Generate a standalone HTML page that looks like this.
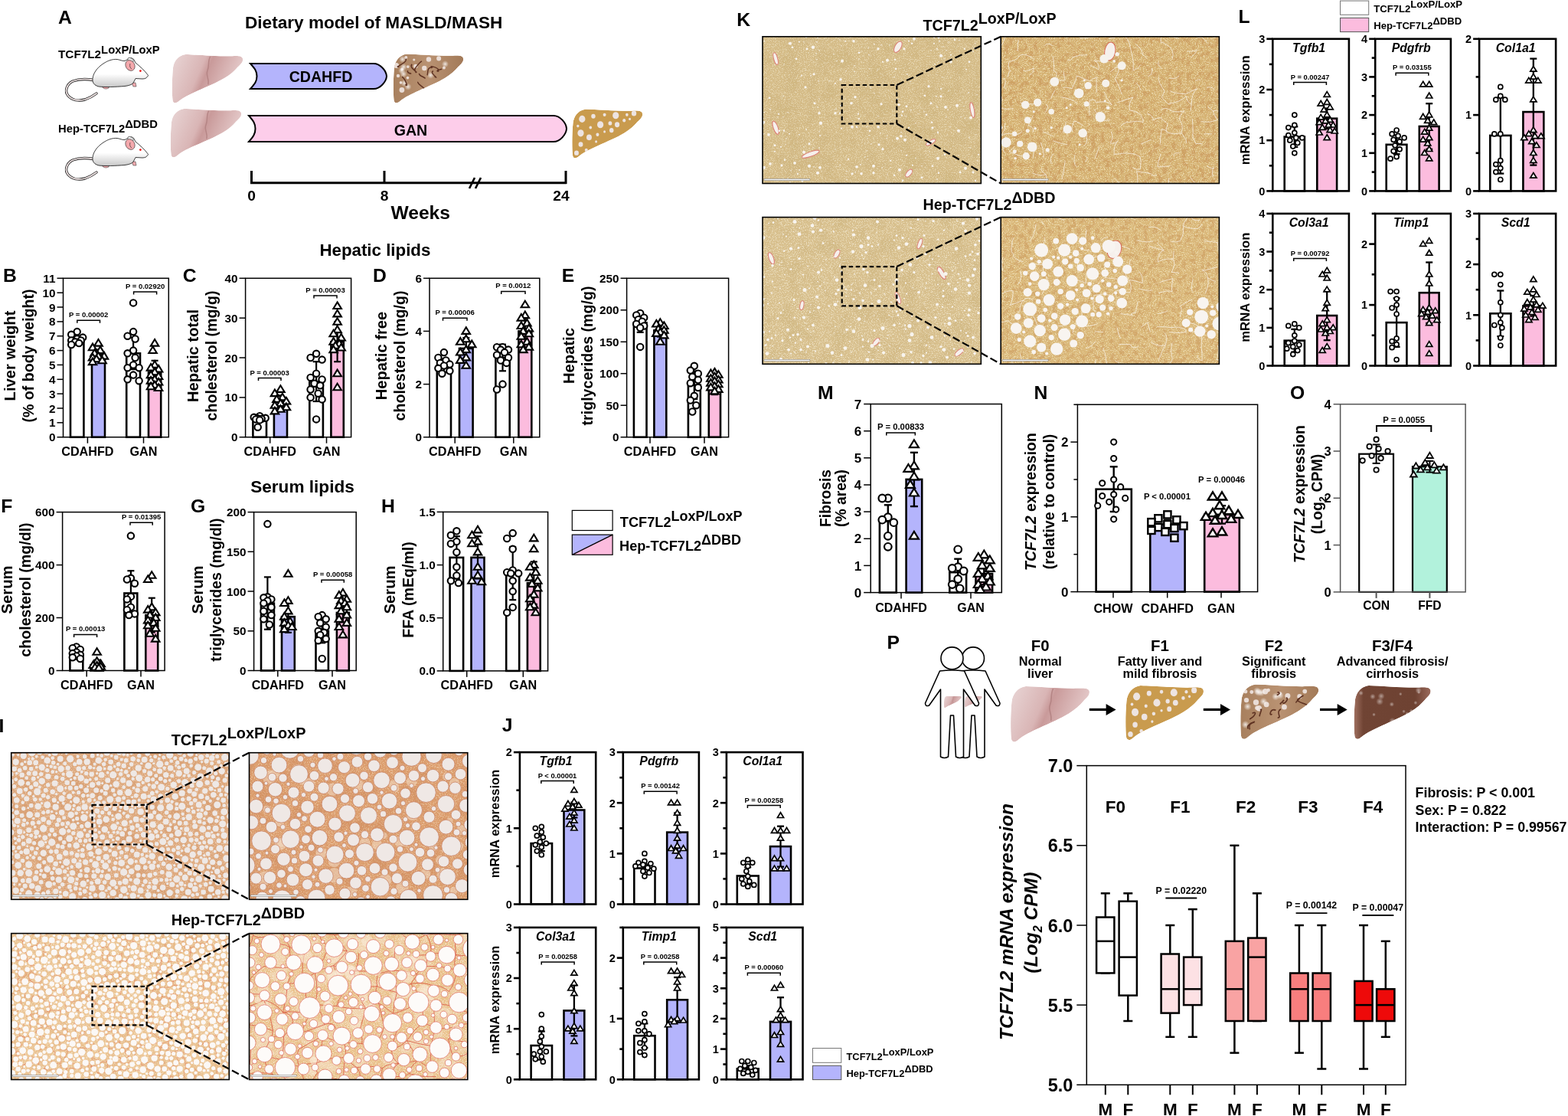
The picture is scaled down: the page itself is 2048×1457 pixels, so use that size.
<!DOCTYPE html><html><head><meta charset="utf-8"><title>Figure</title><style>html,body{margin:0;padding:0;background:#fff;}svg{display:block;}</style></head><body>
<svg width="2048" height="1457" viewBox="0 0 2048 1457" font-family="Liberation Sans, Arial, sans-serif" font-weight="bold">
<rect width="2048" height="1457" fill="#fff"/>
<defs>
<linearGradient id="lvN" x1="0" y1="0" x2="1" y2="0.3"><stop offset="0" stop-color="#e9d6d6"/><stop offset="0.45" stop-color="#d9b5b5"/><stop offset="0.55" stop-color="#c99a9a"/><stop offset="1" stop-color="#e6cccc"/></linearGradient>
<linearGradient id="lvF3" x1="0" y1="0" x2="1" y2="0"><stop offset="0" stop-color="#a07060"/><stop offset="0.12" stop-color="#704434"/><stop offset="0.8" stop-color="#6e4232"/><stop offset="1" stop-color="#9a6a5c"/></linearGradient>
<linearGradient id="lvFib" x1="0" y1="0" x2="1" y2="0"><stop offset="0" stop-color="#a8805e"/><stop offset="0.5" stop-color="#b99272"/><stop offset="1" stop-color="#a37a58"/></linearGradient>
<linearGradient id="mbody" x1="0" y1="0" x2="0" y2="1"><stop offset="0" stop-color="#ffffff"/><stop offset="0.55" stop-color="#ffffff"/><stop offset="1" stop-color="#c8c8c8"/></linearGradient>
<clipPath id="lvclip"><path d="M19,0 C35,0.5 65,3 85,2.5 C93,2 99,2 100,6 C101,11 97,14 93,18 C88,24 82,29 74,34 C64,40 50,46 36,52 C26,56.5 16,61 9,67 C5,70.5 1,70 0.5,65 C-0.5,55 -0.5,35 1,20 C2,10 8,1.5 19,0 Z"/></clipPath>
<radialGradient id="spot"><stop offset="0" stop-color="#ffffff" stop-opacity="0.8"/><stop offset="1" stop-color="#ffffff" stop-opacity="0"/></radialGradient>
<filter id="spk" x="0" y="0" width="1" height="1"><feTurbulence type="fractalNoise" baseFrequency="0.75" numOctaves="2" seed="7" result="n"/><feColorMatrix in="n" values="0 0 0 0 0 0 0 0 0 0 0 0 0 0 0 8 0 0 0 -4.3" result="a"/><feComposite in="SourceGraphic" in2="a" operator="in"/></filter>
<filter id="mot" x="0" y="0" width="1" height="1"><feTurbulence type="fractalNoise" baseFrequency="0.045" numOctaves="3" seed="3" result="n"/><feColorMatrix in="n" values="0 0 0 0 0 0 0 0 0 0 0 0 0 0 0 5 0 0 0 -2.4" result="a"/><feComposite in="SourceGraphic" in2="a" operator="in"/></filter>
<filter id="mot2" x="0" y="0" width="1" height="1"><feTurbulence type="fractalNoise" baseFrequency="0.16" numOctaves="2" seed="9" result="n"/><feColorMatrix in="n" values="0 0 0 0 0 0 0 0 0 0 0 0 0 0 0 7 0 0 0 -3.6" result="a"/><feComposite in="SourceGraphic" in2="a" operator="in"/></filter>
</defs>
<text x="76" y="30.8" font-size="24.7" text-anchor="start" fill="#000">A</text>
<text x="320" y="36.5" font-size="22.6" text-anchor="start" fill="#000">Dietary model of MASLD/MASH</text>
<text x="76" y="75.5" font-size="15.3" text-anchor="start" fill="#000">TCF7L2<tspan dy="-6" font-size="14.8">LoxP/LoxP</tspan></text>
<text x="76" y="172.5" font-size="14.8" text-anchor="start" fill="#000">Hep-TCF7L2<tspan dy="-6" font-size="14.8">&#916;DBD</tspan></text>
<g transform="translate(85,75) scale(1)">
<path d="M37,29.5 C28,28 18,28 10,31 C2,35 -1,44 4,50 C9,56 18,57 26,55 C32,53 37,50 41,47" fill="none" stroke="#222" stroke-width="3.4" stroke-linecap="round"/>
<path d="M37,29.5 C28,28 18,28 10,31 C2,35 -1,44 4,50 C9,56 18,57 26,55 C32,53 37,50 41,47" fill="none" stroke="#eee2e2" stroke-width="1.8" stroke-linecap="round"/>
<path d="M47,36 C49,41 53,42 57,40 L56,36 Z M87,33 L89,38 L93,38 L92,33 Z" fill="#f2aaae" stroke="#444" stroke-width="0.6"/>
<path d="M36,31 C35,22 42,13 50,8 C56,4 62,2 68,2.5 C72,3 75,5 78,4.5 L81,3 C84,0 88,0 90,3 L92,7 C97,11 104,17 108.6,23.5 C107,26.5 105,28 101,28 L92,27.5 C91,30 89.5,32 88.5,34 C86,36 82,37 78,37.5 C66,38.5 52,39 44,38 C40,37 37,35 36,31 Z" fill="url(#mbody)" stroke="#111" stroke-width="0.8"/>
<ellipse cx="85.5" cy="3.5" rx="4.2" ry="2.6" fill="#eeeeee" stroke="#333" stroke-width="0.6" transform="rotate(35 85.5 3.5)"/>
<ellipse cx="85" cy="10.5" rx="5.8" ry="7.2" fill="#f4a8ac" stroke="#333" stroke-width="0.6" transform="rotate(-30 85 10.5)"/>
<path d="M85,8 C84,11 85,14 87,15" fill="none" stroke="#333" stroke-width="0.7"/>
<circle cx="98.4" cy="17.6" r="1.3" fill="#e00"/>
</g>
<g transform="translate(85,178) scale(1)">
<path d="M37,29.5 C28,28 18,28 10,31 C2,35 -1,44 4,50 C9,56 18,57 26,55 C32,53 37,50 41,47" fill="none" stroke="#222" stroke-width="3.4" stroke-linecap="round"/>
<path d="M37,29.5 C28,28 18,28 10,31 C2,35 -1,44 4,50 C9,56 18,57 26,55 C32,53 37,50 41,47" fill="none" stroke="#eee2e2" stroke-width="1.8" stroke-linecap="round"/>
<path d="M47,36 C49,41 53,42 57,40 L56,36 Z M87,33 L89,38 L93,38 L92,33 Z" fill="#f2aaae" stroke="#444" stroke-width="0.6"/>
<path d="M36,31 C35,22 42,13 50,8 C56,4 62,2 68,2.5 C72,3 75,5 78,4.5 L81,3 C84,0 88,0 90,3 L92,7 C97,11 104,17 108.6,23.5 C107,26.5 105,28 101,28 L92,27.5 C91,30 89.5,32 88.5,34 C86,36 82,37 78,37.5 C66,38.5 52,39 44,38 C40,37 37,35 36,31 Z" fill="url(#mbody)" stroke="#111" stroke-width="0.8"/>
<ellipse cx="85.5" cy="3.5" rx="4.2" ry="2.6" fill="#eeeeee" stroke="#333" stroke-width="0.6" transform="rotate(35 85.5 3.5)"/>
<ellipse cx="85" cy="10.5" rx="5.8" ry="7.2" fill="#f4a8ac" stroke="#333" stroke-width="0.6" transform="rotate(-30 85 10.5)"/>
<path d="M85,8 C84,11 85,14 87,15" fill="none" stroke="#333" stroke-width="0.7"/>
<circle cx="98.4" cy="17.6" r="1.3" fill="#e00"/>
</g>
<g transform="translate(225,71) scale(0.9200,0.9143)"><g clip-path="url(#lvclip)">
<path d="M19,0 C35,0.5 65,3 85,2.5 C93,2 99,2 100,6 C101,11 97,14 93,18 C88,24 82,29 74,34 C64,40 50,46 36,52 C26,56.5 16,61 9,67 C5,70.5 1,70 0.5,65 C-0.5,55 -0.5,35 1,20 C2,10 8,1.5 19,0 Z" fill="url(#lvN)"/>
<path d="M54,3 C50,10 53,16 50,23 C47,30 53,35 51,43" fill="none" stroke="#b58585" stroke-width="1.6"/>
</g></g>
<g transform="translate(223,142) scale(0.9200,0.9143)"><g clip-path="url(#lvclip)">
<path d="M19,0 C35,0.5 65,3 85,2.5 C93,2 99,2 100,6 C101,11 97,14 93,18 C88,24 82,29 74,34 C64,40 50,46 36,52 C26,56.5 16,61 9,67 C5,70.5 1,70 0.5,65 C-0.5,55 -0.5,35 1,20 C2,10 8,1.5 19,0 Z" fill="url(#lvN)"/>
<path d="M54,3 C50,10 53,16 50,23 C47,30 53,35 51,43" fill="none" stroke="#b58585" stroke-width="1.6"/>
</g></g>
<path d="M327 83H488C496.5 83 504.5 92.2 505 99.5C504.5 106.8 496.5 116 488 116H327C332.9 109.4 335.5 106.1 335.5 99.5C335.5 92.9 332.9 89.6 327 83Z" fill="#b4b4fc" stroke="#000" stroke-width="2"/>
<path d="M325 151H723C731.5 151 739.5 160.5 740 168C739.5 175.5 731.5 185 723 185H325C330.9 178.2 333.5 174.8 333.5 168C333.5 161.2 330.9 157.8 325 151Z" fill="#fdcdea" stroke="#000" stroke-width="2"/>
<text x="419" y="106.5" font-size="19.6" text-anchor="middle" fill="#000">CDAHFD</text>
<text x="536.5" y="177" font-size="19.6" text-anchor="middle" fill="#000">GAN</text>
<g transform="translate(514,70.5) scale(0.9100,0.9214)"><g clip-path="url(#lvclip)">
<path d="M19,0 C35,0.5 65,3 85,2.5 C93,2 99,2 100,6 C101,11 97,14 93,18 C88,24 82,29 74,34 C64,40 50,46 36,52 C26,56.5 16,61 9,67 C5,70.5 1,70 0.5,65 C-0.5,55 -0.5,35 1,20 C2,10 8,1.5 19,0 Z" fill="url(#lvFib)"/>
<circle cx="20.3" cy="33.7" r="2" fill="#efe6e2" opacity="0.9"/>
<circle cx="12.3" cy="21.6" r="2.1" fill="#efe6e2" opacity="0.9"/>
<circle cx="12" cy="51" r="3.7" fill="#efe6e2" opacity="0.9"/>
<circle cx="65" cy="6.4" r="3.3" fill="#efe6e2" opacity="0.9"/>
<circle cx="17.9" cy="4.9" r="2.2" fill="#efe6e2" opacity="0.9"/>
<circle cx="50.5" cy="7.5" r="3.5" fill="#efe6e2" opacity="0.9"/>
<circle cx="20.7" cy="18" r="2" fill="#efe6e2" opacity="0.9"/>
<circle cx="6.6" cy="30.9" r="2.4" fill="#efe6e2" opacity="0.9"/>
<circle cx="44.2" cy="20.1" r="3.5" fill="#efe6e2" opacity="0.9"/>
<circle cx="31.7" cy="17.3" r="3" fill="#efe6e2" opacity="0.9"/>
<circle cx="29.4" cy="8.1" r="1.7" fill="#efe6e2" opacity="0.9"/>
<circle cx="4" cy="16.2" r="3.8" fill="#efe6e2" opacity="0.9"/>
<circle cx="10.4" cy="40.5" r="2" fill="#efe6e2" opacity="0.9"/>
<circle cx="72.5" cy="19.6" r="2.1" fill="#efe6e2" opacity="0.9"/>
<circle cx="11.7" cy="23.3" r="5" fill="url(#spot)"/>
<circle cx="14.4" cy="18.3" r="5" fill="url(#spot)"/>
<circle cx="12.9" cy="7.5" r="5" fill="url(#spot)"/>
<circle cx="74.1" cy="14.3" r="5" fill="url(#spot)"/>
<circle cx="53.2" cy="30" r="5" fill="url(#spot)"/>
<circle cx="20.8" cy="46.4" r="5" fill="url(#spot)"/>
<circle cx="15.5" cy="41.3" r="5" fill="url(#spot)"/>
<circle cx="14.3" cy="28.4" r="5" fill="url(#spot)"/>
<path d="M69.4 21.4 C62 22.4 60.7 25.4 65.3 24.2" fill="none" stroke="#5e3222" stroke-width="1.6"/>
<path d="M36.5 27.7 C37.8 32.1 40 30.3 45.7 34.5" fill="none" stroke="#5e3222" stroke-width="1.6"/>
<path d="M26.5 14.5 C21 19.9 38.1 27.1 31.2 25.9" fill="none" stroke="#5e3222" stroke-width="1.6"/>
<path d="M40.6 10.2 C35.9 12.6 27 25.7 31.3 21.8" fill="none" stroke="#5e3222" stroke-width="1.6"/>
<path d="M54.9 19.7 C47.1 16.4 49.5 33.1 48.4 28.9" fill="none" stroke="#5e3222" stroke-width="1.6"/>
<path d="M56.4 19 C47.7 16.2 63.7 17.8 64.7 23.1" fill="none" stroke="#5e3222" stroke-width="1.6"/>
<path d="M20.5 23.4 C18 28.1 30.5 28.6 21.9 26.8" fill="none" stroke="#5e3222" stroke-width="1.6"/>
<path d="M17.5 6.8 C21.1 12.3 -0.8 19.5 7.9 17.9" fill="none" stroke="#5e3222" stroke-width="1.6"/>
<path d="M12.2 32.3 C16.4 34.7 22.2 48.3 16.9 43.3" fill="none" stroke="#5e3222" stroke-width="1.6"/>
<path d="M34.9 39.3 C33.4 42.7 49.4 50.8 42.9 50" fill="none" stroke="#5e3222" stroke-width="1.6"/>
<path d="M57.2 24.1 C49.7 25.8 67.8 36.8 58.9 32.2" fill="none" stroke="#5e3222" stroke-width="1.6"/>
</g></g>
<g transform="translate(747.5,142.5) scale(0.9150,0.9214)"><g clip-path="url(#lvclip)">
<path d="M19,0 C35,0.5 65,3 85,2.5 C93,2 99,2 100,6 C101,11 97,14 93,18 C88,24 82,29 74,34 C64,40 50,46 36,52 C26,56.5 16,61 9,67 C5,70.5 1,70 0.5,65 C-0.5,55 -0.5,35 1,20 C2,10 8,1.5 19,0 Z" fill="#c99b4e"/>
<ellipse cx="14" cy="14" rx="4.5" ry="4.95" fill="#ede4e2"/>
<ellipse cx="30" cy="10" rx="3" ry="3.3000000000000003" fill="#ede4e2"/>
<ellipse cx="46" cy="8" rx="2.2" ry="2.4200000000000004" fill="#ede4e2"/>
<ellipse cx="62" cy="9" rx="4.5" ry="4.95" fill="#ede4e2"/>
<ellipse cx="78" cy="8" rx="2" ry="2.2" fill="#ede4e2"/>
<ellipse cx="88" cy="6" rx="3.5" ry="3.8500000000000005" fill="#ede4e2"/>
<ellipse cx="12" cy="34" rx="4.5" ry="4.95" fill="#ede4e2"/>
<ellipse cx="26" cy="26" rx="2" ry="2.2" fill="#ede4e2"/>
<ellipse cx="40" cy="22" rx="4.5" ry="4.95" fill="#ede4e2"/>
<ellipse cx="54" cy="20" rx="2.6" ry="2.8600000000000003" fill="#ede4e2"/>
<ellipse cx="64" cy="22" rx="3.4" ry="3.74" fill="#ede4e2"/>
<ellipse cx="74" cy="16" rx="2.2" ry="2.4200000000000004" fill="#ede4e2"/>
<ellipse cx="12" cy="50" rx="3.2" ry="3.5200000000000005" fill="#ede4e2"/>
<ellipse cx="24" cy="40" rx="3.8" ry="4.18" fill="#ede4e2"/>
<ellipse cx="36" cy="36" rx="2.2" ry="2.4200000000000004" fill="#ede4e2"/>
<ellipse cx="46" cy="32" rx="1.6" ry="1.7600000000000002" fill="#ede4e2"/>
<ellipse cx="20" cy="58" rx="2.2" ry="2.4200000000000004" fill="#ede4e2"/>
<ellipse cx="8" cy="24" rx="1.8" ry="1.9800000000000002" fill="#ede4e2"/>
<ellipse cx="56" cy="30" rx="3.0" ry="3.3000000000000003" fill="#ede4e2"/>
<ellipse cx="82" cy="14" rx="1.6" ry="1.7600000000000002" fill="#ede4e2"/>
<ellipse cx="34" cy="46" rx="1.6" ry="1.7600000000000002" fill="#ede4e2"/>
<ellipse cx="6" cy="62" rx="3.2" ry="3.5200000000000005" fill="#ede4e2"/>
</g></g>
<line x1="327" y1="238.7" x2="740" y2="238.7" stroke="#000" stroke-width="3"/>
<line x1="328.5" y1="223" x2="328.5" y2="240" stroke="#000" stroke-width="3"/>
<line x1="502" y1="223" x2="502" y2="240" stroke="#000" stroke-width="3"/>
<line x1="739" y1="223" x2="739" y2="240" stroke="#000" stroke-width="3"/>
<line x1="613" y1="246" x2="620" y2="232" stroke="#000" stroke-width="2.6"/>
<line x1="621" y1="246" x2="628" y2="232" stroke="#000" stroke-width="2.6"/>
<text x="328.5" y="262" font-size="19.2" text-anchor="middle" fill="#000">0</text>
<text x="502" y="262" font-size="19.2" text-anchor="middle" fill="#000">8</text>
<text x="733" y="262" font-size="19.2" text-anchor="middle" fill="#000">24</text>
<text x="549.2" y="286" font-size="24.6" text-anchor="middle" fill="#000">Weeks</text>
<text x="4.1" y="367.8" font-size="24.7" text-anchor="start" fill="#000">B</text>
<text x="238.8" y="367.8" font-size="24.7" text-anchor="start" fill="#000">C</text>
<text x="487" y="367.8" font-size="24.7" text-anchor="start" fill="#000">D</text>
<text x="733.7" y="367.8" font-size="24.7" text-anchor="start" fill="#000">E</text>
<text x="1.2" y="669.2" font-size="24.7" text-anchor="start" fill="#000">F</text>
<text x="249" y="669.2" font-size="24.7" text-anchor="start" fill="#000">G</text>
<text x="498" y="669.2" font-size="24.7" text-anchor="start" fill="#000">H</text>
<text x="489.9" y="333.8" font-size="22.3" text-anchor="middle" fill="#000">Hepatic lipids</text>
<text x="395" y="642.8" font-size="22.6" text-anchor="middle" fill="#000">Serum lipids</text>
<rect x="92" y="443.4" width="17.4" height="127.3" fill="#fff" stroke="#000" stroke-width="2.6"/>
<rect x="120" y="463.2" width="17" height="107.5" fill="#b4b4fc" stroke="#000" stroke-width="2.6"/>
<rect x="165.2" y="461.3" width="17.8" height="109.4" fill="#fff" stroke="#000" stroke-width="2.6"/>
<rect x="194" y="485.9" width="16.2" height="84.8" fill="#fcbcde" stroke="#000" stroke-width="2.6"/>
<rect x="82.5" y="363.3" width="137.8" height="207.4" fill="none" stroke="#000" stroke-width="1.5"/>
<line x1="74.5" y1="570.7" x2="82.5" y2="570.7" stroke="#000" stroke-width="1.5"/>
<text x="72.5" y="576.2" font-size="15.3" text-anchor="end" fill="#000">0</text>
<line x1="74.5" y1="551.8" x2="82.5" y2="551.8" stroke="#000" stroke-width="1.5"/>
<text x="72.5" y="557.4" font-size="15.3" text-anchor="end" fill="#000">1</text>
<line x1="74.5" y1="533" x2="82.5" y2="533" stroke="#000" stroke-width="1.5"/>
<text x="72.5" y="538.5" font-size="15.3" text-anchor="end" fill="#000">2</text>
<line x1="74.5" y1="514.1" x2="82.5" y2="514.1" stroke="#000" stroke-width="1.5"/>
<text x="72.5" y="519.6" font-size="15.3" text-anchor="end" fill="#000">3</text>
<line x1="74.5" y1="495.3" x2="82.5" y2="495.3" stroke="#000" stroke-width="1.5"/>
<text x="72.5" y="500.8" font-size="15.3" text-anchor="end" fill="#000">4</text>
<line x1="74.5" y1="476.4" x2="82.5" y2="476.4" stroke="#000" stroke-width="1.5"/>
<text x="72.5" y="481.9" font-size="15.3" text-anchor="end" fill="#000">5</text>
<line x1="74.5" y1="457.6" x2="82.5" y2="457.6" stroke="#000" stroke-width="1.5"/>
<text x="72.5" y="463.1" font-size="15.3" text-anchor="end" fill="#000">6</text>
<line x1="74.5" y1="438.7" x2="82.5" y2="438.7" stroke="#000" stroke-width="1.5"/>
<text x="72.5" y="444.2" font-size="15.3" text-anchor="end" fill="#000">7</text>
<line x1="74.5" y1="419.9" x2="82.5" y2="419.9" stroke="#000" stroke-width="1.5"/>
<text x="72.5" y="425.4" font-size="15.3" text-anchor="end" fill="#000">8</text>
<line x1="74.5" y1="401" x2="82.5" y2="401" stroke="#000" stroke-width="1.5"/>
<text x="72.5" y="406.5" font-size="15.3" text-anchor="end" fill="#000">9</text>
<line x1="74.5" y1="382.2" x2="82.5" y2="382.2" stroke="#000" stroke-width="1.5"/>
<text x="72.5" y="387.7" font-size="15.3" text-anchor="end" fill="#000">10</text>
<line x1="74.5" y1="363.3" x2="82.5" y2="363.3" stroke="#000" stroke-width="1.5"/>
<text x="72.5" y="368.8" font-size="15.3" text-anchor="end" fill="#000">11</text>
<line x1="114.4" y1="570.7" x2="114.4" y2="578.7" stroke="#000" stroke-width="1.5"/>
<line x1="187.5" y1="570.7" x2="187.5" y2="578.7" stroke="#000" stroke-width="1.5"/>
<text x="114.4" y="594.6" font-size="16.2" text-anchor="middle" fill="#000">CDAHFD</text>
<text x="187.5" y="594.6" font-size="16.2" text-anchor="middle" fill="#000">GAN</text>
<line x1="100.7" y1="438.7" x2="100.7" y2="448.1" stroke="#000" stroke-width="2.2"/>
<line x1="96.2" y1="438.7" x2="105.2" y2="438.7" stroke="#000" stroke-width="2.2"/>
<line x1="96.2" y1="448.1" x2="105.2" y2="448.1" stroke="#000" stroke-width="2.2"/>
<circle cx="100.7" cy="433.1" r="4.2" fill="#fff" stroke="#000" stroke-width="2.1"/>
<circle cx="93.2" cy="436.8" r="4.2" fill="#fff" stroke="#000" stroke-width="2.1"/>
<circle cx="108.2" cy="440.6" r="4.2" fill="#fff" stroke="#000" stroke-width="2.1"/>
<circle cx="100.7" cy="442.5" r="4.2" fill="#fff" stroke="#000" stroke-width="2.1"/>
<circle cx="93.2" cy="444.4" r="4.2" fill="#fff" stroke="#000" stroke-width="2.1"/>
<circle cx="105.7" cy="444.4" r="4.2" fill="#fff" stroke="#000" stroke-width="2.1"/>
<circle cx="98.2" cy="446.3" r="4.2" fill="#fff" stroke="#000" stroke-width="2.1"/>
<circle cx="103.2" cy="448.1" r="4.2" fill="#fff" stroke="#000" stroke-width="2.1"/>
<circle cx="93.2" cy="450" r="4.2" fill="#fff" stroke="#000" stroke-width="2.1"/>
<line x1="128.5" y1="456.6" x2="128.5" y2="469.8" stroke="#000" stroke-width="2.2"/>
<line x1="124" y1="456.6" x2="133" y2="456.6" stroke="#000" stroke-width="2.2"/>
<line x1="124" y1="469.8" x2="133" y2="469.8" stroke="#000" stroke-width="2.2"/>
<path d="M128.5 443L133.8 451.6L123.2 451.6Z" fill="#fff" stroke="#000" stroke-width="2.1" stroke-linejoin="miter"/>
<path d="M121 448.6L126.2 457.2L115.8 457.2Z" fill="#fff" stroke="#000" stroke-width="2.1" stroke-linejoin="miter"/>
<path d="M131 452.4L136.2 461L125.8 461Z" fill="#fff" stroke="#000" stroke-width="2.1" stroke-linejoin="miter"/>
<path d="M123.5 456.2L128.8 464.8L118.2 464.8Z" fill="#fff" stroke="#000" stroke-width="2.1" stroke-linejoin="miter"/>
<path d="M136 459.9L141.2 468.6L130.8 468.6Z" fill="#fff" stroke="#000" stroke-width="2.1" stroke-linejoin="miter"/>
<path d="M128.5 459.9L133.8 468.6L123.2 468.6Z" fill="#fff" stroke="#000" stroke-width="2.1" stroke-linejoin="miter"/>
<path d="M121 461.8L126.2 470.4L115.8 470.4Z" fill="#fff" stroke="#000" stroke-width="2.1" stroke-linejoin="miter"/>
<path d="M126 463.7L131.2 472.3L120.8 472.3Z" fill="#fff" stroke="#000" stroke-width="2.1" stroke-linejoin="miter"/>
<path d="M133.5 465.6L138.8 474.2L128.2 474.2Z" fill="#fff" stroke="#000" stroke-width="2.1" stroke-linejoin="miter"/>
<path d="M121 467.5L126.2 476.1L115.8 476.1Z" fill="#fff" stroke="#000" stroke-width="2.1" stroke-linejoin="miter"/>
<line x1="174.1" y1="440.6" x2="174.1" y2="482.1" stroke="#000" stroke-width="2.2"/>
<line x1="169.6" y1="440.6" x2="178.6" y2="440.6" stroke="#000" stroke-width="2.2"/>
<line x1="169.6" y1="482.1" x2="178.6" y2="482.1" stroke="#000" stroke-width="2.2"/>
<circle cx="174.1" cy="395.4" r="4.2" fill="#fff" stroke="#000" stroke-width="2.1"/>
<circle cx="174.1" cy="433.1" r="4.2" fill="#fff" stroke="#000" stroke-width="2.1"/>
<circle cx="166.6" cy="438.7" r="4.2" fill="#fff" stroke="#000" stroke-width="2.1"/>
<circle cx="176.6" cy="442.5" r="4.2" fill="#fff" stroke="#000" stroke-width="2.1"/>
<circle cx="174.1" cy="457.6" r="4.2" fill="#fff" stroke="#000" stroke-width="2.1"/>
<circle cx="166.6" cy="461.3" r="4.2" fill="#fff" stroke="#000" stroke-width="2.1"/>
<circle cx="176.6" cy="467" r="4.2" fill="#fff" stroke="#000" stroke-width="2.1"/>
<circle cx="174.1" cy="476.4" r="4.2" fill="#fff" stroke="#000" stroke-width="2.1"/>
<circle cx="166.6" cy="480.2" r="4.2" fill="#fff" stroke="#000" stroke-width="2.1"/>
<circle cx="181.6" cy="480.2" r="4.2" fill="#fff" stroke="#000" stroke-width="2.1"/>
<circle cx="174.1" cy="489.6" r="4.2" fill="#fff" stroke="#000" stroke-width="2.1"/>
<circle cx="166.6" cy="495.3" r="4.2" fill="#fff" stroke="#000" stroke-width="2.1"/>
<circle cx="181.6" cy="497.2" r="4.2" fill="#fff" stroke="#000" stroke-width="2.1"/>
<line x1="202.1" y1="470.8" x2="202.1" y2="500.9" stroke="#000" stroke-width="2.2"/>
<line x1="197.6" y1="470.8" x2="206.6" y2="470.8" stroke="#000" stroke-width="2.2"/>
<line x1="197.6" y1="500.9" x2="206.6" y2="500.9" stroke="#000" stroke-width="2.2"/>
<path d="M202.1 443L207.3 451.6L196.8 451.6Z" fill="#fff" stroke="#000" stroke-width="2.1" stroke-linejoin="miter"/>
<path d="M199.6 452.4L204.8 461L194.3 461Z" fill="#fff" stroke="#000" stroke-width="2.1" stroke-linejoin="miter"/>
<path d="M202.1 471.3L207.3 479.9L196.8 479.9Z" fill="#fff" stroke="#000" stroke-width="2.1" stroke-linejoin="miter"/>
<path d="M197.1 475L202.3 483.6L191.8 483.6Z" fill="#fff" stroke="#000" stroke-width="2.1" stroke-linejoin="miter"/>
<path d="M207.1 476.9L212.3 485.5L201.8 485.5Z" fill="#fff" stroke="#000" stroke-width="2.1" stroke-linejoin="miter"/>
<path d="M202.1 480.7L207.3 489.3L196.8 489.3Z" fill="#fff" stroke="#000" stroke-width="2.1" stroke-linejoin="miter"/>
<path d="M197.1 484.5L202.3 493.1L191.8 493.1Z" fill="#fff" stroke="#000" stroke-width="2.1" stroke-linejoin="miter"/>
<path d="M207.1 486.3L212.3 495L201.8 495Z" fill="#fff" stroke="#000" stroke-width="2.1" stroke-linejoin="miter"/>
<path d="M202.1 490.1L207.3 498.7L196.8 498.7Z" fill="#fff" stroke="#000" stroke-width="2.1" stroke-linejoin="miter"/>
<path d="M197.1 492L202.3 500.6L191.8 500.6Z" fill="#fff" stroke="#000" stroke-width="2.1" stroke-linejoin="miter"/>
<path d="M207.1 493.9L212.3 502.5L201.8 502.5Z" fill="#fff" stroke="#000" stroke-width="2.1" stroke-linejoin="miter"/>
<path d="M202.1 497.7L207.3 506.3L196.8 506.3Z" fill="#fff" stroke="#000" stroke-width="2.1" stroke-linejoin="miter"/>
<path d="M197.1 499.5L202.3 508.2L191.8 508.2Z" fill="#fff" stroke="#000" stroke-width="2.1" stroke-linejoin="miter"/>
<path d="M207.1 501.4L212.3 510L201.8 510Z" fill="#fff" stroke="#000" stroke-width="2.1" stroke-linejoin="miter"/>
<text transform="translate(19.6,464.5) rotate(-90)" font-size="20.2" text-anchor="middle" fill="#000">Liver weight</text>
<text transform="translate(44,464.5) rotate(-90)" font-size="19.6" text-anchor="middle" fill="#000">(% of body weight)</text>
<path d="M100.8 421.8V418.3H130.5V421.8" fill="none" stroke="#000" stroke-width="1.5"/>
<text x="115.7" y="414.3" font-size="9.5" text-anchor="middle" fill="#000">P = 0.00002</text>
<path d="M174.6 384.5V381H204.6V384.5" fill="none" stroke="#000" stroke-width="1.5"/>
<text x="189.6" y="377" font-size="9.5" text-anchor="middle" fill="#000">P = 0.02920</text>
<rect x="330.4" y="546.3" width="17.6" height="24.4" fill="#fff" stroke="#000" stroke-width="2.6"/>
<rect x="357.9" y="524" width="17.1" height="46.7" fill="#b4b4fc" stroke="#000" stroke-width="2.6"/>
<rect x="404.3" y="498.1" width="17.6" height="72.6" fill="#fff" stroke="#000" stroke-width="2.6"/>
<rect x="432.4" y="446.3" width="16.4" height="124.4" fill="#fcbcde" stroke="#000" stroke-width="2.6"/>
<rect x="320.6" y="363.3" width="138" height="207.4" fill="none" stroke="#000" stroke-width="1.5"/>
<line x1="312.6" y1="570.7" x2="320.6" y2="570.7" stroke="#000" stroke-width="1.5"/>
<text x="310.6" y="576.2" font-size="15.3" text-anchor="end" fill="#000">0</text>
<line x1="312.6" y1="518.9" x2="320.6" y2="518.9" stroke="#000" stroke-width="1.5"/>
<text x="310.6" y="524.4" font-size="15.3" text-anchor="end" fill="#000">10</text>
<line x1="312.6" y1="467" x2="320.6" y2="467" stroke="#000" stroke-width="1.5"/>
<text x="310.6" y="472.5" font-size="15.3" text-anchor="end" fill="#000">20</text>
<line x1="312.6" y1="415.2" x2="320.6" y2="415.2" stroke="#000" stroke-width="1.5"/>
<text x="310.6" y="420.7" font-size="15.3" text-anchor="end" fill="#000">30</text>
<line x1="312.6" y1="363.3" x2="320.6" y2="363.3" stroke="#000" stroke-width="1.5"/>
<text x="310.6" y="368.8" font-size="15.3" text-anchor="end" fill="#000">40</text>
<line x1="352.7" y1="570.7" x2="352.7" y2="578.7" stroke="#000" stroke-width="1.5"/>
<line x1="426.5" y1="570.7" x2="426.5" y2="578.7" stroke="#000" stroke-width="1.5"/>
<text x="352.7" y="594.6" font-size="16.2" text-anchor="middle" fill="#000">CDAHFD</text>
<text x="426.5" y="594.6" font-size="16.2" text-anchor="middle" fill="#000">GAN</text>
<line x1="339.2" y1="542.2" x2="339.2" y2="550.5" stroke="#000" stroke-width="2.2"/>
<line x1="334.7" y1="542.2" x2="343.7" y2="542.2" stroke="#000" stroke-width="2.2"/>
<line x1="334.7" y1="550.5" x2="343.7" y2="550.5" stroke="#000" stroke-width="2.2"/>
<circle cx="339.2" cy="543.2" r="4.2" fill="#fff" stroke="#000" stroke-width="2.1"/>
<circle cx="331.7" cy="544.8" r="4.2" fill="#fff" stroke="#000" stroke-width="2.1"/>
<circle cx="346.7" cy="545.8" r="4.2" fill="#fff" stroke="#000" stroke-width="2.1"/>
<circle cx="336.7" cy="546.3" r="4.2" fill="#fff" stroke="#000" stroke-width="2.1"/>
<circle cx="341.7" cy="546.8" r="4.2" fill="#fff" stroke="#000" stroke-width="2.1"/>
<circle cx="334.2" cy="547.4" r="4.2" fill="#fff" stroke="#000" stroke-width="2.1"/>
<circle cx="339.2" cy="548.4" r="4.2" fill="#fff" stroke="#000" stroke-width="2.1"/>
<circle cx="336.7" cy="557.7" r="4.2" fill="#fff" stroke="#000" stroke-width="2.1"/>
<line x1="366.4" y1="516.3" x2="366.4" y2="531.8" stroke="#000" stroke-width="2.2"/>
<line x1="361.9" y1="516.3" x2="370.9" y2="516.3" stroke="#000" stroke-width="2.2"/>
<line x1="361.9" y1="531.8" x2="370.9" y2="531.8" stroke="#000" stroke-width="2.2"/>
<path d="M366.4 503.3L371.7 511.9L361.2 511.9Z" fill="#fff" stroke="#000" stroke-width="2.1" stroke-linejoin="miter"/>
<path d="M358.9 508.5L364.2 517.1L353.7 517.1Z" fill="#fff" stroke="#000" stroke-width="2.1" stroke-linejoin="miter"/>
<path d="M368.9 513.7L374.2 522.3L363.7 522.3Z" fill="#fff" stroke="#000" stroke-width="2.1" stroke-linejoin="miter"/>
<path d="M361.4 516.3L366.7 524.9L356.2 524.9Z" fill="#fff" stroke="#000" stroke-width="2.1" stroke-linejoin="miter"/>
<path d="M373.9 518.9L379.2 527.5L368.7 527.5Z" fill="#fff" stroke="#000" stroke-width="2.1" stroke-linejoin="miter"/>
<path d="M366.4 521.5L371.7 530.1L361.2 530.1Z" fill="#fff" stroke="#000" stroke-width="2.1" stroke-linejoin="miter"/>
<path d="M358.9 524.1L364.2 532.7L353.7 532.7Z" fill="#fff" stroke="#000" stroke-width="2.1" stroke-linejoin="miter"/>
<path d="M373.9 526.6L379.2 535.3L368.7 535.3Z" fill="#fff" stroke="#000" stroke-width="2.1" stroke-linejoin="miter"/>
<path d="M366.4 529.2L371.7 537.8L361.2 537.8Z" fill="#fff" stroke="#000" stroke-width="2.1" stroke-linejoin="miter"/>
<path d="M358.9 531.8L364.2 540.4L353.7 540.4Z" fill="#fff" stroke="#000" stroke-width="2.1" stroke-linejoin="miter"/>
<line x1="413.1" y1="472.2" x2="413.1" y2="524" stroke="#000" stroke-width="2.2"/>
<line x1="408.6" y1="472.2" x2="417.6" y2="472.2" stroke="#000" stroke-width="2.2"/>
<line x1="408.6" y1="524" x2="417.6" y2="524" stroke="#000" stroke-width="2.2"/>
<circle cx="413.1" cy="461.8" r="4.2" fill="#fff" stroke="#000" stroke-width="2.1"/>
<circle cx="405.6" cy="467" r="4.2" fill="#fff" stroke="#000" stroke-width="2.1"/>
<circle cx="420.6" cy="469.6" r="4.2" fill="#fff" stroke="#000" stroke-width="2.1"/>
<circle cx="413.1" cy="487.7" r="4.2" fill="#fff" stroke="#000" stroke-width="2.1"/>
<circle cx="405.6" cy="492.9" r="4.2" fill="#fff" stroke="#000" stroke-width="2.1"/>
<circle cx="420.6" cy="495.5" r="4.2" fill="#fff" stroke="#000" stroke-width="2.1"/>
<circle cx="410.6" cy="500.7" r="4.2" fill="#fff" stroke="#000" stroke-width="2.1"/>
<circle cx="418.1" cy="503.3" r="4.2" fill="#fff" stroke="#000" stroke-width="2.1"/>
<circle cx="405.6" cy="508.5" r="4.2" fill="#fff" stroke="#000" stroke-width="2.1"/>
<circle cx="415.6" cy="513.7" r="4.2" fill="#fff" stroke="#000" stroke-width="2.1"/>
<circle cx="405.6" cy="518.9" r="4.2" fill="#fff" stroke="#000" stroke-width="2.1"/>
<circle cx="420.6" cy="521.4" r="4.2" fill="#fff" stroke="#000" stroke-width="2.1"/>
<circle cx="413.1" cy="547.4" r="4.2" fill="#fff" stroke="#000" stroke-width="2.1"/>
<line x1="440.6" y1="420.3" x2="440.6" y2="472.2" stroke="#000" stroke-width="2.2"/>
<line x1="436.1" y1="420.3" x2="445.1" y2="420.3" stroke="#000" stroke-width="2.2"/>
<line x1="436.1" y1="472.2" x2="445.1" y2="472.2" stroke="#000" stroke-width="2.2"/>
<path d="M440.6 394.4L445.9 403L435.4 403Z" fill="#fff" stroke="#000" stroke-width="2.1" stroke-linejoin="miter"/>
<path d="M440.6 404.8L445.9 413.4L435.4 413.4Z" fill="#fff" stroke="#000" stroke-width="2.1" stroke-linejoin="miter"/>
<path d="M440.6 415.2L445.9 423.8L435.4 423.8Z" fill="#fff" stroke="#000" stroke-width="2.1" stroke-linejoin="miter"/>
<path d="M440.6 425.5L445.9 434.1L435.4 434.1Z" fill="#fff" stroke="#000" stroke-width="2.1" stroke-linejoin="miter"/>
<path d="M435.6 430.7L440.9 439.3L430.4 439.3Z" fill="#fff" stroke="#000" stroke-width="2.1" stroke-linejoin="miter"/>
<path d="M445.6 435.9L450.9 444.5L440.4 444.5Z" fill="#fff" stroke="#000" stroke-width="2.1" stroke-linejoin="miter"/>
<path d="M435.6 441.1L440.9 449.7L430.4 449.7Z" fill="#fff" stroke="#000" stroke-width="2.1" stroke-linejoin="miter"/>
<path d="M443.1 443.7L448.4 452.3L437.9 452.3Z" fill="#fff" stroke="#000" stroke-width="2.1" stroke-linejoin="miter"/>
<path d="M438.1 446.3L443.4 454.9L432.9 454.9Z" fill="#fff" stroke="#000" stroke-width="2.1" stroke-linejoin="miter"/>
<path d="M445.6 448.9L450.9 457.5L440.4 457.5Z" fill="#fff" stroke="#000" stroke-width="2.1" stroke-linejoin="miter"/>
<path d="M435.6 451.5L440.9 460.1L430.4 460.1Z" fill="#fff" stroke="#000" stroke-width="2.1" stroke-linejoin="miter"/>
<path d="M440.6 482.6L445.9 491.2L435.4 491.2Z" fill="#fff" stroke="#000" stroke-width="2.1" stroke-linejoin="miter"/>
<path d="M440.6 500.7L445.9 509.3L435.4 509.3Z" fill="#fff" stroke="#000" stroke-width="2.1" stroke-linejoin="miter"/>
<text transform="translate(259,464.5) rotate(-90)" font-size="20.2" text-anchor="middle" fill="#000">Hepatic total</text>
<text transform="translate(283.4,464.5) rotate(-90)" font-size="19.6" text-anchor="middle" fill="#000">cholesterol (mg/g)</text>
<path d="M337.5 497V493.5H367V497" fill="none" stroke="#000" stroke-width="1.5"/>
<text x="352.2" y="489.5" font-size="9.5" text-anchor="middle" fill="#000">P = 0.00003</text>
<path d="M410 389.5V386H440V389.5" fill="none" stroke="#000" stroke-width="1.5"/>
<text x="425" y="382" font-size="9.5" text-anchor="middle" fill="#000">P = 0.00003</text>
<rect x="570.8" y="477.4" width="18.2" height="93.3" fill="#fff" stroke="#000" stroke-width="2.6"/>
<rect x="600" y="454.9" width="17.6" height="115.8" fill="#b4b4fc" stroke="#000" stroke-width="2.6"/>
<rect x="647.4" y="467" width="18.3" height="103.7" fill="#fff" stroke="#000" stroke-width="2.6"/>
<rect x="677.4" y="432.4" width="16.9" height="138.3" fill="#fcbcde" stroke="#000" stroke-width="2.6"/>
<rect x="561" y="363.3" width="143.8" height="207.4" fill="none" stroke="#000" stroke-width="1.5"/>
<line x1="553" y1="570.7" x2="561" y2="570.7" stroke="#000" stroke-width="1.5"/>
<text x="551" y="576.2" font-size="15.3" text-anchor="end" fill="#000">0</text>
<line x1="553" y1="501.6" x2="561" y2="501.6" stroke="#000" stroke-width="1.5"/>
<text x="551" y="507.1" font-size="15.3" text-anchor="end" fill="#000">2</text>
<line x1="553" y1="432.4" x2="561" y2="432.4" stroke="#000" stroke-width="1.5"/>
<text x="551" y="437.9" font-size="15.3" text-anchor="end" fill="#000">4</text>
<line x1="553" y1="363.3" x2="561" y2="363.3" stroke="#000" stroke-width="1.5"/>
<text x="551" y="368.8" font-size="15.3" text-anchor="end" fill="#000">6</text>
<line x1="594.2" y1="570.7" x2="594.2" y2="578.7" stroke="#000" stroke-width="1.5"/>
<line x1="670.8" y1="570.7" x2="670.8" y2="578.7" stroke="#000" stroke-width="1.5"/>
<text x="594.2" y="594.6" font-size="16.2" text-anchor="middle" fill="#000">CDAHFD</text>
<text x="670.8" y="594.6" font-size="16.2" text-anchor="middle" fill="#000">GAN</text>
<line x1="579.9" y1="468.7" x2="579.9" y2="486" stroke="#000" stroke-width="2.2"/>
<line x1="575.4" y1="468.7" x2="584.4" y2="468.7" stroke="#000" stroke-width="2.2"/>
<line x1="575.4" y1="486" x2="584.4" y2="486" stroke="#000" stroke-width="2.2"/>
<circle cx="579.9" cy="460.1" r="4.2" fill="#fff" stroke="#000" stroke-width="2.1"/>
<circle cx="572.4" cy="467" r="4.2" fill="#fff" stroke="#000" stroke-width="2.1"/>
<circle cx="582.4" cy="470.5" r="4.2" fill="#fff" stroke="#000" stroke-width="2.1"/>
<circle cx="574.9" cy="473.9" r="4.2" fill="#fff" stroke="#000" stroke-width="2.1"/>
<circle cx="587.4" cy="475.6" r="4.2" fill="#fff" stroke="#000" stroke-width="2.1"/>
<circle cx="579.9" cy="477.4" r="4.2" fill="#fff" stroke="#000" stroke-width="2.1"/>
<circle cx="572.4" cy="480.8" r="4.2" fill="#fff" stroke="#000" stroke-width="2.1"/>
<circle cx="587.4" cy="484.3" r="4.2" fill="#fff" stroke="#000" stroke-width="2.1"/>
<circle cx="577.4" cy="487.7" r="4.2" fill="#fff" stroke="#000" stroke-width="2.1"/>
<line x1="608.8" y1="441.1" x2="608.8" y2="468.7" stroke="#000" stroke-width="2.2"/>
<line x1="604.3" y1="441.1" x2="613.3" y2="441.1" stroke="#000" stroke-width="2.2"/>
<line x1="604.3" y1="468.7" x2="613.3" y2="468.7" stroke="#000" stroke-width="2.2"/>
<path d="M608.8 427.3L614 435.9L603.5 435.9Z" fill="#fff" stroke="#000" stroke-width="2.1" stroke-linejoin="miter"/>
<path d="M608.8 437.6L614 446.2L603.5 446.2Z" fill="#fff" stroke="#000" stroke-width="2.1" stroke-linejoin="miter"/>
<path d="M601.3 441.1L606.5 449.7L596 449.7Z" fill="#fff" stroke="#000" stroke-width="2.1" stroke-linejoin="miter"/>
<path d="M616.3 444.6L621.5 453.2L611 453.2Z" fill="#fff" stroke="#000" stroke-width="2.1" stroke-linejoin="miter"/>
<path d="M608.8 451.5L614 460.1L603.5 460.1Z" fill="#fff" stroke="#000" stroke-width="2.1" stroke-linejoin="miter"/>
<path d="M601.3 454.9L606.5 463.5L596 463.5Z" fill="#fff" stroke="#000" stroke-width="2.1" stroke-linejoin="miter"/>
<path d="M608.8 461.8L614 470.4L603.5 470.4Z" fill="#fff" stroke="#000" stroke-width="2.1" stroke-linejoin="miter"/>
<path d="M601.3 465.3L606.5 473.9L596 473.9Z" fill="#fff" stroke="#000" stroke-width="2.1" stroke-linejoin="miter"/>
<path d="M608.8 472.2L614 480.8L603.5 480.8Z" fill="#fff" stroke="#000" stroke-width="2.1" stroke-linejoin="miter"/>
<line x1="656.5" y1="449.7" x2="656.5" y2="484.3" stroke="#000" stroke-width="2.2"/>
<line x1="652" y1="449.7" x2="661" y2="449.7" stroke="#000" stroke-width="2.2"/>
<line x1="652" y1="484.3" x2="661" y2="484.3" stroke="#000" stroke-width="2.2"/>
<circle cx="656.5" cy="453.2" r="4.2" fill="#fff" stroke="#000" stroke-width="2.1"/>
<circle cx="649" cy="453.2" r="4.2" fill="#fff" stroke="#000" stroke-width="2.1"/>
<circle cx="664" cy="456.6" r="4.2" fill="#fff" stroke="#000" stroke-width="2.1"/>
<circle cx="654" cy="456.6" r="4.2" fill="#fff" stroke="#000" stroke-width="2.1"/>
<circle cx="659" cy="460.1" r="4.2" fill="#fff" stroke="#000" stroke-width="2.1"/>
<circle cx="649" cy="463.5" r="4.2" fill="#fff" stroke="#000" stroke-width="2.1"/>
<circle cx="664" cy="467" r="4.2" fill="#fff" stroke="#000" stroke-width="2.1"/>
<circle cx="654" cy="470.5" r="4.2" fill="#fff" stroke="#000" stroke-width="2.1"/>
<circle cx="661.5" cy="473.9" r="4.2" fill="#fff" stroke="#000" stroke-width="2.1"/>
<circle cx="656.5" cy="501.6" r="4.2" fill="#fff" stroke="#000" stroke-width="2.1"/>
<circle cx="649" cy="508.5" r="4.2" fill="#fff" stroke="#000" stroke-width="2.1"/>
<line x1="685.8" y1="415.1" x2="685.8" y2="449.7" stroke="#000" stroke-width="2.2"/>
<line x1="681.3" y1="415.1" x2="690.3" y2="415.1" stroke="#000" stroke-width="2.2"/>
<line x1="681.3" y1="449.7" x2="690.3" y2="449.7" stroke="#000" stroke-width="2.2"/>
<path d="M685.8 392.7L691.1 401.3L680.6 401.3Z" fill="#fff" stroke="#000" stroke-width="2.1" stroke-linejoin="miter"/>
<path d="M685.8 406.5L691.1 415.1L680.6 415.1Z" fill="#fff" stroke="#000" stroke-width="2.1" stroke-linejoin="miter"/>
<path d="M680.8 410L686.1 418.6L675.6 418.6Z" fill="#fff" stroke="#000" stroke-width="2.1" stroke-linejoin="miter"/>
<path d="M688.3 416.9L693.6 425.5L683.1 425.5Z" fill="#fff" stroke="#000" stroke-width="2.1" stroke-linejoin="miter"/>
<path d="M680.8 420.4L686.1 429L675.6 429Z" fill="#fff" stroke="#000" stroke-width="2.1" stroke-linejoin="miter"/>
<path d="M690.8 423.8L696.1 432.4L685.6 432.4Z" fill="#fff" stroke="#000" stroke-width="2.1" stroke-linejoin="miter"/>
<path d="M683.3 427.3L688.6 435.9L678.1 435.9Z" fill="#fff" stroke="#000" stroke-width="2.1" stroke-linejoin="miter"/>
<path d="M690.8 430.7L696.1 439.3L685.6 439.3Z" fill="#fff" stroke="#000" stroke-width="2.1" stroke-linejoin="miter"/>
<path d="M680.8 434.2L686.1 442.8L675.6 442.8Z" fill="#fff" stroke="#000" stroke-width="2.1" stroke-linejoin="miter"/>
<path d="M688.3 441.1L693.6 449.7L683.1 449.7Z" fill="#fff" stroke="#000" stroke-width="2.1" stroke-linejoin="miter"/>
<path d="M680.8 444.6L686.1 453.2L675.6 453.2Z" fill="#fff" stroke="#000" stroke-width="2.1" stroke-linejoin="miter"/>
<path d="M690.8 448L696.1 456.6L685.6 456.6Z" fill="#fff" stroke="#000" stroke-width="2.1" stroke-linejoin="miter"/>
<path d="M683.3 451.5L688.6 460.1L678.1 460.1Z" fill="#fff" stroke="#000" stroke-width="2.1" stroke-linejoin="miter"/>
<text transform="translate(505,464.5) rotate(-90)" font-size="20.2" text-anchor="middle" fill="#000">Hepatic free</text>
<text transform="translate(529.4,464.5) rotate(-90)" font-size="19.6" text-anchor="middle" fill="#000">cholesterol (mg/g)</text>
<path d="M578.5 418.8V415.3H610V418.8" fill="none" stroke="#000" stroke-width="1.5"/>
<text x="594.2" y="411.3" font-size="9.5" text-anchor="middle" fill="#000">P = 0.00006</text>
<path d="M654.7 383.9V380.4H686V383.9" fill="none" stroke="#000" stroke-width="1.5"/>
<text x="670.4" y="376.4" font-size="9.5" text-anchor="middle" fill="#000">P = 0.0012</text>
<rect x="827.9" y="421.4" width="16.6" height="149.3" fill="#fff" stroke="#000" stroke-width="2.6"/>
<rect x="854.4" y="431.3" width="15.9" height="139.4" fill="#b4b4fc" stroke="#000" stroke-width="2.6"/>
<rect x="898.9" y="502.7" width="15.9" height="68" fill="#fff" stroke="#000" stroke-width="2.6"/>
<rect x="925.8" y="508.5" width="15.2" height="62.2" fill="#fcbcde" stroke="#000" stroke-width="2.6"/>
<rect x="818.6" y="363.3" width="133" height="207.4" fill="none" stroke="#000" stroke-width="1.5"/>
<line x1="810.6" y1="570.7" x2="818.6" y2="570.7" stroke="#000" stroke-width="1.5"/>
<text x="808.6" y="576.2" font-size="15.3" text-anchor="end" fill="#000">0</text>
<line x1="810.6" y1="529.2" x2="818.6" y2="529.2" stroke="#000" stroke-width="1.5"/>
<text x="808.6" y="534.7" font-size="15.3" text-anchor="end" fill="#000">50</text>
<line x1="810.6" y1="487.7" x2="818.6" y2="487.7" stroke="#000" stroke-width="1.5"/>
<text x="808.6" y="493.2" font-size="15.3" text-anchor="end" fill="#000">100</text>
<line x1="810.6" y1="446.3" x2="818.6" y2="446.3" stroke="#000" stroke-width="1.5"/>
<text x="808.6" y="451.8" font-size="15.3" text-anchor="end" fill="#000">150</text>
<line x1="810.6" y1="404.8" x2="818.6" y2="404.8" stroke="#000" stroke-width="1.5"/>
<text x="808.6" y="410.3" font-size="15.3" text-anchor="end" fill="#000">200</text>
<line x1="810.6" y1="363.3" x2="818.6" y2="363.3" stroke="#000" stroke-width="1.5"/>
<text x="808.6" y="368.8" font-size="15.3" text-anchor="end" fill="#000">250</text>
<line x1="849" y1="570.7" x2="849" y2="578.7" stroke="#000" stroke-width="1.5"/>
<line x1="920" y1="570.7" x2="920" y2="578.7" stroke="#000" stroke-width="1.5"/>
<text x="849" y="594.6" font-size="16.2" text-anchor="middle" fill="#000">CDAHFD</text>
<text x="920" y="594.6" font-size="16.2" text-anchor="middle" fill="#000">GAN</text>
<line x1="836.2" y1="408.9" x2="836.2" y2="433.8" stroke="#000" stroke-width="2.2"/>
<line x1="831.7" y1="408.9" x2="840.7" y2="408.9" stroke="#000" stroke-width="2.2"/>
<line x1="831.7" y1="433.8" x2="840.7" y2="433.8" stroke="#000" stroke-width="2.2"/>
<circle cx="836.2" cy="408.9" r="4.2" fill="#fff" stroke="#000" stroke-width="2.1"/>
<circle cx="831.2" cy="411.4" r="4.2" fill="#fff" stroke="#000" stroke-width="2.1"/>
<circle cx="841.2" cy="414.7" r="4.2" fill="#fff" stroke="#000" stroke-width="2.1"/>
<circle cx="833.7" cy="417.2" r="4.2" fill="#fff" stroke="#000" stroke-width="2.1"/>
<circle cx="838.7" cy="419.7" r="4.2" fill="#fff" stroke="#000" stroke-width="2.1"/>
<circle cx="831.2" cy="423" r="4.2" fill="#fff" stroke="#000" stroke-width="2.1"/>
<circle cx="841.2" cy="425.5" r="4.2" fill="#fff" stroke="#000" stroke-width="2.1"/>
<circle cx="836.2" cy="428" r="4.2" fill="#fff" stroke="#000" stroke-width="2.1"/>
<circle cx="836.2" cy="452.9" r="4.2" fill="#fff" stroke="#000" stroke-width="2.1"/>
<line x1="862.3" y1="423" x2="862.3" y2="439.6" stroke="#000" stroke-width="2.2"/>
<line x1="857.8" y1="423" x2="866.8" y2="423" stroke="#000" stroke-width="2.2"/>
<line x1="857.8" y1="439.6" x2="866.8" y2="439.6" stroke="#000" stroke-width="2.2"/>
<path d="M862.3 416.2L867.6 424.8L857.1 424.8Z" fill="#fff" stroke="#000" stroke-width="2.1" stroke-linejoin="miter"/>
<path d="M857.3 417.9L862.6 426.5L852.1 426.5Z" fill="#fff" stroke="#000" stroke-width="2.1" stroke-linejoin="miter"/>
<path d="M867.3 420.4L872.6 429L862.1 429Z" fill="#fff" stroke="#000" stroke-width="2.1" stroke-linejoin="miter"/>
<path d="M859.8 424.5L865.1 433.1L854.6 433.1Z" fill="#fff" stroke="#000" stroke-width="2.1" stroke-linejoin="miter"/>
<path d="M867.3 426.2L872.6 434.8L862.1 434.8Z" fill="#fff" stroke="#000" stroke-width="2.1" stroke-linejoin="miter"/>
<path d="M862.3 428.7L867.6 437.3L857.1 437.3Z" fill="#fff" stroke="#000" stroke-width="2.1" stroke-linejoin="miter"/>
<path d="M857.3 430.3L862.6 438.9L852.1 438.9Z" fill="#fff" stroke="#000" stroke-width="2.1" stroke-linejoin="miter"/>
<path d="M867.3 432.8L872.6 441.4L862.1 441.4Z" fill="#fff" stroke="#000" stroke-width="2.1" stroke-linejoin="miter"/>
<path d="M862.3 441.1L867.6 449.7L857.1 449.7Z" fill="#fff" stroke="#000" stroke-width="2.1" stroke-linejoin="miter"/>
<line x1="906.8" y1="484.4" x2="906.8" y2="520.9" stroke="#000" stroke-width="2.2"/>
<line x1="902.3" y1="484.4" x2="911.3" y2="484.4" stroke="#000" stroke-width="2.2"/>
<line x1="902.3" y1="520.9" x2="911.3" y2="520.9" stroke="#000" stroke-width="2.2"/>
<circle cx="906.8" cy="477.8" r="4.2" fill="#fff" stroke="#000" stroke-width="2.1"/>
<circle cx="901.8" cy="483.6" r="4.2" fill="#fff" stroke="#000" stroke-width="2.1"/>
<circle cx="911.8" cy="487.7" r="4.2" fill="#fff" stroke="#000" stroke-width="2.1"/>
<circle cx="904.3" cy="491.9" r="4.2" fill="#fff" stroke="#000" stroke-width="2.1"/>
<circle cx="911.8" cy="496" r="4.2" fill="#fff" stroke="#000" stroke-width="2.1"/>
<circle cx="901.8" cy="500.2" r="4.2" fill="#fff" stroke="#000" stroke-width="2.1"/>
<circle cx="911.8" cy="506" r="4.2" fill="#fff" stroke="#000" stroke-width="2.1"/>
<circle cx="906.8" cy="516.8" r="4.2" fill="#fff" stroke="#000" stroke-width="2.1"/>
<circle cx="901.8" cy="522.6" r="4.2" fill="#fff" stroke="#000" stroke-width="2.1"/>
<circle cx="909.3" cy="529.2" r="4.2" fill="#fff" stroke="#000" stroke-width="2.1"/>
<circle cx="904.3" cy="537.5" r="4.2" fill="#fff" stroke="#000" stroke-width="2.1"/>
<line x1="933.4" y1="501.8" x2="933.4" y2="515.1" stroke="#000" stroke-width="2.2"/>
<line x1="928.9" y1="501.8" x2="937.9" y2="501.8" stroke="#000" stroke-width="2.2"/>
<line x1="928.9" y1="515.1" x2="937.9" y2="515.1" stroke="#000" stroke-width="2.2"/>
<path d="M933.4 480.9L938.6 489.5L928.1 489.5Z" fill="#fff" stroke="#000" stroke-width="2.1" stroke-linejoin="miter"/>
<path d="M928.4 482.6L933.6 491.2L923.1 491.2Z" fill="#fff" stroke="#000" stroke-width="2.1" stroke-linejoin="miter"/>
<path d="M938.4 484.2L943.6 492.8L933.1 492.8Z" fill="#fff" stroke="#000" stroke-width="2.1" stroke-linejoin="miter"/>
<path d="M933.4 486.7L938.6 495.3L928.1 495.3Z" fill="#fff" stroke="#000" stroke-width="2.1" stroke-linejoin="miter"/>
<path d="M928.4 489.2L933.6 497.8L923.1 497.8Z" fill="#fff" stroke="#000" stroke-width="2.1" stroke-linejoin="miter"/>
<path d="M938.4 490.9L943.6 499.5L933.1 499.5Z" fill="#fff" stroke="#000" stroke-width="2.1" stroke-linejoin="miter"/>
<path d="M933.4 492.5L938.6 501.1L928.1 501.1Z" fill="#fff" stroke="#000" stroke-width="2.1" stroke-linejoin="miter"/>
<path d="M928.4 495L933.6 503.6L923.1 503.6Z" fill="#fff" stroke="#000" stroke-width="2.1" stroke-linejoin="miter"/>
<path d="M938.4 496.7L943.6 505.3L933.1 505.3Z" fill="#fff" stroke="#000" stroke-width="2.1" stroke-linejoin="miter"/>
<path d="M933.4 499.2L938.6 507.8L928.1 507.8Z" fill="#fff" stroke="#000" stroke-width="2.1" stroke-linejoin="miter"/>
<path d="M928.4 500.8L933.6 509.4L923.1 509.4Z" fill="#fff" stroke="#000" stroke-width="2.1" stroke-linejoin="miter"/>
<path d="M938.4 503.3L943.6 511.9L933.1 511.9Z" fill="#fff" stroke="#000" stroke-width="2.1" stroke-linejoin="miter"/>
<path d="M933.4 505.8L938.6 514.4L928.1 514.4Z" fill="#fff" stroke="#000" stroke-width="2.1" stroke-linejoin="miter"/>
<text transform="translate(750,464.5) rotate(-90)" font-size="20.2" text-anchor="middle" fill="#000">Hepatic</text>
<text transform="translate(774.4,464.5) rotate(-90)" font-size="19.6" text-anchor="middle" fill="#000">triglycerides (mg/g)</text>
<rect x="91.4" y="854.8" width="16.9" height="20.7" fill="#fff" stroke="#000" stroke-width="2.6"/>
<rect x="118.4" y="868.6" width="16.4" height="6.9" fill="#b4b4fc" stroke="#000" stroke-width="2.6"/>
<rect x="162.4" y="774.5" width="16.9" height="101" fill="#fff" stroke="#000" stroke-width="2.6"/>
<rect x="190.3" y="803.1" width="15.9" height="72.4" fill="#fcbcde" stroke="#000" stroke-width="2.6"/>
<rect x="81.6" y="668.6" width="133.5" height="206.9" fill="none" stroke="#000" stroke-width="1.5"/>
<line x1="73.6" y1="875.5" x2="81.6" y2="875.5" stroke="#000" stroke-width="1.5"/>
<text x="71.6" y="881" font-size="15.3" text-anchor="end" fill="#000">0</text>
<line x1="73.6" y1="806.5" x2="81.6" y2="806.5" stroke="#000" stroke-width="1.5"/>
<text x="71.6" y="812" font-size="15.3" text-anchor="end" fill="#000">200</text>
<line x1="73.6" y1="737.6" x2="81.6" y2="737.6" stroke="#000" stroke-width="1.5"/>
<text x="71.6" y="743.1" font-size="15.3" text-anchor="end" fill="#000">400</text>
<line x1="73.6" y1="668.6" x2="81.6" y2="668.6" stroke="#000" stroke-width="1.5"/>
<text x="71.6" y="674.1" font-size="15.3" text-anchor="end" fill="#000">600</text>
<line x1="113.2" y1="875.5" x2="113.2" y2="883.5" stroke="#000" stroke-width="1.5"/>
<line x1="184" y1="875.5" x2="184" y2="883.5" stroke="#000" stroke-width="1.5"/>
<text x="113.2" y="899.6" font-size="16.2" text-anchor="middle" fill="#000">CDAHFD</text>
<text x="184" y="899.6" font-size="16.2" text-anchor="middle" fill="#000">GAN</text>
<line x1="99.8" y1="849.6" x2="99.8" y2="860" stroke="#000" stroke-width="2.2"/>
<line x1="95.3" y1="849.6" x2="104.3" y2="849.6" stroke="#000" stroke-width="2.2"/>
<line x1="95.3" y1="860" x2="104.3" y2="860" stroke="#000" stroke-width="2.2"/>
<circle cx="99.8" cy="844.5" r="4.2" fill="#fff" stroke="#000" stroke-width="2.1"/>
<circle cx="94.8" cy="846.2" r="4.2" fill="#fff" stroke="#000" stroke-width="2.1"/>
<circle cx="104.8" cy="847.9" r="4.2" fill="#fff" stroke="#000" stroke-width="2.1"/>
<circle cx="99.8" cy="851.4" r="4.2" fill="#fff" stroke="#000" stroke-width="2.1"/>
<circle cx="94.8" cy="853.1" r="4.2" fill="#fff" stroke="#000" stroke-width="2.1"/>
<circle cx="104.8" cy="854.8" r="4.2" fill="#fff" stroke="#000" stroke-width="2.1"/>
<circle cx="99.8" cy="856.5" r="4.2" fill="#fff" stroke="#000" stroke-width="2.1"/>
<circle cx="94.8" cy="858.3" r="4.2" fill="#fff" stroke="#000" stroke-width="2.1"/>
<circle cx="104.8" cy="860" r="4.2" fill="#fff" stroke="#000" stroke-width="2.1"/>
<line x1="126.6" y1="861.7" x2="126.6" y2="875.5" stroke="#000" stroke-width="2.2"/>
<line x1="122.1" y1="861.7" x2="131.1" y2="861.7" stroke="#000" stroke-width="2.2"/>
<line x1="122.1" y1="875.5" x2="131.1" y2="875.5" stroke="#000" stroke-width="2.2"/>
<path d="M126.6 846.2L131.9 854.8L121.4 854.8Z" fill="#fff" stroke="#000" stroke-width="2.1" stroke-linejoin="miter"/>
<path d="M126.6 858.3L131.9 866.9L121.4 866.9Z" fill="#fff" stroke="#000" stroke-width="2.1" stroke-linejoin="miter"/>
<path d="M131.6 861.7L136.9 870.3L126.4 870.3Z" fill="#fff" stroke="#000" stroke-width="2.1" stroke-linejoin="miter"/>
<path d="M121.6 863.4L126.9 872L116.4 872Z" fill="#fff" stroke="#000" stroke-width="2.1" stroke-linejoin="miter"/>
<path d="M126.6 864.1L131.9 872.7L121.4 872.7Z" fill="#fff" stroke="#000" stroke-width="2.1" stroke-linejoin="miter"/>
<path d="M131.6 865.2L136.9 873.8L126.4 873.8Z" fill="#fff" stroke="#000" stroke-width="2.1" stroke-linejoin="miter"/>
<path d="M124.1 866.2L129.4 874.8L118.9 874.8Z" fill="#fff" stroke="#000" stroke-width="2.1" stroke-linejoin="miter"/>
<path d="M129.1 866.9L134.4 875.5L123.9 875.5Z" fill="#fff" stroke="#000" stroke-width="2.1" stroke-linejoin="miter"/>
<line x1="170.9" y1="745.2" x2="170.9" y2="803.8" stroke="#000" stroke-width="2.2"/>
<line x1="166.4" y1="745.2" x2="175.4" y2="745.2" stroke="#000" stroke-width="2.2"/>
<line x1="166.4" y1="803.8" x2="175.4" y2="803.8" stroke="#000" stroke-width="2.2"/>
<circle cx="170.9" cy="699.6" r="4.2" fill="#fff" stroke="#000" stroke-width="2.1"/>
<circle cx="170.9" cy="754.8" r="4.2" fill="#fff" stroke="#000" stroke-width="2.1"/>
<circle cx="165.9" cy="756.5" r="4.2" fill="#fff" stroke="#000" stroke-width="2.1"/>
<circle cx="175.9" cy="761.7" r="4.2" fill="#fff" stroke="#000" stroke-width="2.1"/>
<circle cx="170.9" cy="778.9" r="4.2" fill="#fff" stroke="#000" stroke-width="2.1"/>
<circle cx="165.9" cy="782.4" r="4.2" fill="#fff" stroke="#000" stroke-width="2.1"/>
<circle cx="170.9" cy="792.7" r="4.2" fill="#fff" stroke="#000" stroke-width="2.1"/>
<circle cx="165.9" cy="796.2" r="4.2" fill="#fff" stroke="#000" stroke-width="2.1"/>
<circle cx="175.9" cy="801.4" r="4.2" fill="#fff" stroke="#000" stroke-width="2.1"/>
<circle cx="168.4" cy="803.1" r="4.2" fill="#fff" stroke="#000" stroke-width="2.1"/>
<line x1="198.2" y1="780.7" x2="198.2" y2="825.5" stroke="#000" stroke-width="2.2"/>
<line x1="193.8" y1="780.7" x2="202.8" y2="780.7" stroke="#000" stroke-width="2.2"/>
<line x1="193.8" y1="825.5" x2="202.8" y2="825.5" stroke="#000" stroke-width="2.2"/>
<path d="M198.2 746.2L203.5 754.8L193 754.8Z" fill="#fff" stroke="#000" stroke-width="2.1" stroke-linejoin="miter"/>
<path d="M193.2 751.4L198.5 760L188 760Z" fill="#fff" stroke="#000" stroke-width="2.1" stroke-linejoin="miter"/>
<path d="M198.2 787.6L203.5 796.2L193 796.2Z" fill="#fff" stroke="#000" stroke-width="2.1" stroke-linejoin="miter"/>
<path d="M193.2 791L198.5 799.6L188 799.6Z" fill="#fff" stroke="#000" stroke-width="2.1" stroke-linejoin="miter"/>
<path d="M203.2 794.5L208.5 803.1L198 803.1Z" fill="#fff" stroke="#000" stroke-width="2.1" stroke-linejoin="miter"/>
<path d="M195.8 797.9L201 806.5L190.5 806.5Z" fill="#fff" stroke="#000" stroke-width="2.1" stroke-linejoin="miter"/>
<path d="M203.2 801.4L208.5 810L198 810Z" fill="#fff" stroke="#000" stroke-width="2.1" stroke-linejoin="miter"/>
<path d="M193.2 804.8L198.5 813.4L188 813.4Z" fill="#fff" stroke="#000" stroke-width="2.1" stroke-linejoin="miter"/>
<path d="M200.8 808.3L206 816.9L195.5 816.9Z" fill="#fff" stroke="#000" stroke-width="2.1" stroke-linejoin="miter"/>
<path d="M193.2 811.7L198.5 820.3L188 820.3Z" fill="#fff" stroke="#000" stroke-width="2.1" stroke-linejoin="miter"/>
<path d="M203.2 815.2L208.5 823.8L198 823.8Z" fill="#fff" stroke="#000" stroke-width="2.1" stroke-linejoin="miter"/>
<path d="M195.8 822.1L201 830.7L190.5 830.7Z" fill="#fff" stroke="#000" stroke-width="2.1" stroke-linejoin="miter"/>
<path d="M203.2 829L208.5 837.6L198 837.6Z" fill="#fff" stroke="#000" stroke-width="2.1" stroke-linejoin="miter"/>
<text transform="translate(15.5,770) rotate(-90)" font-size="20.2" text-anchor="middle" fill="#000">Serum</text>
<text transform="translate(39.9,770) rotate(-90)" font-size="19.6" text-anchor="middle" fill="#000">cholesterol (mg/dl)</text>
<path d="M96.6 831.9V828.4H126.6V831.9" fill="none" stroke="#000" stroke-width="1.5"/>
<text x="111.6" y="824.4" font-size="9.5" text-anchor="middle" fill="#000">P = 0.00013</text>
<path d="M170 685.7V682.2H199.2V685.7" fill="none" stroke="#000" stroke-width="1.5"/>
<text x="184.6" y="678.2" font-size="9.5" text-anchor="middle" fill="#000">P = 0.01395</text>
<rect x="341" y="787.6" width="16.9" height="87.9" fill="#fff" stroke="#000" stroke-width="2.6"/>
<rect x="368" y="805.2" width="16.8" height="70.3" fill="#b4b4fc" stroke="#000" stroke-width="2.6"/>
<rect x="412.5" y="823.8" width="16.4" height="51.7" fill="#fff" stroke="#000" stroke-width="2.6"/>
<rect x="439.9" y="800" width="15.9" height="75.5" fill="#fcbcde" stroke="#000" stroke-width="2.6"/>
<rect x="331.6" y="668.6" width="133.6" height="206.9" fill="none" stroke="#000" stroke-width="1.5"/>
<line x1="323.6" y1="875.5" x2="331.6" y2="875.5" stroke="#000" stroke-width="1.5"/>
<text x="321.6" y="881" font-size="15.3" text-anchor="end" fill="#000">0</text>
<line x1="323.6" y1="823.8" x2="331.6" y2="823.8" stroke="#000" stroke-width="1.5"/>
<text x="321.6" y="829.3" font-size="15.3" text-anchor="end" fill="#000">50</text>
<line x1="323.6" y1="772" x2="331.6" y2="772" stroke="#000" stroke-width="1.5"/>
<text x="321.6" y="777.6" font-size="15.3" text-anchor="end" fill="#000">100</text>
<line x1="323.6" y1="720.3" x2="331.6" y2="720.3" stroke="#000" stroke-width="1.5"/>
<text x="321.6" y="725.8" font-size="15.3" text-anchor="end" fill="#000">150</text>
<line x1="323.6" y1="668.6" x2="331.6" y2="668.6" stroke="#000" stroke-width="1.5"/>
<text x="321.6" y="674.1" font-size="15.3" text-anchor="end" fill="#000">200</text>
<line x1="362.8" y1="875.5" x2="362.8" y2="883.5" stroke="#000" stroke-width="1.5"/>
<line x1="434" y1="875.5" x2="434" y2="883.5" stroke="#000" stroke-width="1.5"/>
<text x="362.8" y="899.6" font-size="16.2" text-anchor="middle" fill="#000">CDAHFD</text>
<text x="434" y="899.6" font-size="16.2" text-anchor="middle" fill="#000">GAN</text>
<line x1="349.4" y1="753.4" x2="349.4" y2="821.7" stroke="#000" stroke-width="2.2"/>
<line x1="344.9" y1="753.4" x2="353.9" y2="753.4" stroke="#000" stroke-width="2.2"/>
<line x1="344.9" y1="821.7" x2="353.9" y2="821.7" stroke="#000" stroke-width="2.2"/>
<circle cx="349.4" cy="684.1" r="4.2" fill="#fff" stroke="#000" stroke-width="2.1"/>
<circle cx="349.4" cy="779.3" r="4.2" fill="#fff" stroke="#000" stroke-width="2.1"/>
<circle cx="344.4" cy="780.3" r="4.2" fill="#fff" stroke="#000" stroke-width="2.1"/>
<circle cx="354.4" cy="782.4" r="4.2" fill="#fff" stroke="#000" stroke-width="2.1"/>
<circle cx="349.4" cy="784.5" r="4.2" fill="#fff" stroke="#000" stroke-width="2.1"/>
<circle cx="344.4" cy="787.6" r="4.2" fill="#fff" stroke="#000" stroke-width="2.1"/>
<circle cx="354.4" cy="792.7" r="4.2" fill="#fff" stroke="#000" stroke-width="2.1"/>
<circle cx="344.4" cy="797.9" r="4.2" fill="#fff" stroke="#000" stroke-width="2.1"/>
<circle cx="354.4" cy="803.1" r="4.2" fill="#fff" stroke="#000" stroke-width="2.1"/>
<circle cx="344.4" cy="808.3" r="4.2" fill="#fff" stroke="#000" stroke-width="2.1"/>
<circle cx="351.9" cy="815.5" r="4.2" fill="#fff" stroke="#000" stroke-width="2.1"/>
<line x1="376.4" y1="784.5" x2="376.4" y2="825.8" stroke="#000" stroke-width="2.2"/>
<line x1="371.9" y1="784.5" x2="380.9" y2="784.5" stroke="#000" stroke-width="2.2"/>
<line x1="371.9" y1="825.8" x2="380.9" y2="825.8" stroke="#000" stroke-width="2.2"/>
<path d="M376.4 744.1L381.6 752.7L371.1 752.7Z" fill="#fff" stroke="#000" stroke-width="2.1" stroke-linejoin="miter"/>
<path d="M376.4 779.3L381.6 787.9L371.1 787.9Z" fill="#fff" stroke="#000" stroke-width="2.1" stroke-linejoin="miter"/>
<path d="M371.4 782.4L376.6 791L366.1 791Z" fill="#fff" stroke="#000" stroke-width="2.1" stroke-linejoin="miter"/>
<path d="M376.4 792.7L381.6 801.4L371.1 801.4Z" fill="#fff" stroke="#000" stroke-width="2.1" stroke-linejoin="miter"/>
<path d="M371.4 800L376.6 808.6L366.1 808.6Z" fill="#fff" stroke="#000" stroke-width="2.1" stroke-linejoin="miter"/>
<path d="M378.9 806.2L384.1 814.8L373.6 814.8Z" fill="#fff" stroke="#000" stroke-width="2.1" stroke-linejoin="miter"/>
<path d="M371.4 808.3L376.6 816.9L366.1 816.9Z" fill="#fff" stroke="#000" stroke-width="2.1" stroke-linejoin="miter"/>
<path d="M376.4 811.4L381.6 820L371.1 820Z" fill="#fff" stroke="#000" stroke-width="2.1" stroke-linejoin="miter"/>
<path d="M381.4 813.4L386.6 822L376.1 822Z" fill="#fff" stroke="#000" stroke-width="2.1" stroke-linejoin="miter"/>
<path d="M371.4 816.5L376.6 825.1L366.1 825.1Z" fill="#fff" stroke="#000" stroke-width="2.1" stroke-linejoin="miter"/>
<line x1="420.7" y1="808.3" x2="420.7" y2="839.3" stroke="#000" stroke-width="2.2"/>
<line x1="416.2" y1="808.3" x2="425.2" y2="808.3" stroke="#000" stroke-width="2.2"/>
<line x1="416.2" y1="839.3" x2="425.2" y2="839.3" stroke="#000" stroke-width="2.2"/>
<circle cx="420.7" cy="803.1" r="4.2" fill="#fff" stroke="#000" stroke-width="2.1"/>
<circle cx="415.7" cy="805.2" r="4.2" fill="#fff" stroke="#000" stroke-width="2.1"/>
<circle cx="425.7" cy="808.3" r="4.2" fill="#fff" stroke="#000" stroke-width="2.1"/>
<circle cx="418.2" cy="813.4" r="4.2" fill="#fff" stroke="#000" stroke-width="2.1"/>
<circle cx="425.7" cy="818.6" r="4.2" fill="#fff" stroke="#000" stroke-width="2.1"/>
<circle cx="415.7" cy="823.8" r="4.2" fill="#fff" stroke="#000" stroke-width="2.1"/>
<circle cx="423.2" cy="825.8" r="4.2" fill="#fff" stroke="#000" stroke-width="2.1"/>
<circle cx="418.2" cy="828.9" r="4.2" fill="#fff" stroke="#000" stroke-width="2.1"/>
<circle cx="425.7" cy="834.1" r="4.2" fill="#fff" stroke="#000" stroke-width="2.1"/>
<circle cx="415.7" cy="836.2" r="4.2" fill="#fff" stroke="#000" stroke-width="2.1"/>
<circle cx="420.7" cy="860" r="4.2" fill="#fff" stroke="#000" stroke-width="2.1"/>
<line x1="447.9" y1="787.6" x2="447.9" y2="812.4" stroke="#000" stroke-width="2.2"/>
<line x1="443.4" y1="787.6" x2="452.4" y2="787.6" stroke="#000" stroke-width="2.2"/>
<line x1="443.4" y1="812.4" x2="452.4" y2="812.4" stroke="#000" stroke-width="2.2"/>
<path d="M447.9 769L453.1 777.6L442.6 777.6Z" fill="#fff" stroke="#000" stroke-width="2.1" stroke-linejoin="miter"/>
<path d="M442.9 772.1L448.1 780.7L437.6 780.7Z" fill="#fff" stroke="#000" stroke-width="2.1" stroke-linejoin="miter"/>
<path d="M452.9 777.2L458.1 785.8L447.6 785.8Z" fill="#fff" stroke="#000" stroke-width="2.1" stroke-linejoin="miter"/>
<path d="M445.4 779.3L450.6 787.9L440.1 787.9Z" fill="#fff" stroke="#000" stroke-width="2.1" stroke-linejoin="miter"/>
<path d="M450.4 782.4L455.6 791L445.1 791Z" fill="#fff" stroke="#000" stroke-width="2.1" stroke-linejoin="miter"/>
<path d="M442.9 785.5L448.1 794.1L437.6 794.1Z" fill="#fff" stroke="#000" stroke-width="2.1" stroke-linejoin="miter"/>
<path d="M452.9 787.6L458.1 796.2L447.6 796.2Z" fill="#fff" stroke="#000" stroke-width="2.1" stroke-linejoin="miter"/>
<path d="M445.4 792.7L450.6 801.4L440.1 801.4Z" fill="#fff" stroke="#000" stroke-width="2.1" stroke-linejoin="miter"/>
<path d="M452.9 797.9L458.1 806.5L447.6 806.5Z" fill="#fff" stroke="#000" stroke-width="2.1" stroke-linejoin="miter"/>
<path d="M442.9 803.1L448.1 811.7L437.6 811.7Z" fill="#fff" stroke="#000" stroke-width="2.1" stroke-linejoin="miter"/>
<path d="M452.9 808.3L458.1 816.9L447.6 816.9Z" fill="#fff" stroke="#000" stroke-width="2.1" stroke-linejoin="miter"/>
<path d="M442.9 813.4L448.1 822L437.6 822Z" fill="#fff" stroke="#000" stroke-width="2.1" stroke-linejoin="miter"/>
<path d="M447.9 823.8L453.1 832.4L442.6 832.4Z" fill="#fff" stroke="#000" stroke-width="2.1" stroke-linejoin="miter"/>
<text transform="translate(265,770) rotate(-90)" font-size="20.2" text-anchor="middle" fill="#000">Serum</text>
<text transform="translate(289.4,770) rotate(-90)" font-size="19.6" text-anchor="middle" fill="#000">triglycerides (mg/dl)</text>
<path d="M420 760.7V757.2H449.3V760.7" fill="none" stroke="#000" stroke-width="1.5"/>
<text x="434.6" y="753.2" font-size="9.5" text-anchor="middle" fill="#000">P = 0.00058</text>
<rect x="587.6" y="727.9" width="17.5" height="148" fill="#fff" stroke="#000" stroke-width="2.6"/>
<rect x="615.5" y="727.9" width="17" height="148" fill="#b4b4fc" stroke="#000" stroke-width="2.6"/>
<rect x="661.2" y="748.6" width="17" height="127.3" fill="#fff" stroke="#000" stroke-width="2.6"/>
<rect x="688.9" y="761.1" width="16.8" height="114.8" fill="#fcbcde" stroke="#000" stroke-width="2.6"/>
<rect x="578.7" y="668.4" width="136.9" height="207.5" fill="none" stroke="#000" stroke-width="1.5"/>
<line x1="570.7" y1="875.9" x2="578.7" y2="875.9" stroke="#000" stroke-width="1.5"/>
<text x="568.7" y="881.4" font-size="15.3" text-anchor="end" fill="#000">0.0</text>
<line x1="570.7" y1="806.7" x2="578.7" y2="806.7" stroke="#000" stroke-width="1.5"/>
<text x="568.7" y="812.2" font-size="15.3" text-anchor="end" fill="#000">0.5</text>
<line x1="570.7" y1="737.6" x2="578.7" y2="737.6" stroke="#000" stroke-width="1.5"/>
<text x="568.7" y="743.1" font-size="15.3" text-anchor="end" fill="#000">1.0</text>
<line x1="570.7" y1="668.4" x2="578.7" y2="668.4" stroke="#000" stroke-width="1.5"/>
<text x="568.7" y="673.9" font-size="15.3" text-anchor="end" fill="#000">1.5</text>
<line x1="609.7" y1="875.9" x2="609.7" y2="883.9" stroke="#000" stroke-width="1.5"/>
<line x1="683.3" y1="875.9" x2="683.3" y2="883.9" stroke="#000" stroke-width="1.5"/>
<text x="609.7" y="899.6" font-size="16.2" text-anchor="middle" fill="#000">CDAHFD</text>
<text x="683.3" y="899.6" font-size="16.2" text-anchor="middle" fill="#000">GAN</text>
<line x1="596.4" y1="700.2" x2="596.4" y2="755.5" stroke="#000" stroke-width="2.2"/>
<line x1="591.9" y1="700.2" x2="600.9" y2="700.2" stroke="#000" stroke-width="2.2"/>
<line x1="591.9" y1="755.5" x2="600.9" y2="755.5" stroke="#000" stroke-width="2.2"/>
<circle cx="596.4" cy="693.3" r="4.2" fill="#fff" stroke="#000" stroke-width="2.1"/>
<circle cx="588.9" cy="698.8" r="4.2" fill="#fff" stroke="#000" stroke-width="2.1"/>
<circle cx="596.4" cy="707.1" r="4.2" fill="#fff" stroke="#000" stroke-width="2.1"/>
<circle cx="588.9" cy="709.9" r="4.2" fill="#fff" stroke="#000" stroke-width="2.1"/>
<circle cx="596.4" cy="721" r="4.2" fill="#fff" stroke="#000" stroke-width="2.1"/>
<circle cx="596.4" cy="740.3" r="4.2" fill="#fff" stroke="#000" stroke-width="2.1"/>
<circle cx="596.4" cy="751.4" r="4.2" fill="#fff" stroke="#000" stroke-width="2.1"/>
<circle cx="588.9" cy="758.3" r="4.2" fill="#fff" stroke="#000" stroke-width="2.1"/>
<circle cx="598.9" cy="761.1" r="4.2" fill="#fff" stroke="#000" stroke-width="2.1"/>
<line x1="624" y1="700.2" x2="624" y2="755.5" stroke="#000" stroke-width="2.2"/>
<line x1="619.5" y1="700.2" x2="628.5" y2="700.2" stroke="#000" stroke-width="2.2"/>
<line x1="619.5" y1="755.5" x2="628.5" y2="755.5" stroke="#000" stroke-width="2.2"/>
<path d="M624 686.8L629.2 695.4L618.8 695.4Z" fill="#fff" stroke="#000" stroke-width="2.1" stroke-linejoin="miter"/>
<path d="M616.5 693.7L621.8 702.3L611.2 702.3Z" fill="#fff" stroke="#000" stroke-width="2.1" stroke-linejoin="miter"/>
<path d="M624 702L629.2 710.6L618.8 710.6Z" fill="#fff" stroke="#000" stroke-width="2.1" stroke-linejoin="miter"/>
<path d="M616.5 704.7L621.8 713.3L611.2 713.3Z" fill="#fff" stroke="#000" stroke-width="2.1" stroke-linejoin="miter"/>
<path d="M624 715.8L629.2 724.4L618.8 724.4Z" fill="#fff" stroke="#000" stroke-width="2.1" stroke-linejoin="miter"/>
<path d="M624 735.2L629.2 743.8L618.8 743.8Z" fill="#fff" stroke="#000" stroke-width="2.1" stroke-linejoin="miter"/>
<path d="M624 746.2L629.2 754.8L618.8 754.8Z" fill="#fff" stroke="#000" stroke-width="2.1" stroke-linejoin="miter"/>
<path d="M616.5 753.2L621.8 761.8L611.2 761.8Z" fill="#fff" stroke="#000" stroke-width="2.1" stroke-linejoin="miter"/>
<path d="M629 754.5L634.2 763.1L623.8 763.1Z" fill="#fff" stroke="#000" stroke-width="2.1" stroke-linejoin="miter"/>
<line x1="669.7" y1="714" x2="669.7" y2="783.2" stroke="#000" stroke-width="2.2"/>
<line x1="665.2" y1="714" x2="674.2" y2="714" stroke="#000" stroke-width="2.2"/>
<line x1="665.2" y1="783.2" x2="674.2" y2="783.2" stroke="#000" stroke-width="2.2"/>
<circle cx="669.7" cy="696.1" r="4.2" fill="#fff" stroke="#000" stroke-width="2.1"/>
<circle cx="662.2" cy="703" r="4.2" fill="#fff" stroke="#000" stroke-width="2.1"/>
<circle cx="669.7" cy="716.8" r="4.2" fill="#fff" stroke="#000" stroke-width="2.1"/>
<circle cx="669.7" cy="744.5" r="4.2" fill="#fff" stroke="#000" stroke-width="2.1"/>
<circle cx="662.2" cy="747.2" r="4.2" fill="#fff" stroke="#000" stroke-width="2.1"/>
<circle cx="677.2" cy="748.6" r="4.2" fill="#fff" stroke="#000" stroke-width="2.1"/>
<circle cx="667.2" cy="748.6" r="4.2" fill="#fff" stroke="#000" stroke-width="2.1"/>
<circle cx="669.7" cy="758.3" r="4.2" fill="#fff" stroke="#000" stroke-width="2.1"/>
<circle cx="669.7" cy="772.1" r="4.2" fill="#fff" stroke="#000" stroke-width="2.1"/>
<circle cx="669.7" cy="792.9" r="4.2" fill="#fff" stroke="#000" stroke-width="2.1"/>
<circle cx="662.2" cy="799.8" r="4.2" fill="#fff" stroke="#000" stroke-width="2.1"/>
<line x1="697.3" y1="733.4" x2="697.3" y2="788.8" stroke="#000" stroke-width="2.2"/>
<line x1="692.8" y1="733.4" x2="701.8" y2="733.4" stroke="#000" stroke-width="2.2"/>
<line x1="692.8" y1="788.8" x2="701.8" y2="788.8" stroke="#000" stroke-width="2.2"/>
<path d="M697.3 697.8L702.5 706.4L692 706.4Z" fill="#fff" stroke="#000" stroke-width="2.1" stroke-linejoin="miter"/>
<path d="M697.3 711.7L702.5 720.3L692 720.3Z" fill="#fff" stroke="#000" stroke-width="2.1" stroke-linejoin="miter"/>
<path d="M697.3 732.4L702.5 741L692 741Z" fill="#fff" stroke="#000" stroke-width="2.1" stroke-linejoin="miter"/>
<path d="M692.3 735.2L697.5 743.8L687 743.8Z" fill="#fff" stroke="#000" stroke-width="2.1" stroke-linejoin="miter"/>
<path d="M699.8 742.1L705 750.7L694.5 750.7Z" fill="#fff" stroke="#000" stroke-width="2.1" stroke-linejoin="miter"/>
<path d="M692.3 749L697.5 757.6L687 757.6Z" fill="#fff" stroke="#000" stroke-width="2.1" stroke-linejoin="miter"/>
<path d="M702.3 753.2L707.5 761.8L697 761.8Z" fill="#fff" stroke="#000" stroke-width="2.1" stroke-linejoin="miter"/>
<path d="M694.8 757.3L700 765.9L689.5 765.9Z" fill="#fff" stroke="#000" stroke-width="2.1" stroke-linejoin="miter"/>
<path d="M702.3 762.8L707.5 771.4L697 771.4Z" fill="#fff" stroke="#000" stroke-width="2.1" stroke-linejoin="miter"/>
<path d="M697.3 771.1L702.5 779.7L692 779.7Z" fill="#fff" stroke="#000" stroke-width="2.1" stroke-linejoin="miter"/>
<path d="M692.3 776.7L697.5 785.3L687 785.3Z" fill="#fff" stroke="#000" stroke-width="2.1" stroke-linejoin="miter"/>
<path d="M697.3 785L702.5 793.6L692 793.6Z" fill="#fff" stroke="#000" stroke-width="2.1" stroke-linejoin="miter"/>
<path d="M692.3 787.7L697.5 796.3L687 796.3Z" fill="#fff" stroke="#000" stroke-width="2.1" stroke-linejoin="miter"/>
<path d="M699.8 794.7L705 803.3L694.5 803.3Z" fill="#fff" stroke="#000" stroke-width="2.1" stroke-linejoin="miter"/>
<text transform="translate(515.5,770) rotate(-90)" font-size="20.2" text-anchor="middle" fill="#000">Serum</text>
<text transform="translate(539.5,770) rotate(-90)" font-size="19.6" text-anchor="middle" fill="#000">FFA (mEq/ml)</text>
<rect x="747.3" y="666.4" width="52.8" height="26.1" fill="#fff" stroke="#000" stroke-width="1.2"/>
<path d="M747.3 724.3L800.1 698.1H747.3Z" fill="#b4b4fc"/>
<path d="M747.3 724.3L800.1 698.1V724.3Z" fill="#fcbcde"/>
<line x1="747.3" y1="724.3" x2="800.1" y2="698.1" stroke="#000" stroke-width="1.5"/>
<rect x="747.3" y="698.1" width="52.8" height="26.2" fill="none" stroke="#000" stroke-width="1.2"/>
<text x="809.8" y="687.5" font-size="18.2" text-anchor="start" fill="#000">TCF7L2<tspan dy="-8" font-size="18">LoxP/LoxP</tspan></text>
<text x="809" y="718.7" font-size="18.2" text-anchor="start" fill="#000">Hep-TCF7L2<tspan dy="-8" font-size="18">&#916;DBD</tspan></text>
<text x="-1.5" y="955.6" font-size="24.7" text-anchor="start" fill="#000">I</text>
<text x="223.7" y="973.4" font-size="19.9" text-anchor="start" fill="#000">TCF7L2<tspan dy="-9" font-size="19.9">LoxP/LoxP</tspan></text>
<text x="223.7" y="1207.5" font-size="19.9" text-anchor="start" fill="#000">Hep-TCF7L2<tspan dy="-9" font-size="19.9">&#916;DBD</tspan></text>
<clipPath id="clip101"><rect x="14.7" y="982.7" width="284.6" height="191.6"/></clipPath>
<g clip-path="url(#clip101)">
<rect x="14.7" y="982.7" width="284.6" height="191.6" fill="#dea97e" stroke="none" stroke-width="0"/>
<rect x="14.7" y="982.7" width="284.6" height="191.6" fill="#f4e2cc" filter="url(#spk)" opacity="0.6"/>
<rect x="14.7" y="982.7" width="284.6" height="191.6" fill="#cc8c5e" filter="url(#mot)" opacity="0.3"/>
<g transform="translate(14.7,982.7)">
<g fill="#eee8e5"><circle cx="27" cy="0" r="4.7"/><circle cx="172" cy="141" r="4.7"/><circle cx="53" cy="117" r="4.7"/><circle cx="284" cy="171" r="4.7"/><circle cx="77" cy="8" r="4.7"/><circle cx="67" cy="103" r="4.7"/><circle cx="95" cy="85" r="4.7"/><circle cx="147" cy="179" r="4.7"/><circle cx="90" cy="107" r="4.7"/><circle cx="42" cy="99" r="4.7"/><circle cx="147" cy="156" r="4.7"/><circle cx="99" cy="-4" r="4.7"/><circle cx="208" cy="136" r="4.7"/><circle cx="279" cy="6" r="4.6"/><circle cx="248" cy="150" r="4.6"/><circle cx="259" cy="24" r="4.6"/><circle cx="72" cy="143" r="4.6"/><circle cx="194" cy="15" r="4.6"/><circle cx="6" cy="190" r="4.6"/><circle cx="207" cy="71" r="4.6"/><circle cx="133" cy="29" r="4.6"/><circle cx="80" cy="188" r="4.6"/><circle cx="23" cy="184" r="4.6"/><circle cx="223" cy="70" r="4.6"/><circle cx="218" cy="105" r="4.6"/><circle cx="183" cy="110" r="4.6"/><circle cx="119" cy="186" r="4.6"/><circle cx="153" cy="52" r="4.6"/><circle cx="34" cy="51" r="4.6"/><circle cx="246" cy="41" r="4.6"/><circle cx="283" cy="48" r="4.6"/><circle cx="51" cy="139" r="4.6"/><circle cx="23" cy="157" r="4.6"/><circle cx="207" cy="3" r="4.6"/><circle cx="227" cy="39" r="4.6"/><circle cx="23" cy="146" r="4.5"/><circle cx="269" cy="68" r="4.5"/><circle cx="81" cy="96" r="4.5"/><circle cx="226" cy="191" r="4.5"/><circle cx="195" cy="72" r="4.5"/><circle cx="133" cy="170" r="4.5"/><circle cx="74" cy="71" r="4.5"/><circle cx="51" cy="193" r="4.5"/><circle cx="85" cy="62" r="4.5"/><circle cx="78" cy="166" r="4.5"/><circle cx="110" cy="146" r="4.5"/><circle cx="276" cy="93" r="4.5"/><circle cx="49" cy="172" r="4.5"/><circle cx="278" cy="77" r="4.5"/><circle cx="254" cy="195" r="4.5"/><circle cx="129" cy="61" r="4.5"/><circle cx="64" cy="47" r="4.5"/><circle cx="76" cy="28" r="4.5"/><circle cx="-4" cy="59" r="4.5"/><circle cx="196" cy="45" r="4.5"/><circle cx="198" cy="116" r="4.5"/><circle cx="281" cy="138" r="4.5"/><circle cx="62" cy="155" r="4.5"/><circle cx="102" cy="123" r="4.5"/><circle cx="47" cy="68" r="4.5"/><circle cx="76" cy="112" r="4.5"/><circle cx="164" cy="168" r="4.5"/><circle cx="190" cy="-4" r="4.5"/><circle cx="216" cy="165" r="4.5"/><circle cx="267" cy="41" r="4.5"/><circle cx="167" cy="33" r="4.5"/><circle cx="250" cy="100" r="4.4"/><circle cx="24" cy="81" r="4.4"/><circle cx="244" cy="19" r="4.4"/><circle cx="144" cy="144" r="4.4"/><circle cx="272" cy="125" r="4.4"/><circle cx="9" cy="147" r="4.4"/><circle cx="245" cy="165" r="4.4"/><circle cx="227" cy="139" r="4.4"/><circle cx="216" cy="83" r="4.4"/><circle cx="13" cy="39" r="4.4"/><circle cx="134" cy="97" r="4.4"/><circle cx="287" cy="69" r="4.4"/><circle cx="123" cy="148" r="4.4"/><circle cx="39" cy="119" r="4.4"/><circle cx="47" cy="152" r="4.3"/><circle cx="85" cy="121" r="4.3"/><circle cx="40" cy="37" r="4.3"/><circle cx="140" cy="83" r="4.3"/><circle cx="225" cy="114" r="4.3"/><circle cx="124" cy="87" r="4.3"/><circle cx="279" cy="190" r="4.3"/><circle cx="122" cy="100" r="4.3"/><circle cx="34" cy="186" r="4.3"/><circle cx="47" cy="10" r="4.3"/><circle cx="179" cy="17" r="4.3"/><circle cx="214" cy="57" r="4.3"/><circle cx="35" cy="70" r="4.3"/><circle cx="169" cy="77" r="4.3"/><circle cx="114" cy="129" r="4.3"/><circle cx="133" cy="183" r="4.3"/><circle cx="114" cy="10" r="4.3"/><circle cx="282" cy="125" r="4.3"/><circle cx="94" cy="171" r="4.3"/><circle cx="184" cy="135" r="4.3"/><circle cx="137" cy="41" r="4.3"/><circle cx="6" cy="180" r="4.2"/><circle cx="100" cy="94" r="4.2"/><circle cx="188" cy="168" r="4.2"/><circle cx="124" cy="45" r="4.2"/><circle cx="275" cy="24" r="4.2"/><circle cx="232" cy="84" r="4.2"/><circle cx="6" cy="12" r="4.2"/><circle cx="126" cy="162" r="4.2"/><circle cx="78" cy="81" r="4.2"/><circle cx="113" cy="67" r="4.2"/><circle cx="148" cy="92" r="4.2"/><circle cx="206" cy="149" r="4.2"/><circle cx="106" cy="82" r="4.2"/><circle cx="160" cy="27" r="4.2"/><circle cx="16" cy="4" r="4.2"/><circle cx="219" cy="27" r="4.2"/><circle cx="193" cy="84" r="4.2"/><circle cx="35" cy="177" r="4.2"/><circle cx="65" cy="21" r="4.2"/><circle cx="212" cy="42" r="4.2"/><circle cx="42" cy="131" r="4.2"/><circle cx="91" cy="33" r="4.2"/><circle cx="207" cy="183" r="4.2"/><circle cx="-1" cy="38" r="4.2"/><circle cx="195" cy="97" r="4.2"/><circle cx="-3" cy="8" r="4.2"/><circle cx="159" cy="187" r="4.2"/><circle cx="278" cy="108" r="4.2"/><circle cx="40" cy="19" r="4.2"/><circle cx="179" cy="186" r="4.2"/><circle cx="156" cy="142" r="4.2"/><circle cx="113" cy="-4" r="4.2"/><circle cx="260" cy="88" r="4.2"/><circle cx="12" cy="157" r="4.2"/><circle cx="237" cy="133" r="4.2"/><circle cx="270" cy="169" r="4.1"/><circle cx="96" cy="71" r="4.1"/><circle cx="246" cy="82" r="4.1"/><circle cx="185" cy="94" r="4.1"/><circle cx="206" cy="159" r="4.1"/><circle cx="184" cy="149" r="4.1"/><circle cx="106" cy="177" r="4.1"/><circle cx="223" cy="53" r="4.1"/><circle cx="154" cy="113" r="4.1"/><circle cx="62" cy="166" r="4.1"/><circle cx="20" cy="129" r="4.1"/><circle cx="166" cy="20" r="4.1"/><circle cx="58" cy="71" r="4.1"/><circle cx="247" cy="31" r="4.1"/><circle cx="57" cy="0" r="4.1"/><circle cx="99" cy="12" r="4.1"/><circle cx="154" cy="40" r="4.1"/><circle cx="109" cy="109" r="4.1"/><circle cx="66" cy="60" r="4.1"/><circle cx="186" cy="61" r="4.1"/><circle cx="88" cy="147" r="4.1"/><circle cx="234" cy="1" r="4"/><circle cx="57" cy="40" r="4"/><circle cx="227" cy="163" r="4"/><circle cx="229" cy="24" r="4"/><circle cx="231" cy="182" r="4"/><circle cx="125" cy="0" r="4"/><circle cx="253" cy="141" r="4"/><circle cx="149" cy="168" r="4"/><circle cx="165" cy="150" r="4"/><circle cx="267" cy="99" r="4"/><circle cx="261" cy="178" r="4"/><circle cx="263" cy="163" r="4"/><circle cx="173" cy="57" r="4"/><circle cx="124" cy="136" r="4"/><circle cx="8" cy="89" r="4"/><circle cx="160" cy="177" r="4"/><circle cx="64" cy="8" r="4"/><circle cx="113" cy="168" r="3.9"/><circle cx="174" cy="9" r="3.9"/><circle cx="5" cy="166" r="3.9"/><circle cx="202" cy="90" r="3.9"/><circle cx="163" cy="87" r="3.9"/><circle cx="164" cy="133" r="3.9"/><circle cx="245" cy="68" r="3.9"/><circle cx="169" cy="180" r="3.9"/><circle cx="89" cy="12" r="3.9"/><circle cx="135" cy="132" r="3.9"/><circle cx="118" cy="29" r="3.9"/><circle cx="240" cy="178" r="3.9"/><circle cx="63" cy="136" r="3.9"/><circle cx="118" cy="176" r="3.9"/><circle cx="11" cy="50" r="3.9"/><circle cx="115" cy="90" r="3.9"/><circle cx="182" cy="83" r="3.9"/><circle cx="260" cy="116" r="3.8"/><circle cx="71" cy="184" r="3.8"/><circle cx="54" cy="84" r="3.8"/><circle cx="0" cy="104" r="3.8"/><circle cx="230" cy="127" r="3.8"/><circle cx="142" cy="52" r="3.8"/><circle cx="23" cy="115" r="3.8"/><circle cx="208" cy="20" r="3.8"/><circle cx="23" cy="167" r="3.8"/><circle cx="198" cy="176" r="3.8"/><circle cx="66" cy="78" r="3.8"/><circle cx="167" cy="122" r="3.8"/><circle cx="173" cy="107" r="3.8"/><circle cx="257" cy="107" r="3.8"/><circle cx="32" cy="164" r="3.8"/><circle cx="270" cy="182" r="3.8"/><circle cx="220" cy="-1" r="3.8"/><circle cx="8" cy="135" r="3.8"/><circle cx="157" cy="155" r="3.8"/><circle cx="264" cy="55" r="3.7"/><circle cx="178" cy="35" r="3.7"/><circle cx="285" cy="95" r="3.7"/><circle cx="238" cy="36" r="3.7"/><circle cx="197" cy="127" r="3.7"/><circle cx="202" cy="29" r="3.7"/><circle cx="2" cy="157" r="3.7"/><circle cx="27" cy="174" r="3.7"/><circle cx="99" cy="153" r="3.7"/><circle cx="248" cy="6" r="3.7"/><circle cx="48" cy="31" r="3.7"/><circle cx="106" cy="42" r="3.7"/><circle cx="255" cy="-3" r="3.7"/><circle cx="7" cy="62" r="3.7"/><circle cx="262" cy="7" r="3.7"/><circle cx="269" cy="155" r="3.7"/><circle cx="163" cy="-3" r="3.7"/><circle cx="115" cy="21" r="3.6"/><circle cx="97" cy="143" r="3.6"/><circle cx="157" cy="76" r="3.6"/><circle cx="11" cy="103" r="3.6"/><circle cx="175" cy="127" r="3.6"/><circle cx="257" cy="72" r="3.6"/><circle cx="80" cy="157" r="3.6"/><circle cx="146" cy="36" r="3.6"/><circle cx="208" cy="118" r="3.6"/><circle cx="140" cy="61" r="3.6"/><circle cx="253" cy="50" r="3.6"/><circle cx="58" cy="181" r="3.6"/><circle cx="263" cy="143" r="3.6"/><circle cx="248" cy="57" r="3.6"/><circle cx="96" cy="192" r="3.6"/><circle cx="71" cy="131" r="3.6"/><circle cx="37" cy="-1" r="3.6"/><circle cx="256" cy="158" r="3.6"/><circle cx="195" cy="138" r="3.5"/><circle cx="98" cy="49" r="3.5"/><circle cx="229" cy="100" r="3.5"/><circle cx="76" cy="57" r="3.5"/><circle cx="20" cy="60" r="3.5"/><circle cx="108" cy="161" r="3.5"/><circle cx="150" cy="72" r="3.5"/><circle cx="104" cy="132" r="3.5"/><circle cx="82" cy="141" r="3.5"/><circle cx="36" cy="148" r="3.5"/><circle cx="126" cy="36" r="3.5"/><circle cx="194" cy="24" r="3.5"/><circle cx="145" cy="106" r="3.5"/><circle cx="-3" cy="148" r="3.5"/><circle cx="280" cy="160" r="3.5"/><circle cx="119" cy="110" r="3.5"/><circle cx="-2" cy="114" r="3.5"/><circle cx="181" cy="27" r="3.5"/><circle cx="175" cy="47" r="3.5"/><circle cx="285" cy="83" r="3.5"/><circle cx="210" cy="172" r="3.5"/><circle cx="240" cy="96" r="3.5"/><circle cx="33" cy="104" r="3.5"/><circle cx="32" cy="41" r="3.5"/><circle cx="34" cy="81" r="3.5"/><circle cx="111" cy="49" r="3.5"/><circle cx="31" cy="27" r="3.4"/><circle cx="112" cy="76" r="3.4"/><circle cx="23" cy="101" r="3.4"/><circle cx="125" cy="117" r="3.4"/><circle cx="138" cy="192" r="3.4"/><circle cx="239" cy="54" r="3.4"/><circle cx="194" cy="187" r="3.4"/><circle cx="234" cy="173" r="3.4"/><circle cx="32" cy="13" r="3.4"/><circle cx="113" cy="154" r="3.4"/><circle cx="5" cy="-3" r="3.4"/><circle cx="106" cy="56" r="3.4"/><circle cx="195" cy="57" r="3.4"/><circle cx="110" cy="194" r="3.4"/><circle cx="44" cy="111" r="3.4"/><circle cx="204" cy="62" r="3.4"/><circle cx="266" cy="79" r="3.4"/><circle cx="203" cy="192" r="3.4"/><circle cx="24" cy="13" r="3.4"/><circle cx="42" cy="87" r="3.4"/><circle cx="141" cy="0" r="3.3"/><circle cx="4" cy="21" r="3.3"/><circle cx="123" cy="125" r="3.3"/><circle cx="58" cy="145" r="3.3"/><circle cx="160" cy="64" r="3.3"/><circle cx="2" cy="124" r="3.3"/><circle cx="178" cy="1" r="3.3"/><circle cx="88" cy="21" r="3.3"/><circle cx="181" cy="160" r="3.3"/><circle cx="14" cy="29" r="3.3"/><circle cx="277" cy="62" r="3.3"/><circle cx="182" cy="120" r="3.3"/><circle cx="90" cy="160" r="3.3"/><circle cx="249" cy="124" r="3.3"/><circle cx="93" cy="134" r="3.3"/><circle cx="220" cy="148" r="3.3"/><circle cx="251" cy="182" r="3.3"/><circle cx="124" cy="73" r="3.3"/><circle cx="130" cy="12" r="3.3"/><circle cx="188" cy="127" r="3.3"/><circle cx="54" cy="51" r="3.3"/><circle cx="-3" cy="-2" r="3.3"/><circle cx="256" cy="39" r="3.3"/><circle cx="7" cy="78" r="3.3"/><circle cx="49" cy="91" r="3.2"/><circle cx="233" cy="157" r="3.2"/><circle cx="88" cy="73" r="3.2"/><circle cx="184" cy="71" r="3.2"/><circle cx="147" cy="17" r="3.2"/><circle cx="129" cy="20" r="3.2"/><circle cx="149" cy="190" r="3.2"/><circle cx="186" cy="44" r="3.2"/><circle cx="234" cy="106" r="3.2"/><circle cx="233" cy="50" r="3.2"/><circle cx="73" cy="39" r="3.2"/><circle cx="259" cy="188" r="3.2"/><circle cx="158" cy="98" r="3.2"/><circle cx="159" cy="8" r="3.2"/><circle cx="234" cy="147" r="3.2"/><circle cx="217" cy="141" r="3.2"/><circle cx="164" cy="109" r="3.2"/><circle cx="105" cy="28" r="3.2"/><circle cx="272" cy="144" r="3.2"/><circle cx="1" cy="83" r="3.2"/><circle cx="165" cy="49" r="3.2"/><circle cx="115" cy="119" r="3.2"/><circle cx="206" cy="100" r="3.2"/><circle cx="187" cy="176" r="3.2"/><circle cx="283" cy="147" r="3.2"/><circle cx="98" cy="37" r="3.2"/><circle cx="234" cy="11" r="3.2"/><circle cx="177" cy="97" r="3.1"/><circle cx="28" cy="92" r="3.1"/><circle cx="214" cy="193" r="3.1"/><circle cx="232" cy="60" r="3.1"/><circle cx="53" cy="101" r="3.1"/><circle cx="215" cy="153" r="3.1"/><circle cx="74" cy="20" r="3.1"/><circle cx="222" cy="171" r="3.1"/><circle cx="77" cy="-3" r="3.1"/><circle cx="281" cy="15" r="3.1"/><circle cx="77" cy="46" r="3.1"/><circle cx="220" cy="92" r="3.1"/><circle cx="235" cy="114" r="3.1"/><circle cx="271" cy="115" r="3.1"/><circle cx="59" cy="129" r="3.1"/><circle cx="18" cy="174" r="3.1"/><circle cx="62" cy="88" r="3.1"/><circle cx="164" cy="194" r="3.1"/><circle cx="246" cy="131" r="3.1"/><circle cx="114" cy="138" r="3.1"/><circle cx="86" cy="134" r="3.1"/><circle cx="56" cy="62" r="3.1"/><circle cx="255" cy="11" r="3.1"/><circle cx="153" cy="64" r="3.1"/><circle cx="166" cy="160" r="3.1"/><circle cx="279" cy="36" r="3.1"/><circle cx="43" cy="161" r="3.1"/><circle cx="171" cy="88" r="3.1"/><circle cx="151" cy="126" r="3"/><circle cx="-3" cy="168" r="3"/><circle cx="102" cy="62" r="3"/><circle cx="106" cy="4" r="3"/><circle cx="137" cy="6" r="3"/><circle cx="268" cy="135" r="3"/><circle cx="132" cy="121" r="3"/><circle cx="45" cy="49" r="3"/><circle cx="116" cy="59" r="3"/><circle cx="89" cy="-2" r="3"/><circle cx="237" cy="193" r="3"/><circle cx="239" cy="124" r="3"/><circle cx="135" cy="73" r="3"/><circle cx="135" cy="151" r="3"/><circle cx="285" cy="58" r="3"/><circle cx="231" cy="75" r="3"/><circle cx="175" cy="168" r="3"/><circle cx="100" cy="108" r="3"/><circle cx="96" cy="181" r="3"/><circle cx="29" cy="34" r="3"/><circle cx="123" cy="53" r="3"/><circle cx="195" cy="34" r="3"/><circle cx="14" cy="82" r="3"/><circle cx="0" cy="91" r="3"/><circle cx="199" cy="145" r="3"/><circle cx="222" cy="8" r="3"/><circle cx="147" cy="117" r="3"/><circle cx="216" cy="114" r="3"/><circle cx="165" cy="95" r="3"/><circle cx="218" cy="124" r="3"/><circle cx="76" cy="175" r="3"/><circle cx="257" cy="132" r="2.9"/><circle cx="140" cy="15" r="2.9"/><circle cx="258" cy="149" r="2.9"/><circle cx="23" cy="27" r="2.9"/><circle cx="249" cy="111" r="2.9"/><circle cx="225" cy="17" r="2.9"/><circle cx="163" cy="56" r="2.9"/><circle cx="18" cy="20" r="2.9"/><circle cx="267" cy="192" r="2.9"/><circle cx="256" cy="59" r="2.9"/><circle cx="67" cy="123" r="2.9"/><circle cx="137" cy="160" r="2.9"/><circle cx="0" cy="28" r="2.9"/><circle cx="16" cy="119" r="2.9"/><circle cx="130" cy="109" r="2.9"/><circle cx="272" cy="-3" r="2.9"/><circle cx="169" cy="100" r="2.9"/><circle cx="153" cy="-3" r="2.9"/><circle cx="254" cy="172" r="2.9"/><circle cx="197" cy="156" r="2.9"/><circle cx="236" cy="43" r="2.9"/><circle cx="167" cy="69" r="2.9"/><circle cx="143" cy="187" r="2.9"/><circle cx="264" cy="109" r="2.9"/><circle cx="170" cy="191" r="2.9"/><circle cx="39" cy="169" r="2.9"/><circle cx="176" cy="69" r="2.9"/><circle cx="26" cy="69" r="2.9"/><circle cx="85" cy="46" r="2.9"/><circle cx="11" cy="23" r="2.9"/><circle cx="228" cy="92" r="2.9"/><circle cx="61" cy="122" r="2.9"/><circle cx="286" cy="0" r="2.9"/><circle cx="60" cy="94" r="2.9"/><circle cx="184" cy="53" r="2.9"/><circle cx="81" cy="40" r="2.9"/><circle cx="175" cy="150" r="2.9"/><circle cx="46" cy="-1" r="2.9"/><circle cx="-2" cy="46" r="2.9"/><circle cx="261" cy="47" r="2.9"/><circle cx="150" cy="136" r="2.9"/><circle cx="150" cy="10" r="2.9"/><circle cx="-1" cy="68" r="2.9"/><circle cx="42" cy="56" r="2.9"/><circle cx="15" cy="167" r="2.9"/><circle cx="129" cy="193" r="2.9"/><circle cx="217" cy="181" r="2.9"/><circle cx="142" cy="170" r="2.8"/><circle cx="209" cy="108" r="2.8"/><circle cx="79" cy="131" r="2.8"/><circle cx="67" cy="34" r="2.8"/><circle cx="59" cy="32" r="2.8"/><circle cx="267" cy="19" r="2.8"/><circle cx="26" cy="21" r="2.8"/><circle cx="48" cy="182" r="2.8"/><circle cx="190" cy="119" r="2.8"/><circle cx="157" cy="15" r="2.8"/><circle cx="236" cy="166" r="2.8"/><circle cx="114" cy="40" r="2.8"/><circle cx="76" cy="121" r="2.8"/><circle cx="242" cy="141" r="2.8"/><circle cx="235" cy="66" r="2.8"/><circle cx="27" cy="125" r="2.8"/><circle cx="55" cy="13" r="2.8"/><circle cx="110" cy="186" r="2.8"/><circle cx="203" cy="78" r="2.8"/><circle cx="218" cy="131" r="2.8"/><circle cx="74" cy="92" r="2.8"/><circle cx="283" cy="181" r="2.8"/><circle cx="261" cy="125" r="2.8"/><circle cx="18" cy="194" r="2.8"/><circle cx="166" cy="42" r="2.8"/><circle cx="32" cy="131" r="2.8"/><circle cx="84" cy="177" r="2.8"/><circle cx="180" cy="175" r="2.8"/><circle cx="152" cy="83" r="2.8"/><circle cx="139" cy="112" r="2.8"/><circle cx="96" cy="5" r="2.8"/><circle cx="69" cy="117" r="2.8"/><circle cx="48" cy="42" r="2.8"/><circle cx="144" cy="130" r="2.8"/><circle cx="150" cy="25" r="2.8"/><circle cx="64" cy="112" r="2.8"/><circle cx="155" cy="105" r="2.8"/><circle cx="240" cy="62" r="2.8"/><circle cx="270" cy="34" r="2.8"/><circle cx="215" cy="98" r="2.8"/><circle cx="22" cy="40" r="2.8"/><circle cx="200" cy="-1" r="2.8"/><circle cx="52" cy="129" r="2.8"/><circle cx="54" cy="164" r="2.8"/><circle cx="10" cy="114" r="2.8"/><circle cx="122" cy="169" r="2.8"/><circle cx="276" cy="151" r="2.8"/><circle cx="217" cy="13" r="2.7"/><circle cx="47" cy="23" r="2.7"/><circle cx="16" cy="73" r="2.7"/><circle cx="219" cy="37" r="2.7"/><circle cx="238" cy="77" r="2.7"/><circle cx="19" cy="48" r="2.7"/><circle cx="15" cy="141" r="2.7"/><circle cx="64" cy="188" r="2.7"/><circle cx="103" cy="19" r="2.7"/><circle cx="246" cy="90" r="2.7"/><circle cx="16" cy="94" r="2.7"/><circle cx="70" cy="155" r="2.7"/><circle cx="175" cy="116" r="2.7"/><circle cx="248" cy="190" r="2.7"/><circle cx="287" cy="39" r="2.7"/><circle cx="86" cy="86" r="2.7"/><circle cx="158" cy="128" r="2.7"/><circle cx="37" cy="138" r="2.7"/><circle cx="-2" cy="176" r="2.7"/><circle cx="97" cy="115" r="2.7"/><circle cx="57" cy="107" r="2.7"/><circle cx="67" cy="172" r="2.7"/><circle cx="167" cy="4" r="2.7"/><circle cx="108" cy="95" r="2.7"/><circle cx="94" cy="56" r="2.7"/><circle cx="10" cy="124" r="2.7"/><circle cx="121" cy="15" r="2.7"/><circle cx="221" cy="158" r="2.7"/><circle cx="42" cy="184" r="2.7"/><circle cx="0" cy="132" r="2.7"/><circle cx="285" cy="117" r="2.7"/><circle cx="81" cy="105" r="2.7"/><circle cx="48" cy="58" r="2.7"/><circle cx="93" cy="127" r="2.7"/><circle cx="245" cy="-1" r="2.7"/><circle cx="24" cy="53" r="2.7"/><circle cx="258" cy="98" r="2.7"/><circle cx="48" cy="77" r="2.7"/><circle cx="68" cy="-2" r="2.7"/><circle cx="276" cy="101" r="2.7"/><circle cx="212" cy="127" r="2.7"/><circle cx="188" cy="158" r="2.7"/><circle cx="143" cy="28" r="2.7"/><circle cx="98" cy="161" r="2.7"/><circle cx="74" cy="194" r="2.7"/><circle cx="254" cy="79" r="2.7"/><circle cx="160" cy="120" r="2.7"/><circle cx="133" cy="49" r="2.7"/><circle cx="36" cy="91" r="2.7"/><circle cx="224" cy="61" r="2.7"/><circle cx="189" cy="103" r="2.7"/><circle cx="242" cy="114" r="2.7"/><circle cx="53" cy="157" r="2.7"/><circle cx="39" cy="28" r="2.7"/><circle cx="285" cy="25" r="2.7"/><circle cx="268" cy="89" r="2.7"/><circle cx="67" cy="93" r="2.7"/><circle cx="276" cy="85" r="2.7"/><circle cx="223" cy="178" r="2.7"/><circle cx="33" cy="156" r="2.7"/><circle cx="91" cy="44" r="2.7"/><circle cx="31" cy="61" r="2.7"/><circle cx="141" cy="124" r="2.7"/><circle cx="204" cy="47" r="2.6"/><circle cx="239" cy="26" r="2.6"/><circle cx="85" cy="171" r="2.6"/><circle cx="203" cy="166" r="2.6"/><circle cx="15" cy="110" r="2.6"/><circle cx="104" cy="72" r="2.6"/><circle cx="191" cy="109" r="2.6"/><circle cx="189" cy="193" r="2.6"/><circle cx="88" cy="52" r="2.6"/><circle cx="119" cy="78" r="2.6"/><circle cx="142" cy="99" r="2.6"/><circle cx="269" cy="5" r="2.6"/><circle cx="183" cy="10" r="2.6"/><circle cx="98" cy="27" r="2.6"/><circle cx="83" cy="15" r="2.6"/><circle cx="272" cy="49" r="2.6"/><circle cx="216" cy="73" r="2.6"/><circle cx="187" cy="78" r="2.6"/><circle cx="136" cy="144" r="2.6"/><circle cx="128" cy="177" r="2.6"/><circle cx="26" cy="45" r="2.6"/><circle cx="200" cy="108" r="2.6"/><circle cx="210" cy="30" r="2.6"/><circle cx="95" cy="20" r="2.6"/><circle cx="90" cy="184" r="2.6"/><circle cx="185" cy="35" r="2.6"/><circle cx="242" cy="106" r="2.6"/><circle cx="14" cy="179" r="2.6"/><circle cx="201" cy="37" r="2.6"/><circle cx="40" cy="191" r="2.6"/><circle cx="92" cy="96" r="2.6"/><circle cx="287" cy="6" r="2.6"/><circle cx="267" cy="27" r="2.6"/><circle cx="104" cy="189" r="2.6"/><circle cx="277" cy="177" r="2.6"/><circle cx="4" cy="44" r="2.6"/><circle cx="241" cy="8" r="2.6"/><circle cx="128" cy="79" r="2.6"/><circle cx="263" cy="32" r="2.6"/><circle cx="174" cy="24" r="2.6"/><circle cx="30" cy="118" r="2.6"/><circle cx="90" cy="115" r="2.6"/><circle cx="240" cy="158" r="2.6"/><circle cx="203" cy="14" r="2.6"/><circle cx="43" cy="143" r="2.6"/><circle cx="118" cy="161" r="2.6"/><circle cx="274" cy="55" r="2.6"/><circle cx="86" cy="28" r="2.5"/><circle cx="88" cy="192" r="2.5"/><circle cx="139" cy="22" r="2.5"/><circle cx="203" cy="54" r="2.5"/><circle cx="252" cy="117" r="2.5"/><circle cx="105" cy="170" r="2.5"/><circle cx="187" cy="186" r="2.5"/><circle cx="42" cy="78" r="2.5"/><circle cx="190" cy="39" r="2.5"/><circle cx="239" cy="90" r="2.5"/><circle cx="1" cy="143" r="2.5"/><circle cx="147" cy="59" r="2.5"/><circle cx="75" cy="102" r="2.5"/><circle cx="256" cy="4" r="2.5"/><circle cx="252" cy="20" r="2.5"/><circle cx="228" cy="153" r="2.5"/><circle cx="103" cy="114" r="2.5"/><circle cx="199" cy="6" r="2.5"/><circle cx="7" cy="70" r="2.5"/><circle cx="214" cy="7" r="2.5"/><circle cx="177" cy="88" r="2.5"/><circle cx="271" cy="12" r="2.5"/><circle cx="188" cy="5" r="2.5"/><circle cx="196" cy="166" r="2.5"/><circle cx="4" cy="55" r="2.5"/><circle cx="48" cy="123" r="2.5"/><circle cx="173" cy="160" r="2.5"/><circle cx="189" cy="30" r="2.5"/><circle cx="205" cy="126" r="2.5"/><circle cx="17" cy="88" r="2.5"/><circle cx="207" cy="83" r="2.5"/><circle cx="13" cy="130" r="2.5"/><circle cx="26" cy="108" r="2.5"/><circle cx="111" cy="34" r="2.5"/><circle cx="219" cy="19" r="2.5"/><circle cx="70" cy="14" r="2.5"/><circle cx="119" cy="142" r="2.5"/><circle cx="137" cy="176" r="2.4"/><circle cx="221" cy="45" r="2.4"/><circle cx="192" cy="148" r="2.4"/><circle cx="20" cy="33" r="2.4"/><circle cx="117" cy="194" r="2.4"/><circle cx="209" cy="11" r="2.4"/><circle cx="286" cy="110" r="2.4"/><circle cx="118" cy="4" r="2.4"/><circle cx="278" cy="69" r="2.4"/><circle cx="115" cy="83" r="2.4"/><circle cx="14" cy="15" r="2.4"/><circle cx="237" cy="186" r="2.4"/><circle cx="255" cy="123" r="2.4"/><circle cx="118" cy="50" r="2.4"/><circle cx="110" cy="101" r="2.4"/><circle cx="287" cy="157" r="2.4"/><circle cx="29" cy="137" r="2.4"/><circle cx="187" cy="22" r="2.4"/><circle cx="79" cy="149" r="2.4"/><circle cx="133" cy="-1" r="2.4"/><circle cx="1" cy="75" r="2.4"/><circle cx="39" cy="154" r="2.4"/><circle cx="262" cy="14" r="2.4"/><circle cx="-1" cy="194" r="2.4"/><circle cx="213" cy="90" r="2.4"/><circle cx="249" cy="75" r="2.4"/><circle cx="69" cy="85" r="2.4"/><circle cx="67" cy="194" r="2.4"/><circle cx="252" cy="65" r="2.4"/><circle cx="104" cy="141" r="2.4"/><circle cx="129" cy="128" r="2.4"/><circle cx="32" cy="110" r="2.4"/><circle cx="41" cy="6" r="2.4"/><circle cx="128" cy="142" r="2.4"/><circle cx="54" cy="7" r="2.4"/><circle cx="147" cy="45" r="2.4"/><circle cx="121" cy="65" r="2.4"/><circle cx="180" cy="57" r="2.4"/><circle cx="54" cy="25" r="2.4"/><circle cx="6" cy="35" r="2.4"/><circle cx="146" cy="66" r="2.4"/><circle cx="147" cy="2" r="2.4"/><circle cx="216" cy="67" r="2.4"/><circle cx="252" cy="92" r="2.4"/><circle cx="196" cy="64" r="2.4"/><circle cx="228" cy="10" r="2.4"/><circle cx="243" cy="185" r="2.4"/><circle cx="4" cy="95" r="2.4"/><circle cx="135" cy="55" r="2.3"/><circle cx="242" cy="48" r="2.3"/><circle cx="83" cy="33" r="2.3"/><circle cx="85" cy="79" r="2.3"/><circle cx="232" cy="30" r="2.3"/><circle cx="50" cy="107" r="2.3"/><circle cx="123" cy="9" r="2.3"/><circle cx="241" cy="147" r="2.3"/><circle cx="279" cy="116" r="2.3"/><circle cx="190" cy="51" r="2.3"/><circle cx="86" cy="165" r="2.3"/><circle cx="57" cy="188" r="2.3"/><circle cx="166" cy="10" r="2.3"/><circle cx="70" cy="164" r="2.3"/><circle cx="281" cy="30" r="2.3"/><circle cx="235" cy="17" r="2.3"/><circle cx="133" cy="87" r="2.3"/><circle cx="153" cy="30" r="2.3"/><circle cx="286" cy="131" r="2.3"/><circle cx="16" cy="187" r="2.3"/><circle cx="180" cy="143" r="2.3"/><circle cx="225" cy="86" r="2.3"/><circle cx="103" cy="103" r="2.3"/><circle cx="152" cy="149" r="2.3"/><circle cx="200" cy="20" r="2.3"/><circle cx="156" cy="90" r="2.3"/><circle cx="57" cy="19" r="2.3"/><circle cx="15" cy="65" r="2.3"/><circle cx="264" cy="1" r="2.3"/><circle cx="143" cy="71" r="2.3"/><circle cx="226" cy="4" r="2.3"/><circle cx="56" cy="171" r="2.3"/><circle cx="246" cy="118" r="2.3"/><circle cx="171" cy="133" r="2.3"/><circle cx="68" cy="28" r="2.2"/><circle cx="270" cy="60" r="2.2"/><circle cx="128" cy="153" r="2.2"/><circle cx="159" cy="34" r="2.2"/><circle cx="21" cy="137" r="2.2"/><circle cx="139" cy="104" r="2.2"/><circle cx="119" cy="155" r="2.2"/><circle cx="29" cy="194" r="2.2"/><circle cx="210" cy="64" r="2.2"/><circle cx="149" cy="100" r="2.2"/><circle cx="187" cy="143" r="2.2"/><circle cx="5" cy="112" r="2.2"/><circle cx="129" cy="70" r="2.2"/><circle cx="204" cy="112" r="2.2"/><circle cx="83" cy="-2" r="2.2"/><circle cx="177" cy="135" r="2.2"/><circle cx="209" cy="51" r="2.2"/><circle cx="138" cy="68" r="2.2"/><circle cx="153" cy="161" r="2.2"/><circle cx="-1" cy="186" r="2.2"/><circle cx="34" cy="125" r="2.2"/><circle cx="172" cy="39" r="2.2"/><circle cx="82" cy="69" r="2.2"/><circle cx="272" cy="161" r="2.2"/><circle cx="52" cy="18" r="2.2"/><circle cx="260" cy="63" r="2.2"/><circle cx="232" cy="121" r="2.2"/><circle cx="216" cy="187" r="2.2"/><circle cx="260" cy="170" r="2.2"/><circle cx="247" cy="174" r="2.2"/><circle cx="286" cy="163" r="2.2"/><circle cx="254" cy="165" r="2.2"/><circle cx="56" cy="151" r="2.2"/><circle cx="224" cy="80" r="2.2"/><circle cx="69" cy="53" r="2.2"/><circle cx="15" cy="56" r="2.2"/><circle cx="256" cy="31" r="2.1"/><circle cx="287" cy="32" r="2.1"/><circle cx="144" cy="9" r="2.1"/><circle cx="181" cy="103" r="2.1"/><circle cx="266" cy="129" r="2.1"/><circle cx="156" cy="166" r="2.1"/><circle cx="67" cy="149" r="2.1"/><circle cx="38" cy="61" r="2.1"/><circle cx="78" cy="180" r="2.1"/><circle cx="115" cy="104" r="2.1"/><circle cx="21" cy="92" r="2.1"/><circle cx="63" cy="176" r="2.1"/><circle cx="167" cy="62" r="2.1"/><circle cx="123" cy="192" r="2.1"/><circle cx="28" cy="8" r="2.1"/><circle cx="208" cy="94" r="2.1"/><circle cx="179" cy="63" r="2.1"/><circle cx="87" cy="5" r="2.1"/><circle cx="180" cy="42" r="2.1"/><circle cx="147" cy="79" r="2.1"/><circle cx="109" cy="15" r="2.1"/><circle cx="163" cy="142" r="2.1"/><circle cx="94" cy="64" r="2.1"/><circle cx="108" cy="89" r="2.1"/><circle cx="286" cy="103" r="2.1"/><circle cx="270" cy="107" r="2.1"/><circle cx="178" cy="194" r="2.1"/><circle cx="100" cy="56" r="2.1"/><circle cx="-1" cy="16" r="2.1"/><circle cx="139" cy="92" r="2.1"/><circle cx="277" cy="182" r="2.1"/><circle cx="37" cy="45" r="2.1"/><circle cx="274" cy="17" r="2.1"/><circle cx="177" cy="76" r="2"/><circle cx="126" cy="26" r="2"/><circle cx="278" cy="166" r="2"/><circle cx="92" cy="25" r="2"/><circle cx="172" cy="173" r="2"/><circle cx="68" cy="66" r="2"/><circle cx="207" cy="36" r="2"/><circle cx="91" cy="154" r="2"/><circle cx="141" cy="152" r="2"/><circle cx="236" cy="140" r="2"/><circle cx="90" cy="178" r="2"/><circle cx="192" cy="180" r="2"/><circle cx="2" cy="3" r="2"/><circle cx="74" cy="160" r="2"/><circle cx="50" cy="3" r="2"/><circle cx="109" cy="116" r="2"/><circle cx="81" cy="52" r="2"/><circle cx="217" cy="174" r="2"/><circle cx="160" cy="46" r="2"/><circle cx="107" cy="155" r="2"/><circle cx="33" cy="5" r="2"/><circle cx="216" cy="47" r="2"/><circle cx="286" cy="188" r="2"/><circle cx="226" cy="30" r="2"/><circle cx="193" cy="8" r="2"/><circle cx="280" cy="55" r="2"/><circle cx="131" cy="4" r="2"/><circle cx="144" cy="23" r="1.9"/><circle cx="110" cy="123" r="1.9"/><circle cx="33" cy="19" r="1.9"/><circle cx="37" cy="109" r="1.9"/><circle cx="152" cy="120" r="1.9"/><circle cx="240" cy="171" r="1.9"/><circle cx="45" cy="188" r="1.9"/><circle cx="85" cy="112" r="1.9"/><circle cx="222" cy="99" r="1.9"/><circle cx="152" cy="3" r="1.9"/><circle cx="103" cy="35" r="1.9"/><circle cx="134" cy="104" r="1.9"/><circle cx="270" cy="84" r="1.9"/><circle cx="103" cy="184" r="1.9"/><circle cx="7" cy="27" r="1.9"/><circle cx="166" cy="187" r="1.9"/><circle cx="264" cy="151" r="1.9"/><circle cx="154" cy="175" r="1.9"/><circle cx="244" cy="75" r="1.9"/><circle cx="113" cy="3" r="1.9"/><circle cx="72" cy="97" r="1.9"/><circle cx="122" cy="21" r="1.9"/><circle cx="213" cy="-2" r="1.9"/><circle cx="172" cy="-1" r="1.9"/><circle cx="17" cy="152" r="1.9"/><circle cx="106" cy="67" r="1.9"/><circle cx="38" cy="159" r="1.9"/><circle cx="280" cy="-2" r="1.9"/><circle cx="64" cy="182" r="1.9"/><circle cx="248" cy="137" r="1.9"/><circle cx="135" cy="18" r="1.9"/><circle cx="100" cy="167" r="1.9"/><circle cx="81" cy="88" r="1.9"/><circle cx="81" cy="74" r="1.9"/><circle cx="96" cy="101" r="1.9"/><circle cx="31" cy="97" r="1.9"/><circle cx="157" cy="1" r="1.9"/><circle cx="61" cy="15" r="1.9"/><circle cx="11" cy="172" r="1.8"/><circle cx="286" cy="11" r="1.8"/><circle cx="252" cy="86" r="1.8"/><circle cx="87" cy="92" r="1.8"/><circle cx="277" cy="130" r="1.8"/><circle cx="59" cy="54" r="1.8"/><circle cx="169" cy="115" r="1.8"/><circle cx="124" cy="180" r="1.8"/><circle cx="225" cy="121" r="1.8"/><circle cx="223" cy="128" r="1.8"/><circle cx="29" cy="86" r="1.8"/><circle cx="276" cy="44" r="1.8"/><circle cx="174" cy="83" r="1.8"/><circle cx="133" cy="114" r="1.8"/><circle cx="72" cy="1" r="1.8"/><circle cx="18" cy="12" r="1.8"/><circle cx="12" cy="184" r="1.8"/><circle cx="228" cy="147" r="1.8"/><circle cx="196" cy="104" r="1.8"/><circle cx="108" cy="20" r="1.8"/><circle cx="248" cy="158" r="1.8"/><circle cx="10" cy="109" r="1.8"/><circle cx="227" cy="173" r="1.8"/><circle cx="6" cy="118" r="1.8"/><circle cx="227" cy="106" r="1.8"/><circle cx="90" cy="141" r="1.8"/><circle cx="170" cy="14" r="1.8"/><circle cx="93" cy="78" r="1.8"/><circle cx="227" cy="-1" r="1.7"/><circle cx="272" cy="193" r="1.7"/><circle cx="226" cy="46" r="1.7"/><circle cx="259" cy="138" r="1.7"/><circle cx="9" cy="96" r="1.7"/><circle cx="59" cy="79" r="1.7"/><circle cx="139" cy="34" r="1.7"/><circle cx="9" cy="3" r="1.7"/><circle cx="78" cy="64" r="1.7"/><circle cx="213" cy="147" r="1.7"/><circle cx="40" cy="66" r="1.7"/><circle cx="53" cy="77" r="1.7"/><circle cx="208" cy="166" r="1.7"/><circle cx="127" cy="104" r="1.7"/><circle cx="271" cy="188" r="1.7"/><circle cx="112" cy="27" r="1.7"/><circle cx="152" cy="184" r="1.7"/><circle cx="200" cy="133" r="1.7"/><circle cx="142" cy="137" r="1.7"/><circle cx="35" cy="32" r="1.7"/><circle cx="64" cy="143" r="1.7"/><circle cx="262" cy="104" r="1.7"/><circle cx="142" cy="76" r="1.7"/><circle cx="71" cy="46" r="1.7"/><circle cx="4" cy="172" r="1.7"/><circle cx="130" cy="43" r="1.7"/><circle cx="59" cy="25" r="1.7"/><circle cx="236" cy="72" r="1.7"/><circle cx="181" cy="170" r="1.7"/><circle cx="127" cy="188" r="1.7"/><circle cx="6" cy="129" r="1.7"/><circle cx="178" cy="180" r="1.7"/><circle cx="74" cy="151" r="1.7"/><circle cx="233" cy="190" r="1.7"/><circle cx="252" cy="134" r="1.7"/><circle cx="181" cy="129" r="1.7"/><circle cx="200" cy="187" r="1.7"/><circle cx="164" cy="102" r="1.6"/><circle cx="45" cy="117" r="1.6"/><circle cx="95" cy="121" r="1.6"/><circle cx="59" cy="193" r="1.6"/><circle cx="202" cy="139" r="1.6"/><circle cx="29" cy="57" r="1.6"/><circle cx="238" cy="152" r="1.6"/><circle cx="154" cy="20" r="1.6"/><circle cx="0" cy="52" r="1.6"/><circle cx="115" cy="96" r="1.6"/><circle cx="23" cy="8" r="1.6"/><circle cx="137" cy="118" r="1.6"/><circle cx="264" cy="185" r="1.6"/><circle cx="132" cy="82" r="1.6"/><circle cx="99" cy="176" r="1.6"/><circle cx="47" cy="17" r="1.6"/><circle cx="215" cy="17" r="1.6"/><circle cx="88" cy="128" r="1.6"/><circle cx="138" cy="138" r="1.6"/><circle cx="17" cy="104" r="1.6"/><circle cx="99" cy="78" r="1.6"/><circle cx="285" cy="76" r="1.6"/><circle cx="158" cy="70" r="1.6"/><circle cx="25" cy="134" r="1.6"/><circle cx="0" cy="137" r="1.6"/><circle cx="78" cy="35" r="1.6"/><circle cx="249" cy="12" r="1.6"/><circle cx="158" cy="58" r="1.6"/><circle cx="262" cy="37" r="1.6"/><circle cx="61" cy="65" r="1.6"/><circle cx="204" cy="171" r="1.6"/><circle cx="119" cy="40" r="1.6"/><circle cx="109" cy="62" r="1.6"/><circle cx="242" cy="3" r="1.6"/><circle cx="21" cy="122" r="1.5"/><circle cx="182" cy="5" r="1.5"/><circle cx="100" cy="44" r="1.5"/><circle cx="22" cy="72" r="1.5"/><circle cx="21" cy="107" r="1.5"/><circle cx="240" cy="119" r="1.5"/><circle cx="108" cy="136" r="1.5"/><circle cx="266" cy="49" r="1.5"/><circle cx="222" cy="134" r="1.5"/><circle cx="194" cy="3" r="1.5"/><circle cx="162" cy="72" r="1.5"/><circle cx="186" cy="14" r="1.5"/><circle cx="262" cy="156" r="1.5"/><circle cx="203" cy="121" r="1.5"/><circle cx="213" cy="24" r="1.5"/></g>
</g>
<rect x="16.7" y="1168.3" width="59.8" height="2.2" fill="#f8f8f8" stroke="#777" stroke-width="0.5"/>
</g>
<rect x="14.7" y="982.7" width="284.6" height="191.6" fill="none" stroke="#000" stroke-width="1.6"/>
<clipPath id="clip102"><rect x="325.5" y="982.7" width="285.3" height="191.6"/></clipPath>
<g clip-path="url(#clip102)">
<rect x="325.5" y="982.7" width="285.3" height="191.6" fill="#dc9e6e" stroke="none" stroke-width="0"/>
<rect x="325.5" y="982.7" width="285.3" height="191.6" fill="#f2d6b8" filter="url(#spk)" opacity="0.65"/>
<rect x="325.5" y="982.7" width="285.3" height="191.6" fill="#c88056" filter="url(#mot)" opacity="0.3"/>
<g transform="translate(325.5,982.7)">
<circle cx="42" cy="118" r="5" fill="#f2dcc6" opacity="0.55"/>
<circle cx="203" cy="116" r="6.3" fill="#f2dcc6" opacity="0.55"/>
<circle cx="176" cy="108" r="4.3" fill="#f2dcc6" opacity="0.55"/>
<circle cx="151" cy="118" r="7.1" fill="#f2dcc6" opacity="0.55"/>
<circle cx="250" cy="140" r="6.3" fill="#f2dcc6" opacity="0.55"/>
<circle cx="64" cy="24" r="8.9" fill="#f2dcc6" opacity="0.55"/>
<circle cx="196" cy="116" r="6.7" fill="#f2dcc6" opacity="0.55"/>
<circle cx="142" cy="42" r="7.2" fill="#f2dcc6" opacity="0.55"/>
<circle cx="41" cy="119" r="7.8" fill="#f2dcc6" opacity="0.55"/>
<circle cx="191" cy="47" r="4.6" fill="#f2dcc6" opacity="0.55"/>
<circle cx="94" cy="131" r="7.1" fill="#f2dcc6" opacity="0.55"/>
<circle cx="213" cy="82" r="6.4" fill="#f2dcc6" opacity="0.55"/>
<circle cx="258" cy="31" r="5.2" fill="#f2dcc6" opacity="0.55"/>
<circle cx="167" cy="120" r="6.6" fill="#f2dcc6" opacity="0.55"/>
<circle cx="159" cy="84" r="8" fill="#f2dcc6" opacity="0.55"/>
<circle cx="253" cy="158" r="7.8" fill="#f2dcc6" opacity="0.55"/>
<circle cx="134" cy="181" r="6.7" fill="#f2dcc6" opacity="0.55"/>
<circle cx="178" cy="166" r="8.1" fill="#f2dcc6" opacity="0.55"/>
<circle cx="111" cy="142" r="7.6" fill="#f2dcc6" opacity="0.55"/>
<circle cx="261" cy="119" r="7.2" fill="#f2dcc6" opacity="0.55"/>
<circle cx="277" cy="101" r="6.4" fill="#f2dcc6" opacity="0.55"/>
<circle cx="267" cy="180" r="5" fill="#f2dcc6" opacity="0.55"/>
<circle cx="20" cy="164" r="9.3" fill="#f2dcc6" opacity="0.55"/>
<circle cx="109" cy="48" r="8.1" fill="#f2dcc6" opacity="0.55"/>
<circle cx="268" cy="40" r="6.7" fill="#f2dcc6" opacity="0.55"/>
<circle cx="189" cy="42" r="6.5" fill="#f2dcc6" opacity="0.55"/>
<circle cx="40" cy="91" r="5.4" fill="#f2dcc6" opacity="0.55"/>
<circle cx="23" cy="74" r="4.9" fill="#f2dcc6" opacity="0.55"/>
<circle cx="33" cy="28" r="6.5" fill="#f2dcc6" opacity="0.55"/>
<circle cx="90" cy="139" r="6.5" fill="#f2dcc6" opacity="0.55"/>
<circle cx="69" cy="36" r="5.8" fill="#f2dcc6" opacity="0.55"/>
<circle cx="212" cy="38" r="6.8" fill="#f2dcc6" opacity="0.55"/>
<circle cx="230" cy="158" r="6.8" fill="#f2dcc6" opacity="0.55"/>
<circle cx="240" cy="123" r="5.4" fill="#f2dcc6" opacity="0.55"/>
<circle cx="26" cy="32" r="8.7" fill="#f2dcc6" opacity="0.55"/>
<circle cx="111" cy="160" r="9.8" fill="#f2dcc6" opacity="0.55"/>
<circle cx="262" cy="89" r="4" fill="#f2dcc6" opacity="0.55"/>
<circle cx="78" cy="41" r="7.9" fill="#f2dcc6" opacity="0.55"/>
<circle cx="200" cy="176" r="8.2" fill="#f2dcc6" opacity="0.55"/>
<circle cx="273" cy="122" r="6.8" fill="#f2dcc6" opacity="0.55"/>
<g fill="#efe8e5" stroke="#c98466" stroke-width="0.8"><circle cx="240" cy="186" r="12.9"/><circle cx="16" cy="115" r="12.8"/><circle cx="264" cy="122" r="12.8"/><circle cx="231" cy="52" r="12.8"/><circle cx="140" cy="-10" r="12.8"/><circle cx="235" cy="110" r="12.8"/><circle cx="43" cy="192" r="12.7"/><circle cx="53" cy="-5" r="12.6"/><circle cx="212" cy="5" r="12.6"/><circle cx="-5" cy="147" r="12.5"/><circle cx="178" cy="130" r="12.4"/><circle cx="207" cy="143" r="12.4"/><circle cx="42" cy="79" r="12.4"/><circle cx="171" cy="175" r="12.3"/><circle cx="188" cy="93" r="12.2"/><circle cx="65" cy="28" r="11.9"/><circle cx="-10" cy="176" r="11.8"/><circle cx="54" cy="113" r="11.8"/><circle cx="151" cy="130" r="11.8"/><circle cx="296" cy="42" r="11.6"/><circle cx="-3" cy="201" r="11.5"/><circle cx="112" cy="133" r="11.5"/><circle cx="1" cy="4" r="11.5"/><circle cx="88" cy="190" r="11.5"/><circle cx="208" cy="190" r="11.4"/><circle cx="257" cy="67" r="11.2"/><circle cx="215" cy="75" r="11"/><circle cx="156" cy="82" r="11"/><circle cx="128" cy="79" r="10.9"/><circle cx="259" cy="162" r="10.8"/><circle cx="173" cy="36" r="10.8"/><circle cx="241" cy="3" r="10.8"/><circle cx="89" cy="87" r="10.5"/><circle cx="165" cy="202" r="10.4"/><circle cx="105" cy="67" r="10.4"/><circle cx="206" cy="111" r="10.4"/><circle cx="39" cy="16" r="10.4"/><circle cx="111" cy="202" r="10.4"/><circle cx="127" cy="154" r="10.4"/><circle cx="92" cy="111" r="10.3"/><circle cx="183" cy="63" r="10.3"/><circle cx="99" cy="17" r="9.8"/><circle cx="100" cy="161" r="9.7"/><circle cx="108" cy="-8" r="9.7"/><circle cx="-9" cy="53" r="9.7"/><circle cx="257" cy="97" r="9.4"/><circle cx="135" cy="36" r="9.4"/><circle cx="221" cy="164" r="9.4"/><circle cx="34" cy="48" r="9.2"/><circle cx="9" cy="70" r="9.2"/><circle cx="3" cy="91" r="9.1"/><circle cx="278" cy="174" r="9"/><circle cx="287" cy="11" r="9"/><circle cx="167" cy="107" r="8.9"/><circle cx="74" cy="153" r="8.9"/><circle cx="15" cy="26" r="8.8"/><circle cx="76" cy="71" r="8.7"/><circle cx="112" cy="93" r="8.7"/><circle cx="45" cy="139" r="8.7"/><circle cx="283" cy="69" r="8.7"/><circle cx="17" cy="190" r="8.5"/><circle cx="260" cy="15" r="8.5"/><circle cx="171" cy="-2" r="8.4"/><circle cx="57" cy="166" r="8.4"/><circle cx="240" cy="30" r="8.3"/><circle cx="290" cy="117" r="8.3"/><circle cx="264" cy="191" r="8.3"/><circle cx="288" cy="153" r="8.3"/><circle cx="27" cy="163" r="8.2"/><circle cx="124" cy="19" r="8"/><circle cx="143" cy="63" r="8"/><circle cx="197" cy="33" r="8"/><circle cx="136" cy="114" r="8"/><circle cx="288" cy="198" r="7.9"/><circle cx="187" cy="13" r="7.9"/><circle cx="22" cy="145" r="7.9"/><circle cx="233" cy="146" r="7.9"/><circle cx="139" cy="170" r="7.8"/><circle cx="163" cy="17" r="7.8"/><circle cx="78" cy="-2" r="7.7"/><circle cx="97" cy="46" r="7.7"/><circle cx="269" cy="46" r="7.7"/><circle cx="253" cy="44" r="7.6"/><circle cx="146" cy="196" r="7.6"/><circle cx="116" cy="47" r="7.6"/><circle cx="288" cy="94" r="7.6"/><circle cx="11" cy="44" r="7.5"/><circle cx="125" cy="184" r="7.5"/><circle cx="235" cy="84" r="7.5"/><circle cx="-7" cy="32" r="7.5"/><circle cx="58" cy="52" r="7.5"/><circle cx="259" cy="-6" r="7.5"/><circle cx="90" cy="141" r="7.5"/><circle cx="72" cy="135" r="7.4"/><circle cx="9" cy="164" r="7.4"/><circle cx="29" cy="97" r="7.4"/><circle cx="141" cy="12" r="7.4"/><circle cx="78" cy="44" r="7.4"/><circle cx="276" cy="28" r="7.3"/><circle cx="60" cy="93" r="7.3"/><circle cx="254" cy="142" r="7.3"/><circle cx="164" cy="151" r="7.3"/><circle cx="161" cy="60" r="7.2"/><circle cx="215" cy="30" r="7.2"/><circle cx="155" cy="45" r="7.1"/><circle cx="67" cy="194" r="7.1"/><circle cx="193" cy="164" r="7.1"/><circle cx="76" cy="172" r="7"/><circle cx="-6" cy="116" r="6.9"/><circle cx="272" cy="145" r="6.9"/><circle cx="185" cy="194" r="6.9"/><circle cx="138" cy="98" r="6.8"/><circle cx="204" cy="53" r="6.8"/><circle cx="105" cy="179" r="6.7"/><circle cx="117" cy="110" r="6.7"/><circle cx="23" cy="-4" r="6.5"/><circle cx="189" cy="-3" r="6.4"/><circle cx="85" cy="30" r="6.4"/><circle cx="270" cy="81" r="6.4"/><circle cx="223" cy="130" r="6.3"/><circle cx="147" cy="154" r="6.3"/><circle cx="285" cy="133" r="6.2"/><circle cx="274" cy="-2" r="6.1"/><circle cx="125" cy="60" r="6.1"/><circle cx="226" cy="20" r="6"/><circle cx="131" cy="132" r="6"/><circle cx="34" cy="126" r="6"/><circle cx="74" cy="113" r="5.9"/><circle cx="218" cy="96" r="5.8"/><circle cx="150" cy="30" r="5.7"/><circle cx="42" cy="158" r="5.7"/><circle cx="188" cy="150" r="5.7"/><circle cx="44" cy="33" r="5.6"/><circle cx="85" cy="58" r="5.5"/><circle cx="240" cy="165" r="5.5"/><circle cx="188" cy="113" r="5.5"/><circle cx="30" cy="32" r="5.3"/><circle cx="237" cy="131" r="5.3"/><circle cx="155" cy="5" r="5.2"/><circle cx="110" cy="32" r="5.1"/><circle cx="151" cy="107" r="5.1"/><circle cx="260" cy="31" r="5"/><circle cx="77" cy="100" r="4.8"/><circle cx="152" cy="177" r="4.8"/><circle cx="189" cy="181" r="4.6"/><circle cx="18" cy="175" r="4.5"/><circle cx="118" cy="168" r="4.5"/><circle cx="119" cy="5" r="4.5"/><circle cx="2" cy="129" r="4.5"/><circle cx="81" cy="124" r="4.5"/><circle cx="177" cy="156" r="4.5"/><circle cx="18" cy="89" r="4.4"/><circle cx="271" cy="104" r="4.4"/><circle cx="204" cy="171" r="4.4"/><circle cx="189" cy="46" r="4.4"/><circle cx="195" cy="76" r="4.3"/><circle cx="282" cy="54" r="4.3"/><circle cx="25" cy="61" r="4.3"/><circle cx="60" cy="66" r="4.2"/><circle cx="19" cy="10" r="4.2"/><circle cx="93" cy="3" r="4.2"/><circle cx="258" cy="179" r="4.2"/><circle cx="197" cy="126" r="4.2"/><circle cx="67" cy="8" r="4.2"/><circle cx="59" cy="141" r="4.1"/><circle cx="175" cy="80" r="4.1"/><circle cx="12" cy="135" r="4"/><circle cx="24" cy="75" r="4"/><circle cx="54" cy="152" r="4"/><circle cx="155" cy="165" r="3.9"/><circle cx="35" cy="114" r="3.9"/><circle cx="72" cy="86" r="3.9"/><circle cx="61" cy="182" r="3.8"/><circle cx="35" cy="63" r="3.8"/><circle cx="39" cy="173" r="3.8"/><circle cx="93" cy="127" r="3.8"/><circle cx="139" cy="50" r="3.7"/><circle cx="140" cy="144" r="3.6"/><circle cx="83" cy="16" r="3.6"/><circle cx="200" cy="20" r="3.6"/><circle cx="58" cy="130" r="3.5"/><circle cx="273" cy="93" r="3.5"/><circle cx="89" cy="172" r="3.5"/><circle cx="170" cy="71" r="3.5"/><circle cx="246" cy="153" r="3.4"/><circle cx="44" cy="97" r="3.3"/><circle cx="241" cy="73" r="3.3"/><circle cx="47" cy="58" r="3.3"/><circle cx="65" cy="81" r="3.3"/><circle cx="204" cy="87" r="3.2"/><circle cx="71" cy="55" r="3.2"/><circle cx="281" cy="105" r="3.2"/><circle cx="201" cy="66" r="3.1"/><circle cx="227" cy="34" r="3.1"/><circle cx="207" cy="95" r="3.1"/><circle cx="28" cy="181" r="3"/><circle cx="138" cy="185" r="3"/><circle cx="101" cy="34" r="2.9"/><circle cx="212" cy="126" r="2.9"/><circle cx="124" cy="121" r="2.9"/><circle cx="155" cy="188" r="2.8"/><circle cx="212" cy="43" r="2.8"/><circle cx="111" cy="8" r="2.8"/><circle cx="84" cy="162" r="2.7"/><circle cx="222" cy="180" r="2.7"/><circle cx="68" cy="123" r="2.6"/><circle cx="33" cy="2" r="2.6"/><circle cx="11" cy="56" r="2.6"/><circle cx="173" cy="52" r="2.6"/><circle cx="51" cy="41" r="2.6"/><circle cx="244" cy="124" r="2.6"/><circle cx="126" cy="105" r="2.6"/><circle cx="218" cy="120" r="2.5"/><circle cx="13" cy="152" r="2.5"/><circle cx="87" cy="153" r="2.5"/><circle cx="22" cy="40" r="2.4"/><circle cx="23" cy="131" r="2.4"/><circle cx="47" cy="174" r="2.4"/></g>
</g>
<rect x="327.5" y="1168.3" width="59.9" height="2.2" fill="#f8f8f8" stroke="#777" stroke-width="0.5"/>
</g>
<rect x="325.5" y="982.7" width="285.3" height="191.6" fill="none" stroke="#000" stroke-width="1.6"/>
<rect x="120.5" y="1050.9" width="71.2" height="51.6" fill="none" stroke="#000" stroke-width="2.2" stroke-dasharray="5.5,3.5"/>
<path d="M191.7 1050.9L325.5 982.7M191.7 1102.5L325.5 1174.3" stroke="#000" stroke-width="2.2" stroke-dasharray="10,4" fill="none"/>
<clipPath id="clip201"><rect x="14.7" y="1218.6" width="284.6" height="190.9"/></clipPath>
<g clip-path="url(#clip201)">
<rect x="14.7" y="1218.6" width="284.6" height="190.9" fill="#ecc696" stroke="none" stroke-width="0"/>
<rect x="14.7" y="1218.6" width="284.6" height="190.9" fill="#f8ecd8" filter="url(#spk)" opacity="0.7"/>
<rect x="14.7" y="1218.6" width="284.6" height="190.9" fill="#daa06c" filter="url(#mot)" opacity="0.25"/>
<g transform="translate(14.7,1218.6)">
<path d="M-3 7Q3 13 1 19M1 19Q7 16 9 16M1 19Q-1 20 0 28M0 28Q9 31 10 25M0 38Q7 35 6 36M0 38Q1 44 0 42M0 42Q5 47 10 44M0 42Q3 53 0 53M0 53Q3 54 0 60M0 60Q3 61 9 59M-1 79Q5 77 9 83M-1 79Q-1 84 -1 87M1 100Q7 100 10 98M1 100Q-4 106 -3 108M-3 108Q2 107 5 105M-3 118Q0 119 0 126M0 126Q4 125 11 124M1 137Q1 139 11 134M1 137Q5 136 1 142M1 142Q0 144 -2 153M-2 153Q3 153 6 155M-2 153Q1 156 0 164M0 164Q4 171 2 168M2 168Q3 170 11 170M2 168Q-3 178 0 181M0 181Q4 177 5 176M0 192Q4 191 12 191M0 192Q0 197 -3 197M11 3Q11 8 9 7M9 7Q7 9 14 9M9 16Q12 14 15 15M9 16Q8 24 10 25M10 25Q12 22 19 25M10 25Q11 28 6 36M6 36Q15 32 21 37M10 44Q8 48 9 54M9 54Q17 52 16 57M9 54Q12 59 9 59M9 59Q9 67 8 74M8 74Q8 77 18 72M12 86Q15 95 10 98M10 98Q17 98 19 97M10 98Q6 106 5 105M8 116Q10 119 11 124M11 124Q16 128 20 126M11 124Q8 126 11 134M11 134Q13 133 15 135M11 134Q12 136 12 147M12 147Q16 143 18 145M12 147Q6 148 6 155M6 155Q9 153 17 156M6 155Q9 155 6 160M6 160Q15 158 14 164M6 160Q8 163 11 170M11 170Q11 174 19 170M11 170Q12 174 5 176M12 196Q16 194 18 194M16 1Q17 0 24 0M14 9Q15 13 24 7M14 9Q15 8 15 15M15 15Q19 23 19 25M19 25Q22 33 21 37M21 37Q21 35 23 34M18 46Q22 56 16 57M16 57Q11 60 14 65M14 65Q23 62 24 61M18 72Q19 77 18 80M18 80Q19 83 15 88M19 97Q24 102 25 99M20 109Q20 103 25 106M14 114Q16 120 20 126M20 126Q24 123 27 125M20 126Q20 130 15 135M15 135Q24 137 23 133M15 135Q20 136 18 145M18 145Q17 146 23 144M17 156Q20 161 14 164M14 164Q14 165 24 162M19 170Q23 169 29 169M19 170Q15 171 15 177M19 190Q25 185 24 188M19 190Q19 194 18 194M24 0Q34 3 38 -3M24 7Q26 13 23 16M23 16Q25 18 34 16M27 29Q25 33 23 34M23 34Q27 34 38 34M25 42Q34 40 38 46M25 42Q28 42 26 50M26 50Q26 51 35 55M26 50Q21 52 24 61M24 61Q31 67 38 64M24 61Q31 65 29 70M29 70Q36 74 34 69M28 82Q30 82 36 82M28 82Q25 89 28 89M25 106Q33 104 35 109M25 106Q29 110 26 113M26 113Q30 113 37 120M26 113Q22 118 27 125M24 162Q28 160 35 164M24 162Q29 163 29 169M29 169Q27 168 36 171M26 180Q32 177 37 182M26 180Q28 183 24 188M24 188Q32 182 33 185M24 188Q25 199 29 200M29 200Q29 201 35 200M38 -3Q39 6 37 10M37 10Q32 17 34 16M34 16Q36 20 47 19M34 16Q33 17 37 25M37 25Q37 30 38 34M38 46Q38 47 43 46M35 55Q40 57 46 54M35 55Q40 56 38 64M34 69Q35 79 36 82M36 82Q37 88 36 88M36 88Q38 83 44 88M37 100Q46 104 47 102M37 100Q31 106 35 109M35 109Q39 105 44 106M37 120Q42 121 43 113M37 120Q37 127 32 129M32 129Q36 121 46 122M32 129Q37 133 37 132M37 132Q47 136 48 137M37 132Q40 136 33 143M33 143Q42 148 44 144M36 153Q45 147 47 150M35 164Q40 165 46 164M35 164Q35 163 36 171M37 182Q45 178 43 176M33 185Q42 190 43 192M35 200Q41 202 43 196M47 0Q52 1 50 0M47 0Q47 0 42 10M42 10Q43 10 47 19M47 19Q47 21 50 15M42 23Q48 27 50 30M42 23Q42 32 44 34M43 46Q44 42 52 43M47 64Q47 63 42 71M44 88Q48 92 47 102M47 102Q50 104 51 100M44 106Q48 107 53 109M43 113Q47 118 46 122M46 122Q45 119 53 125M48 137Q50 135 51 135M45 173Q43 176 43 176M43 176Q46 180 54 178M43 176Q46 180 43 192M43 192Q45 198 43 196M50 0Q63 -3 65 -2M52 8Q58 11 66 6M52 8Q51 16 50 15M55 33Q55 38 62 33M52 43Q51 43 53 54M53 54Q58 54 64 56M53 54Q59 62 55 63M50 72Q56 76 64 73M50 80Q56 82 63 83M50 80Q53 84 50 89M50 89Q50 99 51 100M51 100Q57 102 65 101M51 100Q48 105 53 109M53 109Q57 111 64 110M53 109Q56 115 50 115M50 115Q50 122 53 125M53 125Q63 128 65 125M54 146Q52 155 57 154M57 154Q58 160 52 163M53 167Q60 171 64 170M53 167Q58 170 54 178M54 178Q60 176 66 181M52 189Q57 183 62 186M52 201Q60 204 63 201M65 -2Q71 0 73 -2M65 -2Q62 6 66 6M66 6Q66 9 69 6M63 20Q70 19 72 14M61 29Q67 29 74 26M61 29Q60 31 62 33M65 45Q71 45 71 45M65 45Q66 47 64 56M64 56Q71 53 68 57M62 66Q65 66 64 73M64 73Q70 71 71 68M63 83Q71 81 69 81M63 83Q61 85 60 87M65 101Q65 101 74 102M65 101Q62 106 64 110M65 119Q63 120 65 125M65 125Q70 124 71 124M59 134Q65 130 75 136M59 134Q58 137 65 145M60 151Q69 154 74 151M62 158Q67 166 64 170M64 170Q64 174 66 181M66 181Q73 182 72 176M66 181Q67 182 62 186M62 186Q68 182 73 187M62 186Q60 196 63 201M69 6Q77 8 79 5M69 6Q72 9 72 14M72 14Q74 24 74 26M74 26Q71 22 77 26M72 37Q69 43 71 45M71 45Q69 49 68 57M75 66Q80 61 81 60M71 68Q67 70 69 81M69 81Q73 85 77 82M71 90Q75 90 83 89M71 90Q71 99 74 102M74 102Q79 98 84 99M73 109Q74 105 79 104M71 124Q76 130 75 136M75 136Q79 139 84 137M73 140Q79 141 80 142M74 151Q74 156 78 153M74 151Q74 157 70 161M70 161Q72 165 81 164M70 161Q69 165 73 168M72 176Q72 175 81 176M72 176Q71 183 73 187M73 187Q79 193 77 190M73 187Q77 194 74 196M79 5Q80 5 88 7M79 5Q79 10 78 17M78 17Q79 23 77 26M77 26Q79 31 91 26M77 26Q81 26 78 34M78 34Q76 40 77 44M77 44Q83 39 91 43M80 53Q85 54 92 50M81 60Q86 69 83 69M83 69Q81 77 77 82M83 89Q85 95 88 92M84 99Q87 103 90 99M82 118Q83 114 87 113M82 118Q88 117 84 124M84 124Q83 131 84 137M80 142Q85 145 87 140M81 164Q81 168 91 163M78 171Q82 168 89 173M81 176Q85 178 91 176M83 197Q86 196 88 196M88 7Q99 10 102 7M88 7Q87 13 88 16M88 16Q92 17 99 18M88 16Q93 24 91 26M91 26Q92 34 91 36M91 36Q93 43 91 43M91 43Q94 41 101 42M91 43Q92 47 92 50M92 50Q97 48 95 52M92 50Q87 52 88 63M93 77Q97 81 96 82M93 77Q89 89 88 92M90 99Q91 109 93 109M93 109Q87 112 87 113M87 113Q90 117 97 115M90 128Q93 128 88 137M88 137Q85 143 87 140M87 140Q97 139 100 146M88 149Q88 149 98 150M88 149Q86 151 91 163M89 173Q96 173 100 169M89 173Q94 176 91 176M89 186Q88 193 88 196M88 196Q94 190 101 195M97 1Q98 1 102 7M102 7Q108 8 106 8M99 18Q105 14 104 15M99 18Q100 22 98 26M98 26Q94 35 98 36M98 36Q98 39 105 32M100 60Q106 59 109 60M100 60Q103 70 99 71M96 82Q103 83 111 77M96 82Q99 84 101 93M101 93Q106 86 107 87M99 100Q100 95 110 96M97 115Q100 110 111 113M99 126Q95 125 95 133M95 133Q100 143 100 146M100 146Q108 143 108 144M100 146Q96 149 98 150M98 150Q105 147 104 153M100 169Q107 174 104 174M100 169Q102 178 97 180M98 185Q103 182 107 186M98 185Q96 190 101 195M101 195Q102 192 105 197M109 -1Q108 0 116 -1M104 15Q115 16 120 19M106 24Q109 22 117 25M104 56Q106 59 109 60M109 60Q114 65 115 61M109 60Q112 60 108 70M108 70Q110 73 118 70M111 77Q109 86 107 87M107 87Q108 93 115 92M107 87Q112 89 110 96M104 105Q110 110 111 113M108 144Q107 153 104 153M104 153Q104 159 105 161M105 161Q114 168 114 164M105 161Q108 169 104 174M104 174Q113 172 113 172M104 174Q107 180 110 178M110 178Q114 184 113 182M107 186Q105 190 105 197M119 10Q127 13 128 11M119 10Q121 13 120 19M120 19Q123 14 125 19M117 25Q127 27 127 25M117 25Q121 35 119 36M119 36Q120 35 129 37M118 47Q115 43 123 47M118 47Q117 48 116 54M116 54Q122 51 124 57M115 61Q121 57 122 62M115 61Q121 68 118 70M118 83Q125 84 124 81M118 83Q120 87 115 92M115 92Q124 92 124 92M117 111Q120 116 118 119M120 123Q120 134 114 138M114 138Q116 131 127 132M114 138Q114 139 118 146M118 146Q116 152 114 155M113 172Q117 166 126 168M113 182Q119 182 128 181M113 182Q119 185 118 186M113 197Q122 195 125 201M127 0Q132 0 132 3M128 11Q127 11 135 7M128 11Q131 11 125 19M125 19Q125 18 127 25M127 25Q128 32 135 29M127 25Q123 32 129 37M129 37Q130 43 123 47M123 47Q119 51 124 57M124 57Q130 53 131 54M122 62Q124 67 123 69M124 81Q130 86 134 84M124 92Q128 91 136 90M126 98Q133 99 134 101M126 98Q128 98 123 105M123 105Q131 103 131 108M126 116Q130 119 136 118M122 128Q131 127 135 128M127 132Q123 140 127 144M127 144Q136 144 136 141M127 144Q130 151 126 151M126 151Q128 151 137 149M122 164Q124 166 126 168M126 168Q125 178 128 181M127 187Q128 190 133 191M127 187Q121 192 125 201M132 3Q137 -2 147 0M132 3Q131 0 135 7M135 7Q142 10 143 8M135 29Q137 30 145 26M135 29Q140 36 137 34M137 34Q141 32 142 38M137 34Q132 37 133 44M131 54Q136 52 143 57M131 54Q128 54 132 64M134 84Q140 85 141 84M134 84Q134 87 136 90M136 90Q141 92 147 86M136 90Q135 93 134 101M134 101Q134 101 131 108M136 118Q133 125 135 128M135 128Q133 131 141 128M135 128Q136 130 132 135M136 141Q144 141 142 146M136 141Q138 142 137 149M133 163Q138 165 141 162M133 163Q134 166 137 169M135 179Q135 182 143 177M135 179Q133 180 133 191M133 191Q133 195 138 196M147 0Q153 5 152 1M147 0Q148 1 143 8M143 8Q143 7 151 8M143 8Q146 16 145 17M145 17Q150 19 156 16M145 26Q142 34 142 38M142 38Q142 34 150 37M140 46Q140 53 143 57M143 57Q144 57 153 55M140 64Q138 70 143 70M143 70Q145 73 141 84M141 84Q145 85 152 81M142 96Q146 100 152 100M142 96Q141 100 143 109M143 109Q151 113 155 108M144 116Q145 117 149 120M144 116Q147 122 141 128M141 128Q145 124 152 127M142 138Q141 145 142 146M142 146Q142 150 146 149M146 149Q149 149 149 155M141 162Q148 165 154 160M141 162Q145 163 143 168M143 168Q152 172 152 169M143 177Q141 177 149 179M143 177Q141 183 144 192M144 192Q140 193 143 194M152 1Q160 -3 161 -3M151 8Q156 11 159 11M151 8Q150 12 156 16M156 16Q149 17 152 28M152 28Q154 25 164 26M152 28Q156 29 150 37M150 37Q151 32 160 36M152 43Q160 46 160 41M153 55Q157 64 153 64M153 64Q154 64 161 60M153 64Q158 63 154 72M154 72Q156 71 159 74M154 72Q154 77 152 81M150 89Q150 98 152 100M152 100Q161 98 165 100M152 100Q153 107 155 108M155 108Q157 115 149 120M149 120Q151 127 152 127M152 127Q153 130 152 133M155 144Q154 148 149 155M149 155Q147 156 154 160M154 160Q153 162 162 165M154 160Q158 169 152 169M149 179Q151 174 160 178M152 186Q156 183 161 186M152 186Q156 192 150 195M161 -3Q170 0 171 -3M161 -3Q157 6 159 11M159 11Q166 8 169 6M160 19Q161 16 169 14M164 26Q169 28 171 29M160 36Q165 32 169 32M160 36Q155 44 160 41M161 60Q169 65 170 64M161 60Q161 66 159 74M164 89Q171 89 174 91M165 100Q164 97 170 97M163 110Q164 114 159 113M159 113Q168 119 173 118M159 113Q164 125 159 128M164 133Q165 136 162 141M162 141Q166 148 165 149M165 149Q164 153 168 149M165 149Q158 162 162 165M162 165Q159 163 165 168M160 178Q167 179 172 180M161 186Q158 196 163 197M163 197Q167 191 173 194M171 -3Q174 -3 177 1M171 -3Q168 -1 169 6M169 14Q168 22 171 29M171 29Q174 32 182 27M171 29Q171 29 169 32M169 46Q171 43 180 43M170 75Q175 70 178 71M170 82Q170 80 176 82M170 82Q170 85 174 91M174 91Q176 88 180 88M174 91Q170 90 170 97M170 97Q171 107 173 109M173 109Q178 112 183 108M173 118Q180 113 179 118M173 118Q168 125 171 123M172 134Q172 135 168 146M168 146Q175 148 177 145M168 146Q166 148 168 149M173 160Q173 161 170 171M170 171Q175 174 177 168M170 171Q174 175 172 180M172 180Q179 175 180 178M171 189Q177 193 180 188M171 189Q171 191 173 194M177 1Q179 -4 186 -2M177 1Q179 3 183 6M183 6Q188 6 188 8M183 6Q183 7 177 17M177 17Q182 21 182 27M182 27Q183 24 189 30M182 27Q184 30 182 39M182 39Q186 38 189 33M180 43Q182 46 188 48M180 65Q181 65 178 71M178 71Q184 71 188 73M176 82Q177 87 180 88M180 88Q187 83 185 87M180 88Q180 91 178 96M178 96Q189 95 191 98M178 96Q182 102 183 108M183 108Q187 111 189 105M179 118Q188 117 188 115M179 118Q177 118 181 125M181 125Q185 126 180 133M180 133Q181 129 186 131M180 133Q177 138 177 145M177 145Q188 144 191 143M181 161Q180 159 188 159M177 168Q184 173 186 169M180 178Q189 180 189 181M180 178Q181 186 180 188M180 188Q182 186 186 186M182 196Q191 193 190 197M186 -2Q190 -2 188 8M186 18Q188 29 189 30M189 30Q194 25 199 29M189 30Q192 36 189 33M188 48Q191 52 195 47M188 48Q191 47 190 53M190 53Q189 49 196 53M190 53Q190 64 189 66M189 66Q193 69 199 65M188 73Q194 69 198 71M188 73Q182 73 186 79M186 79Q188 76 197 82M186 79Q182 86 185 87M185 87Q193 88 195 87M185 87Q188 95 191 98M191 98Q185 98 189 105M188 115Q193 121 189 125M189 125Q195 125 195 124M189 125Q185 125 186 131M186 131Q188 134 194 137M192 152Q191 146 194 149M188 159Q195 158 194 161M188 159Q189 167 186 169M186 186Q192 192 194 190M186 186Q185 195 190 197M190 197Q198 197 201 195M196 0Q199 0 207 -1M196 0Q200 -1 198 6M198 6Q202 8 201 17M201 17Q198 27 199 29M199 29Q198 29 204 24M199 29Q202 35 196 35M196 35Q196 38 205 37M196 35Q195 43 195 47M195 47Q202 47 210 42M198 71Q206 71 209 69M197 82Q201 85 208 79M197 82Q198 81 195 87M195 87Q206 82 208 86M198 99Q200 99 208 96M198 99Q200 107 200 107M200 107Q201 109 195 117M195 117Q203 115 204 116M194 137Q199 136 204 136M196 142Q197 145 205 141M196 142Q199 146 194 149M194 149Q202 148 204 154M194 149Q196 150 194 161M201 169Q196 169 196 178M196 178Q203 179 208 179M201 195Q201 201 204 201M207 8Q211 7 209 14M204 24Q209 23 218 24M204 24Q209 25 205 37M205 37Q215 38 215 32M205 37Q203 41 210 42M210 42Q212 41 216 45M203 54Q211 53 214 55M204 63Q208 65 212 62M204 63Q206 67 209 69M209 69Q217 66 217 68M208 79Q212 79 218 79M208 79Q205 86 208 86M208 86Q207 91 208 96M208 96Q210 107 208 109M208 109Q202 115 204 116M204 116Q216 112 219 114M204 116Q207 118 206 123M206 123Q208 127 212 127M206 123Q205 125 204 136M204 136Q212 138 215 131M204 136Q207 140 205 141M205 141Q206 150 204 154M204 154Q212 157 216 153M208 160Q207 165 204 172M204 172Q210 175 217 172M204 172Q204 171 208 179M208 186Q215 188 218 192M208 186Q207 195 204 201M218 24Q224 25 222 24M215 32Q223 34 221 35M215 32Q220 41 216 45M216 45Q217 42 223 44M212 62Q219 61 222 61M212 62Q210 69 217 68M217 68Q216 73 225 72M218 79Q213 85 217 89M217 89Q219 93 217 96M217 96Q220 96 216 105M216 105Q218 111 224 107M216 105Q220 114 219 114M219 114Q217 116 222 115M212 127Q219 125 222 123M216 142Q219 148 216 153M216 153Q222 155 221 154M216 163Q217 160 226 163M216 163Q220 163 217 172M218 181Q221 191 218 192M218 192Q219 191 214 195M227 2Q231 -1 232 1M227 2Q229 2 224 8M224 8Q232 3 237 6M224 8Q224 15 227 19M227 19Q232 16 232 18M222 24Q225 21 234 25M221 35Q223 40 234 37M221 35Q221 35 223 44M223 44Q227 42 236 44M227 52Q228 54 231 51M222 61Q230 61 236 65M222 61Q226 66 225 72M227 101Q226 99 232 98M227 101Q222 107 224 107M222 115Q223 115 222 123M223 136Q230 137 234 136M221 146Q225 146 221 154M221 154Q230 159 232 155M221 154Q221 158 226 163M226 163Q228 165 227 170M227 170Q231 168 232 173M227 170Q228 170 228 176M228 176Q229 176 232 178M228 176Q224 180 227 191M223 197Q223 193 232 199M232 1Q241 2 245 -2M237 6Q240 3 242 6M237 6Q230 14 232 18M232 18Q233 21 242 15M232 18Q236 17 234 25M234 25Q241 23 239 23M234 25Q232 35 234 37M234 37Q233 33 240 33M234 37Q233 41 236 44M236 65Q236 69 231 71M231 71Q230 77 232 78M232 78Q228 79 230 89M230 89Q230 86 240 93M230 89Q233 90 232 98M232 98Q238 100 243 99M232 98Q229 100 234 104M234 104Q236 106 236 115M236 115Q241 116 242 120M231 128Q235 129 245 123M231 128Q228 136 234 136M234 136Q234 143 230 144M235 165Q235 158 243 159M232 173Q233 166 243 168M232 178Q240 176 242 179M232 199Q242 196 244 194M245 -2Q252 -3 252 1M242 6Q249 12 253 8M242 6Q242 12 242 15M242 15Q244 12 254 14M239 23Q241 32 240 33M240 33Q248 34 250 37M240 33Q239 44 242 45M245 53Q249 54 255 50M245 53Q243 55 245 63M241 69Q249 70 251 68M246 80Q247 77 254 81M246 80Q239 89 240 93M240 93Q244 93 248 91M243 99Q250 95 251 97M243 99Q241 106 244 105M244 105Q249 110 250 107M242 120Q241 122 245 123M245 123Q241 132 243 133M243 133Q246 137 253 137M243 133Q245 136 245 146M245 146Q245 143 250 145M240 153Q245 154 254 152M242 179Q242 182 239 189M244 194Q251 198 254 195M252 1Q259 0 258 0M253 8Q254 12 262 11M253 8Q258 8 254 14M254 14Q249 18 252 27M250 37Q256 37 264 34M250 37Q246 45 248 43M255 50Q254 49 259 55M249 59Q253 64 263 61M249 59Q250 65 251 68M251 68Q253 70 260 69M251 68Q250 73 254 81M254 81Q253 87 248 91M248 91Q254 90 260 92M248 91Q252 95 251 97M251 97Q254 101 258 100M251 97Q254 104 250 107M250 107Q254 112 264 110M251 127Q253 124 260 122M253 137Q256 137 259 131M253 137Q253 143 250 145M250 145Q250 142 258 143M254 152Q258 150 262 155M251 176Q253 178 257 180M253 191Q258 191 264 185M253 191Q250 194 254 195M258 0Q268 -5 269 -3M262 11Q263 15 262 21M261 41Q257 48 259 55M259 55Q270 53 271 53M259 55Q261 54 263 61M263 61Q263 61 260 69M260 69Q261 76 261 82M261 82Q263 92 260 92M258 100Q266 100 271 100M264 110Q266 109 268 105M259 118Q258 116 260 122M259 131Q268 135 268 135M258 143Q258 149 262 155M262 155Q265 150 267 151M264 164Q268 166 268 159M264 164Q258 167 258 173M264 185Q264 184 270 192M264 185Q263 187 260 196M269 -3Q275 -6 276 -3M268 5Q271 9 278 9M268 5Q267 15 267 14M267 14Q269 18 280 19M267 14Q262 19 267 25M270 32Q275 38 272 45M272 45Q272 48 271 53M270 59Q272 63 267 74M267 74Q268 71 272 78M272 78Q269 86 268 87M268 87Q278 91 277 90M268 87Q266 95 271 100M271 100Q279 98 278 99M271 100Q273 107 268 105M268 105Q270 106 267 113M267 113Q268 115 275 120M266 128Q274 132 276 129M266 128Q267 133 268 135M268 135Q275 131 277 135M267 151Q277 151 278 154M267 151Q268 159 268 159M269 177Q277 178 278 183M269 177Q268 188 270 192M270 192Q269 193 272 197M276 -3Q284 -1 289 -3M278 9Q278 8 288 6M278 9Q282 12 280 19M279 39Q288 33 289 36M278 42Q278 47 278 52M278 52Q277 59 278 64M278 64Q278 73 277 75M277 75Q276 73 280 80M277 90Q284 91 289 92M278 99Q277 109 281 111M281 111Q287 112 285 109M281 111Q277 120 275 120M275 120Q278 113 287 114M276 129Q283 126 289 126M276 129Q272 129 277 135M281 141Q279 145 278 154M278 154Q280 154 287 149M276 168Q277 170 287 169M278 183Q287 178 288 181M278 183Q276 184 275 188M275 188Q280 186 287 186M275 188Q272 192 277 195M277 195Q279 190 289 196M289 -3Q292 5 288 6M290 15Q284 19 287 28M287 56Q286 61 288 61M288 73Q282 81 284 81M289 92Q284 99 288 96M289 126Q286 136 289 136M289 136Q291 146 288 146M288 146Q289 147 287 149M287 149Q288 150 288 161" fill="none" stroke="#dc5a44" stroke-width="0.6" opacity="0.55"/>
<g fill="#fbf8f6"><circle cx="199" cy="22" r="4.7"/><circle cx="88" cy="93" r="4.7"/><circle cx="283" cy="190" r="4.7"/><circle cx="43" cy="35" r="4.7"/><circle cx="160" cy="16" r="4.7"/><circle cx="145" cy="127" r="4.7"/><circle cx="113" cy="61" r="4.7"/><circle cx="67" cy="25" r="4.7"/><circle cx="38" cy="129" r="4.7"/><circle cx="154" cy="4" r="4.7"/><circle cx="92" cy="155" r="4.7"/><circle cx="103" cy="93" r="4.7"/><circle cx="274" cy="76" r="4.7"/><circle cx="285" cy="73" r="4.7"/><circle cx="214" cy="3" r="4.6"/><circle cx="215" cy="44" r="4.6"/><circle cx="8" cy="85" r="4.6"/><circle cx="174" cy="165" r="4.6"/><circle cx="100" cy="38" r="4.6"/><circle cx="200" cy="89" r="4.6"/><circle cx="274" cy="135" r="4.6"/><circle cx="256" cy="172" r="4.6"/><circle cx="68" cy="111" r="4.6"/><circle cx="185" cy="140" r="4.6"/><circle cx="95" cy="138" r="4.6"/><circle cx="1" cy="183" r="4.6"/><circle cx="197" cy="104" r="4.6"/><circle cx="182" cy="173" r="4.6"/><circle cx="127" cy="180" r="4.6"/><circle cx="35" cy="44" r="4.6"/><circle cx="1" cy="136" r="4.6"/><circle cx="245" cy="-3" r="4.6"/><circle cx="91" cy="25" r="4.6"/><circle cx="181" cy="20" r="4.6"/><circle cx="0" cy="15" r="4.6"/><circle cx="4" cy="119" r="4.6"/><circle cx="119" cy="50" r="4.6"/><circle cx="129" cy="80" r="4.6"/><circle cx="109" cy="129" r="4.6"/><circle cx="217" cy="144" r="4.5"/><circle cx="186" cy="81" r="4.5"/><circle cx="234" cy="187" r="4.5"/><circle cx="218" cy="18" r="4.5"/><circle cx="55" cy="172" r="4.5"/><circle cx="132" cy="17" r="4.5"/><circle cx="32" cy="86" r="4.5"/><circle cx="172" cy="50" r="4.5"/><circle cx="71" cy="8" r="4.5"/><circle cx="285" cy="164" r="4.5"/><circle cx="263" cy="114" r="4.5"/><circle cx="117" cy="144" r="4.5"/><circle cx="247" cy="105" r="4.5"/><circle cx="11" cy="3" r="4.5"/><circle cx="233" cy="11" r="4.5"/><circle cx="1" cy="154" r="4.5"/><circle cx="121" cy="98" r="4.5"/><circle cx="254" cy="78" r="4.4"/><circle cx="241" cy="31" r="4.4"/><circle cx="103" cy="50" r="4.4"/><circle cx="66" cy="137" r="4.4"/><circle cx="128" cy="136" r="4.4"/><circle cx="18" cy="63" r="4.4"/><circle cx="285" cy="21" r="4.4"/><circle cx="-3" cy="194" r="4.4"/><circle cx="246" cy="190" r="4.4"/><circle cx="143" cy="85" r="4.4"/><circle cx="127" cy="117" r="4.4"/><circle cx="15" cy="153" r="4.4"/><circle cx="60" cy="60" r="4.4"/><circle cx="105" cy="0" r="4.4"/><circle cx="195" cy="124" r="4.4"/><circle cx="32" cy="166" r="4.4"/><circle cx="168" cy="154" r="4.4"/><circle cx="10" cy="96" r="4.4"/><circle cx="95" cy="64" r="4.4"/><circle cx="253" cy="6" r="4.3"/><circle cx="203" cy="136" r="4.3"/><circle cx="224" cy="-3" r="4.3"/><circle cx="187" cy="63" r="4.3"/><circle cx="251" cy="136" r="4.3"/><circle cx="157" cy="58" r="4.3"/><circle cx="168" cy="195" r="4.3"/><circle cx="177" cy="77" r="4.3"/><circle cx="4" cy="63" r="4.3"/><circle cx="35" cy="59" r="4.3"/><circle cx="107" cy="82" r="4.3"/><circle cx="209" cy="24" r="4.3"/><circle cx="49" cy="76" r="4.3"/><circle cx="102" cy="10" r="4.3"/><circle cx="101" cy="113" r="4.3"/><circle cx="172" cy="178" r="4.3"/><circle cx="103" cy="158" r="4.3"/><circle cx="276" cy="105" r="4.3"/><circle cx="276" cy="4" r="4.3"/><circle cx="240" cy="69" r="4.3"/><circle cx="21" cy="7" r="4.3"/><circle cx="181" cy="191" r="4.3"/><circle cx="157" cy="74" r="4.3"/><circle cx="212" cy="57" r="4.3"/><circle cx="13" cy="52" r="4.2"/><circle cx="192" cy="1" r="4.2"/><circle cx="119" cy="123" r="4.2"/><circle cx="26" cy="37" r="4.2"/><circle cx="222" cy="88" r="4.2"/><circle cx="247" cy="152" r="4.2"/><circle cx="39" cy="78" r="4.2"/><circle cx="87" cy="115" r="4.2"/><circle cx="53" cy="107" r="4.2"/><circle cx="120" cy="161" r="4.2"/><circle cx="156" cy="36" r="4.2"/><circle cx="166" cy="127" r="4.2"/><circle cx="93" cy="1" r="4.2"/><circle cx="61" cy="50" r="4.2"/><circle cx="224" cy="134" r="4.2"/><circle cx="114" cy="26" r="4.2"/><circle cx="236" cy="52" r="4.2"/><circle cx="261" cy="136" r="4.2"/><circle cx="147" cy="41" r="4.2"/><circle cx="191" cy="177" r="4.2"/><circle cx="212" cy="94" r="4.2"/><circle cx="50" cy="45" r="4.2"/><circle cx="187" cy="163" r="4.1"/><circle cx="231" cy="142" r="4.1"/><circle cx="148" cy="65" r="4.1"/><circle cx="220" cy="177" r="4.1"/><circle cx="150" cy="184" r="4.1"/><circle cx="68" cy="36" r="4.1"/><circle cx="220" cy="158" r="4.1"/><circle cx="40" cy="115" r="4.1"/><circle cx="68" cy="148" r="4.1"/><circle cx="80" cy="144" r="4.1"/><circle cx="170" cy="94" r="4.1"/><circle cx="81" cy="66" r="4.1"/><circle cx="23" cy="171" r="4.1"/><circle cx="36" cy="26" r="4.1"/><circle cx="165" cy="-3" r="4.1"/><circle cx="204" cy="112" r="4.1"/><circle cx="79" cy="107" r="4.1"/><circle cx="97" cy="169" r="4.1"/><circle cx="162" cy="185" r="4.1"/><circle cx="16" cy="74" r="4.1"/><circle cx="189" cy="98" r="4.1"/><circle cx="53" cy="86" r="4.1"/><circle cx="16" cy="31" r="4.1"/><circle cx="86" cy="173" r="4.1"/><circle cx="85" cy="37" r="4.1"/><circle cx="56" cy="25" r="4.1"/><circle cx="63" cy="190" r="4.1"/><circle cx="198" cy="75" r="4.1"/><circle cx="34" cy="69" r="4.1"/><circle cx="75" cy="50" r="4.1"/><circle cx="156" cy="47" r="4.1"/><circle cx="284" cy="0" r="4"/><circle cx="-1" cy="74" r="4"/><circle cx="50" cy="116" r="4"/><circle cx="230" cy="153" r="4"/><circle cx="160" cy="143" r="4"/><circle cx="199" cy="45" r="4"/><circle cx="229" cy="59" r="4"/><circle cx="254" cy="44" r="4"/><circle cx="87" cy="186" r="4"/><circle cx="44" cy="8" r="4"/><circle cx="39" cy="103" r="4"/><circle cx="165" cy="66" r="4"/><circle cx="172" cy="13" r="4"/><circle cx="229" cy="117" r="4"/><circle cx="116" cy="114" r="4"/><circle cx="140" cy="32" r="4"/><circle cx="230" cy="96" r="4"/><circle cx="252" cy="32" r="4"/><circle cx="187" cy="47" r="4"/><circle cx="148" cy="115" r="4"/><circle cx="210" cy="126" r="4"/><circle cx="53" cy="9" r="4"/><circle cx="256" cy="67" r="4"/><circle cx="137" cy="116" r="4"/><circle cx="179" cy="147" r="4"/><circle cx="143" cy="98" r="3.9"/><circle cx="63" cy="180" r="3.9"/><circle cx="19" cy="125" r="3.9"/><circle cx="250" cy="124" r="3.9"/><circle cx="-3" cy="98" r="3.9"/><circle cx="-3" cy="2" r="3.9"/><circle cx="4" cy="27" r="3.9"/><circle cx="201" cy="34" r="3.9"/><circle cx="240" cy="86" r="3.9"/><circle cx="82" cy="132" r="3.9"/><circle cx="70" cy="172" r="3.9"/><circle cx="171" cy="28" r="3.9"/><circle cx="42" cy="194" r="3.9"/><circle cx="136" cy="164" r="3.9"/><circle cx="25" cy="155" r="3.9"/><circle cx="68" cy="85" r="3.9"/><circle cx="29" cy="117" r="3.9"/><circle cx="151" cy="90" r="3.9"/><circle cx="109" cy="73" r="3.9"/><circle cx="27" cy="132" r="3.9"/><circle cx="133" cy="187" r="3.9"/><circle cx="63" cy="75" r="3.9"/><circle cx="4" cy="44" r="3.8"/><circle cx="254" cy="157" r="3.8"/><circle cx="42" cy="181" r="3.8"/><circle cx="184" cy="6" r="3.8"/><circle cx="242" cy="168" r="3.8"/><circle cx="255" cy="187" r="3.8"/><circle cx="281" cy="46" r="3.8"/><circle cx="225" cy="47" r="3.8"/><circle cx="63" cy="123" r="3.8"/><circle cx="286" cy="149" r="3.8"/><circle cx="109" cy="149" r="3.8"/><circle cx="270" cy="167" r="3.8"/><circle cx="263" cy="146" r="3.8"/><circle cx="151" cy="26" r="3.8"/><circle cx="260" cy="125" r="3.8"/><circle cx="281" cy="120" r="3.8"/><circle cx="172" cy="119" r="3.8"/><circle cx="125" cy="67" r="3.8"/><circle cx="201" cy="148" r="3.8"/><circle cx="143" cy="190" r="3.8"/><circle cx="173" cy="134" r="3.8"/><circle cx="241" cy="128" r="3.8"/><circle cx="201" cy="188" r="3.8"/><circle cx="129" cy="168" r="3.8"/><circle cx="29" cy="140" r="3.8"/><circle cx="147" cy="165" r="3.8"/><circle cx="50" cy="153" r="3.8"/><circle cx="269" cy="16" r="3.7"/><circle cx="212" cy="83" r="3.7"/><circle cx="150" cy="146" r="3.7"/><circle cx="86" cy="58" r="3.7"/><circle cx="212" cy="33" r="3.7"/><circle cx="262" cy="95" r="3.7"/><circle cx="82" cy="28" r="3.7"/><circle cx="285" cy="11" r="3.7"/><circle cx="118" cy="132" r="3.7"/><circle cx="11" cy="16" r="3.7"/><circle cx="271" cy="152" r="3.7"/><circle cx="249" cy="23" r="3.7"/><circle cx="140" cy="147" r="3.7"/><circle cx="5" cy="-3" r="3.7"/><circle cx="223" cy="6" r="3.7"/><circle cx="170" cy="84" r="3.7"/><circle cx="287" cy="176" r="3.7"/><circle cx="253" cy="57" r="3.7"/><circle cx="274" cy="90" r="3.7"/><circle cx="215" cy="190" r="3.7"/><circle cx="81" cy="2" r="3.7"/><circle cx="13" cy="39" r="3.7"/><circle cx="269" cy="99" r="3.7"/><circle cx="227" cy="104" r="3.7"/><circle cx="164" cy="115" r="3.7"/><circle cx="288" cy="109" r="3.6"/><circle cx="29" cy="182" r="3.6"/><circle cx="76" cy="77" r="3.6"/><circle cx="47" cy="20" r="3.6"/><circle cx="262" cy="27" r="3.6"/><circle cx="111" cy="194" r="3.6"/><circle cx="26" cy="75" r="3.6"/><circle cx="222" cy="30" r="3.6"/><circle cx="264" cy="82" r="3.6"/><circle cx="162" cy="163" r="3.6"/><circle cx="30" cy="11" r="3.6"/><circle cx="123" cy="152" r="3.6"/><circle cx="24" cy="26" r="3.6"/><circle cx="22" cy="103" r="3.6"/><circle cx="118" cy="179" r="3.6"/><circle cx="23" cy="189" r="3.6"/><circle cx="242" cy="43" r="3.6"/><circle cx="75" cy="193" r="3.6"/><circle cx="265" cy="48" r="3.6"/><circle cx="189" cy="114" r="3.6"/><circle cx="268" cy="187" r="3.6"/><circle cx="273" cy="113" r="3.6"/><circle cx="277" cy="29" r="3.6"/><circle cx="-4" cy="109" r="3.6"/><circle cx="164" cy="38" r="3.5"/><circle cx="105" cy="103" r="3.5"/><circle cx="13" cy="107" r="3.5"/><circle cx="34" cy="149" r="3.5"/><circle cx="259" cy="19" r="3.5"/><circle cx="232" cy="164" r="3.5"/><circle cx="120" cy="14" r="3.5"/><circle cx="113" cy="106" r="3.5"/><circle cx="147" cy="13" r="3.5"/><circle cx="72" cy="63" r="3.5"/><circle cx="85" cy="76" r="3.5"/><circle cx="285" cy="84" r="3.5"/><circle cx="84" cy="50" r="3.5"/><circle cx="229" cy="33" r="3.5"/><circle cx="101" cy="23" r="3.5"/><circle cx="235" cy="-1" r="3.5"/><circle cx="205" cy="157" r="3.5"/><circle cx="27" cy="56" r="3.5"/><circle cx="199" cy="10" r="3.5"/><circle cx="215" cy="169" r="3.5"/><circle cx="34" cy="2" r="3.5"/><circle cx="188" cy="28" r="3.4"/><circle cx="57" cy="36" r="3.4"/><circle cx="75" cy="99" r="3.4"/><circle cx="246" cy="177" r="3.4"/><circle cx="180" cy="126" r="3.4"/><circle cx="219" cy="124" r="3.4"/><circle cx="108" cy="177" r="3.4"/><circle cx="103" cy="61" r="3.4"/><circle cx="200" cy="177" r="3.4"/><circle cx="50" cy="184" r="3.4"/><circle cx="158" cy="171" r="3.4"/><circle cx="6" cy="164" r="3.4"/><circle cx="21" cy="47" r="3.4"/><circle cx="77" cy="160" r="3.4"/><circle cx="82" cy="16" r="3.4"/><circle cx="79" cy="85" r="3.4"/><circle cx="265" cy="60" r="3.4"/><circle cx="133" cy="67" r="3.4"/><circle cx="44" cy="162" r="3.4"/><circle cx="207" cy="171" r="3.4"/><circle cx="124" cy="25" r="3.4"/><circle cx="5" cy="171" r="3.4"/><circle cx="88" cy="125" r="3.4"/><circle cx="125" cy="107" r="3.4"/><circle cx="66" cy="-2" r="3.4"/><circle cx="275" cy="53" r="3.4"/><circle cx="12" cy="138" r="3.4"/><circle cx="207" cy="66" r="3.4"/><circle cx="98" cy="184" r="3.4"/><circle cx="138" cy="156" r="3.4"/><circle cx="190" cy="17" r="3.4"/><circle cx="200" cy="56" r="3.4"/><circle cx="171" cy="4" r="3.3"/><circle cx="243" cy="117" r="3.3"/><circle cx="281" cy="61" r="3.3"/><circle cx="206" cy="182" r="3.3"/><circle cx="130" cy="33" r="3.3"/><circle cx="163" cy="101" r="3.3"/><circle cx="43" cy="53" r="3.3"/><circle cx="47" cy="128" r="3.3"/><circle cx="192" cy="191" r="3.3"/><circle cx="269" cy="39" r="3.3"/><circle cx="143" cy="20" r="3.3"/><circle cx="243" cy="16" r="3.3"/><circle cx="53" cy="66" r="3.3"/><circle cx="55" cy="134" r="3.3"/><circle cx="259" cy="105" r="3.3"/><circle cx="18" cy="-2" r="3.3"/><circle cx="96" cy="124" r="3.3"/><circle cx="13" cy="191" r="3.3"/><circle cx="286" cy="54" r="3.3"/><circle cx="156" cy="109" r="3.3"/><circle cx="263" cy="162" r="3.3"/><circle cx="117" cy="-2" r="3.3"/><circle cx="129" cy="4" r="3.3"/><circle cx="140" cy="73" r="3.3"/><circle cx="138" cy="134" r="3.3"/><circle cx="134" cy="40" r="3.3"/><circle cx="46" cy="92" r="3.2"/><circle cx="184" cy="35" r="3.2"/><circle cx="74" cy="91" r="3.2"/><circle cx="207" cy="49" r="3.2"/><circle cx="141" cy="-2" r="3.2"/><circle cx="137" cy="55" r="3.2"/><circle cx="271" cy="23" r="3.2"/><circle cx="64" cy="93" r="3.2"/><circle cx="226" cy="73" r="3.2"/><circle cx="179" cy="87" r="3.2"/><circle cx="202" cy="120" r="3.2"/><circle cx="212" cy="106" r="3.2"/><circle cx="59" cy="142" r="3.2"/><circle cx="227" cy="193" r="3.2"/><circle cx="280" cy="180" r="3.2"/><circle cx="269" cy="-2" r="3.2"/><circle cx="89" cy="10" r="3.2"/><circle cx="153" cy="137" r="3.2"/><circle cx="240" cy="140" r="3.2"/><circle cx="44" cy="169" r="3.2"/><circle cx="19" cy="145" r="3.2"/><circle cx="287" cy="139" r="3.2"/><circle cx="9" cy="177" r="3.2"/><circle cx="126" cy="190" r="3.2"/><circle cx="9" cy="145" r="3.2"/><circle cx="131" cy="94" r="3.2"/><circle cx="147" cy="55" r="3.1"/><circle cx="164" cy="24" r="3.1"/><circle cx="218" cy="116" r="3.1"/><circle cx="122" cy="39" r="3.1"/><circle cx="239" cy="102" r="3.1"/><circle cx="164" cy="7" r="3.1"/><circle cx="45" cy="63" r="3.1"/><circle cx="68" cy="158" r="3.1"/><circle cx="2" cy="55" r="3.1"/><circle cx="249" cy="95" r="3.1"/><circle cx="26" cy="67" r="3.1"/><circle cx="272" cy="178" r="3.1"/><circle cx="180" cy="96" r="3.1"/><circle cx="175" cy="64" r="3.1"/><circle cx="263" cy="4" r="3.1"/><circle cx="183" cy="183" r="3.1"/><circle cx="238" cy="22" r="3.1"/><circle cx="44" cy="141" r="3.1"/><circle cx="51" cy="-2" r="3.1"/><circle cx="218" cy="64" r="3.1"/><circle cx="131" cy="47" r="3.1"/><circle cx="230" cy="126" r="3.1"/><circle cx="285" cy="97" r="3.1"/><circle cx="251" cy="116" r="3.1"/><circle cx="285" cy="30" r="3"/><circle cx="92" cy="107" r="3"/><circle cx="229" cy="81" r="3"/><circle cx="232" cy="68" r="3"/><circle cx="101" cy="70" r="3"/><circle cx="85" cy="159" r="3"/><circle cx="264" cy="71" r="3"/><circle cx="254" cy="145" r="3"/><circle cx="153" cy="101" r="3"/><circle cx="-2" cy="163" r="3"/><circle cx="153" cy="156" r="3"/><circle cx="262" cy="35" r="3"/><circle cx="94" cy="82" r="3"/><circle cx="196" cy="169" r="3"/><circle cx="67" cy="15" r="3"/><circle cx="239" cy="159" r="3"/><circle cx="231" cy="173" r="3"/><circle cx="198" cy="66" r="3"/><circle cx="28" cy="98" r="3"/><circle cx="194" cy="144" r="3"/><circle cx="96" cy="17" r="3"/><circle cx="42" cy="-1" r="3"/><circle cx="116" cy="90" r="3"/><circle cx="174" cy="103" r="3"/><circle cx="77" cy="122" r="3"/><circle cx="91" cy="42" r="3"/><circle cx="63" cy="5" r="3"/><circle cx="16" cy="180" r="3"/><circle cx="15" cy="115" r="3"/><circle cx="116" cy="78" r="3"/><circle cx="261" cy="-3" r="3"/><circle cx="22" cy="82" r="3"/><circle cx="54" cy="162" r="3"/><circle cx="100" cy="147" r="3"/><circle cx="139" cy="106" r="3"/><circle cx="61" cy="157" r="3"/><circle cx="111" cy="14" r="3"/><circle cx="75" cy="16" r="3"/><circle cx="1" cy="128" r="3"/><circle cx="37" cy="17" r="3"/><circle cx="131" cy="145" r="3"/><circle cx="283" cy="132" r="3"/><circle cx="75" cy="137" r="3"/><circle cx="190" cy="151" r="3"/><circle cx="210" cy="10" r="2.9"/><circle cx="218" cy="77" r="2.9"/><circle cx="137" cy="176" r="2.9"/><circle cx="160" cy="94" r="2.9"/><circle cx="135" cy="128" r="2.9"/><circle cx="181" cy="56" r="2.9"/><circle cx="255" cy="88" r="2.9"/><circle cx="12" cy="170" r="2.9"/><circle cx="262" cy="154" r="2.9"/><circle cx="56" cy="96" r="2.9"/><circle cx="134" cy="26" r="2.9"/><circle cx="60" cy="18" r="2.9"/><circle cx="286" cy="39" r="2.9"/><circle cx="277" cy="146" r="2.9"/><circle cx="267" cy="121" r="2.9"/><circle cx="233" cy="133" r="2.9"/><circle cx="79" cy="180" r="2.9"/><circle cx="192" cy="36" r="2.9"/><circle cx="47" cy="135" r="2.9"/><circle cx="18" cy="162" r="2.9"/><circle cx="197" cy="156" r="2.9"/><circle cx="3" cy="35" r="2.9"/><circle cx="241" cy="93" r="2.9"/><circle cx="125" cy="90" r="2.9"/><circle cx="112" cy="159" r="2.9"/><circle cx="113" cy="168" r="2.9"/><circle cx="172" cy="36" r="2.9"/><circle cx="203" cy="1" r="2.9"/><circle cx="209" cy="76" r="2.9"/><circle cx="247" cy="65" r="2.9"/><circle cx="68" cy="102" r="2.9"/><circle cx="260" cy="11" r="2.9"/><circle cx="178" cy="40" r="2.9"/><circle cx="223" cy="167" r="2.9"/><circle cx="236" cy="178" r="2.9"/><circle cx="25" cy="-1" r="2.9"/><circle cx="195" cy="132" r="2.9"/><circle cx="111" cy="45" r="2.9"/><circle cx="141" cy="9" r="2.9"/><circle cx="234" cy="106" r="2.8"/><circle cx="278" cy="157" r="2.8"/><circle cx="32" cy="108" r="2.8"/><circle cx="34" cy="190" r="2.8"/><circle cx="111" cy="5" r="2.8"/><circle cx="158" cy="123" r="2.8"/><circle cx="72" cy="165" r="2.8"/><circle cx="76" cy="151" r="2.8"/><circle cx="270" cy="31" r="2.8"/><circle cx="240" cy="77" r="2.8"/><circle cx="189" cy="90" r="2.8"/><circle cx="98" cy="102" r="2.8"/><circle cx="147" cy="175" r="2.8"/><circle cx="17" cy="22" r="2.8"/><circle cx="22" cy="91" r="2.8"/><circle cx="272" cy="67" r="2.8"/><circle cx="107" cy="138" r="2.8"/><circle cx="182" cy="113" r="2.8"/><circle cx="113" cy="36" r="2.8"/><circle cx="237" cy="122" r="2.8"/><circle cx="221" cy="57" r="2.8"/><circle cx="279" cy="171" r="2.8"/><circle cx="38" cy="158" r="2.8"/><circle cx="122" cy="60" r="2.8"/><circle cx="79" cy="43" r="2.8"/><circle cx="31" cy="19" r="2.8"/><circle cx="129" cy="57" r="2.8"/><circle cx="106" cy="169" r="2.8"/><circle cx="254" cy="-3" r="2.8"/><circle cx="277" cy="13" r="2.8"/><circle cx="41" cy="148" r="2.8"/><circle cx="130" cy="155" r="2.8"/><circle cx="163" cy="88" r="2.8"/><circle cx="82" cy="100" r="2.8"/><circle cx="88" cy="146" r="2.8"/><circle cx="34" cy="34" r="2.8"/><circle cx="245" cy="8" r="2.8"/><circle cx="112" cy="186" r="2.8"/><circle cx="268" cy="129" r="2.8"/><circle cx="134" cy="88" r="2.8"/><circle cx="57" cy="116" r="2.8"/><circle cx="70" cy="186" r="2.8"/><circle cx="60" cy="68" r="2.8"/><circle cx="145" cy="153" r="2.8"/><circle cx="83" cy="152" r="2.8"/><circle cx="230" cy="18" r="2.8"/><circle cx="142" cy="47" r="2.7"/><circle cx="187" cy="128" r="2.7"/><circle cx="171" cy="109" r="2.7"/><circle cx="98" cy="191" r="2.7"/><circle cx="155" cy="67" r="2.7"/><circle cx="206" cy="16" r="2.7"/><circle cx="238" cy="149" r="2.7"/><circle cx="240" cy="60" r="2.7"/><circle cx="77" cy="169" r="2.7"/><circle cx="181" cy="156" r="2.7"/><circle cx="211" cy="117" r="2.7"/><circle cx="204" cy="99" r="2.7"/><circle cx="118" cy="68" r="2.7"/><circle cx="78" cy="57" r="2.7"/><circle cx="62" cy="165" r="2.7"/><circle cx="94" cy="55" r="2.7"/><circle cx="160" cy="135" r="2.7"/><circle cx="123" cy="74" r="2.7"/><circle cx="181" cy="105" r="2.7"/><circle cx="120" cy="85" r="2.7"/><circle cx="21" cy="138" r="2.7"/><circle cx="166" cy="169" r="2.7"/><circle cx="94" cy="72" r="2.7"/><circle cx="274" cy="61" r="2.7"/><circle cx="274" cy="124" r="2.7"/><circle cx="273" cy="45" r="2.7"/><circle cx="166" cy="76" r="2.7"/><circle cx="253" cy="193" r="2.7"/><circle cx="24" cy="111" r="2.7"/><circle cx="183" cy="71" r="2.7"/><circle cx="212" cy="176" r="2.7"/><circle cx="229" cy="25" r="2.7"/><circle cx="220" cy="109" r="2.7"/><circle cx="162" cy="31" r="2.7"/><circle cx="23" cy="15" r="2.7"/><circle cx="219" cy="51" r="2.7"/><circle cx="142" cy="182" r="2.7"/><circle cx="229" cy="180" r="2.7"/><circle cx="122" cy="7" r="2.7"/><circle cx="171" cy="142" r="2.7"/><circle cx="144" cy="138" r="2.7"/><circle cx="214" cy="135" r="2.7"/><circle cx="101" cy="129" r="2.7"/><circle cx="164" cy="48" r="2.7"/><circle cx="275" cy="193" r="2.7"/><circle cx="88" cy="165" r="2.6"/><circle cx="231" cy="41" r="2.6"/><circle cx="245" cy="50" r="2.6"/><circle cx="146" cy="5" r="2.6"/><circle cx="117" cy="189" r="2.6"/><circle cx="7" cy="111" r="2.6"/><circle cx="107" cy="31" r="2.6"/><circle cx="8" cy="129" r="2.6"/><circle cx="157" cy="151" r="2.6"/><circle cx="36" cy="175" r="2.6"/><circle cx="111" cy="96" r="2.6"/><circle cx="119" cy="172" r="2.6"/><circle cx="222" cy="187" r="2.6"/><circle cx="133" cy="9" r="2.6"/><circle cx="76" cy="37" r="2.6"/><circle cx="189" cy="106" r="2.6"/><circle cx="1" cy="90" r="2.6"/><circle cx="93" cy="49" r="2.6"/><circle cx="7" cy="72" r="2.6"/><circle cx="179" cy="-2" r="2.6"/><circle cx="124" cy="-1" r="2.6"/><circle cx="147" cy="107" r="2.6"/><circle cx="264" cy="176" r="2.6"/><circle cx="50" cy="30" r="2.6"/><circle cx="106" cy="188" r="2.6"/><circle cx="109" cy="20" r="2.6"/><circle cx="76" cy="115" r="2.6"/><circle cx="270" cy="143" r="2.6"/><circle cx="19" cy="97" r="2.6"/><circle cx="45" cy="70" r="2.6"/><circle cx="224" cy="148" r="2.6"/><circle cx="148" cy="77" r="2.6"/><circle cx="212" cy="157" r="2.6"/><circle cx="209" cy="163" r="2.6"/><circle cx="16" cy="87" r="2.6"/><circle cx="193" cy="184" r="2.6"/><circle cx="218" cy="100" r="2.6"/><circle cx="71" cy="181" r="2.6"/><circle cx="2" cy="146" r="2.6"/><circle cx="68" cy="55" r="2.6"/><circle cx="39" cy="88" r="2.5"/><circle cx="230" cy="87" r="2.5"/><circle cx="52" cy="193" r="2.5"/><circle cx="233" cy="74" r="2.5"/><circle cx="209" cy="143" r="2.5"/><circle cx="106" cy="121" r="2.5"/><circle cx="148" cy="-1" r="2.5"/><circle cx="156" cy="116" r="2.5"/><circle cx="5" cy="104" r="2.5"/><circle cx="206" cy="41" r="2.5"/><circle cx="246" cy="56" r="2.5"/><circle cx="11" cy="184" r="2.5"/><circle cx="59" cy="-2" r="2.5"/><circle cx="193" cy="57" r="2.5"/><circle cx="61" cy="104" r="2.5"/><circle cx="211" cy="150" r="2.5"/><circle cx="128" cy="125" r="2.5"/><circle cx="196" cy="116" r="2.5"/><circle cx="76" cy="24" r="2.5"/><circle cx="-2" cy="172" r="2.5"/><circle cx="132" cy="106" r="2.5"/><circle cx="93" cy="179" r="2.5"/><circle cx="4" cy="7" r="2.5"/><circle cx="79" cy="186" r="2.5"/><circle cx="70" cy="129" r="2.5"/><circle cx="73" cy="70" r="2.5"/><circle cx="253" cy="100" r="2.5"/><circle cx="37" cy="142" r="2.5"/><circle cx="170" cy="59" r="2.5"/><circle cx="58" cy="43" r="2.5"/><circle cx="250" cy="16" r="2.5"/><circle cx="132" cy="-2" r="2.5"/><circle cx="203" cy="163" r="2.5"/><circle cx="74" cy="-1" r="2.5"/><circle cx="248" cy="88" r="2.5"/><circle cx="180" cy="50" r="2.5"/><circle cx="239" cy="110" r="2.5"/><circle cx="276" cy="38" r="2.5"/><circle cx="250" cy="166" r="2.5"/><circle cx="158" cy="25" r="2.5"/><circle cx="98" cy="77" r="2.5"/><circle cx="95" cy="90" r="2.5"/><circle cx="267" cy="106" r="2.5"/><circle cx="-1" cy="83" r="2.5"/><circle cx="173" cy="187" r="2.5"/><circle cx="61" cy="84" r="2.4"/><circle cx="282" cy="92" r="2.4"/><circle cx="54" cy="53" r="2.4"/><circle cx="278" cy="22" r="2.4"/><circle cx="205" cy="105" r="2.4"/><circle cx="111" cy="52" r="2.4"/><circle cx="40" cy="95" r="2.4"/><circle cx="185" cy="121" r="2.4"/><circle cx="61" cy="149" r="2.4"/><circle cx="162" cy="81" r="2.4"/><circle cx="152" cy="192" r="2.4"/><circle cx="247" cy="72" r="2.4"/><circle cx="50" cy="58" r="2.4"/><circle cx="156" cy="178" r="2.4"/><circle cx="57" cy="185" r="2.4"/><circle cx="9" cy="32" r="2.4"/><circle cx="55" cy="123" r="2.4"/><circle cx="48" cy="99" r="2.4"/><circle cx="51" cy="141" r="2.4"/><circle cx="280" cy="113" r="2.4"/><circle cx="262" cy="183" r="2.4"/><circle cx="191" cy="70" r="2.4"/><circle cx="136" cy="3" r="2.4"/><circle cx="225" cy="14" r="2.4"/><circle cx="275" cy="186" r="2.4"/><circle cx="268" cy="8" r="2.4"/><circle cx="18" cy="132" r="2.4"/><circle cx="216" cy="11" r="2.4"/><circle cx="206" cy="81" r="2.4"/><circle cx="12" cy="162" r="2.4"/><circle cx="213" cy="183" r="2.4"/><circle cx="278" cy="128" r="2.3"/><circle cx="281" cy="142" r="2.3"/><circle cx="180" cy="31" r="2.3"/><circle cx="261" cy="54" r="2.3"/><circle cx="82" cy="192" r="2.3"/><circle cx="55" cy="180" r="2.3"/><circle cx="12" cy="121" r="2.3"/><circle cx="139" cy="62" r="2.3"/><circle cx="83" cy="121" r="2.3"/><circle cx="285" cy="126" r="2.3"/><circle cx="247" cy="144" r="2.3"/><circle cx="64" cy="42" r="2.3"/><circle cx="107" cy="40" r="2.3"/><circle cx="222" cy="39" r="2.3"/><circle cx="43" cy="155" r="2.3"/><circle cx="278" cy="97" r="2.3"/><circle cx="247" cy="38" r="2.3"/><circle cx="270" cy="159" r="2.3"/><circle cx="213" cy="71" r="2.3"/><circle cx="157" cy="85" r="2.3"/><circle cx="260" cy="42" r="2.3"/><circle cx="194" cy="81" r="2.3"/><circle cx="60" cy="109" r="2.3"/><circle cx="209" cy="191" r="2.3"/><circle cx="237" cy="116" r="2.3"/><circle cx="91" cy="100" r="2.3"/><circle cx="164" cy="54" r="2.3"/><circle cx="92" cy="34" r="2.3"/><circle cx="173" cy="20" r="2.3"/><circle cx="47" cy="175" r="2.3"/><circle cx="5" cy="193" r="2.3"/><circle cx="57" cy="79" r="2.3"/><circle cx="254" cy="110" r="2.3"/><circle cx="223" cy="98" r="2.3"/><circle cx="281" cy="35" r="2.3"/><circle cx="156" cy="130" r="2.3"/><circle cx="21" cy="117" r="2.2"/><circle cx="163" cy="107" r="2.2"/><circle cx="61" cy="11" r="2.2"/><circle cx="53" cy="146" r="2.2"/><circle cx="98" cy="31" r="2.2"/><circle cx="196" cy="162" r="2.2"/><circle cx="99" cy="177" r="2.2"/><circle cx="22" cy="179" r="2.2"/><circle cx="241" cy="182" r="2.2"/><circle cx="74" cy="31" r="2.2"/><circle cx="153" cy="81" r="2.2"/><circle cx="155" cy="163" r="2.2"/><circle cx="127" cy="11" r="2.2"/><circle cx="28" cy="125" r="2.2"/><circle cx="192" cy="9" r="2.2"/><circle cx="86" cy="84" r="2.2"/><circle cx="153" cy="121" r="2.2"/><circle cx="224" cy="66" r="2.2"/><circle cx="36" cy="121" r="2.2"/><circle cx="70" cy="121" r="2.2"/><circle cx="141" cy="171" r="2.2"/><circle cx="255" cy="130" r="2.2"/><circle cx="115" cy="19" r="2.2"/><circle cx="264" cy="193" r="2.2"/><circle cx="157" cy="193" r="2.2"/><circle cx="-1" cy="49" r="2.2"/><circle cx="165" cy="139" r="2.2"/><circle cx="89" cy="17" r="2.2"/><circle cx="181" cy="133" r="2.2"/><circle cx="86" cy="140" r="2.1"/><circle cx="127" cy="42" r="2.1"/><circle cx="113" cy="136" r="2.1"/><circle cx="130" cy="162" r="2.1"/><circle cx="177" cy="8" r="2.1"/><circle cx="173" cy="70" r="2.1"/><circle cx="175" cy="157" r="2.1"/><circle cx="277" cy="163" r="2.1"/><circle cx="150" cy="72" r="2.1"/><circle cx="286" cy="116" r="2.1"/><circle cx="164" cy="176" r="2.1"/><circle cx="148" cy="48" r="2.1"/><circle cx="122" cy="31" r="2.1"/><circle cx="266" cy="88" r="2.1"/><circle cx="247" cy="159" r="2.1"/><circle cx="132" cy="100" r="2.1"/><circle cx="29" cy="30" r="2.1"/><circle cx="284" cy="104" r="2.1"/><circle cx="202" cy="129" r="2.1"/><circle cx="257" cy="151" r="2.1"/><circle cx="252" cy="179" r="2.1"/><circle cx="160" cy="156" r="2.1"/><circle cx="94" cy="116" r="2.1"/><circle cx="58" cy="128" r="2.1"/><circle cx="11" cy="67" r="2.1"/><circle cx="218" cy="70" r="2.1"/><circle cx="176" cy="113" r="2.1"/><circle cx="10" cy="46" r="2.1"/><circle cx="25" cy="146" r="2.1"/><circle cx="101" cy="86" r="2.1"/><circle cx="166" cy="147" r="2"/><circle cx="171" cy="43" r="2"/><circle cx="43" cy="83" r="2"/><circle cx="27" cy="46" r="2"/><circle cx="205" cy="60" r="2"/><circle cx="239" cy="4" r="2"/><circle cx="9" cy="157" r="2"/><circle cx="109" cy="112" r="2"/><circle cx="216" cy="129" r="2"/><circle cx="6" cy="20" r="2"/><circle cx="71" cy="44" r="2"/><circle cx="90" cy="192" r="2"/><circle cx="205" cy="7" r="2"/><circle cx="180" cy="13" r="2"/><circle cx="136" cy="46" r="2"/><circle cx="153" cy="18" r="2"/><circle cx="275" cy="83" r="2"/><circle cx="236" cy="37" r="2"/><circle cx="148" cy="34" r="2"/><circle cx="44" cy="121" r="2"/><circle cx="78" cy="10" r="2"/><circle cx="45" cy="107" r="2"/><circle cx="25" cy="163" r="2"/><circle cx="75" cy="131" r="1.9"/><circle cx="131" cy="175" r="1.9"/><circle cx="44" cy="43" r="1.9"/><circle cx="33" cy="95" r="1.9"/><circle cx="143" cy="59" r="1.9"/><circle cx="61" cy="132" r="1.9"/><circle cx="12" cy="25" r="1.9"/><circle cx="196" cy="29" r="1.9"/><circle cx="85" cy="105" r="1.9"/><circle cx="93" cy="130" r="1.9"/><circle cx="243" cy="134" r="1.9"/><circle cx="248" cy="171" r="1.9"/><circle cx="88" cy="67" r="1.9"/><circle cx="151" cy="171" r="1.9"/><circle cx="125" cy="144" r="1.9"/><circle cx="31" cy="50" r="1.9"/><circle cx="187" cy="55" r="1.9"/><circle cx="129" cy="72" r="1.9"/><circle cx="32" cy="159" r="1.9"/><circle cx="65" cy="65" r="1.9"/><circle cx="269" cy="54" r="1.9"/><circle cx="50" cy="165" r="1.9"/><circle cx="138" cy="79" r="1.9"/><circle cx="209" cy="100" r="1.9"/><circle cx="180" cy="119" r="1.9"/><circle cx="190" cy="157" r="1.9"/><circle cx="132" cy="111" r="1.9"/><circle cx="6" cy="78" r="1.8"/><circle cx="225" cy="110" r="1.8"/><circle cx="177" cy="141" r="1.8"/><circle cx="255" cy="37" r="1.8"/><circle cx="94" cy="163" r="1.8"/><circle cx="32" cy="102" r="1.8"/><circle cx="74" cy="143" r="1.8"/><circle cx="30" cy="175" r="1.8"/><circle cx="247" cy="78" r="1.8"/><circle cx="86" cy="-1" r="1.8"/><circle cx="235" cy="63" r="1.8"/><circle cx="279" cy="68" r="1.8"/><circle cx="39" cy="165" r="1.8"/><circle cx="251" cy="51" r="1.8"/><circle cx="32" cy="78" r="1.8"/><circle cx="257" cy="179" r="1.8"/><circle cx="54" cy="18" r="1.8"/><circle cx="141" cy="67" r="1.8"/><circle cx="230" cy="3" r="1.8"/><circle cx="80" cy="94" r="1.8"/><circle cx="261" cy="87" r="1.8"/><circle cx="138" cy="93" r="1.8"/><circle cx="3" cy="96" r="1.8"/><circle cx="239" cy="193" r="1.8"/><circle cx="124" cy="129" r="1.8"/><circle cx="116" cy="43" r="1.8"/><circle cx="177" cy="3" r="1.8"/><circle cx="105" cy="182" r="1.8"/><circle cx="42" cy="15" r="1.7"/><circle cx="55" cy="72" r="1.7"/><circle cx="177" cy="183" r="1.7"/><circle cx="195" cy="50" r="1.7"/><circle cx="96" cy="97" r="1.7"/><circle cx="208" cy="88" r="1.7"/><circle cx="169" cy="185" r="1.7"/><circle cx="139" cy="15" r="1.7"/><circle cx="7" cy="50" r="1.7"/><circle cx="216" cy="27" r="1.7"/><circle cx="285" cy="155" r="1.7"/><circle cx="223" cy="79" r="1.7"/><circle cx="56" cy="3" r="1.7"/><circle cx="279" cy="86" r="1.7"/><circle cx="105" cy="143" r="1.7"/><circle cx="186" cy="13" r="1.7"/><circle cx="49" cy="38" r="1.7"/><circle cx="105" cy="16" r="1.7"/><circle cx="185" cy="-1" r="1.7"/><circle cx="62" cy="33" r="1.7"/><circle cx="228" cy="160" r="1.7"/><circle cx="61" cy="98" r="1.7"/><circle cx="15" cy="81" r="1.7"/><circle cx="214" cy="111" r="1.6"/><circle cx="197" cy="97" r="1.6"/><circle cx="121" cy="79" r="1.6"/><circle cx="45" cy="27" r="1.6"/><circle cx="255" cy="94" r="1.6"/><circle cx="236" cy="169" r="1.6"/><circle cx="137" cy="141" r="1.6"/><circle cx="281" cy="153" r="1.6"/><circle cx="17" cy="12" r="1.6"/><circle cx="117" cy="155" r="1.6"/><circle cx="234" cy="112" r="1.6"/><circle cx="255" cy="26" r="1.6"/><circle cx="172" cy="148" r="1.6"/><circle cx="177" cy="109" r="1.6"/><circle cx="223" cy="142" r="1.6"/><circle cx="34" cy="135" r="1.6"/><circle cx="200" cy="80" r="1.6"/><circle cx="114" cy="173" r="1.6"/><circle cx="235" cy="81" r="1.6"/><circle cx="13" cy="129" r="1.6"/><circle cx="52" cy="92" r="1.6"/><circle cx="255" cy="14" r="1.6"/><circle cx="175" cy="44" r="1.6"/><circle cx="48" cy="190" r="1.6"/><circle cx="19" cy="40" r="1.6"/><circle cx="268" cy="93" r="1.6"/><circle cx="140" cy="42" r="1.6"/><circle cx="270" cy="84" r="1.6"/><circle cx="134" cy="151" r="1.6"/><circle cx="37" cy="51" r="1.6"/><circle cx="216" cy="151" r="1.6"/><circle cx="286" cy="90" r="1.5"/><circle cx="82" cy="164" r="1.5"/><circle cx="166" cy="134" r="1.5"/><circle cx="133" cy="122" r="1.5"/><circle cx="40" cy="67" r="1.5"/><circle cx="187" cy="188" r="1.5"/><circle cx="29" cy="192" r="1.5"/><circle cx="223" cy="23" r="1.5"/><circle cx="59" cy="90" r="1.5"/><circle cx="151" cy="96" r="1.5"/><circle cx="267" cy="76" r="1.5"/><circle cx="17" cy="174" r="1.5"/><circle cx="240" cy="10" r="1.5"/><circle cx="192" cy="42" r="1.5"/></g>
</g>
<rect x="16.7" y="1403.5" width="59.8" height="2.2" fill="#f8f8f8" stroke="#777" stroke-width="0.5"/>
</g>
<rect x="14.7" y="1218.6" width="284.6" height="190.9" fill="none" stroke="#000" stroke-width="1.6"/>
<clipPath id="clip202"><rect x="325.5" y="1218.6" width="285.3" height="190.9"/></clipPath>
<g clip-path="url(#clip202)">
<rect x="325.5" y="1218.6" width="285.3" height="190.9" fill="#eac28c" stroke="none" stroke-width="0"/>
<rect x="325.5" y="1218.6" width="285.3" height="190.9" fill="#fbf0e0" filter="url(#spk)" opacity="0.7"/>
<rect x="325.5" y="1218.6" width="285.3" height="190.9" fill="#f8e8d4" filter="url(#mot)" opacity="0.5"/>
<g transform="translate(325.5,1218.6)">
<path d="M5 2Q9 7 23 4M5 2Q5 10 -1 18M3 57Q10 50 19 43M3 57Q-1 63 -1 78M-1 78Q15 81 23 78M-1 78Q-6 87 -8 96M-8 96Q5 95 19 87M-8 96Q-5 109 -5 119M-5 119Q9 119 31 127M-5 119Q1 139 2 150M2 150Q2 164 0 175M0 175Q9 164 19 161M0 175Q-2 184 -3 184M-3 184Q14 180 31 184M23 4Q32 0 40 -5M23 4Q30 9 27 15M27 15Q44 12 53 18M19 43Q42 46 57 44M23 78Q17 82 19 87M19 87Q35 91 44 103M19 87Q27 103 31 127M31 127Q30 134 29 135M29 135Q34 134 45 135M29 135Q22 147 19 161M19 161Q31 162 42 165M19 161Q20 173 31 184M40 -5Q52 -3 69 -6M40 -5Q47 5 53 18M53 18Q61 22 73 21M53 18Q52 32 57 44M57 44Q56 51 50 66M50 66Q58 65 73 62M50 66Q49 85 44 103M44 103Q59 101 80 105M44 103Q55 104 57 115M57 115Q54 124 45 135M45 135Q46 146 42 165M42 165Q49 171 65 174M42 165Q41 179 48 193M48 193Q61 198 75 200M69 -6Q80 -2 92 2M73 21Q69 38 69 57M69 57Q83 56 89 49M69 57Q74 63 73 62M73 62Q72 85 80 105M80 105Q85 95 86 93M80 105Q71 118 69 129M69 129Q79 127 98 119M64 152Q79 142 97 134M64 152Q62 165 65 174M65 174Q73 170 88 169M65 174Q71 189 75 200M75 200Q81 195 89 182M92 2Q101 0 111 2M92 2Q93 12 104 16M104 16Q121 23 128 23M104 16Q99 31 89 49M89 49Q104 44 110 42M89 49Q84 52 88 63M88 63Q90 79 86 93M86 93Q100 94 114 95M86 93Q97 105 98 119M98 119Q106 116 111 120M97 134Q116 143 124 143M97 134Q94 153 88 169M88 169Q104 162 125 162M88 169Q87 180 89 182M89 182Q107 191 123 191M111 2Q127 1 145 -8M111 2Q122 16 128 23M128 23Q118 36 110 42M110 42Q121 48 138 49M110 42Q118 62 123 77M123 77Q116 87 114 95M114 95Q131 99 152 98M111 120Q120 137 124 143M124 143Q135 142 147 144M124 143Q128 158 125 162M125 162Q136 173 141 175M125 162Q123 177 123 191M123 191Q130 191 145 191M145 -8Q151 -5 165 -6M143 26Q143 39 138 49M138 49Q152 48 168 53M138 49Q139 60 134 70M134 70Q146 71 167 69M134 70Q144 82 152 98M152 98Q162 92 169 91M152 98Q150 108 144 127M144 127Q149 138 147 144M147 144Q160 148 164 143M141 175Q161 172 174 176M141 175Q146 182 145 191M165 -6Q177 -9 197 -2M168 53Q178 50 183 49M168 53Q165 62 167 69M167 69Q175 73 193 77M167 69Q163 76 169 91M169 91Q183 100 188 105M169 91Q174 111 176 122M176 122Q182 125 196 121M176 122Q173 136 164 143M174 176Q180 170 195 170M174 176Q171 187 171 199M171 199Q180 190 186 186M197 -2Q200 3 210 8M190 23Q190 39 183 49M183 49Q205 48 219 53M183 49Q191 61 193 77M193 77Q204 70 211 66M193 77Q189 89 188 105M188 105Q203 101 224 89M188 105Q190 112 196 121M196 121Q189 134 186 152M186 152Q201 146 206 140M186 152Q186 163 195 170M195 170Q205 169 221 166M195 170Q187 175 186 186M186 186Q201 189 209 183M210 8Q223 8 231 1M214 27Q223 30 237 27M219 53Q221 47 232 43M219 53Q219 55 211 66M211 66Q223 63 241 68M211 66Q221 76 224 89M224 89Q238 85 243 91M224 89Q229 102 225 118M225 118Q237 119 244 123M225 118Q214 127 206 140M206 140Q224 145 238 147M206 140Q212 150 221 166M221 166Q227 171 237 176M221 166Q210 173 209 183M209 183Q225 188 244 187M231 1Q253 1 270 2M231 1Q239 13 237 27M237 27Q256 24 270 28M237 27Q230 34 232 43M232 43Q251 42 271 48M241 68Q252 68 261 76M243 91Q255 93 272 96M243 91Q239 106 244 123M244 123Q255 126 268 122M244 123Q240 131 238 147M238 147Q236 164 237 176M270 2Q278 0 285 -1M270 2Q268 11 270 28M270 28Q287 31 296 25M270 28Q266 40 271 48M271 48Q283 49 288 42M271 48Q269 65 261 76M272 96Q280 104 292 104M268 122Q285 118 294 114M268 122Q267 132 260 138M260 138Q279 140 296 147M260 138Q262 147 266 161M266 161Q271 162 281 159M262 197Q272 190 283 193M285 -1Q288 15 296 25M288 42Q294 58 292 69M292 104Q296 108 294 114M294 114Q299 126 296 147M296 147Q288 156 281 159" fill="none" stroke="#d84636" stroke-width="1.0" opacity="0.7"/>
<circle cx="132" cy="46" r="5.3" fill="#fbeede" opacity="0.55"/>
<circle cx="226" cy="82" r="5.1" fill="#fbeede" opacity="0.55"/>
<circle cx="134" cy="52" r="9.5" fill="#fbeede" opacity="0.55"/>
<circle cx="272" cy="184" r="8" fill="#fbeede" opacity="0.55"/>
<circle cx="206" cy="57" r="8" fill="#fbeede" opacity="0.55"/>
<circle cx="74" cy="30" r="8.8" fill="#fbeede" opacity="0.55"/>
<circle cx="103" cy="85" r="5.6" fill="#fbeede" opacity="0.55"/>
<circle cx="109" cy="31" r="7.9" fill="#fbeede" opacity="0.55"/>
<circle cx="66" cy="6" r="6.4" fill="#fbeede" opacity="0.55"/>
<circle cx="111" cy="57" r="9.2" fill="#fbeede" opacity="0.55"/>
<circle cx="160" cy="96" r="4.8" fill="#fbeede" opacity="0.55"/>
<circle cx="84" cy="166" r="5" fill="#fbeede" opacity="0.55"/>
<circle cx="167" cy="50" r="5.3" fill="#fbeede" opacity="0.55"/>
<circle cx="149" cy="84" r="5.9" fill="#fbeede" opacity="0.55"/>
<circle cx="182" cy="64" r="4.3" fill="#fbeede" opacity="0.55"/>
<circle cx="82" cy="180" r="5.8" fill="#fbeede" opacity="0.55"/>
<circle cx="103" cy="96" r="7" fill="#fbeede" opacity="0.55"/>
<circle cx="236" cy="87" r="5.6" fill="#fbeede" opacity="0.55"/>
<circle cx="241" cy="55" r="5.5" fill="#fbeede" opacity="0.55"/>
<circle cx="11" cy="87" r="4.5" fill="#fbeede" opacity="0.55"/>
<circle cx="271" cy="125" r="6.5" fill="#fbeede" opacity="0.55"/>
<circle cx="34" cy="2" r="6.4" fill="#fbeede" opacity="0.55"/>
<circle cx="118" cy="51" r="6.3" fill="#fbeede" opacity="0.55"/>
<circle cx="228" cy="74" r="7.5" fill="#fbeede" opacity="0.55"/>
<circle cx="214" cy="34" r="4.8" fill="#fbeede" opacity="0.55"/>
<circle cx="154" cy="10" r="7.5" fill="#fbeede" opacity="0.55"/>
<circle cx="139" cy="119" r="7" fill="#fbeede" opacity="0.55"/>
<circle cx="21" cy="99" r="7.6" fill="#fbeede" opacity="0.55"/>
<circle cx="46" cy="59" r="5" fill="#fbeede" opacity="0.55"/>
<circle cx="204" cy="75" r="9.1" fill="#fbeede" opacity="0.55"/>
<g fill="#fdfbf9" stroke="#e07868" stroke-width="0.8"><circle cx="293" cy="20" r="14"/><circle cx="79" cy="97" r="13.9"/><circle cx="-1" cy="-12" r="13.7"/><circle cx="-11" cy="194" r="13.6"/><circle cx="249" cy="150" r="13.5"/><circle cx="221" cy="90" r="13.5"/><circle cx="146" cy="67" r="13.4"/><circle cx="72" cy="65" r="13.3"/><circle cx="116" cy="68" r="13.3"/><circle cx="274" cy="90" r="13.2"/><circle cx="47" cy="175" r="13.2"/><circle cx="68" cy="15" r="12.7"/><circle cx="217" cy="197" r="12.7"/><circle cx="28" cy="14" r="12.5"/><circle cx="187" cy="117" r="12.1"/><circle cx="231" cy="-10" r="12"/><circle cx="161" cy="144" r="11.9"/><circle cx="111" cy="19" r="11.8"/><circle cx="162" cy="42" r="11.8"/><circle cx="296" cy="158" r="11.7"/><circle cx="121" cy="134" r="11.5"/><circle cx="181" cy="63" r="11.4"/><circle cx="258" cy="28" r="11.2"/><circle cx="32" cy="200" r="11.1"/><circle cx="60" cy="128" r="11"/><circle cx="86" cy="41" r="10.9"/><circle cx="97" cy="157" r="10.6"/><circle cx="160" cy="105" r="10.3"/><circle cx="274" cy="179" r="10.3"/><circle cx="20" cy="158" r="10.1"/><circle cx="17" cy="61" r="10"/><circle cx="20" cy="103" r="9.9"/><circle cx="58" cy="38" r="9.9"/><circle cx="-1" cy="143" r="9.6"/><circle cx="223" cy="158" r="9.6"/><circle cx="213" cy="11" r="9.6"/><circle cx="99" cy="187" r="9.6"/><circle cx="290" cy="61" r="9.3"/><circle cx="186" cy="40" r="9.2"/><circle cx="201" cy="73" r="9.1"/><circle cx="162" cy="17" r="9"/><circle cx="183" cy="185" r="8.9"/><circle cx="270" cy="132" r="8.6"/><circle cx="275" cy="48" r="8.5"/><circle cx="240" cy="54" r="8.4"/><circle cx="164" cy="84" r="8.3"/><circle cx="117" cy="109" r="8.2"/><circle cx="15" cy="125" r="8.1"/><circle cx="202" cy="165" r="8.1"/><circle cx="197" cy="92" r="8"/><circle cx="224" cy="42" r="7.9"/><circle cx="293" cy="128" r="7.8"/><circle cx="239" cy="174" r="7.8"/><circle cx="244" cy="123" r="7.8"/><circle cx="41" cy="86" r="7.8"/><circle cx="259" cy="61" r="7.8"/><circle cx="43" cy="112" r="7.7"/><circle cx="28" cy="38" r="7.7"/><circle cx="244" cy="94" r="7.7"/><circle cx="166" cy="192" r="7.7"/><circle cx="54" cy="151" r="7.7"/><circle cx="241" cy="75" r="7.7"/><circle cx="121" cy="44" r="7.6"/><circle cx="71" cy="177" r="7.5"/><circle cx="260" cy="-6" r="7.4"/><circle cx="226" cy="114" r="7.4"/><circle cx="133" cy="31" r="7.4"/><circle cx="124" cy="192" r="7.3"/><circle cx="76" cy="156" r="7.2"/><circle cx="135" cy="14" r="7.2"/><circle cx="1" cy="110" r="7.2"/><circle cx="171" cy="-1" r="7.1"/><circle cx="288" cy="193" r="7"/><circle cx="11" cy="187" r="7"/><circle cx="123" cy="-1" r="7"/><circle cx="96" cy="133" r="7"/><circle cx="0" cy="84" r="7"/><circle cx="130" cy="163" r="6.9"/><circle cx="142" cy="130" r="6.9"/><circle cx="199" cy="136" r="6.9"/><circle cx="206" cy="38" r="6.8"/><circle cx="199" cy="55" r="6.8"/><circle cx="20" cy="81" r="6.8"/><circle cx="81" cy="198" r="6.8"/><circle cx="152" cy="177" r="6.8"/><circle cx="247" cy="8" r="6.7"/><circle cx="78" cy="-7" r="6.6"/><circle cx="99" cy="82" r="6.6"/><circle cx="95" cy="-2" r="6.6"/><circle cx="237" cy="30" r="6.6"/><circle cx="207" cy="110" r="6.6"/><circle cx="1" cy="38" r="6.5"/><circle cx="255" cy="182" r="6.5"/><circle cx="265" cy="112" r="6.4"/><circle cx="42" cy="55" r="6.4"/><circle cx="187" cy="147" r="6.4"/><circle cx="189" cy="-5" r="6.4"/><circle cx="136" cy="90" r="6.3"/><circle cx="-5" cy="163" r="6.3"/><circle cx="196" cy="22" r="6.3"/><circle cx="273" cy="8" r="6.3"/><circle cx="146" cy="0" r="6.2"/><circle cx="286" cy="-5" r="6.2"/><circle cx="40" cy="130" r="6.1"/><circle cx="89" cy="19" r="6.1"/><circle cx="247" cy="196" r="6.1"/><circle cx="78" cy="134" r="6.1"/><circle cx="182" cy="162" r="6.1"/><circle cx="4" cy="22" r="6"/><circle cx="220" cy="135" r="6"/><circle cx="57" cy="196" r="6"/><circle cx="58" cy="89" r="5.9"/><circle cx="34" cy="69" r="5.9"/><circle cx="-6" cy="52" r="5.9"/><circle cx="26" cy="177" r="5.8"/><circle cx="114" cy="166" r="5.8"/><circle cx="145" cy="192" r="5.8"/><circle cx="183" cy="14" r="5.8"/><circle cx="223" cy="59" r="5.7"/><circle cx="0" cy="68" r="5.7"/><circle cx="180" cy="88" r="5.7"/><circle cx="156" cy="125" r="5.7"/><circle cx="100" cy="112" r="5.7"/><circle cx="104" cy="98" r="5.6"/><circle cx="270" cy="161" r="5.5"/><circle cx="137" cy="114" r="5.4"/><circle cx="94" cy="59" r="5.4"/><circle cx="284" cy="110" r="5.4"/><circle cx="38" cy="145" r="5.3"/><circle cx="84" cy="118" r="5.3"/><circle cx="45" cy="-4" r="5.2"/><circle cx="150" cy="28" r="5"/><circle cx="136" cy="145" r="4.9"/><circle cx="104" cy="48" r="4.8"/><circle cx="47" cy="24" r="4.8"/><circle cx="60" cy="108" r="4.8"/><circle cx="-3" cy="125" r="4.7"/><circle cx="167" cy="177" r="4.6"/><circle cx="229" cy="18" r="4.6"/><circle cx="154" cy="163" r="4.6"/><circle cx="259" cy="46" r="4.5"/><circle cx="49" cy="69" r="4.5"/><circle cx="266" cy="194" r="4.5"/><circle cx="218" cy="27" r="4.5"/><circle cx="254" cy="106" r="4.5"/><circle cx="290" cy="44" r="4.4"/><circle cx="137" cy="179" r="4.4"/><circle cx="210" cy="127" r="4.4"/><circle cx="86" cy="175" r="4.4"/><circle cx="17" cy="-3" r="4.4"/><circle cx="255" cy="79" r="4.3"/><circle cx="273" cy="70" r="4.2"/><circle cx="281" cy="145" r="4.2"/><circle cx="130" cy="102" r="4.2"/><circle cx="107" cy="123" r="4.2"/><circle cx="0" cy="175" r="4.2"/><circle cx="200" cy="185" r="4.2"/><circle cx="29" cy="138" r="4.1"/><circle cx="222" cy="176" r="4.1"/><circle cx="-4" cy="12" r="4.1"/><circle cx="206" cy="148" r="4.1"/><circle cx="260" cy="169" r="4.1"/><circle cx="49" cy="8" r="3.9"/><circle cx="144" cy="45" r="3.9"/><circle cx="165" cy="162" r="3.9"/><circle cx="120" cy="93" r="3.9"/><circle cx="170" cy="126" r="3.8"/><circle cx="56" cy="0" r="3.8"/><circle cx="203" cy="-3" r="3.7"/><circle cx="179" cy="26" r="3.6"/><circle cx="5" cy="98" r="3.6"/><circle cx="209" cy="178" r="3.6"/><circle cx="117" cy="180" r="3.5"/><circle cx="12" cy="44" r="3.5"/><circle cx="145" cy="154" r="3.5"/><circle cx="87" cy="144" r="3.5"/><circle cx="248" cy="42" r="3.5"/><circle cx="231" cy="129" r="3.5"/><circle cx="258" cy="122" r="3.5"/><circle cx="10" cy="10" r="3.4"/><circle cx="118" cy="152" r="3.4"/><circle cx="63" cy="161" r="3.4"/><circle cx="277" cy="120" r="3.4"/><circle cx="50" cy="98" r="3.4"/><circle cx="143" cy="166" r="3.3"/><circle cx="231" cy="141" r="3.3"/><circle cx="7" cy="167" r="3.2"/><circle cx="42" cy="156" r="3.2"/><circle cx="214" cy="52" r="3.2"/><circle cx="16" cy="28" r="3.1"/><circle cx="18" cy="139" r="3.1"/><circle cx="177" cy="135" r="3"/><circle cx="134" cy="51" r="3"/><circle cx="188" cy="172" r="2.9"/><circle cx="187" cy="135" r="2.9"/><circle cx="107" cy="144" r="2.9"/><circle cx="230" cy="184" r="2.9"/><circle cx="55" cy="53" r="2.8"/><circle cx="36" cy="101" r="2.8"/><circle cx="127" cy="178" r="2.8"/><circle cx="215" cy="72" r="2.8"/><circle cx="128" cy="150" r="2.8"/><circle cx="91" cy="73" r="2.7"/><circle cx="173" cy="96" r="2.7"/><circle cx="208" cy="26" r="2.7"/><circle cx="146" cy="96" r="2.6"/><circle cx="66" cy="147" r="2.6"/><circle cx="44" cy="43" r="2.6"/><circle cx="104" cy="36" r="2.6"/><circle cx="132" cy="79" r="2.6"/><circle cx="287" cy="78" r="2.6"/><circle cx="85" cy="7" r="2.5"/><circle cx="274" cy="32" r="2.5"/><circle cx="238" cy="135" r="2.5"/><circle cx="240" cy="18" r="2.4"/><circle cx="72" cy="118" r="2.4"/><circle cx="270" cy="150" r="2.4"/><circle cx="240" cy="107" r="2.4"/><circle cx="175" cy="104" r="2.4"/><circle cx="126" cy="84" r="2.4"/><circle cx="6" cy="51" r="2.3"/><circle cx="96" cy="11" r="2.3"/><circle cx="14" cy="174" r="2.3"/><circle cx="148" cy="86" r="2.3"/><circle cx="196" cy="192" r="2.2"/><circle cx="258" cy="9" r="2.2"/></g>
</g>
<rect x="327.5" y="1403.5" width="59.9" height="2.2" fill="#f8f8f8" stroke="#777" stroke-width="0.5"/>
</g>
<rect x="325.5" y="1218.6" width="285.3" height="190.9" fill="none" stroke="#000" stroke-width="1.6"/>
<rect x="120.5" y="1287.9" width="71.2" height="50.5" fill="none" stroke="#000" stroke-width="2.2" stroke-dasharray="5.5,3.5"/>
<path d="M191.7 1287.9L325.5 1218.6M191.7 1338.4L325.5 1409.5" stroke="#000" stroke-width="2.2" stroke-dasharray="10,4" fill="none"/>
<text x="962.3" y="33.5" font-size="24.7" text-anchor="start" fill="#000">K</text>
<text x="1205.6" y="39.7" font-size="19.7" text-anchor="start" fill="#000">TCF7L2<tspan dy="-9" font-size="19.7">LoxP/LoxP</tspan></text>
<text x="1205.6" y="274" font-size="19.7" text-anchor="start" fill="#000">Hep-TCF7L2<tspan dy="-9" font-size="19.7">&#916;DBD</tspan></text>
<clipPath id="clip301"><rect x="996" y="47.8" width="285.3" height="191.7"/></clipPath>
<g clip-path="url(#clip301)">
<rect x="996" y="47.8" width="285.3" height="191.7" fill="#d5bc88" stroke="none" stroke-width="0"/>
<rect x="996" y="47.8" width="285.3" height="191.7" fill="#f2e8cc" filter="url(#spk)" opacity="0.6"/>
<rect x="996" y="47.8" width="285.3" height="191.7" fill="#bca068" filter="url(#mot)" opacity="0.15"/>
<g transform="translate(996,47.8)">
<ellipse cx="17.1" cy="118.9" rx="3" ry="9" transform="rotate(-20 17.1 118.9)" fill="#f6f0ec" stroke="#dc8078" stroke-width="1"/>
<ellipse cx="176.9" cy="13.4" rx="4" ry="8" transform="rotate(30 176.9 13.4)" fill="#f6f0ec" stroke="#dc8078" stroke-width="1"/>
<ellipse cx="191.2" cy="178.3" rx="3" ry="6" transform="rotate(40 191.2 178.3)" fill="#f6f0ec" stroke="#dc8078" stroke-width="1"/>
<ellipse cx="273.9" cy="95.8" rx="2.5" ry="10" transform="rotate(-10 273.9 95.8)" fill="#f6f0ec" stroke="#dc8078" stroke-width="1"/>
<ellipse cx="62.8" cy="153.4" rx="3" ry="12" transform="rotate(70 62.8 153.4)" fill="#f6f0ec" stroke="#dc8078" stroke-width="1"/>
<ellipse cx="219.7" cy="138" rx="2.5" ry="7" transform="rotate(60 219.7 138)" fill="#f6f0ec" stroke="#dc8078" stroke-width="1"/>
<ellipse cx="17.1" cy="28.8" rx="2.5" ry="8" transform="rotate(-15 17.1 28.8)" fill="#f6f0ec" stroke="#dc8078" stroke-width="1"/>
<g fill="#f8f4ee"><circle cx="66" cy="14" r="2.2"/><circle cx="76" cy="113" r="2.2"/><circle cx="204" cy="193" r="2.2"/><circle cx="1" cy="112" r="2.1"/><circle cx="233" cy="25" r="2.1"/><circle cx="72" cy="178" r="2.1"/><circle cx="179" cy="174" r="2.1"/><circle cx="61" cy="169" r="2.1"/><circle cx="254" cy="90" r="2.1"/><circle cx="2" cy="171" r="2.1"/><circle cx="229" cy="159" r="2.1"/><circle cx="186" cy="135" r="2"/><circle cx="36" cy="9" r="2"/><circle cx="256" cy="123" r="2"/><circle cx="176" cy="133" r="2"/><circle cx="54" cy="151" r="2"/><circle cx="265" cy="172" r="2"/><circle cx="104" cy="32" r="2"/><circle cx="163" cy="31" r="2"/><circle cx="244" cy="193" r="2"/><circle cx="117" cy="118" r="2"/><circle cx="272" cy="106" r="2"/><circle cx="145" cy="169" r="2"/><circle cx="8" cy="128" r="1.9"/><circle cx="239" cy="92" r="1.9"/><circle cx="75" cy="171" r="1.9"/><circle cx="198" cy="3" r="1.9"/><circle cx="10" cy="166" r="1.9"/><circle cx="123" cy="170" r="1.9"/><circle cx="42" cy="165" r="1.9"/><circle cx="151" cy="118" r="1.8"/><circle cx="102" cy="56" r="1.8"/><circle cx="119" cy="6" r="1.8"/><circle cx="121" cy="79" r="1.8"/><circle cx="129" cy="179" r="1.8"/><circle cx="246" cy="33" r="1.8"/><circle cx="178" cy="89" r="1.8"/><circle cx="217" cy="65" r="1.7"/><circle cx="95" cy="100" r="1.7"/><circle cx="151" cy="16" r="1.7"/><circle cx="157" cy="147" r="1.7"/><circle cx="181" cy="130" r="1.7"/><circle cx="116" cy="87" r="1.7"/><circle cx="145" cy="178" r="1.7"/><circle cx="52" cy="188" r="1.7"/><circle cx="-1" cy="19" r="1.7"/><circle cx="74" cy="100" r="1.7"/><circle cx="152" cy="141" r="1.6"/><circle cx="222" cy="119" r="1.6"/><circle cx="25" cy="168" r="1.6"/><circle cx="185" cy="16" r="1.6"/><circle cx="117" cy="179" r="1.6"/><circle cx="155" cy="88" r="1.6"/><circle cx="275" cy="177" r="1.6"/><circle cx="67" cy="49" r="1.6"/><circle cx="233" cy="78" r="1.6"/><circle cx="230" cy="1" r="1.6"/><circle cx="56" cy="66" r="1.6"/><circle cx="208" cy="184" r="1.5"/><circle cx="57" cy="0" r="1.5"/><circle cx="220" cy="87" r="1.5"/><circle cx="188" cy="91" r="1.5"/><circle cx="68" cy="87" r="1.5"/><circle cx="61" cy="140" r="1.5"/><circle cx="58" cy="16" r="1.5"/><circle cx="258" cy="177" r="1.5"/><circle cx="16" cy="142" r="1.5"/><circle cx="126" cy="21" r="1.4"/><circle cx="251" cy="4" r="1.4"/><circle cx="44" cy="29" r="1.4"/><circle cx="39" cy="14" r="1.4"/><circle cx="183" cy="98" r="1.4"/><circle cx="174" cy="42" r="1.4"/><circle cx="270" cy="33" r="1.4"/><circle cx="173" cy="30" r="1.3"/><circle cx="0" cy="120" r="1.3"/><circle cx="9" cy="80" r="1.3"/><circle cx="238" cy="154" r="1.3"/><circle cx="140" cy="123" r="1.3"/><circle cx="212" cy="77" r="1.3"/><circle cx="29" cy="161" r="1.2"/><circle cx="222" cy="169" r="1.2"/><circle cx="28" cy="123" r="1.2"/><circle cx="112" cy="160" r="1.2"/><circle cx="214" cy="102" r="1.2"/><circle cx="0" cy="136" r="1.2"/><circle cx="183" cy="188" r="1.2"/><circle cx="176" cy="82" r="1.2"/><circle cx="278" cy="188" r="1.2"/><circle cx="172" cy="181" r="1.2"/><circle cx="195" cy="9" r="1.2"/><circle cx="230" cy="178" r="1.2"/><circle cx="22" cy="123" r="1.2"/><circle cx="221" cy="112" r="1.2"/><circle cx="229" cy="125" r="1.2"/><circle cx="123" cy="118" r="1.2"/><circle cx="55" cy="193" r="1.1"/><circle cx="95" cy="61" r="1.1"/><circle cx="157" cy="33" r="1.1"/><circle cx="188" cy="155" r="1.1"/><circle cx="167" cy="162" r="1.1"/><circle cx="264" cy="16" r="1.1"/><circle cx="21" cy="101" r="1.1"/><circle cx="101" cy="100" r="1.1"/><circle cx="191" cy="119" r="1.1"/><circle cx="125" cy="101" r="1.1"/><circle cx="233" cy="68" r="1.1"/><circle cx="224" cy="1" r="1.1"/><circle cx="46" cy="179" r="1.1"/><circle cx="196" cy="168" r="1.1"/><circle cx="126" cy="107" r="1.1"/><circle cx="182" cy="103" r="1.1"/><circle cx="102" cy="90" r="1"/><circle cx="246" cy="24" r="1"/><circle cx="282" cy="154" r="1"/><circle cx="275" cy="98" r="1"/><circle cx="228" cy="16" r="1"/><circle cx="108" cy="6" r="1"/><circle cx="51" cy="51" r="1"/><circle cx="266" cy="43" r="1"/><circle cx="191" cy="6" r="1"/><circle cx="24" cy="144" r="1"/><circle cx="35" cy="127" r="1"/><circle cx="175" cy="64" r="1"/><circle cx="103" cy="120" r="1"/><circle cx="75" cy="129" r="1"/><circle cx="224" cy="9" r="1"/><circle cx="48" cy="7" r="1"/><circle cx="16" cy="150" r="1"/><circle cx="228" cy="186" r="0.9"/><circle cx="269" cy="73" r="0.9"/><circle cx="275" cy="19" r="0.9"/><circle cx="2" cy="6" r="0.9"/><circle cx="57" cy="121" r="0.9"/><circle cx="141" cy="67" r="0.9"/><circle cx="71" cy="7" r="0.9"/><circle cx="189" cy="49" r="0.9"/><circle cx="48" cy="128" r="0.9"/><circle cx="227" cy="78" r="0.9"/><circle cx="228" cy="92" r="0.9"/><circle cx="285" cy="133" r="0.9"/><circle cx="83" cy="0" r="0.9"/><circle cx="48" cy="174" r="0.9"/><circle cx="74" cy="145" r="0.9"/><circle cx="231" cy="6" r="0.9"/><circle cx="225" cy="36" r="0.9"/><circle cx="10" cy="95" r="0.9"/><circle cx="128" cy="167" r="0.9"/><circle cx="63" cy="51" r="0.9"/><circle cx="146" cy="10" r="0.9"/><circle cx="259" cy="105" r="0.8"/><circle cx="2" cy="99" r="0.8"/><circle cx="70" cy="22" r="0.8"/><circle cx="33" cy="99" r="0.8"/><circle cx="276" cy="15" r="0.8"/><circle cx="36" cy="190" r="0.8"/><circle cx="73" cy="58" r="0.8"/><circle cx="37" cy="175" r="0.8"/><circle cx="54" cy="144" r="0.8"/><circle cx="115" cy="1" r="0.8"/><circle cx="121" cy="177" r="0.8"/><circle cx="245" cy="118" r="0.8"/><circle cx="243" cy="71" r="0.8"/><circle cx="281" cy="162" r="0.8"/><circle cx="1" cy="127" r="0.8"/><circle cx="1" cy="107" r="0.8"/><circle cx="87" cy="58" r="0.8"/><circle cx="54" cy="7" r="0.8"/><circle cx="200" cy="159" r="0.8"/><circle cx="139" cy="24" r="0.8"/><circle cx="156" cy="171" r="0.8"/><circle cx="31" cy="133" r="0.8"/><circle cx="172" cy="53" r="0.8"/><circle cx="16" cy="37" r="0.8"/><circle cx="139" cy="129" r="0.8"/><circle cx="240" cy="18" r="0.8"/><circle cx="110" cy="176" r="0.8"/><circle cx="97" cy="32" r="0.8"/><circle cx="120" cy="38" r="0.8"/><circle cx="93" cy="23" r="0.8"/><circle cx="154" cy="126" r="0.8"/><circle cx="72" cy="2" r="0.8"/><circle cx="138" cy="15" r="0.8"/><circle cx="101" cy="168" r="0.8"/><circle cx="194" cy="96" r="0.8"/><circle cx="181" cy="125" r="0.8"/><circle cx="125" cy="64" r="0.8"/><circle cx="120" cy="46" r="0.8"/><circle cx="110" cy="187" r="0.8"/><circle cx="240" cy="105" r="0.7"/><circle cx="30" cy="141" r="0.7"/><circle cx="178" cy="11" r="0.7"/><circle cx="163" cy="129" r="0.7"/><circle cx="208" cy="169" r="0.7"/><circle cx="72" cy="92" r="0.7"/><circle cx="71" cy="30" r="0.7"/><circle cx="263" cy="91" r="0.7"/><circle cx="101" cy="4" r="0.7"/><circle cx="137" cy="160" r="0.7"/><circle cx="242" cy="96" r="0.7"/><circle cx="103" cy="12" r="0.7"/><circle cx="136" cy="118" r="0.7"/><circle cx="126" cy="29" r="0.7"/><circle cx="167" cy="171" r="0.7"/><circle cx="66" cy="135" r="0.7"/><circle cx="146" cy="74" r="0.7"/><circle cx="33" cy="185" r="0.7"/><circle cx="66" cy="145" r="0.7"/><circle cx="279" cy="128" r="0.7"/><circle cx="74" cy="124" r="0.7"/><circle cx="187" cy="104" r="0.7"/><circle cx="151" cy="104" r="0.7"/><circle cx="257" cy="5" r="0.7"/><circle cx="163" cy="180" r="0.7"/><circle cx="237" cy="29" r="0.7"/><circle cx="258" cy="83" r="0.7"/><circle cx="27" cy="105" r="0.7"/><circle cx="285" cy="58" r="0.7"/><circle cx="166" cy="11" r="0.7"/><circle cx="152" cy="64" r="0.7"/><circle cx="236" cy="13" r="0.7"/><circle cx="278" cy="9" r="0.7"/><circle cx="220" cy="18" r="0.7"/><circle cx="181" cy="149" r="0.7"/><circle cx="137" cy="133" r="0.7"/><circle cx="67" cy="170" r="0.7"/><circle cx="158" cy="111" r="0.7"/><circle cx="134" cy="157" r="0.7"/><circle cx="109" cy="45" r="0.7"/><circle cx="56" cy="44" r="0.7"/><circle cx="264" cy="107" r="0.7"/><circle cx="271" cy="145" r="0.7"/><circle cx="280" cy="76" r="0.7"/><circle cx="267" cy="1" r="0.7"/><circle cx="200" cy="113" r="0.7"/><circle cx="218" cy="150" r="0.7"/><circle cx="203" cy="101" r="0.7"/><circle cx="140" cy="42" r="0.7"/><circle cx="135" cy="65" r="0.7"/><circle cx="20" cy="105" r="0.7"/><circle cx="235" cy="53" r="0.7"/><circle cx="74" cy="18" r="0.7"/><circle cx="243" cy="7" r="0.7"/><circle cx="95" cy="147" r="0.7"/><circle cx="193" cy="59" r="0.7"/><circle cx="96" cy="95" r="0.7"/><circle cx="27" cy="78" r="0.7"/><circle cx="150" cy="44" r="0.7"/><circle cx="230" cy="33" r="0.7"/><circle cx="179" cy="62" r="0.7"/><circle cx="270" cy="132" r="0.7"/><circle cx="211" cy="98" r="0.7"/><circle cx="155" cy="11" r="0.7"/><circle cx="28" cy="36" r="0.7"/><circle cx="142" cy="140" r="0.7"/><circle cx="162" cy="133" r="0.7"/><circle cx="74" cy="81" r="0.7"/><circle cx="187" cy="130" r="0.7"/><circle cx="256" cy="155" r="0.7"/><circle cx="136" cy="149" r="0.7"/></g>
</g>
<rect x="998" y="233.5" width="59.9" height="2.2" fill="#f8f8f8" stroke="#777" stroke-width="0.5"/>
</g>
<rect x="996" y="47.8" width="285.3" height="191.7" fill="none" stroke="#000" stroke-width="1.6"/>
<clipPath id="clip302"><rect x="1307.2" y="47.8" width="285.2" height="191.7"/></clipPath>
<g clip-path="url(#clip302)">
<rect x="1307.2" y="47.8" width="285.2" height="191.7" fill="#d6b374" stroke="none" stroke-width="0"/>
<rect x="1307.2" y="47.8" width="285.2" height="191.7" fill="#f4e8c4" filter="url(#spk)" opacity="0.7"/>
<rect x="1307.2" y="47.8" width="285.2" height="191.7" fill="#c48a50" filter="url(#mot2)" opacity="0.4"/>
<g transform="translate(1307.2,47.8)">
<path d="M5 0Q5 5 0 13M3 54Q8 56 5 65M5 65Q3 64 8 69M1 78Q1 91 -3 93M-3 93Q6 96 16 94M5 114Q7 119 0 130M0 130Q7 124 19 128M5 138Q1 143 4 151M-1 183Q4 189 2 191M2 191Q2 195 11 201M11 32Q18 33 26 24M11 32Q8 41 13 45M13 45Q11 44 9 53M19 128Q26 127 28 123M18 143Q15 147 11 150M11 150Q22 155 27 156M23 4Q22 12 22 19M26 24Q34 22 44 30M29 44Q32 47 43 41M25 86Q35 90 47 87M43 41Q43 49 37 50M42 103Q39 111 36 116M36 116Q44 118 42 125M43 138Q45 143 42 158M41 178Q52 183 59 180M57 12Q61 7 68 12M59 88Q64 91 58 99M55 124Q66 129 68 130M52 138Q57 151 56 158M53 172Q52 176 59 180M59 180Q61 189 57 201M57 201Q61 200 65 197M68 25Q70 39 69 45M69 45Q75 45 72 53M72 53Q76 59 84 57M71 70Q70 71 65 81M68 136Q79 140 87 141M69 153Q63 158 66 166M65 197Q74 197 87 198M87 31Q92 32 94 27M82 46Q82 50 84 57M81 67Q84 65 93 68M79 79Q93 81 100 87M85 111Q85 115 81 125M84 162Q82 177 80 186M103 2Q107 2 116 1M94 27Q104 23 113 24M99 51Q109 55 116 58M99 51Q99 55 93 68M96 110Q98 110 107 116M96 110Q91 120 94 124M97 154Q94 166 99 170M95 198Q100 197 110 194M116 1Q117 1 128 0M116 37Q126 42 128 43M116 58Q120 55 125 53M116 83Q124 81 124 86M116 83Q115 97 116 103M112 129Q114 140 108 143M111 156Q115 160 110 163M122 31Q134 34 142 29M122 31Q129 35 128 43M125 53Q125 63 125 73M124 86Q139 83 145 89M122 95Q126 101 131 109M131 109Q135 110 143 109M129 144Q125 152 123 159M141 3Q147 1 149 2M143 46Q148 42 153 39M135 72Q137 79 145 89M144 124Q148 131 143 139M143 139Q148 141 153 136M153 39Q156 45 149 55M149 55Q154 63 158 75M152 86Q165 82 173 79M157 116Q165 110 167 112M153 136Q147 142 148 154M148 154Q164 151 171 153M149 185Q156 192 158 195M158 195Q159 201 163 198M162 -1Q167 5 168 9M168 9Q170 19 171 22M171 22Q174 31 173 44M173 44Q181 41 182 37M173 79Q167 85 168 96M168 96Q175 97 178 99M167 112Q180 109 186 112M171 153Q174 152 182 157M172 171Q178 175 182 173M176 10Q185 16 185 23M185 23Q184 21 191 29M177 61Q180 63 183 70M178 99Q185 101 186 112M183 140Q194 136 196 134M182 157Q184 163 182 173M177 176Q187 177 196 179M177 176Q180 181 178 195M197 41Q199 50 192 52M191 100Q200 104 199 109M199 109Q204 106 208 106M196 179Q201 184 204 180M209 1Q209 8 209 8M209 8Q210 6 220 13M206 33Q204 37 210 41M206 52Q205 60 214 71M214 71Q211 78 210 79M210 79Q218 88 219 88M209 96Q214 92 220 95M208 106Q217 112 218 115M210 121Q215 121 218 125M210 121Q209 127 208 141M209 153Q205 164 205 170M205 170Q217 170 222 168M219 0Q230 1 233 3M220 13Q227 19 224 29M220 54Q227 57 233 51M221 71Q227 74 241 75M219 88Q235 85 242 78M220 95Q225 100 240 97M218 115Q214 124 218 125M218 125Q223 128 236 126M226 156Q225 151 233 152M219 185Q218 190 222 197M222 197Q229 195 234 195M243 19Q253 20 256 17M241 75Q247 72 256 68M242 78Q244 87 249 88M240 97Q235 100 233 108M233 108Q239 113 236 126M236 126Q244 136 242 139M254 -1Q258 3 261 0M256 17Q257 19 248 28M254 58Q259 55 261 57M256 68Q249 75 249 88M249 88Q249 89 248 97M250 107Q251 115 251 126M251 126Q249 129 255 140M255 140Q257 139 263 140M248 184Q253 192 254 190M261 0Q268 0 275 -2M261 0Q268 4 270 9M269 67Q273 64 279 69M271 93Q269 90 277 97M261 111Q272 113 283 109M265 127Q275 127 276 127M269 169Q278 174 278 171M284 56Q291 61 289 60M277 97Q285 95 296 103M277 97Q278 102 283 109M278 171Q275 175 277 183M296 103Q291 104 292 112M298 163Q299 173 298 178" fill="none" stroke="#f6efe2" stroke-width="0.9" opacity="0.9"/>
<ellipse cx="142.6" cy="19.2" rx="7" ry="12" transform="rotate(10 142.6 19.2)" fill="#f6f0ec" stroke="#d86858" stroke-width="1"/>
<g fill="#f6f2ec"><circle cx="130" cy="105" r="6.7"/><circle cx="7" cy="138" r="6.6"/><circle cx="41" cy="144" r="6.4"/><circle cx="102" cy="74" r="6.4"/><circle cx="70" cy="59" r="6"/><circle cx="135" cy="29" r="5.8"/><circle cx="107" cy="126" r="5.8"/><circle cx="87" cy="121" r="5.7"/><circle cx="158" cy="38" r="5.5"/><circle cx="48" cy="86" r="5.2"/><circle cx="32" cy="89" r="5.2"/><circle cx="137" cy="61" r="5.1"/><circle cx="114" cy="64" r="4.8"/><circle cx="33" cy="156" r="4.7"/><circle cx="35" cy="109" r="4.4"/><circle cx="25" cy="140" r="4.1"/><circle cx="66" cy="98" r="3.8"/><circle cx="112" cy="88" r="3.5"/><circle cx="18" cy="127" r="3.2"/><circle cx="152" cy="23" r="2.7"/><circle cx="61" cy="148" r="2.6"/><circle cx="18" cy="150" r="2.5"/><circle cx="35" cy="123" r="2.5"/><circle cx="0" cy="119" r="2.4"/><circle cx="140" cy="93" r="2.3"/><circle cx="-4" cy="151" r="1.9"/><circle cx="148" cy="32" r="1.9"/><circle cx="19" cy="159" r="1.7"/><circle cx="66" cy="119" r="1.7"/><circle cx="45" cy="120" r="1.7"/><circle cx="-2" cy="128" r="1.6"/><circle cx="51" cy="153" r="1.6"/><circle cx="158" cy="57" r="1.6"/><circle cx="136" cy="84" r="1.5"/><circle cx="-10" cy="142" r="1.5"/><circle cx="86" cy="93" r="1.5"/><circle cx="109" cy="57" r="1.5"/><circle cx="91" cy="89" r="1.5"/><circle cx="43" cy="98" r="1.5"/><circle cx="103" cy="141" r="1.5"/></g>
</g>
<rect x="1309.2" y="233.5" width="59.9" height="2.2" fill="#f8f8f8" stroke="#777" stroke-width="0.5"/>
</g>
<rect x="1307.2" y="47.8" width="285.2" height="191.7" fill="none" stroke="#000" stroke-width="1.6"/>
<rect x="1099.7" y="111" width="71.6" height="50.5" fill="none" stroke="#000" stroke-width="2.2" stroke-dasharray="5.5,3.5"/>
<path d="M1171.3 111L1307.2 47.8M1171.3 161.5L1307.2 239.5" stroke="#000" stroke-width="2.2" stroke-dasharray="10,4" fill="none"/>
<clipPath id="clip401"><rect x="996" y="283.6" width="285.3" height="191.7"/></clipPath>
<g clip-path="url(#clip401)">
<rect x="996" y="283.6" width="285.3" height="191.7" fill="#d8c08e" stroke="none" stroke-width="0"/>
<rect x="996" y="283.6" width="285.3" height="191.7" fill="#f4ead0" filter="url(#spk)" opacity="0.7"/>
<rect x="996" y="283.6" width="285.3" height="191.7" fill="#bca068" filter="url(#mot)" opacity="0.15"/>
<g transform="translate(996,283.6)">
<ellipse cx="11.4" cy="53.7" rx="3" ry="8" transform="rotate(-20 11.4 53.7)" fill="#f6f0ec" stroke="#dc8078" stroke-width="1"/>
<ellipse cx="97" cy="47.9" rx="3" ry="6" transform="rotate(30 97 47.9)" fill="#f6f0ec" stroke="#dc8078" stroke-width="1"/>
<ellipse cx="205.4" cy="34.5" rx="2.5" ry="7" transform="rotate(20 205.4 34.5)" fill="#f6f0ec" stroke="#dc8078" stroke-width="1"/>
<ellipse cx="233.9" cy="72.8" rx="3" ry="9" transform="rotate(-30 233.9 72.8)" fill="#f6f0ec" stroke="#dc8078" stroke-width="1"/>
<ellipse cx="51.4" cy="115" rx="2.5" ry="6" transform="rotate(10 51.4 115)" fill="#f6f0ec" stroke="#dc8078" stroke-width="1"/>
<ellipse cx="148.4" cy="162.9" rx="3" ry="6" transform="rotate(40 148.4 162.9)" fill="#f6f0ec" stroke="#dc8078" stroke-width="1"/>
<ellipse cx="256.8" cy="176.4" rx="3" ry="7" transform="rotate(50 256.8 176.4)" fill="#f6f0ec" stroke="#dc8078" stroke-width="1"/>
<ellipse cx="176.9" cy="105.4" rx="2.5" ry="8" transform="rotate(-20 176.9 105.4)" fill="#f6f0ec" stroke="#dc8078" stroke-width="1"/>
<g fill="#f8f4ee"><circle cx="192" cy="142" r="2.6"/><circle cx="129" cy="38" r="2.6"/><circle cx="195" cy="153" r="2.6"/><circle cx="42" cy="6" r="2.5"/><circle cx="143" cy="168" r="2.5"/><circle cx="152" cy="110" r="2.5"/><circle cx="239" cy="74" r="2.5"/><circle cx="127" cy="118" r="2.5"/><circle cx="89" cy="-2" r="2.5"/><circle cx="157" cy="145" r="2.5"/><circle cx="-2" cy="71" r="2.5"/><circle cx="244" cy="139" r="2.5"/><circle cx="85" cy="168" r="2.5"/><circle cx="175" cy="83" r="2.5"/><circle cx="184" cy="180" r="2.5"/><circle cx="55" cy="95" r="2.5"/><circle cx="126" cy="133" r="2.4"/><circle cx="97" cy="82" r="2.4"/><circle cx="68" cy="1" r="2.4"/><circle cx="65" cy="11" r="2.4"/><circle cx="237" cy="173" r="2.4"/><circle cx="6" cy="178" r="2.4"/><circle cx="95" cy="114" r="2.4"/><circle cx="231" cy="69" r="2.4"/><circle cx="137" cy="186" r="2.4"/><circle cx="193" cy="62" r="2.4"/><circle cx="48" cy="22" r="2.4"/><circle cx="268" cy="82" r="2.4"/><circle cx="192" cy="161" r="2.4"/><circle cx="108" cy="171" r="2.3"/><circle cx="91" cy="177" r="2.3"/><circle cx="178" cy="40" r="2.3"/><circle cx="134" cy="89" r="2.3"/><circle cx="138" cy="27" r="2.3"/><circle cx="188" cy="35" r="2.3"/><circle cx="219" cy="190" r="2.3"/><circle cx="119" cy="149" r="2.3"/><circle cx="252" cy="94" r="2.3"/><circle cx="221" cy="157" r="2.3"/><circle cx="253" cy="41" r="2.3"/><circle cx="1" cy="27" r="2.3"/><circle cx="42" cy="194" r="2.3"/><circle cx="262" cy="8" r="2.2"/><circle cx="270" cy="89" r="2.2"/><circle cx="270" cy="99" r="2.2"/><circle cx="119" cy="23" r="2.2"/><circle cx="118" cy="45" r="2.2"/><circle cx="0" cy="115" r="2.2"/><circle cx="73" cy="118" r="2.1"/><circle cx="158" cy="177" r="2.1"/><circle cx="54" cy="131" r="2.1"/><circle cx="275" cy="76" r="2.1"/><circle cx="73" cy="72" r="2.1"/><circle cx="76" cy="17" r="2.1"/><circle cx="280" cy="2" r="2.1"/><circle cx="66" cy="19" r="2.1"/><circle cx="33" cy="147" r="2.1"/><circle cx="71" cy="104" r="2.1"/><circle cx="37" cy="41" r="2.1"/><circle cx="277" cy="68" r="2.1"/><circle cx="244" cy="132" r="2.1"/><circle cx="265" cy="18" r="2"/><circle cx="228" cy="114" r="2"/><circle cx="59" cy="169" r="2"/><circle cx="150" cy="6" r="2"/><circle cx="241" cy="183" r="2"/><circle cx="281" cy="48" r="1.9"/><circle cx="204" cy="98" r="1.9"/><circle cx="275" cy="157" r="1.9"/><circle cx="66" cy="141" r="1.9"/><circle cx="203" cy="135" r="1.9"/><circle cx="196" cy="190" r="1.9"/><circle cx="270" cy="121" r="1.9"/><circle cx="24" cy="185" r="1.9"/><circle cx="34" cy="173" r="1.9"/><circle cx="202" cy="53" r="1.9"/><circle cx="269" cy="128" r="1.8"/><circle cx="131" cy="109" r="1.8"/><circle cx="13" cy="63" r="1.8"/><circle cx="278" cy="36" r="1.8"/><circle cx="182" cy="69" r="1.8"/><circle cx="277" cy="178" r="1.8"/><circle cx="46" cy="153" r="1.8"/><circle cx="110" cy="147" r="1.8"/><circle cx="153" cy="90" r="1.8"/><circle cx="132" cy="68" r="1.8"/><circle cx="1" cy="150" r="1.8"/><circle cx="172" cy="141" r="1.8"/><circle cx="50" cy="173" r="1.8"/><circle cx="7" cy="160" r="1.8"/><circle cx="99" cy="95" r="1.8"/><circle cx="216" cy="144" r="1.8"/><circle cx="223" cy="5" r="1.7"/><circle cx="236" cy="103" r="1.7"/><circle cx="48" cy="54" r="1.7"/><circle cx="135" cy="46" r="1.7"/><circle cx="137" cy="72" r="1.7"/><circle cx="-1" cy="63" r="1.7"/><circle cx="194" cy="176" r="1.7"/><circle cx="282" cy="125" r="1.7"/><circle cx="210" cy="38" r="1.7"/><circle cx="218" cy="62" r="1.7"/><circle cx="175" cy="94" r="1.7"/><circle cx="198" cy="72" r="1.7"/><circle cx="226" cy="131" r="1.7"/><circle cx="243" cy="87" r="1.7"/><circle cx="153" cy="167" r="1.6"/><circle cx="207" cy="190" r="1.6"/><circle cx="183" cy="27" r="1.6"/><circle cx="41" cy="108" r="1.6"/><circle cx="146" cy="148" r="1.6"/><circle cx="210" cy="181" r="1.6"/><circle cx="233" cy="169" r="1.6"/><circle cx="1" cy="107" r="1.6"/><circle cx="26" cy="161" r="1.6"/><circle cx="213" cy="48" r="1.6"/><circle cx="228" cy="-1" r="1.6"/><circle cx="96" cy="100" r="1.6"/><circle cx="119" cy="107" r="1.6"/><circle cx="138" cy="36" r="1.6"/><circle cx="283" cy="31" r="1.5"/><circle cx="20" cy="132" r="1.5"/><circle cx="211" cy="24" r="1.5"/><circle cx="40" cy="154" r="1.5"/><circle cx="203" cy="3" r="1.5"/><circle cx="47" cy="40" r="1.5"/><circle cx="268" cy="155" r="1.5"/><circle cx="78" cy="-1" r="1.5"/><circle cx="103" cy="180" r="1.5"/><circle cx="50" cy="160" r="1.5"/><circle cx="177" cy="128" r="1.5"/><circle cx="146" cy="82" r="1.5"/><circle cx="175" cy="24" r="1.5"/><circle cx="131" cy="160" r="1.5"/><circle cx="37" cy="68" r="1.4"/><circle cx="12" cy="158" r="1.4"/><circle cx="180" cy="121" r="1.4"/><circle cx="143" cy="38" r="1.4"/><circle cx="271" cy="49" r="1.4"/><circle cx="24" cy="125" r="1.4"/><circle cx="107" cy="115" r="1.4"/><circle cx="2" cy="78" r="1.4"/><circle cx="252" cy="135" r="1.4"/><circle cx="14" cy="7" r="1.4"/><circle cx="4" cy="167" r="1.4"/><circle cx="250" cy="172" r="1.4"/><circle cx="79" cy="34" r="1.4"/><circle cx="272" cy="0" r="1.4"/><circle cx="103" cy="71" r="1.4"/><circle cx="138" cy="162" r="1.3"/><circle cx="158" cy="70" r="1.3"/><circle cx="236" cy="96" r="1.3"/><circle cx="175" cy="123" r="1.3"/><circle cx="265" cy="51" r="1.3"/><circle cx="171" cy="88" r="1.3"/><circle cx="277" cy="56" r="1.3"/><circle cx="184" cy="61" r="1.3"/><circle cx="83" cy="191" r="1.3"/><circle cx="77" cy="69" r="1.3"/><circle cx="109" cy="94" r="1.2"/><circle cx="87" cy="116" r="1.2"/><circle cx="214" cy="167" r="1.2"/><circle cx="266" cy="151" r="1.2"/><circle cx="36" cy="157" r="1.2"/><circle cx="274" cy="45" r="1.2"/><circle cx="131" cy="169" r="1.2"/><circle cx="229" cy="29" r="1.2"/><circle cx="186" cy="141" r="1.2"/><circle cx="28" cy="44" r="1.2"/><circle cx="256" cy="74" r="1.2"/><circle cx="238" cy="155" r="1.2"/><circle cx="42" cy="131" r="1.2"/><circle cx="187" cy="146" r="1.2"/><circle cx="151" cy="36" r="1.2"/><circle cx="118" cy="17" r="1.2"/><circle cx="195" cy="129" r="1.2"/><circle cx="139" cy="176" r="1.2"/><circle cx="13" cy="84" r="1.2"/><circle cx="73" cy="4" r="1.2"/><circle cx="59" cy="146" r="1.2"/><circle cx="259" cy="-1" r="1.2"/><circle cx="101" cy="53" r="1.2"/><circle cx="268" cy="169" r="1.2"/><circle cx="127" cy="99" r="1.1"/><circle cx="188" cy="100" r="1.1"/><circle cx="144" cy="186" r="1.1"/><circle cx="214" cy="177" r="1.1"/><circle cx="187" cy="86" r="1.1"/><circle cx="93" cy="19" r="1.1"/><circle cx="248" cy="117" r="1.1"/><circle cx="12" cy="99" r="1.1"/><circle cx="194" cy="14" r="1.1"/><circle cx="235" cy="117" r="1.1"/><circle cx="101" cy="64" r="1.1"/><circle cx="258" cy="80" r="1.1"/><circle cx="116" cy="95" r="1.1"/><circle cx="53" cy="75" r="1.1"/><circle cx="9" cy="149" r="1.1"/><circle cx="62" cy="124" r="1.1"/><circle cx="17" cy="154" r="1.1"/><circle cx="69" cy="175" r="1.1"/><circle cx="43" cy="164" r="1.1"/><circle cx="7" cy="113" r="1.1"/><circle cx="254" cy="180" r="1.1"/><circle cx="237" cy="17" r="1.1"/><circle cx="259" cy="148" r="1.1"/><circle cx="61" cy="93" r="1"/><circle cx="260" cy="134" r="1"/><circle cx="172" cy="30" r="1"/><circle cx="143" cy="113" r="1"/><circle cx="222" cy="55" r="1"/><circle cx="19" cy="188" r="1"/><circle cx="248" cy="70" r="1"/><circle cx="264" cy="122" r="1"/><circle cx="20" cy="2" r="1"/><circle cx="37" cy="178" r="1"/><circle cx="22" cy="112" r="1"/><circle cx="75" cy="90" r="1"/><circle cx="245" cy="160" r="1"/><circle cx="130" cy="50" r="1"/><circle cx="60" cy="190" r="1"/><circle cx="153" cy="162" r="1"/><circle cx="31" cy="25" r="1"/><circle cx="168" cy="111" r="1"/><circle cx="179" cy="139" r="1"/><circle cx="229" cy="88" r="1"/><circle cx="255" cy="85" r="0.9"/><circle cx="115" cy="143" r="0.9"/><circle cx="230" cy="51" r="0.9"/><circle cx="107" cy="91" r="0.9"/><circle cx="57" cy="176" r="0.9"/><circle cx="262" cy="175" r="0.9"/><circle cx="124" cy="192" r="0.9"/><circle cx="22" cy="62" r="0.9"/><circle cx="92" cy="190" r="0.9"/><circle cx="284" cy="118" r="0.9"/><circle cx="120" cy="74" r="0.9"/><circle cx="176" cy="108" r="0.9"/><circle cx="42" cy="176" r="0.9"/><circle cx="159" cy="100" r="0.9"/><circle cx="94" cy="78" r="0.9"/><circle cx="148" cy="94" r="0.9"/><circle cx="98" cy="110" r="0.9"/><circle cx="218" cy="169" r="0.9"/><circle cx="213" cy="93" r="0.9"/><circle cx="179" cy="171" r="0.9"/><circle cx="29" cy="75" r="0.9"/><circle cx="8" cy="8" r="0.9"/><circle cx="222" cy="74" r="0.9"/><circle cx="46" cy="119" r="0.9"/><circle cx="113" cy="189" r="0.9"/><circle cx="72" cy="84" r="0.9"/><circle cx="142" cy="99" r="0.9"/><circle cx="164" cy="154" r="0.9"/><circle cx="185" cy="106" r="0.9"/><circle cx="214" cy="86" r="0.9"/><circle cx="238" cy="139" r="0.9"/><circle cx="267" cy="56" r="0.8"/><circle cx="59" cy="64" r="0.8"/><circle cx="151" cy="174" r="0.8"/><circle cx="134" cy="129" r="0.8"/><circle cx="4" cy="188" r="0.8"/><circle cx="27" cy="22" r="0.8"/><circle cx="95" cy="143" r="0.8"/><circle cx="67" cy="122" r="0.8"/><circle cx="23" cy="93" r="0.8"/><circle cx="109" cy="103" r="0.8"/><circle cx="130" cy="155" r="0.8"/><circle cx="151" cy="133" r="0.8"/><circle cx="128" cy="31" r="0.8"/><circle cx="163" cy="158" r="0.8"/><circle cx="165" cy="128" r="0.8"/><circle cx="80" cy="85" r="0.8"/><circle cx="13" cy="168" r="0.8"/><circle cx="196" cy="92" r="0.8"/><circle cx="35" cy="53" r="0.8"/><circle cx="116" cy="88" r="0.8"/><circle cx="83" cy="55" r="0.8"/><circle cx="49" cy="93" r="0.8"/><circle cx="143" cy="192" r="0.8"/><circle cx="247" cy="97" r="0.8"/><circle cx="93" cy="34" r="0.8"/><circle cx="149" cy="20" r="0.8"/><circle cx="254" cy="5" r="0.8"/><circle cx="13" cy="184" r="0.8"/><circle cx="25" cy="59" r="0.8"/><circle cx="218" cy="51" r="0.8"/><circle cx="210" cy="122" r="0.8"/><circle cx="273" cy="134" r="0.8"/><circle cx="189" cy="115" r="0.8"/><circle cx="179" cy="77" r="0.8"/><circle cx="116" cy="176" r="0.8"/><circle cx="48" cy="14" r="0.8"/><circle cx="82" cy="96" r="0.8"/><circle cx="93" cy="52" r="0.8"/><circle cx="273" cy="189" r="0.8"/><circle cx="132" cy="54" r="0.8"/><circle cx="114" cy="162" r="0.8"/><circle cx="78" cy="51" r="0.8"/><circle cx="27" cy="121" r="0.8"/><circle cx="92" cy="9" r="0.8"/><circle cx="166" cy="168" r="0.8"/><circle cx="183" cy="4" r="0.8"/><circle cx="170" cy="124" r="0.7"/><circle cx="205" cy="104" r="0.7"/><circle cx="169" cy="130" r="0.7"/><circle cx="63" cy="114" r="0.7"/><circle cx="79" cy="78" r="0.7"/><circle cx="173" cy="99" r="0.7"/><circle cx="286" cy="140" r="0.7"/><circle cx="3" cy="49" r="0.7"/><circle cx="198" cy="30" r="0.7"/><circle cx="124" cy="52" r="0.7"/><circle cx="111" cy="121" r="0.7"/><circle cx="241" cy="126" r="0.7"/><circle cx="27" cy="112" r="0.7"/><circle cx="200" cy="48" r="0.7"/><circle cx="242" cy="144" r="0.7"/><circle cx="56" cy="138" r="0.7"/><circle cx="107" cy="151" r="0.7"/><circle cx="224" cy="121" r="0.7"/><circle cx="106" cy="58" r="0.7"/><circle cx="177" cy="6" r="0.7"/><circle cx="110" cy="18" r="0.7"/><circle cx="83" cy="62" r="0.7"/><circle cx="264" cy="161" r="0.7"/><circle cx="19" cy="40" r="0.7"/><circle cx="176" cy="115" r="0.7"/><circle cx="72" cy="93" r="0.7"/><circle cx="148" cy="171" r="0.7"/><circle cx="32" cy="185" r="0.7"/><circle cx="207" cy="161" r="0.7"/><circle cx="187" cy="192" r="0.7"/><circle cx="259" cy="161" r="0.7"/><circle cx="246" cy="147" r="0.7"/><circle cx="238" cy="164" r="0.7"/><circle cx="265" cy="177" r="0.7"/><circle cx="195" cy="135" r="0.7"/><circle cx="106" cy="108" r="0.7"/><circle cx="211" cy="34" r="0.7"/><circle cx="84" cy="16" r="0.7"/><circle cx="136" cy="21" r="0.7"/><circle cx="118" cy="35" r="0.7"/><circle cx="162" cy="134" r="0.7"/><circle cx="40" cy="19" r="0.7"/><circle cx="158" cy="118" r="0.7"/><circle cx="277" cy="91" r="0.7"/><circle cx="65" cy="192" r="0.7"/><circle cx="175" cy="183" r="0.7"/><circle cx="66" cy="60" r="0.7"/><circle cx="162" cy="92" r="0.7"/><circle cx="256" cy="120" r="0.7"/><circle cx="49" cy="133" r="0.7"/><circle cx="60" cy="37" r="0.7"/><circle cx="133" cy="136" r="0.7"/><circle cx="205" cy="24" r="0.7"/><circle cx="67" cy="148" r="0.7"/><circle cx="54" cy="192" r="0.7"/><circle cx="275" cy="63" r="0.7"/><circle cx="250" cy="60" r="0.7"/><circle cx="91" cy="43" r="0.7"/><circle cx="255" cy="60" r="0.7"/><circle cx="63" cy="150" r="0.7"/><circle cx="213" cy="5" r="0.7"/><circle cx="51" cy="114" r="0.7"/><circle cx="191" cy="28" r="0.7"/><circle cx="146" cy="128" r="0.7"/><circle cx="252" cy="67" r="0.7"/><circle cx="4" cy="39" r="0.7"/><circle cx="187" cy="58" r="0.7"/><circle cx="2" cy="19" r="0.7"/><circle cx="107" cy="133" r="0.7"/><circle cx="127" cy="23" r="0.7"/><circle cx="20" cy="35" r="0.7"/><circle cx="103" cy="130" r="0.7"/><circle cx="16" cy="92" r="0.7"/><circle cx="213" cy="57" r="0.7"/><circle cx="211" cy="113" r="0.7"/><circle cx="130" cy="13" r="0.7"/><circle cx="230" cy="126" r="0.7"/></g>
</g>
<rect x="998" y="469.3" width="59.9" height="2.2" fill="#f8f8f8" stroke="#777" stroke-width="0.5"/>
</g>
<rect x="996" y="283.6" width="285.3" height="191.7" fill="none" stroke="#000" stroke-width="1.6"/>
<clipPath id="clip402"><rect x="1307.2" y="283.6" width="285.2" height="191.7"/></clipPath>
<g clip-path="url(#clip402)">
<rect x="1307.2" y="283.6" width="285.2" height="191.7" fill="#dab87a" stroke="none" stroke-width="0"/>
<rect x="1307.2" y="283.6" width="285.2" height="191.7" fill="#f4e8c4" filter="url(#spk)" opacity="0.7"/>
<rect x="1307.2" y="283.6" width="285.2" height="191.7" fill="#c48a50" filter="url(#mot2)" opacity="0.35"/>
<g transform="translate(1307.2,283.6)">
<path d="M0 26Q-1 34 -1 44M3 52Q-1 60 3 71M0 86Q6 79 8 79M2 100Q6 96 16 96M-3 137Q0 138 10 135M12 -3Q16 -2 23 -4M17 27Q13 33 14 45M14 45Q18 48 17 52M17 52Q23 58 29 58M16 96Q16 108 12 115M12 115Q21 112 30 108M17 130Q17 129 25 122M10 135Q14 142 22 138M15 185Q14 191 15 191M15 191Q26 194 32 196M26 70Q28 83 22 88M30 108Q36 103 42 108M30 108Q24 114 25 122M22 138Q25 149 26 153M25 178Q26 186 32 196M46 9Q44 24 38 31M41 59Q49 64 57 61M38 123Q44 129 47 140M47 140Q55 143 55 142M54 5Q52 4 57 10M57 26Q59 31 52 40M57 61Q54 65 56 73M56 73Q62 81 61 83M61 83Q61 87 54 100M55 186Q55 186 52 191M67 0Q76 0 83 4M72 41Q80 38 81 39M75 142Q83 143 87 137M71 196Q76 191 85 192M102 39Q107 44 116 43M101 58Q99 61 101 73M93 81Q99 81 111 86M102 134Q94 146 94 151M112 16Q110 24 111 32M108 54Q120 55 128 50M114 68Q120 65 120 71M114 68Q111 74 111 86M106 122Q105 128 109 142M109 142Q115 143 127 139M111 171Q116 171 124 162M131 30Q138 24 140 27M126 88Q135 78 137 79M122 102Q132 99 144 102M122 102Q120 107 121 116M121 116Q119 121 125 123M123 149Q130 150 134 150M123 186Q126 186 121 195M135 64Q139 75 137 79M137 79Q143 80 158 81M144 102Q147 98 154 95M141 114Q141 120 143 123M135 170Q132 172 136 177M136 177Q137 187 140 197M151 38Q158 36 169 42M154 95Q160 99 169 98M156 126Q162 127 172 128M152 144Q154 156 157 158M154 166Q164 166 169 166M149 187Q157 191 159 198M169 55Q168 67 163 73M163 73Q162 75 167 82M167 82Q173 82 185 86M167 82Q172 88 169 98M172 128Q169 124 176 125M169 166Q171 172 180 169M178 30Q191 34 199 31M180 71Q186 75 185 86M180 93Q191 97 198 95M179 110Q177 117 176 125M184 143Q188 140 192 137M200 -1Q199 1 206 -4M193 13Q201 11 209 17M194 38Q208 42 213 43M192 137Q192 140 195 149M196 163Q207 170 215 167M204 33Q207 37 213 43M213 43Q205 46 205 58M205 58Q216 53 225 55M208 85Q213 83 225 80M206 99Q218 95 224 97M205 126Q215 124 218 122M204 143Q214 143 223 144M214 151Q219 156 215 167M215 167Q210 175 206 187M222 32Q230 33 234 31M226 44Q226 45 225 55M225 55Q229 60 223 72M223 72Q231 72 233 73M225 80Q222 93 224 97M223 144Q231 143 232 144M220 150Q232 152 242 150M224 164Q222 169 223 181M223 181Q226 187 220 191M220 191Q233 199 241 198M243 1Q239 8 238 11M238 11Q243 15 257 15M238 11Q240 22 234 31M234 116Q243 111 250 107M234 116Q238 119 234 130M232 144Q242 144 242 150M249 0Q250 5 260 4M257 15Q262 11 263 9M251 81Q248 91 250 97M248 138Q254 139 261 144M249 149Q257 152 263 150M257 180Q256 186 263 187M252 191Q256 195 262 199M265 31Q277 32 283 33M263 69Q267 70 282 65M263 69Q270 72 270 79M270 79Q276 83 281 84M270 79Q273 85 267 100M263 150Q262 157 262 171M262 171Q263 177 263 187M283 33Q284 38 284 43M284 43Q294 42 298 37M283 130Q286 130 288 122M282 149Q284 154 294 149M283 167Q286 173 282 186M282 186Q290 188 297 182M288 122Q289 133 290 144M294 149Q298 158 293 169" fill="none" stroke="#f6efe2" stroke-width="0.9" opacity="0.9"/>
<ellipse cx="148.3" cy="42.2" rx="9" ry="12" transform="rotate(20 148.3 42.2)" fill="#f6f0ec" stroke="#d86858" stroke-width="1"/>
<g fill="#f8f4f0"><circle cx="38" cy="120" r="9"/><circle cx="53" cy="43" r="9"/><circle cx="262" cy="130" r="8.9"/><circle cx="285" cy="139" r="8.8"/><circle cx="141" cy="38" r="8.6"/><circle cx="73" cy="172" r="8.2"/><circle cx="83" cy="153" r="8.2"/><circle cx="83" cy="43" r="8.1"/><circle cx="120" cy="74" r="8"/><circle cx="38" cy="162" r="8"/><circle cx="106" cy="136" r="8"/><circle cx="51" cy="148" r="7.7"/><circle cx="63" cy="108" r="7.6"/><circle cx="264" cy="112" r="7.6"/><circle cx="93" cy="83" r="7.5"/><circle cx="56" cy="88" r="7.5"/><circle cx="93" cy="28" r="7.4"/><circle cx="20" cy="145" r="7.3"/><circle cx="84" cy="134" r="7.2"/><circle cx="260" cy="149" r="7.2"/><circle cx="153" cy="58" r="7"/><circle cx="159" cy="83" r="7"/><circle cx="158" cy="112" r="6.9"/><circle cx="61" cy="61" r="6.9"/><circle cx="115" cy="55" r="6.9"/><circle cx="75" cy="71" r="6.9"/><circle cx="288" cy="117" r="6.8"/><circle cx="124" cy="40" r="6.5"/><circle cx="36" cy="138" r="6.4"/><circle cx="91" cy="102" r="6.4"/><circle cx="111" cy="119" r="6.4"/><circle cx="44" cy="77" r="6.3"/><circle cx="165" cy="68" r="6.2"/><circle cx="53" cy="170" r="6.1"/><circle cx="298" cy="127" r="5.9"/><circle cx="275" cy="153" r="5.7"/><circle cx="129" cy="107" r="5.6"/><circle cx="35" cy="98" r="5.6"/><circle cx="242" cy="138" r="5.6"/><circle cx="125" cy="93" r="5.5"/><circle cx="53" cy="132" r="5.4"/><circle cx="112" cy="99" r="5.4"/><circle cx="131" cy="53" r="5.2"/><circle cx="107" cy="31" r="5.1"/><circle cx="95" cy="165" r="5"/><circle cx="136" cy="73" r="4.9"/><circle cx="104" cy="66" r="4.8"/><circle cx="104" cy="154" r="4.7"/><circle cx="159" cy="97" r="4.7"/><circle cx="41" cy="64" r="4.7"/><circle cx="97" cy="123" r="4.6"/><circle cx="73" cy="85" r="4.5"/><circle cx="70" cy="144" r="4.5"/><circle cx="144" cy="106" r="4.3"/><circle cx="98" cy="47" r="4.3"/><circle cx="70" cy="129" r="4.3"/><circle cx="133" cy="118" r="4.2"/><circle cx="78" cy="116" r="4.2"/><circle cx="277" cy="125" r="4.1"/><circle cx="84" cy="58" r="4.1"/><circle cx="247" cy="124" r="4.1"/><circle cx="22" cy="130" r="4.1"/><circle cx="139" cy="62" r="4"/><circle cx="72" cy="31" r="3.9"/><circle cx="78" cy="97" r="3.7"/><circle cx="66" cy="157" r="3.6"/><circle cx="128" cy="127" r="3.6"/><circle cx="99" cy="57" r="3.6"/><circle cx="56" cy="74" r="3.4"/><circle cx="94" cy="143" r="3.4"/><circle cx="141" cy="88" r="3.3"/><circle cx="32" cy="73" r="3.2"/><circle cx="49" cy="110" r="3.2"/><circle cx="91" cy="64" r="3.2"/><circle cx="48" cy="100" r="3.1"/><circle cx="289" cy="152" r="3.1"/><circle cx="248" cy="147" r="3"/><circle cx="120" cy="127" r="2.9"/><circle cx="149" cy="70" r="2.8"/><circle cx="58" cy="121" r="2.8"/><circle cx="43" cy="176" r="2.8"/><circle cx="50" cy="58" r="2.7"/><circle cx="106" cy="89" r="2.7"/><circle cx="150" cy="91" r="2.7"/><circle cx="116" cy="87" r="2.7"/><circle cx="24" cy="160" r="2.6"/><circle cx="144" cy="119" r="2.5"/><circle cx="151" cy="46" r="2.4"/><circle cx="38" cy="87" r="2.3"/><circle cx="120" cy="27" r="2.3"/><circle cx="136" cy="100" r="2.3"/><circle cx="140" cy="126" r="2.2"/><circle cx="91" cy="52" r="2.2"/><circle cx="87" cy="114" r="2.2"/><circle cx="75" cy="53" r="2.2"/><circle cx="69" cy="52" r="2.1"/><circle cx="60" cy="178" r="2.1"/><circle cx="40" cy="54" r="2.1"/><circle cx="100" cy="108" r="2.1"/><circle cx="64" cy="135" r="2.1"/><circle cx="150" cy="99" r="2.1"/><circle cx="133" cy="83" r="2.1"/><circle cx="99" cy="95" r="2"/><circle cx="276" cy="117" r="2"/><circle cx="297" cy="146" r="2"/><circle cx="30" cy="150" r="2"/><circle cx="119" cy="106" r="2"/><circle cx="106" cy="41" r="2"/><circle cx="269" cy="142" r="2"/></g>
</g>
<rect x="1309.2" y="469.3" width="59.9" height="2.2" fill="#f8f8f8" stroke="#777" stroke-width="0.5"/>
</g>
<rect x="1307.2" y="283.6" width="285.2" height="191.7" fill="none" stroke="#000" stroke-width="1.6"/>
<rect x="1099.7" y="348.1" width="71.6" height="51.2" fill="none" stroke="#000" stroke-width="2.2" stroke-dasharray="5.5,3.5"/>
<path d="M1171.3 348.1L1307.2 283.6M1171.3 399.3L1307.2 475.3" stroke="#000" stroke-width="2.2" stroke-dasharray="10,4" fill="none"/>
<text x="655.7" y="954.6" font-size="24.7" text-anchor="start" fill="#000">J</text>
<rect x="693.6" y="1101.1" width="27.4" height="79.4" fill="#fff" stroke="#000" stroke-width="2.6"/>
<rect x="736.5" y="1057.5" width="26.8" height="123" fill="#b4b4fc" stroke="#000" stroke-width="2.6"/>
<rect x="678.9" y="982.1" width="99.3" height="198.4" fill="none" stroke="#000" stroke-width="2.6"/>
<line x1="670.9" y1="1180.5" x2="678.9" y2="1180.5" stroke="#000" stroke-width="2.6"/>
<text x="668.9" y="1185.7" font-size="14.5" text-anchor="end" fill="#000">0</text>
<line x1="670.9" y1="1081.3" x2="678.9" y2="1081.3" stroke="#000" stroke-width="2.6"/>
<text x="668.9" y="1086.5" font-size="14.5" text-anchor="end" fill="#000">1</text>
<line x1="670.9" y1="982.1" x2="678.9" y2="982.1" stroke="#000" stroke-width="2.6"/>
<text x="668.9" y="987.3" font-size="14.5" text-anchor="end" fill="#000">2</text>
<line x1="674.4" y1="1130.9" x2="678.9" y2="1130.9" stroke="#000" stroke-width="2.6"/>
<line x1="674.4" y1="1031.7" x2="678.9" y2="1031.7" stroke="#000" stroke-width="2.6"/>
<line x1="707.3" y1="1091.2" x2="707.3" y2="1111.1" stroke="#000" stroke-width="2.3"/>
<line x1="702.8" y1="1091.2" x2="711.8" y2="1091.2" stroke="#000" stroke-width="2.3"/>
<line x1="702.8" y1="1111.1" x2="711.8" y2="1111.1" stroke="#000" stroke-width="2.3"/>
<circle cx="707.3" cy="1079.3" r="3" fill="#fff" stroke="#000" stroke-width="1.7"/>
<circle cx="699.3" cy="1081.3" r="3" fill="#fff" stroke="#000" stroke-width="1.7"/>
<circle cx="707.3" cy="1086.3" r="3" fill="#fff" stroke="#000" stroke-width="1.7"/>
<circle cx="701.3" cy="1091.2" r="3" fill="#fff" stroke="#000" stroke-width="1.7"/>
<circle cx="709.3" cy="1093.2" r="3" fill="#fff" stroke="#000" stroke-width="1.7"/>
<circle cx="705.3" cy="1099.2" r="3" fill="#fff" stroke="#000" stroke-width="1.7"/>
<circle cx="713.3" cy="1101.1" r="3" fill="#fff" stroke="#000" stroke-width="1.7"/>
<circle cx="699.3" cy="1103.1" r="3" fill="#fff" stroke="#000" stroke-width="1.7"/>
<circle cx="707.3" cy="1106.1" r="3" fill="#fff" stroke="#000" stroke-width="1.7"/>
<circle cx="701.3" cy="1111.1" r="3" fill="#fff" stroke="#000" stroke-width="1.7"/>
<circle cx="707.3" cy="1116" r="3" fill="#fff" stroke="#000" stroke-width="1.7"/>
<line x1="749.9" y1="1047.6" x2="749.9" y2="1067.4" stroke="#000" stroke-width="2.3"/>
<line x1="745.4" y1="1047.6" x2="754.4" y2="1047.6" stroke="#000" stroke-width="2.3"/>
<line x1="745.4" y1="1067.4" x2="754.4" y2="1067.4" stroke="#000" stroke-width="2.3"/>
<path d="M749.9 1027.6L754 1034.4L745.8 1034.4Z" fill="#fff" stroke="#000" stroke-width="1.7" stroke-linejoin="miter"/>
<path d="M749.9 1042.5L754 1049.3L745.8 1049.3Z" fill="#fff" stroke="#000" stroke-width="1.7" stroke-linejoin="miter"/>
<path d="M741.9 1045.5L746 1052.3L737.8 1052.3Z" fill="#fff" stroke="#000" stroke-width="1.7" stroke-linejoin="miter"/>
<path d="M755.9 1047.5L760 1054.2L751.8 1054.2Z" fill="#fff" stroke="#000" stroke-width="1.7" stroke-linejoin="miter"/>
<path d="M747.9 1049.5L752 1056.2L743.8 1056.2Z" fill="#fff" stroke="#000" stroke-width="1.7" stroke-linejoin="miter"/>
<path d="M737.9 1052.4L742 1059.2L733.8 1059.2Z" fill="#fff" stroke="#000" stroke-width="1.7" stroke-linejoin="miter"/>
<path d="M749.9 1057.4L754 1064.2L745.8 1064.2Z" fill="#fff" stroke="#000" stroke-width="1.7" stroke-linejoin="miter"/>
<path d="M743.9 1062.4L748 1069.1L739.8 1069.1Z" fill="#fff" stroke="#000" stroke-width="1.7" stroke-linejoin="miter"/>
<path d="M749.9 1067.3L754 1074.1L745.8 1074.1Z" fill="#fff" stroke="#000" stroke-width="1.7" stroke-linejoin="miter"/>
<path d="M743.9 1072.3L748 1079L739.8 1079Z" fill="#fff" stroke="#000" stroke-width="1.7" stroke-linejoin="miter"/>
<path d="M749.9 1077.2L754 1084L745.8 1084Z" fill="#fff" stroke="#000" stroke-width="1.7" stroke-linejoin="miter"/>
<text x="726" y="999.4" font-size="15.8" text-anchor="middle" font-style="italic" fill="#000">Tgfb1</text>
<path d="M706.8 1023.1V1019.6H749.2V1023.1" fill="none" stroke="#000" stroke-width="1.5"/>
<text x="728" y="1015.6" font-size="9.4" text-anchor="middle" fill="#000">P &lt; 0.00001</text>
<rect x="828.3" y="1133.5" width="27.2" height="47" fill="#fff" stroke="#000" stroke-width="2.6"/>
<rect x="871.2" y="1086.6" width="26.8" height="93.9" fill="#b4b4fc" stroke="#000" stroke-width="2.6"/>
<rect x="813.8" y="982.1" width="99.1" height="198.4" fill="none" stroke="#000" stroke-width="2.6"/>
<line x1="805.8" y1="1180.5" x2="813.8" y2="1180.5" stroke="#000" stroke-width="2.6"/>
<text x="803.8" y="1185.7" font-size="14.5" text-anchor="end" fill="#000">0</text>
<line x1="805.8" y1="1114.4" x2="813.8" y2="1114.4" stroke="#000" stroke-width="2.6"/>
<text x="803.8" y="1119.6" font-size="14.5" text-anchor="end" fill="#000">1</text>
<line x1="805.8" y1="1048.2" x2="813.8" y2="1048.2" stroke="#000" stroke-width="2.6"/>
<text x="803.8" y="1053.5" font-size="14.5" text-anchor="end" fill="#000">2</text>
<line x1="805.8" y1="982.1" x2="813.8" y2="982.1" stroke="#000" stroke-width="2.6"/>
<text x="803.8" y="987.3" font-size="14.5" text-anchor="end" fill="#000">3</text>
<line x1="809.3" y1="1147.4" x2="813.8" y2="1147.4" stroke="#000" stroke-width="2.6"/>
<line x1="809.3" y1="1081.3" x2="813.8" y2="1081.3" stroke="#000" stroke-width="2.6"/>
<line x1="809.3" y1="1015.2" x2="813.8" y2="1015.2" stroke="#000" stroke-width="2.6"/>
<line x1="841.9" y1="1128.3" x2="841.9" y2="1138.8" stroke="#000" stroke-width="2.3"/>
<line x1="837.4" y1="1128.3" x2="846.4" y2="1128.3" stroke="#000" stroke-width="2.3"/>
<line x1="837.4" y1="1138.8" x2="846.4" y2="1138.8" stroke="#000" stroke-width="2.3"/>
<circle cx="841.9" cy="1114.4" r="3" fill="#fff" stroke="#000" stroke-width="1.7"/>
<circle cx="841.9" cy="1124.3" r="3" fill="#fff" stroke="#000" stroke-width="1.7"/>
<circle cx="833.9" cy="1126.3" r="3" fill="#fff" stroke="#000" stroke-width="1.7"/>
<circle cx="849.9" cy="1127.6" r="3" fill="#fff" stroke="#000" stroke-width="1.7"/>
<circle cx="839.9" cy="1128.9" r="3" fill="#fff" stroke="#000" stroke-width="1.7"/>
<circle cx="829.9" cy="1130.9" r="3" fill="#fff" stroke="#000" stroke-width="1.7"/>
<circle cx="845.9" cy="1132.9" r="3" fill="#fff" stroke="#000" stroke-width="1.7"/>
<circle cx="853.9" cy="1134.2" r="3" fill="#fff" stroke="#000" stroke-width="1.7"/>
<circle cx="839.9" cy="1137.5" r="3" fill="#fff" stroke="#000" stroke-width="1.7"/>
<circle cx="847.9" cy="1139.5" r="3" fill="#fff" stroke="#000" stroke-width="1.7"/>
<circle cx="841.9" cy="1144.1" r="3" fill="#fff" stroke="#000" stroke-width="1.7"/>
<line x1="884.6" y1="1061.5" x2="884.6" y2="1111.7" stroke="#000" stroke-width="2.3"/>
<line x1="880.1" y1="1061.5" x2="889.1" y2="1061.5" stroke="#000" stroke-width="2.3"/>
<line x1="880.1" y1="1111.7" x2="889.1" y2="1111.7" stroke="#000" stroke-width="2.3"/>
<path d="M884.6 1044.2L888.7 1050.9L880.5 1050.9Z" fill="#fff" stroke="#000" stroke-width="1.7" stroke-linejoin="miter"/>
<path d="M876.6 1044.2L880.7 1050.9L872.5 1050.9Z" fill="#fff" stroke="#000" stroke-width="1.7" stroke-linejoin="miter"/>
<path d="M884.6 1057.4L888.7 1064.2L880.5 1064.2Z" fill="#fff" stroke="#000" stroke-width="1.7" stroke-linejoin="miter"/>
<path d="M884.6 1070.6L888.7 1077.4L880.5 1077.4Z" fill="#fff" stroke="#000" stroke-width="1.7" stroke-linejoin="miter"/>
<path d="M884.6 1080.5L888.7 1087.3L880.5 1087.3Z" fill="#fff" stroke="#000" stroke-width="1.7" stroke-linejoin="miter"/>
<path d="M884.6 1090.5L888.7 1097.2L880.5 1097.2Z" fill="#fff" stroke="#000" stroke-width="1.7" stroke-linejoin="miter"/>
<path d="M884.6 1100.4L888.7 1107.2L880.5 1107.2Z" fill="#fff" stroke="#000" stroke-width="1.7" stroke-linejoin="miter"/>
<path d="M876.6 1103.7L880.7 1110.5L872.5 1110.5Z" fill="#fff" stroke="#000" stroke-width="1.7" stroke-linejoin="miter"/>
<path d="M892.6 1103.7L896.7 1110.5L888.5 1110.5Z" fill="#fff" stroke="#000" stroke-width="1.7" stroke-linejoin="miter"/>
<path d="M882.6 1107L886.7 1113.8L878.5 1113.8Z" fill="#fff" stroke="#000" stroke-width="1.7" stroke-linejoin="miter"/>
<path d="M886.6 1113.6L890.7 1120.4L882.5 1120.4Z" fill="#fff" stroke="#000" stroke-width="1.7" stroke-linejoin="miter"/>
<text x="860.8" y="999.4" font-size="15.8" text-anchor="middle" font-style="italic" fill="#000">Pdgfrb</text>
<path d="M841.3 1036.8V1033.3H884.1V1036.8" fill="none" stroke="#000" stroke-width="1.5"/>
<text x="862.7" y="1029.3" font-size="9.4" text-anchor="middle" fill="#000">P = 0.00142</text>
<rect x="962.8" y="1143.5" width="27.9" height="37" fill="#fff" stroke="#000" stroke-width="2.6"/>
<rect x="1006" y="1105.1" width="27" height="75.4" fill="#b4b4fc" stroke="#000" stroke-width="2.6"/>
<rect x="948.9" y="982.1" width="99.6" height="198.4" fill="none" stroke="#000" stroke-width="2.6"/>
<line x1="940.9" y1="1180.5" x2="948.9" y2="1180.5" stroke="#000" stroke-width="2.6"/>
<text x="938.9" y="1185.7" font-size="14.5" text-anchor="end" fill="#000">0</text>
<line x1="940.9" y1="1114.4" x2="948.9" y2="1114.4" stroke="#000" stroke-width="2.6"/>
<text x="938.9" y="1119.6" font-size="14.5" text-anchor="end" fill="#000">1</text>
<line x1="940.9" y1="1048.2" x2="948.9" y2="1048.2" stroke="#000" stroke-width="2.6"/>
<text x="938.9" y="1053.5" font-size="14.5" text-anchor="end" fill="#000">2</text>
<line x1="940.9" y1="982.1" x2="948.9" y2="982.1" stroke="#000" stroke-width="2.6"/>
<text x="938.9" y="987.3" font-size="14.5" text-anchor="end" fill="#000">3</text>
<line x1="944.4" y1="1147.4" x2="948.9" y2="1147.4" stroke="#000" stroke-width="2.6"/>
<line x1="944.4" y1="1081.3" x2="948.9" y2="1081.3" stroke="#000" stroke-width="2.6"/>
<line x1="944.4" y1="1015.2" x2="948.9" y2="1015.2" stroke="#000" stroke-width="2.6"/>
<line x1="976.8" y1="1132.2" x2="976.8" y2="1154.7" stroke="#000" stroke-width="2.3"/>
<line x1="972.2" y1="1132.2" x2="981.2" y2="1132.2" stroke="#000" stroke-width="2.3"/>
<line x1="972.2" y1="1154.7" x2="981.2" y2="1154.7" stroke="#000" stroke-width="2.3"/>
<circle cx="976.8" cy="1122.3" r="3" fill="#fff" stroke="#000" stroke-width="1.7"/>
<circle cx="970.8" cy="1126.3" r="3" fill="#fff" stroke="#000" stroke-width="1.7"/>
<circle cx="982.8" cy="1126.3" r="3" fill="#fff" stroke="#000" stroke-width="1.7"/>
<circle cx="976.8" cy="1130.9" r="3" fill="#fff" stroke="#000" stroke-width="1.7"/>
<circle cx="974.8" cy="1137.5" r="3" fill="#fff" stroke="#000" stroke-width="1.7"/>
<circle cx="976.8" cy="1144.1" r="3" fill="#fff" stroke="#000" stroke-width="1.7"/>
<circle cx="968.8" cy="1147.4" r="3" fill="#fff" stroke="#000" stroke-width="1.7"/>
<circle cx="978.8" cy="1150.7" r="3" fill="#fff" stroke="#000" stroke-width="1.7"/>
<circle cx="970.8" cy="1154" r="3" fill="#fff" stroke="#000" stroke-width="1.7"/>
<circle cx="984.8" cy="1155.4" r="3" fill="#fff" stroke="#000" stroke-width="1.7"/>
<circle cx="976.8" cy="1157.4" r="3" fill="#fff" stroke="#000" stroke-width="1.7"/>
<line x1="1019.5" y1="1078.7" x2="1019.5" y2="1131.6" stroke="#000" stroke-width="2.3"/>
<line x1="1015" y1="1078.7" x2="1024" y2="1078.7" stroke="#000" stroke-width="2.3"/>
<line x1="1015" y1="1131.6" x2="1024" y2="1131.6" stroke="#000" stroke-width="2.3"/>
<path d="M1019.5 1060.7L1023.6 1067.5L1015.4 1067.5Z" fill="#fff" stroke="#000" stroke-width="1.7" stroke-linejoin="miter"/>
<path d="M1019.5 1080.5L1023.6 1087.3L1015.4 1087.3Z" fill="#fff" stroke="#000" stroke-width="1.7" stroke-linejoin="miter"/>
<path d="M1011.5 1080.5L1015.6 1087.3L1007.4 1087.3Z" fill="#fff" stroke="#000" stroke-width="1.7" stroke-linejoin="miter"/>
<path d="M1027.5 1080.5L1031.6 1087.3L1023.4 1087.3Z" fill="#fff" stroke="#000" stroke-width="1.7" stroke-linejoin="miter"/>
<path d="M1019.5 1090.5L1023.6 1097.2L1015.4 1097.2Z" fill="#fff" stroke="#000" stroke-width="1.7" stroke-linejoin="miter"/>
<path d="M1019.5 1116.9L1023.6 1123.7L1015.4 1123.7Z" fill="#fff" stroke="#000" stroke-width="1.7" stroke-linejoin="miter"/>
<path d="M1011.5 1116.9L1015.6 1123.7L1007.4 1123.7Z" fill="#fff" stroke="#000" stroke-width="1.7" stroke-linejoin="miter"/>
<path d="M1019.5 1130.1L1023.6 1136.9L1015.4 1136.9Z" fill="#fff" stroke="#000" stroke-width="1.7" stroke-linejoin="miter"/>
<path d="M1011.5 1130.1L1015.6 1136.9L1007.4 1136.9Z" fill="#fff" stroke="#000" stroke-width="1.7" stroke-linejoin="miter"/>
<path d="M1027.5 1130.1L1031.6 1136.9L1023.4 1136.9Z" fill="#fff" stroke="#000" stroke-width="1.7" stroke-linejoin="miter"/>
<text x="996.2" y="999.4" font-size="15.8" text-anchor="middle" font-style="italic" fill="#000">Col1a1</text>
<path d="M976.4 1055V1051.5H1019.2V1055" fill="none" stroke="#000" stroke-width="1.5"/>
<text x="997.8" y="1047.5" font-size="9.4" text-anchor="middle" fill="#000">P = 0.00258</text>
<rect x="693.6" y="1365" width="27.4" height="44.3" fill="#fff" stroke="#000" stroke-width="2.6"/>
<rect x="736.5" y="1319.4" width="26.8" height="89.9" fill="#b4b4fc" stroke="#000" stroke-width="2.6"/>
<rect x="678.9" y="1210.9" width="99.3" height="198.4" fill="none" stroke="#000" stroke-width="2.6"/>
<line x1="670.9" y1="1409.3" x2="678.9" y2="1409.3" stroke="#000" stroke-width="2.6"/>
<text x="668.9" y="1414.5" font-size="14.5" text-anchor="end" fill="#000">0</text>
<line x1="670.9" y1="1343.2" x2="678.9" y2="1343.2" stroke="#000" stroke-width="2.6"/>
<text x="668.9" y="1348.4" font-size="14.5" text-anchor="end" fill="#000">1</text>
<line x1="670.9" y1="1277" x2="678.9" y2="1277" stroke="#000" stroke-width="2.6"/>
<text x="668.9" y="1282.3" font-size="14.5" text-anchor="end" fill="#000">2</text>
<line x1="670.9" y1="1210.9" x2="678.9" y2="1210.9" stroke="#000" stroke-width="2.6"/>
<text x="668.9" y="1216.1" font-size="14.5" text-anchor="end" fill="#000">3</text>
<line x1="674.4" y1="1376.2" x2="678.9" y2="1376.2" stroke="#000" stroke-width="2.6"/>
<line x1="674.4" y1="1310.1" x2="678.9" y2="1310.1" stroke="#000" stroke-width="2.6"/>
<line x1="674.4" y1="1244" x2="678.9" y2="1244" stroke="#000" stroke-width="2.6"/>
<line x1="707.3" y1="1346.5" x2="707.3" y2="1383.5" stroke="#000" stroke-width="2.3"/>
<line x1="702.8" y1="1346.5" x2="711.8" y2="1346.5" stroke="#000" stroke-width="2.3"/>
<line x1="702.8" y1="1383.5" x2="711.8" y2="1383.5" stroke="#000" stroke-width="2.3"/>
<circle cx="707.3" cy="1324.6" r="3" fill="#fff" stroke="#000" stroke-width="1.7"/>
<circle cx="707.3" cy="1343.2" r="3" fill="#fff" stroke="#000" stroke-width="1.7"/>
<circle cx="707.3" cy="1353.1" r="3" fill="#fff" stroke="#000" stroke-width="1.7"/>
<circle cx="705.3" cy="1359.7" r="3" fill="#fff" stroke="#000" stroke-width="1.7"/>
<circle cx="707.3" cy="1366.3" r="3" fill="#fff" stroke="#000" stroke-width="1.7"/>
<circle cx="705.3" cy="1372.9" r="3" fill="#fff" stroke="#000" stroke-width="1.7"/>
<circle cx="713.3" cy="1372.9" r="3" fill="#fff" stroke="#000" stroke-width="1.7"/>
<circle cx="697.3" cy="1376.2" r="3" fill="#fff" stroke="#000" stroke-width="1.7"/>
<circle cx="707.3" cy="1379.5" r="3" fill="#fff" stroke="#000" stroke-width="1.7"/>
<circle cx="699.3" cy="1382.8" r="3" fill="#fff" stroke="#000" stroke-width="1.7"/>
<circle cx="709.3" cy="1386.2" r="3" fill="#fff" stroke="#000" stroke-width="1.7"/>
<line x1="749.9" y1="1286.3" x2="749.9" y2="1352.4" stroke="#000" stroke-width="2.3"/>
<line x1="745.4" y1="1286.3" x2="754.4" y2="1286.3" stroke="#000" stroke-width="2.3"/>
<line x1="745.4" y1="1352.4" x2="754.4" y2="1352.4" stroke="#000" stroke-width="2.3"/>
<path d="M749.9 1266.4L754 1273.1L745.8 1273.1Z" fill="#fff" stroke="#000" stroke-width="1.7" stroke-linejoin="miter"/>
<path d="M749.9 1279.6L754 1286.4L745.8 1286.4Z" fill="#fff" stroke="#000" stroke-width="1.7" stroke-linejoin="miter"/>
<path d="M745.9 1286.2L750 1293L741.8 1293Z" fill="#fff" stroke="#000" stroke-width="1.7" stroke-linejoin="miter"/>
<path d="M749.9 1292.8L754 1299.6L745.8 1299.6Z" fill="#fff" stroke="#000" stroke-width="1.7" stroke-linejoin="miter"/>
<path d="M749.9 1316L754 1322.7L745.8 1322.7Z" fill="#fff" stroke="#000" stroke-width="1.7" stroke-linejoin="miter"/>
<path d="M749.9 1335.8L754 1342.6L745.8 1342.6Z" fill="#fff" stroke="#000" stroke-width="1.7" stroke-linejoin="miter"/>
<path d="M741.9 1339.1L746 1345.9L737.8 1345.9Z" fill="#fff" stroke="#000" stroke-width="1.7" stroke-linejoin="miter"/>
<path d="M757.9 1339.1L762 1345.9L753.8 1345.9Z" fill="#fff" stroke="#000" stroke-width="1.7" stroke-linejoin="miter"/>
<path d="M747.9 1342.4L752 1349.2L743.8 1349.2Z" fill="#fff" stroke="#000" stroke-width="1.7" stroke-linejoin="miter"/>
<path d="M749.9 1355.6L754 1362.4L745.8 1362.4Z" fill="#fff" stroke="#000" stroke-width="1.7" stroke-linejoin="miter"/>
<text x="726" y="1228.2" font-size="15.8" text-anchor="middle" font-style="italic" fill="#000">Col3a1</text>
<path d="M707.2 1259.4V1255.9H750.1V1259.4" fill="none" stroke="#000" stroke-width="1.5"/>
<text x="728.7" y="1251.9" font-size="9.4" text-anchor="middle" fill="#000">P = 0.00258</text>
<rect x="828.3" y="1352.2" width="27.2" height="57.1" fill="#fff" stroke="#000" stroke-width="2.6"/>
<rect x="871.2" y="1305.3" width="26.8" height="104" fill="#b4b4fc" stroke="#000" stroke-width="2.6"/>
<rect x="813.8" y="1210.9" width="99.1" height="198.4" fill="none" stroke="#000" stroke-width="2.6"/>
<line x1="805.8" y1="1409.3" x2="813.8" y2="1409.3" stroke="#000" stroke-width="2.6"/>
<text x="803.8" y="1414.5" font-size="14.5" text-anchor="end" fill="#000">0</text>
<line x1="805.8" y1="1329.9" x2="813.8" y2="1329.9" stroke="#000" stroke-width="2.6"/>
<text x="803.8" y="1335.2" font-size="14.5" text-anchor="end" fill="#000">1</text>
<line x1="805.8" y1="1250.6" x2="813.8" y2="1250.6" stroke="#000" stroke-width="2.6"/>
<text x="803.8" y="1255.8" font-size="14.5" text-anchor="end" fill="#000">2</text>
<line x1="809.3" y1="1369.6" x2="813.8" y2="1369.6" stroke="#000" stroke-width="2.6"/>
<line x1="809.3" y1="1290.3" x2="813.8" y2="1290.3" stroke="#000" stroke-width="2.6"/>
<line x1="809.3" y1="1210.9" x2="813.8" y2="1210.9" stroke="#000" stroke-width="2.6"/>
<line x1="841.9" y1="1336.3" x2="841.9" y2="1368" stroke="#000" stroke-width="2.3"/>
<line x1="837.4" y1="1336.3" x2="846.4" y2="1336.3" stroke="#000" stroke-width="2.3"/>
<line x1="837.4" y1="1368" x2="846.4" y2="1368" stroke="#000" stroke-width="2.3"/>
<circle cx="841.9" cy="1323.6" r="3" fill="#fff" stroke="#000" stroke-width="1.7"/>
<circle cx="841.9" cy="1333.9" r="3" fill="#fff" stroke="#000" stroke-width="1.7"/>
<circle cx="833.9" cy="1336.3" r="3" fill="#fff" stroke="#000" stroke-width="1.7"/>
<circle cx="841.9" cy="1345.8" r="3" fill="#fff" stroke="#000" stroke-width="1.7"/>
<circle cx="833.9" cy="1345.8" r="3" fill="#fff" stroke="#000" stroke-width="1.7"/>
<circle cx="847.9" cy="1349.8" r="3" fill="#fff" stroke="#000" stroke-width="1.7"/>
<circle cx="841.9" cy="1357.7" r="3" fill="#fff" stroke="#000" stroke-width="1.7"/>
<circle cx="835.9" cy="1361.7" r="3" fill="#fff" stroke="#000" stroke-width="1.7"/>
<circle cx="841.9" cy="1368" r="3" fill="#fff" stroke="#000" stroke-width="1.7"/>
<circle cx="835.9" cy="1373.6" r="3" fill="#fff" stroke="#000" stroke-width="1.7"/>
<circle cx="841.9" cy="1377.6" r="3" fill="#fff" stroke="#000" stroke-width="1.7"/>
<line x1="884.6" y1="1276" x2="884.6" y2="1334.7" stroke="#000" stroke-width="2.3"/>
<line x1="880.1" y1="1276" x2="889.1" y2="1276" stroke="#000" stroke-width="2.3"/>
<line x1="880.1" y1="1334.7" x2="889.1" y2="1334.7" stroke="#000" stroke-width="2.3"/>
<path d="M884.6 1264L888.7 1270.7L880.5 1270.7Z" fill="#fff" stroke="#000" stroke-width="1.7" stroke-linejoin="miter"/>
<path d="M876.6 1264L880.7 1270.7L872.5 1270.7Z" fill="#fff" stroke="#000" stroke-width="1.7" stroke-linejoin="miter"/>
<path d="M890.6 1268.7L894.7 1275.5L886.5 1275.5Z" fill="#fff" stroke="#000" stroke-width="1.7" stroke-linejoin="miter"/>
<path d="M884.6 1278.3L888.7 1285L880.5 1285Z" fill="#fff" stroke="#000" stroke-width="1.7" stroke-linejoin="miter"/>
<path d="M884.6 1286.2L888.7 1293L880.5 1293Z" fill="#fff" stroke="#000" stroke-width="1.7" stroke-linejoin="miter"/>
<path d="M884.6 1325.9L888.7 1332.6L880.5 1332.6Z" fill="#fff" stroke="#000" stroke-width="1.7" stroke-linejoin="miter"/>
<path d="M876.6 1327.5L880.7 1334.2L872.5 1334.2Z" fill="#fff" stroke="#000" stroke-width="1.7" stroke-linejoin="miter"/>
<path d="M892.6 1328.3L896.7 1335L888.5 1335Z" fill="#fff" stroke="#000" stroke-width="1.7" stroke-linejoin="miter"/>
<path d="M880.6 1329.8L884.7 1336.6L876.5 1336.6Z" fill="#fff" stroke="#000" stroke-width="1.7" stroke-linejoin="miter"/>
<path d="M872.6 1333.8L876.7 1340.6L868.5 1340.6Z" fill="#fff" stroke="#000" stroke-width="1.7" stroke-linejoin="miter"/>
<text x="860.8" y="1228.2" font-size="15.8" text-anchor="middle" font-style="italic" fill="#000">Timp1</text>
<path d="M840.8 1259.4V1255.9H883.7V1259.4" fill="none" stroke="#000" stroke-width="1.5"/>
<text x="862.2" y="1251.9" font-size="9.4" text-anchor="middle" fill="#000">P = 0.00258</text>
<rect x="962.8" y="1395.4" width="27.9" height="13.9" fill="#fff" stroke="#000" stroke-width="2.6"/>
<rect x="1006" y="1333.9" width="27" height="75.4" fill="#b4b4fc" stroke="#000" stroke-width="2.6"/>
<rect x="948.9" y="1210.9" width="99.6" height="198.4" fill="none" stroke="#000" stroke-width="2.6"/>
<line x1="940.9" y1="1409.3" x2="948.9" y2="1409.3" stroke="#000" stroke-width="2.6"/>
<text x="938.9" y="1414.5" font-size="14.5" text-anchor="end" fill="#000">0</text>
<line x1="940.9" y1="1369.6" x2="948.9" y2="1369.6" stroke="#000" stroke-width="2.6"/>
<text x="938.9" y="1374.8" font-size="14.5" text-anchor="end" fill="#000">1</text>
<line x1="940.9" y1="1329.9" x2="948.9" y2="1329.9" stroke="#000" stroke-width="2.6"/>
<text x="938.9" y="1335.2" font-size="14.5" text-anchor="end" fill="#000">2</text>
<line x1="940.9" y1="1290.3" x2="948.9" y2="1290.3" stroke="#000" stroke-width="2.6"/>
<text x="938.9" y="1295.5" font-size="14.5" text-anchor="end" fill="#000">3</text>
<line x1="940.9" y1="1250.6" x2="948.9" y2="1250.6" stroke="#000" stroke-width="2.6"/>
<text x="938.9" y="1255.8" font-size="14.5" text-anchor="end" fill="#000">4</text>
<line x1="940.9" y1="1210.9" x2="948.9" y2="1210.9" stroke="#000" stroke-width="2.6"/>
<text x="938.9" y="1216.1" font-size="14.5" text-anchor="end" fill="#000">5</text>
<line x1="944.4" y1="1389.5" x2="948.9" y2="1389.5" stroke="#000" stroke-width="2.6"/>
<line x1="944.4" y1="1349.8" x2="948.9" y2="1349.8" stroke="#000" stroke-width="2.6"/>
<line x1="944.4" y1="1310.1" x2="948.9" y2="1310.1" stroke="#000" stroke-width="2.6"/>
<line x1="944.4" y1="1270.4" x2="948.9" y2="1270.4" stroke="#000" stroke-width="2.6"/>
<line x1="944.4" y1="1230.7" x2="948.9" y2="1230.7" stroke="#000" stroke-width="2.6"/>
<line x1="976.8" y1="1391.4" x2="976.8" y2="1399.4" stroke="#000" stroke-width="2.3"/>
<line x1="972.2" y1="1391.4" x2="981.2" y2="1391.4" stroke="#000" stroke-width="2.3"/>
<line x1="972.2" y1="1399.4" x2="981.2" y2="1399.4" stroke="#000" stroke-width="2.3"/>
<circle cx="976.8" cy="1385.5" r="3" fill="#fff" stroke="#000" stroke-width="1.7"/>
<circle cx="968.8" cy="1385.5" r="3" fill="#fff" stroke="#000" stroke-width="1.7"/>
<circle cx="984.8" cy="1387.5" r="3" fill="#fff" stroke="#000" stroke-width="1.7"/>
<circle cx="972.8" cy="1391.4" r="3" fill="#fff" stroke="#000" stroke-width="1.7"/>
<circle cx="980.8" cy="1393.4" r="3" fill="#fff" stroke="#000" stroke-width="1.7"/>
<circle cx="966.8" cy="1395.4" r="3" fill="#fff" stroke="#000" stroke-width="1.7"/>
<circle cx="986.8" cy="1397.4" r="3" fill="#fff" stroke="#000" stroke-width="1.7"/>
<circle cx="976.8" cy="1399.4" r="3" fill="#fff" stroke="#000" stroke-width="1.7"/>
<circle cx="970.8" cy="1401.4" r="3" fill="#fff" stroke="#000" stroke-width="1.7"/>
<circle cx="982.8" cy="1403.3" r="3" fill="#fff" stroke="#000" stroke-width="1.7"/>
<line x1="1019.5" y1="1302.2" x2="1019.5" y2="1365.7" stroke="#000" stroke-width="2.3"/>
<line x1="1015" y1="1302.2" x2="1024" y2="1302.2" stroke="#000" stroke-width="2.3"/>
<line x1="1015" y1="1365.7" x2="1024" y2="1365.7" stroke="#000" stroke-width="2.3"/>
<path d="M1019.5 1282.2L1023.6 1289L1015.4 1289Z" fill="#fff" stroke="#000" stroke-width="1.7" stroke-linejoin="miter"/>
<path d="M1011.5 1286.2L1015.6 1293L1007.4 1293Z" fill="#fff" stroke="#000" stroke-width="1.7" stroke-linejoin="miter"/>
<path d="M1019.5 1314L1023.6 1320.7L1015.4 1320.7Z" fill="#fff" stroke="#000" stroke-width="1.7" stroke-linejoin="miter"/>
<path d="M1019.5 1321.9L1023.6 1328.7L1015.4 1328.7Z" fill="#fff" stroke="#000" stroke-width="1.7" stroke-linejoin="miter"/>
<path d="M1013.5 1327.9L1017.6 1334.6L1009.4 1334.6Z" fill="#fff" stroke="#000" stroke-width="1.7" stroke-linejoin="miter"/>
<path d="M1025.5 1327.9L1029.6 1334.6L1021.4 1334.6Z" fill="#fff" stroke="#000" stroke-width="1.7" stroke-linejoin="miter"/>
<path d="M1019.5 1343.7L1023.6 1350.5L1015.4 1350.5Z" fill="#fff" stroke="#000" stroke-width="1.7" stroke-linejoin="miter"/>
<path d="M1011.5 1347.7L1015.6 1354.5L1007.4 1354.5Z" fill="#fff" stroke="#000" stroke-width="1.7" stroke-linejoin="miter"/>
<path d="M1019.5 1359.6L1023.6 1366.4L1015.4 1366.4Z" fill="#fff" stroke="#000" stroke-width="1.7" stroke-linejoin="miter"/>
<path d="M1019.5 1379.4L1023.6 1386.2L1015.4 1386.2Z" fill="#fff" stroke="#000" stroke-width="1.7" stroke-linejoin="miter"/>
<text x="996.2" y="1228.2" font-size="15.8" text-anchor="middle" font-style="italic" fill="#000">Scd1</text>
<path d="M976.4 1273.7V1270.2H1019.2V1273.7" fill="none" stroke="#000" stroke-width="1.5"/>
<text x="997.8" y="1266.2" font-size="9.4" text-anchor="middle" fill="#000">P = 0.00060</text>
<text transform="translate(652,1075.5) rotate(-90)" font-size="16.5" text-anchor="middle" fill="#000">mRNA expression</text>
<text transform="translate(652,1305.4) rotate(-90)" font-size="16.5" text-anchor="middle" fill="#000">mRNA expression</text>
<rect x="1061.5" y="1368.5" width="37.3" height="18.8" fill="#fff" stroke="#777" stroke-width="1"/>
<rect x="1061.5" y="1391.3" width="37.3" height="18.3" fill="#b4b4fc" stroke="#555" stroke-width="1"/>
<text x="1105.5" y="1383.8" font-size="12.9" text-anchor="start" fill="#000">TCF7L2<tspan dy="-5.5" font-size="12.9">LoxP/LoxP</tspan></text>
<text x="1105.5" y="1405.5" font-size="12.9" text-anchor="start" fill="#000">Hep-TCF7L2<tspan dy="-5.5" font-size="12.9">&#916;DBD</tspan></text>
<text x="1617.5" y="29.8" font-size="24.7" text-anchor="start" fill="#000">L</text>
<rect x="1677.7" y="178.6" width="26.2" height="70.8" fill="#fff" stroke="#000" stroke-width="2.6"/>
<rect x="1720.3" y="154.7" width="25.8" height="94.7" fill="#fcbcde" stroke="#000" stroke-width="2.6"/>
<rect x="1662.3" y="50.8" width="99.6" height="198.6" fill="none" stroke="#000" stroke-width="2.6"/>
<line x1="1654.3" y1="249.4" x2="1662.3" y2="249.4" stroke="#000" stroke-width="2.6"/>
<text x="1652.3" y="254.6" font-size="14.5" text-anchor="end" fill="#000">0</text>
<line x1="1654.3" y1="183.2" x2="1662.3" y2="183.2" stroke="#000" stroke-width="2.6"/>
<text x="1652.3" y="188.4" font-size="14.5" text-anchor="end" fill="#000">1</text>
<line x1="1654.3" y1="117" x2="1662.3" y2="117" stroke="#000" stroke-width="2.6"/>
<text x="1652.3" y="122.2" font-size="14.5" text-anchor="end" fill="#000">2</text>
<line x1="1654.3" y1="50.8" x2="1662.3" y2="50.8" stroke="#000" stroke-width="2.6"/>
<text x="1652.3" y="56" font-size="14.5" text-anchor="end" fill="#000">3</text>
<line x1="1657.8" y1="216.3" x2="1662.3" y2="216.3" stroke="#000" stroke-width="2.6"/>
<line x1="1657.8" y1="150.1" x2="1662.3" y2="150.1" stroke="#000" stroke-width="2.6"/>
<line x1="1657.8" y1="83.9" x2="1662.3" y2="83.9" stroke="#000" stroke-width="2.6"/>
<line x1="1690.8" y1="165.3" x2="1690.8" y2="191.8" stroke="#000" stroke-width="2.3"/>
<line x1="1686.3" y1="165.3" x2="1695.3" y2="165.3" stroke="#000" stroke-width="2.3"/>
<line x1="1686.3" y1="191.8" x2="1695.3" y2="191.8" stroke="#000" stroke-width="2.3"/>
<circle cx="1690.8" cy="150.1" r="3" fill="#fff" stroke="#000" stroke-width="1.7"/>
<circle cx="1690.8" cy="163.3" r="3" fill="#fff" stroke="#000" stroke-width="1.7"/>
<circle cx="1682.8" cy="166.6" r="3" fill="#fff" stroke="#000" stroke-width="1.7"/>
<circle cx="1690.8" cy="173.3" r="3" fill="#fff" stroke="#000" stroke-width="1.7"/>
<circle cx="1682.8" cy="176.6" r="3" fill="#fff" stroke="#000" stroke-width="1.7"/>
<circle cx="1692.8" cy="179.9" r="3" fill="#fff" stroke="#000" stroke-width="1.7"/>
<circle cx="1700.8" cy="179.9" r="3" fill="#fff" stroke="#000" stroke-width="1.7"/>
<circle cx="1684.8" cy="183.2" r="3" fill="#fff" stroke="#000" stroke-width="1.7"/>
<circle cx="1694.8" cy="186.5" r="3" fill="#fff" stroke="#000" stroke-width="1.7"/>
<circle cx="1688.8" cy="191.1" r="3" fill="#fff" stroke="#000" stroke-width="1.7"/>
<circle cx="1690.8" cy="199.8" r="3" fill="#fff" stroke="#000" stroke-width="1.7"/>
<line x1="1733.2" y1="141.5" x2="1733.2" y2="168" stroke="#000" stroke-width="2.3"/>
<line x1="1728.7" y1="141.5" x2="1737.7" y2="141.5" stroke="#000" stroke-width="2.3"/>
<line x1="1728.7" y1="168" x2="1737.7" y2="168" stroke="#000" stroke-width="2.3"/>
<path d="M1733.2 119.6L1737.3 126.3L1729.1 126.3Z" fill="#fff" stroke="#000" stroke-width="1.7" stroke-linejoin="miter"/>
<path d="M1733.2 129.5L1737.3 136.3L1729.1 136.3Z" fill="#fff" stroke="#000" stroke-width="1.7" stroke-linejoin="miter"/>
<path d="M1725.2 131.5L1729.3 138.2L1721.1 138.2Z" fill="#fff" stroke="#000" stroke-width="1.7" stroke-linejoin="miter"/>
<path d="M1737.2 136.1L1741.3 142.9L1733.1 142.9Z" fill="#fff" stroke="#000" stroke-width="1.7" stroke-linejoin="miter"/>
<path d="M1729.2 139.4L1733.3 146.2L1725.1 146.2Z" fill="#fff" stroke="#000" stroke-width="1.7" stroke-linejoin="miter"/>
<path d="M1733.2 146L1737.3 152.8L1729.1 152.8Z" fill="#fff" stroke="#000" stroke-width="1.7" stroke-linejoin="miter"/>
<path d="M1725.2 149.4L1729.3 156.1L1721.1 156.1Z" fill="#fff" stroke="#000" stroke-width="1.7" stroke-linejoin="miter"/>
<path d="M1737.2 152.7L1741.3 159.4L1733.1 159.4Z" fill="#fff" stroke="#000" stroke-width="1.7" stroke-linejoin="miter"/>
<path d="M1731.2 154L1735.3 160.8L1727.1 160.8Z" fill="#fff" stroke="#000" stroke-width="1.7" stroke-linejoin="miter"/>
<path d="M1723.2 156L1727.3 162.7L1719.1 162.7Z" fill="#fff" stroke="#000" stroke-width="1.7" stroke-linejoin="miter"/>
<path d="M1741.2 159.3L1745.3 166L1737.1 166Z" fill="#fff" stroke="#000" stroke-width="1.7" stroke-linejoin="miter"/>
<path d="M1735.2 159.3L1739.3 166L1731.1 166Z" fill="#fff" stroke="#000" stroke-width="1.7" stroke-linejoin="miter"/>
<path d="M1727.2 162.6L1731.3 169.4L1723.1 169.4Z" fill="#fff" stroke="#000" stroke-width="1.7" stroke-linejoin="miter"/>
<path d="M1737.2 165.9L1741.3 172.7L1733.1 172.7Z" fill="#fff" stroke="#000" stroke-width="1.7" stroke-linejoin="miter"/>
<path d="M1743.2 167.2L1747.3 174L1739.1 174Z" fill="#fff" stroke="#000" stroke-width="1.7" stroke-linejoin="miter"/>
<path d="M1723.2 169.2L1727.3 176L1719.1 176Z" fill="#fff" stroke="#000" stroke-width="1.7" stroke-linejoin="miter"/>
<path d="M1733.2 175.8L1737.3 182.6L1729.1 182.6Z" fill="#fff" stroke="#000" stroke-width="1.7" stroke-linejoin="miter"/>
<text x="1709.6" y="68.1" font-size="15.8" text-anchor="middle" font-style="italic" fill="#000">Tgfb1</text>
<path d="M1689.7 111.1V107.6H1732.4V111.1" fill="none" stroke="#000" stroke-width="1.5"/>
<text x="1711.1" y="103.6" font-size="9.4" text-anchor="middle" fill="#000">P = 0.00247</text>
<rect x="1810.7" y="188.8" width="26.7" height="60.6" fill="#fff" stroke="#000" stroke-width="2.6"/>
<rect x="1853.8" y="165" width="25.8" height="84.4" fill="#fcbcde" stroke="#000" stroke-width="2.6"/>
<rect x="1796.2" y="50.8" width="98.7" height="198.6" fill="none" stroke="#000" stroke-width="2.6"/>
<line x1="1788.2" y1="249.4" x2="1796.2" y2="249.4" stroke="#000" stroke-width="2.6"/>
<text x="1786.2" y="254.6" font-size="14.5" text-anchor="end" fill="#000">0</text>
<line x1="1788.2" y1="199.8" x2="1796.2" y2="199.8" stroke="#000" stroke-width="2.6"/>
<text x="1786.2" y="205" font-size="14.5" text-anchor="end" fill="#000">1</text>
<line x1="1788.2" y1="150.1" x2="1796.2" y2="150.1" stroke="#000" stroke-width="2.6"/>
<text x="1786.2" y="155.3" font-size="14.5" text-anchor="end" fill="#000">2</text>
<line x1="1788.2" y1="100.4" x2="1796.2" y2="100.4" stroke="#000" stroke-width="2.6"/>
<text x="1786.2" y="105.7" font-size="14.5" text-anchor="end" fill="#000">3</text>
<line x1="1788.2" y1="50.8" x2="1796.2" y2="50.8" stroke="#000" stroke-width="2.6"/>
<text x="1786.2" y="56" font-size="14.5" text-anchor="end" fill="#000">4</text>
<line x1="1791.7" y1="224.6" x2="1796.2" y2="224.6" stroke="#000" stroke-width="2.6"/>
<line x1="1791.7" y1="174.9" x2="1796.2" y2="174.9" stroke="#000" stroke-width="2.6"/>
<line x1="1791.7" y1="125.3" x2="1796.2" y2="125.3" stroke="#000" stroke-width="2.6"/>
<line x1="1791.7" y1="75.6" x2="1796.2" y2="75.6" stroke="#000" stroke-width="2.6"/>
<line x1="1824.1" y1="176.4" x2="1824.1" y2="201.2" stroke="#000" stroke-width="2.3"/>
<line x1="1819.6" y1="176.4" x2="1828.6" y2="176.4" stroke="#000" stroke-width="2.3"/>
<line x1="1819.6" y1="201.2" x2="1828.6" y2="201.2" stroke="#000" stroke-width="2.3"/>
<circle cx="1824.1" cy="170" r="3" fill="#fff" stroke="#000" stroke-width="1.7"/>
<circle cx="1818.1" cy="174.9" r="3" fill="#fff" stroke="#000" stroke-width="1.7"/>
<circle cx="1826.1" cy="177.4" r="3" fill="#fff" stroke="#000" stroke-width="1.7"/>
<circle cx="1834.1" cy="179.9" r="3" fill="#fff" stroke="#000" stroke-width="1.7"/>
<circle cx="1820.1" cy="182.4" r="3" fill="#fff" stroke="#000" stroke-width="1.7"/>
<circle cx="1828.1" cy="184.9" r="3" fill="#fff" stroke="#000" stroke-width="1.7"/>
<circle cx="1822.1" cy="189.8" r="3" fill="#fff" stroke="#000" stroke-width="1.7"/>
<circle cx="1828.1" cy="194.8" r="3" fill="#fff" stroke="#000" stroke-width="1.7"/>
<circle cx="1820.1" cy="197.3" r="3" fill="#fff" stroke="#000" stroke-width="1.7"/>
<circle cx="1824.1" cy="204.7" r="3" fill="#fff" stroke="#000" stroke-width="1.7"/>
<circle cx="1816.1" cy="207.2" r="3" fill="#fff" stroke="#000" stroke-width="1.7"/>
<line x1="1866.7" y1="135.2" x2="1866.7" y2="194.8" stroke="#000" stroke-width="2.3"/>
<line x1="1862.2" y1="135.2" x2="1871.2" y2="135.2" stroke="#000" stroke-width="2.3"/>
<line x1="1862.2" y1="194.8" x2="1871.2" y2="194.8" stroke="#000" stroke-width="2.3"/>
<path d="M1866.7 106.3L1870.8 113.1L1862.6 113.1Z" fill="#fff" stroke="#000" stroke-width="1.7" stroke-linejoin="miter"/>
<path d="M1858.7 106.3L1862.8 113.1L1854.6 113.1Z" fill="#fff" stroke="#000" stroke-width="1.7" stroke-linejoin="miter"/>
<path d="M1866.7 121.2L1870.8 128L1862.6 128Z" fill="#fff" stroke="#000" stroke-width="1.7" stroke-linejoin="miter"/>
<path d="M1866.7 146L1870.8 152.8L1862.6 152.8Z" fill="#fff" stroke="#000" stroke-width="1.7" stroke-linejoin="miter"/>
<path d="M1858.7 148.5L1862.8 155.3L1854.6 155.3Z" fill="#fff" stroke="#000" stroke-width="1.7" stroke-linejoin="miter"/>
<path d="M1864.7 153.5L1868.8 160.3L1860.6 160.3Z" fill="#fff" stroke="#000" stroke-width="1.7" stroke-linejoin="miter"/>
<path d="M1872.7 156L1876.8 162.7L1868.6 162.7Z" fill="#fff" stroke="#000" stroke-width="1.7" stroke-linejoin="miter"/>
<path d="M1866.7 163.4L1870.8 170.2L1862.6 170.2Z" fill="#fff" stroke="#000" stroke-width="1.7" stroke-linejoin="miter"/>
<path d="M1860.7 168.4L1864.8 175.1L1856.6 175.1Z" fill="#fff" stroke="#000" stroke-width="1.7" stroke-linejoin="miter"/>
<path d="M1866.7 175.8L1870.8 182.6L1862.6 182.6Z" fill="#fff" stroke="#000" stroke-width="1.7" stroke-linejoin="miter"/>
<path d="M1858.7 178.3L1862.8 185.1L1854.6 185.1Z" fill="#fff" stroke="#000" stroke-width="1.7" stroke-linejoin="miter"/>
<path d="M1864.7 183.3L1868.8 190L1860.6 190Z" fill="#fff" stroke="#000" stroke-width="1.7" stroke-linejoin="miter"/>
<path d="M1866.7 190.7L1870.8 197.5L1862.6 197.5Z" fill="#fff" stroke="#000" stroke-width="1.7" stroke-linejoin="miter"/>
<path d="M1860.7 195.7L1864.8 202.5L1856.6 202.5Z" fill="#fff" stroke="#000" stroke-width="1.7" stroke-linejoin="miter"/>
<path d="M1866.7 203.1L1870.8 209.9L1862.6 209.9Z" fill="#fff" stroke="#000" stroke-width="1.7" stroke-linejoin="miter"/>
<text x="1843.1" y="68.1" font-size="15.8" text-anchor="middle" font-style="italic" fill="#000">Pdgfrb</text>
<path d="M1823.1 98.7V95.2H1865.8V98.7" fill="none" stroke="#000" stroke-width="1.5"/>
<text x="1844.4" y="91.2" font-size="9.4" text-anchor="middle" fill="#000">P = 0.03155</text>
<rect x="1946.3" y="176.9" width="27.1" height="72.5" fill="#fff" stroke="#000" stroke-width="2.6"/>
<rect x="1989.4" y="146.1" width="26.9" height="103.3" fill="#fcbcde" stroke="#000" stroke-width="2.6"/>
<rect x="1932.1" y="50.8" width="100" height="198.6" fill="none" stroke="#000" stroke-width="2.6"/>
<line x1="1924.1" y1="249.4" x2="1932.1" y2="249.4" stroke="#000" stroke-width="2.6"/>
<text x="1922.1" y="254.6" font-size="14.5" text-anchor="end" fill="#000">0</text>
<line x1="1924.1" y1="150.1" x2="1932.1" y2="150.1" stroke="#000" stroke-width="2.6"/>
<text x="1922.1" y="155.3" font-size="14.5" text-anchor="end" fill="#000">1</text>
<line x1="1924.1" y1="50.8" x2="1932.1" y2="50.8" stroke="#000" stroke-width="2.6"/>
<text x="1922.1" y="56" font-size="14.5" text-anchor="end" fill="#000">2</text>
<line x1="1927.6" y1="199.8" x2="1932.1" y2="199.8" stroke="#000" stroke-width="2.6"/>
<line x1="1927.6" y1="100.4" x2="1932.1" y2="100.4" stroke="#000" stroke-width="2.6"/>
<line x1="1959.8" y1="127.3" x2="1959.8" y2="226.6" stroke="#000" stroke-width="2.3"/>
<line x1="1955.3" y1="127.3" x2="1964.3" y2="127.3" stroke="#000" stroke-width="2.3"/>
<line x1="1955.3" y1="226.6" x2="1964.3" y2="226.6" stroke="#000" stroke-width="2.3"/>
<circle cx="1959.8" cy="113.4" r="3" fill="#fff" stroke="#000" stroke-width="1.7"/>
<circle cx="1959.8" cy="125.3" r="3" fill="#fff" stroke="#000" stroke-width="1.7"/>
<circle cx="1953.8" cy="130.2" r="3" fill="#fff" stroke="#000" stroke-width="1.7"/>
<circle cx="1965.8" cy="130.2" r="3" fill="#fff" stroke="#000" stroke-width="1.7"/>
<circle cx="1959.8" cy="174.9" r="3" fill="#fff" stroke="#000" stroke-width="1.7"/>
<circle cx="1951.8" cy="174.9" r="3" fill="#fff" stroke="#000" stroke-width="1.7"/>
<circle cx="1959.8" cy="209.7" r="3" fill="#fff" stroke="#000" stroke-width="1.7"/>
<circle cx="1953.8" cy="214.6" r="3" fill="#fff" stroke="#000" stroke-width="1.7"/>
<circle cx="1959.8" cy="219.6" r="3" fill="#fff" stroke="#000" stroke-width="1.7"/>
<circle cx="1953.8" cy="224.6" r="3" fill="#fff" stroke="#000" stroke-width="1.7"/>
<circle cx="1959.8" cy="234.5" r="3" fill="#fff" stroke="#000" stroke-width="1.7"/>
<line x1="2002.8" y1="76.6" x2="2002.8" y2="215.6" stroke="#000" stroke-width="2.3"/>
<line x1="1998.3" y1="76.6" x2="2007.3" y2="76.6" stroke="#000" stroke-width="2.3"/>
<line x1="1998.3" y1="215.6" x2="2007.3" y2="215.6" stroke="#000" stroke-width="2.3"/>
<path d="M2002.8 86.5L2007 93.2L1998.7 93.2Z" fill="#fff" stroke="#000" stroke-width="1.7" stroke-linejoin="miter"/>
<path d="M2002.8 96.4L2007 103.2L1998.7 103.2Z" fill="#fff" stroke="#000" stroke-width="1.7" stroke-linejoin="miter"/>
<path d="M1996.8 101.4L2001 108.1L1992.7 108.1Z" fill="#fff" stroke="#000" stroke-width="1.7" stroke-linejoin="miter"/>
<path d="M2008.8 101.4L2013 108.1L2004.7 108.1Z" fill="#fff" stroke="#000" stroke-width="1.7" stroke-linejoin="miter"/>
<path d="M2002.8 126.2L2007 132.9L1998.7 132.9Z" fill="#fff" stroke="#000" stroke-width="1.7" stroke-linejoin="miter"/>
<path d="M2002.8 165.9L2007 172.7L1998.7 172.7Z" fill="#fff" stroke="#000" stroke-width="1.7" stroke-linejoin="miter"/>
<path d="M1996.8 170.9L2001 177.6L1992.7 177.6Z" fill="#fff" stroke="#000" stroke-width="1.7" stroke-linejoin="miter"/>
<path d="M2004.8 173.8L2009 180.6L2000.7 180.6Z" fill="#fff" stroke="#000" stroke-width="1.7" stroke-linejoin="miter"/>
<path d="M2012.8 173.8L2017 180.6L2008.7 180.6Z" fill="#fff" stroke="#000" stroke-width="1.7" stroke-linejoin="miter"/>
<path d="M1990.8 175.8L1995 182.6L1986.7 182.6Z" fill="#fff" stroke="#000" stroke-width="1.7" stroke-linejoin="miter"/>
<path d="M2000.8 180.8L2005 187.6L1996.7 187.6Z" fill="#fff" stroke="#000" stroke-width="1.7" stroke-linejoin="miter"/>
<path d="M2006.8 185.8L2011 192.5L2002.7 192.5Z" fill="#fff" stroke="#000" stroke-width="1.7" stroke-linejoin="miter"/>
<path d="M2002.8 195.7L2007 202.5L1998.7 202.5Z" fill="#fff" stroke="#000" stroke-width="1.7" stroke-linejoin="miter"/>
<path d="M2002.8 205.6L2007 212.4L1998.7 212.4Z" fill="#fff" stroke="#000" stroke-width="1.7" stroke-linejoin="miter"/>
<path d="M2002.8 225.5L2007 232.2L1998.7 232.2Z" fill="#fff" stroke="#000" stroke-width="1.7" stroke-linejoin="miter"/>
<text x="1979.6" y="68.1" font-size="15.8" text-anchor="middle" font-style="italic" fill="#000">Col1a1</text>
<rect x="1677.7" y="444.7" width="26.2" height="32.8" fill="#fff" stroke="#000" stroke-width="2.6"/>
<rect x="1720.3" y="412" width="25.8" height="65.5" fill="#fcbcde" stroke="#000" stroke-width="2.6"/>
<rect x="1662.3" y="278.9" width="99.6" height="198.6" fill="none" stroke="#000" stroke-width="2.6"/>
<line x1="1654.3" y1="477.5" x2="1662.3" y2="477.5" stroke="#000" stroke-width="2.6"/>
<text x="1652.3" y="482.7" font-size="14.5" text-anchor="end" fill="#000">0</text>
<line x1="1654.3" y1="427.9" x2="1662.3" y2="427.9" stroke="#000" stroke-width="2.6"/>
<text x="1652.3" y="433.1" font-size="14.5" text-anchor="end" fill="#000">1</text>
<line x1="1654.3" y1="378.2" x2="1662.3" y2="378.2" stroke="#000" stroke-width="2.6"/>
<text x="1652.3" y="383.4" font-size="14.5" text-anchor="end" fill="#000">2</text>
<line x1="1654.3" y1="328.5" x2="1662.3" y2="328.5" stroke="#000" stroke-width="2.6"/>
<text x="1652.3" y="333.8" font-size="14.5" text-anchor="end" fill="#000">3</text>
<line x1="1654.3" y1="278.9" x2="1662.3" y2="278.9" stroke="#000" stroke-width="2.6"/>
<text x="1652.3" y="284.1" font-size="14.5" text-anchor="end" fill="#000">4</text>
<line x1="1657.8" y1="452.7" x2="1662.3" y2="452.7" stroke="#000" stroke-width="2.6"/>
<line x1="1657.8" y1="403" x2="1662.3" y2="403" stroke="#000" stroke-width="2.6"/>
<line x1="1657.8" y1="353.4" x2="1662.3" y2="353.4" stroke="#000" stroke-width="2.6"/>
<line x1="1657.8" y1="303.7" x2="1662.3" y2="303.7" stroke="#000" stroke-width="2.6"/>
<line x1="1690.8" y1="429.8" x2="1690.8" y2="459.6" stroke="#000" stroke-width="2.3"/>
<line x1="1686.3" y1="429.8" x2="1695.3" y2="429.8" stroke="#000" stroke-width="2.3"/>
<line x1="1686.3" y1="459.6" x2="1695.3" y2="459.6" stroke="#000" stroke-width="2.3"/>
<circle cx="1690.8" cy="422.9" r="3" fill="#fff" stroke="#000" stroke-width="1.7"/>
<circle cx="1682.8" cy="425.4" r="3" fill="#fff" stroke="#000" stroke-width="1.7"/>
<circle cx="1696.8" cy="427.9" r="3" fill="#fff" stroke="#000" stroke-width="1.7"/>
<circle cx="1690.8" cy="437.8" r="3" fill="#fff" stroke="#000" stroke-width="1.7"/>
<circle cx="1690.8" cy="445.2" r="3" fill="#fff" stroke="#000" stroke-width="1.7"/>
<circle cx="1682.8" cy="447.7" r="3" fill="#fff" stroke="#000" stroke-width="1.7"/>
<circle cx="1696.8" cy="450.2" r="3" fill="#fff" stroke="#000" stroke-width="1.7"/>
<circle cx="1688.8" cy="452.7" r="3" fill="#fff" stroke="#000" stroke-width="1.7"/>
<circle cx="1680.8" cy="455.2" r="3" fill="#fff" stroke="#000" stroke-width="1.7"/>
<circle cx="1694.8" cy="457.6" r="3" fill="#fff" stroke="#000" stroke-width="1.7"/>
<circle cx="1688.8" cy="462.6" r="3" fill="#fff" stroke="#000" stroke-width="1.7"/>
<line x1="1733.2" y1="379.7" x2="1733.2" y2="444.2" stroke="#000" stroke-width="2.3"/>
<line x1="1728.7" y1="379.7" x2="1737.7" y2="379.7" stroke="#000" stroke-width="2.3"/>
<line x1="1728.7" y1="444.2" x2="1737.7" y2="444.2" stroke="#000" stroke-width="2.3"/>
<path d="M1733.2 349.3L1737.3 356.1L1729.1 356.1Z" fill="#fff" stroke="#000" stroke-width="1.7" stroke-linejoin="miter"/>
<path d="M1727.2 354.3L1731.3 361L1723.1 361Z" fill="#fff" stroke="#000" stroke-width="1.7" stroke-linejoin="miter"/>
<path d="M1733.2 359.2L1737.3 366L1729.1 366Z" fill="#fff" stroke="#000" stroke-width="1.7" stroke-linejoin="miter"/>
<path d="M1733.2 374.1L1737.3 380.9L1729.1 380.9Z" fill="#fff" stroke="#000" stroke-width="1.7" stroke-linejoin="miter"/>
<path d="M1733.2 391.5L1737.3 398.3L1729.1 398.3Z" fill="#fff" stroke="#000" stroke-width="1.7" stroke-linejoin="miter"/>
<path d="M1731.2 399L1735.3 405.7L1727.1 405.7Z" fill="#fff" stroke="#000" stroke-width="1.7" stroke-linejoin="miter"/>
<path d="M1733.2 413.9L1737.3 420.6L1729.1 420.6Z" fill="#fff" stroke="#000" stroke-width="1.7" stroke-linejoin="miter"/>
<path d="M1727.2 418.8L1731.3 425.6L1723.1 425.6Z" fill="#fff" stroke="#000" stroke-width="1.7" stroke-linejoin="miter"/>
<path d="M1733.2 423.8L1737.3 430.6L1729.1 430.6Z" fill="#fff" stroke="#000" stroke-width="1.7" stroke-linejoin="miter"/>
<path d="M1741.2 423.8L1745.3 430.6L1737.1 430.6Z" fill="#fff" stroke="#000" stroke-width="1.7" stroke-linejoin="miter"/>
<path d="M1725.2 426.3L1729.3 433L1721.1 433Z" fill="#fff" stroke="#000" stroke-width="1.7" stroke-linejoin="miter"/>
<path d="M1737.2 428.8L1741.3 435.5L1733.1 435.5Z" fill="#fff" stroke="#000" stroke-width="1.7" stroke-linejoin="miter"/>
<path d="M1731.2 431.2L1735.3 438L1727.1 438Z" fill="#fff" stroke="#000" stroke-width="1.7" stroke-linejoin="miter"/>
<path d="M1733.2 448.6L1737.3 455.4L1729.1 455.4Z" fill="#fff" stroke="#000" stroke-width="1.7" stroke-linejoin="miter"/>
<path d="M1727.2 453.6L1731.3 460.3L1723.1 460.3Z" fill="#fff" stroke="#000" stroke-width="1.7" stroke-linejoin="miter"/>
<text x="1709.6" y="296.2" font-size="15.8" text-anchor="middle" font-style="italic" fill="#000">Col3a1</text>
<path d="M1689.7 341V337.5H1732.4V341" fill="none" stroke="#000" stroke-width="1.5"/>
<text x="1711.1" y="333.5" font-size="9.4" text-anchor="middle" fill="#000">P = 0.00792</text>
<rect x="1810.7" y="421.1" width="26.7" height="56.4" fill="#fff" stroke="#000" stroke-width="2.6"/>
<rect x="1853.8" y="382.2" width="25.8" height="95.3" fill="#fcbcde" stroke="#000" stroke-width="2.6"/>
<rect x="1796.2" y="278.9" width="98.7" height="198.6" fill="none" stroke="#000" stroke-width="2.6"/>
<line x1="1788.2" y1="477.5" x2="1796.2" y2="477.5" stroke="#000" stroke-width="2.6"/>
<text x="1786.2" y="482.7" font-size="14.5" text-anchor="end" fill="#000">0</text>
<line x1="1788.2" y1="398.1" x2="1796.2" y2="398.1" stroke="#000" stroke-width="2.6"/>
<text x="1786.2" y="403.3" font-size="14.5" text-anchor="end" fill="#000">1</text>
<line x1="1788.2" y1="318.6" x2="1796.2" y2="318.6" stroke="#000" stroke-width="2.6"/>
<text x="1786.2" y="323.8" font-size="14.5" text-anchor="end" fill="#000">2</text>
<line x1="1791.7" y1="437.8" x2="1796.2" y2="437.8" stroke="#000" stroke-width="2.6"/>
<line x1="1791.7" y1="358.3" x2="1796.2" y2="358.3" stroke="#000" stroke-width="2.6"/>
<line x1="1791.7" y1="278.9" x2="1796.2" y2="278.9" stroke="#000" stroke-width="2.6"/>
<line x1="1824.1" y1="389.3" x2="1824.1" y2="452.9" stroke="#000" stroke-width="2.3"/>
<line x1="1819.6" y1="389.3" x2="1828.6" y2="389.3" stroke="#000" stroke-width="2.3"/>
<line x1="1819.6" y1="452.9" x2="1828.6" y2="452.9" stroke="#000" stroke-width="2.3"/>
<circle cx="1824.1" cy="380.6" r="3" fill="#fff" stroke="#000" stroke-width="1.7"/>
<circle cx="1816.1" cy="380.6" r="3" fill="#fff" stroke="#000" stroke-width="1.7"/>
<circle cx="1824.1" cy="390.1" r="3" fill="#fff" stroke="#000" stroke-width="1.7"/>
<circle cx="1824.1" cy="398.1" r="3" fill="#fff" stroke="#000" stroke-width="1.7"/>
<circle cx="1818.1" cy="402" r="3" fill="#fff" stroke="#000" stroke-width="1.7"/>
<circle cx="1824.1" cy="410" r="3" fill="#fff" stroke="#000" stroke-width="1.7"/>
<circle cx="1824.1" cy="441.8" r="3" fill="#fff" stroke="#000" stroke-width="1.7"/>
<circle cx="1818.1" cy="445.7" r="3" fill="#fff" stroke="#000" stroke-width="1.7"/>
<circle cx="1824.1" cy="449.7" r="3" fill="#fff" stroke="#000" stroke-width="1.7"/>
<circle cx="1818.1" cy="453.7" r="3" fill="#fff" stroke="#000" stroke-width="1.7"/>
<circle cx="1824.1" cy="469.6" r="3" fill="#fff" stroke="#000" stroke-width="1.7"/>
<line x1="1866.7" y1="342.5" x2="1866.7" y2="421.9" stroke="#000" stroke-width="2.3"/>
<line x1="1862.2" y1="342.5" x2="1871.2" y2="342.5" stroke="#000" stroke-width="2.3"/>
<line x1="1862.2" y1="421.9" x2="1871.2" y2="421.9" stroke="#000" stroke-width="2.3"/>
<path d="M1866.7 310.6L1870.8 317.4L1862.6 317.4Z" fill="#fff" stroke="#000" stroke-width="1.7" stroke-linejoin="miter"/>
<path d="M1858.7 314.6L1862.8 321.3L1854.6 321.3Z" fill="#fff" stroke="#000" stroke-width="1.7" stroke-linejoin="miter"/>
<path d="M1866.7 326.5L1870.8 333.2L1862.6 333.2Z" fill="#fff" stroke="#000" stroke-width="1.7" stroke-linejoin="miter"/>
<path d="M1866.7 354.3L1870.8 361L1862.6 361Z" fill="#fff" stroke="#000" stroke-width="1.7" stroke-linejoin="miter"/>
<path d="M1866.7 366.2L1870.8 373L1862.6 373Z" fill="#fff" stroke="#000" stroke-width="1.7" stroke-linejoin="miter"/>
<path d="M1866.7 398L1870.8 404.7L1862.6 404.7Z" fill="#fff" stroke="#000" stroke-width="1.7" stroke-linejoin="miter"/>
<path d="M1858.7 400.4L1862.8 407.1L1854.6 407.1Z" fill="#fff" stroke="#000" stroke-width="1.7" stroke-linejoin="miter"/>
<path d="M1874.7 401.9L1878.8 408.7L1870.6 408.7Z" fill="#fff" stroke="#000" stroke-width="1.7" stroke-linejoin="miter"/>
<path d="M1864.7 403.5L1868.8 410.3L1860.6 410.3Z" fill="#fff" stroke="#000" stroke-width="1.7" stroke-linejoin="miter"/>
<path d="M1856.7 405.9L1860.8 412.7L1852.6 412.7Z" fill="#fff" stroke="#000" stroke-width="1.7" stroke-linejoin="miter"/>
<path d="M1870.7 408.3L1874.8 415.1L1866.6 415.1Z" fill="#fff" stroke="#000" stroke-width="1.7" stroke-linejoin="miter"/>
<path d="M1862.7 409.9L1866.8 416.7L1858.6 416.7Z" fill="#fff" stroke="#000" stroke-width="1.7" stroke-linejoin="miter"/>
<path d="M1876.7 413.9L1880.8 420.6L1872.6 420.6Z" fill="#fff" stroke="#000" stroke-width="1.7" stroke-linejoin="miter"/>
<path d="M1866.7 417.8L1870.8 424.6L1862.6 424.6Z" fill="#fff" stroke="#000" stroke-width="1.7" stroke-linejoin="miter"/>
<path d="M1866.7 445.6L1870.8 452.4L1862.6 452.4Z" fill="#fff" stroke="#000" stroke-width="1.7" stroke-linejoin="miter"/>
<path d="M1866.7 457.6L1870.8 464.3L1862.6 464.3Z" fill="#fff" stroke="#000" stroke-width="1.7" stroke-linejoin="miter"/>
<text x="1843.1" y="296.2" font-size="15.8" text-anchor="middle" font-style="italic" fill="#000">Timp1</text>
<rect x="1946.3" y="409.3" width="27.1" height="68.2" fill="#fff" stroke="#000" stroke-width="2.6"/>
<rect x="1989.4" y="399.4" width="26.9" height="78.1" fill="#fcbcde" stroke="#000" stroke-width="2.6"/>
<rect x="1932.1" y="278.9" width="100" height="198.6" fill="none" stroke="#000" stroke-width="2.6"/>
<line x1="1924.1" y1="477.5" x2="1932.1" y2="477.5" stroke="#000" stroke-width="2.6"/>
<text x="1922.1" y="482.7" font-size="14.5" text-anchor="end" fill="#000">0</text>
<line x1="1924.1" y1="411.3" x2="1932.1" y2="411.3" stroke="#000" stroke-width="2.6"/>
<text x="1922.1" y="416.5" font-size="14.5" text-anchor="end" fill="#000">1</text>
<line x1="1924.1" y1="345.1" x2="1932.1" y2="345.1" stroke="#000" stroke-width="2.6"/>
<text x="1922.1" y="350.3" font-size="14.5" text-anchor="end" fill="#000">2</text>
<line x1="1924.1" y1="278.9" x2="1932.1" y2="278.9" stroke="#000" stroke-width="2.6"/>
<text x="1922.1" y="284.1" font-size="14.5" text-anchor="end" fill="#000">3</text>
<line x1="1927.6" y1="444.4" x2="1932.1" y2="444.4" stroke="#000" stroke-width="2.6"/>
<line x1="1927.6" y1="378.2" x2="1932.1" y2="378.2" stroke="#000" stroke-width="2.6"/>
<line x1="1927.6" y1="312" x2="1932.1" y2="312" stroke="#000" stroke-width="2.6"/>
<line x1="1959.8" y1="379.5" x2="1959.8" y2="439.1" stroke="#000" stroke-width="2.3"/>
<line x1="1955.3" y1="379.5" x2="1964.3" y2="379.5" stroke="#000" stroke-width="2.3"/>
<line x1="1955.3" y1="439.1" x2="1964.3" y2="439.1" stroke="#000" stroke-width="2.3"/>
<circle cx="1959.8" cy="358.3" r="3" fill="#fff" stroke="#000" stroke-width="1.7"/>
<circle cx="1951.8" cy="358.3" r="3" fill="#fff" stroke="#000" stroke-width="1.7"/>
<circle cx="1959.8" cy="371.6" r="3" fill="#fff" stroke="#000" stroke-width="1.7"/>
<circle cx="1959.8" cy="394.8" r="3" fill="#fff" stroke="#000" stroke-width="1.7"/>
<circle cx="1959.8" cy="411.3" r="3" fill="#fff" stroke="#000" stroke-width="1.7"/>
<circle cx="1959.8" cy="421.2" r="3" fill="#fff" stroke="#000" stroke-width="1.7"/>
<circle cx="1951.8" cy="424.5" r="3" fill="#fff" stroke="#000" stroke-width="1.7"/>
<circle cx="1961.8" cy="427.9" r="3" fill="#fff" stroke="#000" stroke-width="1.7"/>
<circle cx="1959.8" cy="441.1" r="3" fill="#fff" stroke="#000" stroke-width="1.7"/>
<circle cx="1959.8" cy="451" r="3" fill="#fff" stroke="#000" stroke-width="1.7"/>
<line x1="2002.8" y1="386.1" x2="2002.8" y2="412.6" stroke="#000" stroke-width="2.3"/>
<line x1="1998.3" y1="386.1" x2="2007.3" y2="386.1" stroke="#000" stroke-width="2.3"/>
<line x1="1998.3" y1="412.6" x2="2007.3" y2="412.6" stroke="#000" stroke-width="2.3"/>
<path d="M2002.8 360.9L2007 367.7L1998.7 367.7Z" fill="#fff" stroke="#000" stroke-width="1.7" stroke-linejoin="miter"/>
<path d="M2002.8 374.1L2007 380.9L1998.7 380.9Z" fill="#fff" stroke="#000" stroke-width="1.7" stroke-linejoin="miter"/>
<path d="M1994.8 377.5L1999 384.2L1990.7 384.2Z" fill="#fff" stroke="#000" stroke-width="1.7" stroke-linejoin="miter"/>
<path d="M2006.8 380.8L2011 387.5L2002.7 387.5Z" fill="#fff" stroke="#000" stroke-width="1.7" stroke-linejoin="miter"/>
<path d="M2002.8 387.4L2007 394.1L1998.7 394.1Z" fill="#fff" stroke="#000" stroke-width="1.7" stroke-linejoin="miter"/>
<path d="M1994.8 390.7L1999 397.5L1990.7 397.5Z" fill="#fff" stroke="#000" stroke-width="1.7" stroke-linejoin="miter"/>
<path d="M2006.8 394L2011 400.8L2002.7 400.8Z" fill="#fff" stroke="#000" stroke-width="1.7" stroke-linejoin="miter"/>
<path d="M2014.8 395.3L2019 402.1L2010.7 402.1Z" fill="#fff" stroke="#000" stroke-width="1.7" stroke-linejoin="miter"/>
<path d="M1998.8 397.3L2003 404.1L1994.7 404.1Z" fill="#fff" stroke="#000" stroke-width="1.7" stroke-linejoin="miter"/>
<path d="M1990.8 399.3L1995 406.1L1986.7 406.1Z" fill="#fff" stroke="#000" stroke-width="1.7" stroke-linejoin="miter"/>
<path d="M2008.8 400.6L2013 407.4L2004.7 407.4Z" fill="#fff" stroke="#000" stroke-width="1.7" stroke-linejoin="miter"/>
<path d="M2000.8 403.9L2005 410.7L1996.7 410.7Z" fill="#fff" stroke="#000" stroke-width="1.7" stroke-linejoin="miter"/>
<path d="M1992.8 407.2L1997 414L1988.7 414Z" fill="#fff" stroke="#000" stroke-width="1.7" stroke-linejoin="miter"/>
<path d="M2004.8 410.6L2009 417.3L2000.7 417.3Z" fill="#fff" stroke="#000" stroke-width="1.7" stroke-linejoin="miter"/>
<path d="M1996.8 413.9L2001 420.6L1992.7 420.6Z" fill="#fff" stroke="#000" stroke-width="1.7" stroke-linejoin="miter"/>
<text x="1979.6" y="296.2" font-size="15.8" text-anchor="middle" font-style="italic" fill="#000">Scd1</text>
<text transform="translate(1632,143.8) rotate(-90)" font-size="16.7" text-anchor="middle" fill="#000">mRNA expression</text>
<text transform="translate(1632,375.2) rotate(-90)" font-size="16.7" text-anchor="middle" fill="#000">mRNA expression</text>
<rect x="1750.5" y="1.1" width="37.2" height="18.2" fill="#fff" stroke="#777" stroke-width="1"/>
<rect x="1750.5" y="23.4" width="37.2" height="18.2" fill="#fcbcde" stroke="#555" stroke-width="1"/>
<text x="1794.3" y="15.8" font-size="13.1" text-anchor="start" fill="#000">TCF7L2<tspan dy="-5.5" font-size="13.1">LoxP/LoxP</tspan></text>
<text x="1794.3" y="37.6" font-size="13.1" text-anchor="start" fill="#000">Hep-TCF7L2<tspan dy="-5.5" font-size="13.1">&#916;DBD</tspan></text>
<text x="1068" y="521" font-size="24.7" text-anchor="start" fill="#000">M</text>
<text x="1350.5" y="521" font-size="24.7" text-anchor="start" fill="#000">N</text>
<text x="1685" y="521" font-size="24.7" text-anchor="start" fill="#000">O</text>
<rect x="1148.9" y="680.4" width="21.8" height="93.2" fill="#fff" stroke="#000" stroke-width="2.6"/>
<rect x="1183.6" y="625.9" width="20.6" height="147.7" fill="#b4b4fc" stroke="#000" stroke-width="2.6"/>
<rect x="1240.3" y="747.2" width="21.8" height="26.4" fill="#fff" stroke="#000" stroke-width="2.6"/>
<rect x="1274.5" y="749" width="21.6" height="24.6" fill="#fcbcde" stroke="#000" stroke-width="2.6"/>
<rect x="1137.2" y="527.5" width="171.1" height="246.1" fill="none" stroke="#000" stroke-width="1.5"/>
<line x1="1128.2" y1="773.6" x2="1137.2" y2="773.6" stroke="#000" stroke-width="1.5"/>
<text x="1125.2" y="779.7" font-size="17" text-anchor="end" fill="#000">0</text>
<line x1="1128.2" y1="738.4" x2="1137.2" y2="738.4" stroke="#000" stroke-width="1.5"/>
<text x="1125.2" y="744.6" font-size="17" text-anchor="end" fill="#000">1</text>
<line x1="1128.2" y1="703.3" x2="1137.2" y2="703.3" stroke="#000" stroke-width="1.5"/>
<text x="1125.2" y="709.4" font-size="17" text-anchor="end" fill="#000">2</text>
<line x1="1128.2" y1="668.1" x2="1137.2" y2="668.1" stroke="#000" stroke-width="1.5"/>
<text x="1125.2" y="674.2" font-size="17" text-anchor="end" fill="#000">3</text>
<line x1="1128.2" y1="633" x2="1137.2" y2="633" stroke="#000" stroke-width="1.5"/>
<text x="1125.2" y="639.1" font-size="17" text-anchor="end" fill="#000">4</text>
<line x1="1128.2" y1="597.8" x2="1137.2" y2="597.8" stroke="#000" stroke-width="1.5"/>
<text x="1125.2" y="603.9" font-size="17" text-anchor="end" fill="#000">5</text>
<line x1="1128.2" y1="562.7" x2="1137.2" y2="562.7" stroke="#000" stroke-width="1.5"/>
<text x="1125.2" y="568.8" font-size="17" text-anchor="end" fill="#000">6</text>
<line x1="1128.2" y1="527.5" x2="1137.2" y2="527.5" stroke="#000" stroke-width="1.5"/>
<text x="1125.2" y="533.6" font-size="17" text-anchor="end" fill="#000">7</text>
<line x1="1177" y1="773.6" x2="1177" y2="781.6" stroke="#000" stroke-width="1.5"/>
<line x1="1268" y1="773.6" x2="1268" y2="781.6" stroke="#000" stroke-width="1.5"/>
<text x="1177" y="799.4" font-size="16" text-anchor="middle" fill="#000">CDAHFD</text>
<text x="1268" y="799.4" font-size="16" text-anchor="middle" fill="#000">GAN</text>
<line x1="1159.8" y1="659.3" x2="1159.8" y2="701.5" stroke="#000" stroke-width="2.4"/>
<line x1="1154.8" y1="659.3" x2="1164.8" y2="659.3" stroke="#000" stroke-width="2.4"/>
<line x1="1154.8" y1="701.5" x2="1164.8" y2="701.5" stroke="#000" stroke-width="2.4"/>
<circle cx="1159.8" cy="650.5" r="4.8" fill="#fff" stroke="#000" stroke-width="2.2"/>
<circle cx="1152.3" cy="650.5" r="4.8" fill="#fff" stroke="#000" stroke-width="2.2"/>
<circle cx="1159.8" cy="675.2" r="4.8" fill="#fff" stroke="#000" stroke-width="2.2"/>
<circle cx="1152.3" cy="678.7" r="4.8" fill="#fff" stroke="#000" stroke-width="2.2"/>
<circle cx="1167.3" cy="682.2" r="4.8" fill="#fff" stroke="#000" stroke-width="2.2"/>
<circle cx="1159.8" cy="699.8" r="4.8" fill="#fff" stroke="#000" stroke-width="2.2"/>
<circle cx="1159.8" cy="713.8" r="4.8" fill="#fff" stroke="#000" stroke-width="2.2"/>
<line x1="1193.9" y1="590.8" x2="1193.9" y2="661.1" stroke="#000" stroke-width="2.4"/>
<line x1="1188.9" y1="590.8" x2="1198.9" y2="590.8" stroke="#000" stroke-width="2.4"/>
<line x1="1188.9" y1="661.1" x2="1198.9" y2="661.1" stroke="#000" stroke-width="2.4"/>
<path d="M1193.9 574.3L1199.9 584.2L1187.9 584.2Z" fill="#fff" stroke="#000" stroke-width="2.2" stroke-linejoin="miter"/>
<path d="M1193.9 602.5L1199.9 612.3L1187.9 612.3Z" fill="#fff" stroke="#000" stroke-width="2.2" stroke-linejoin="miter"/>
<path d="M1186.4 606L1192.4 615.8L1180.4 615.8Z" fill="#fff" stroke="#000" stroke-width="2.2" stroke-linejoin="miter"/>
<path d="M1193.9 616.5L1199.9 626.4L1187.9 626.4Z" fill="#fff" stroke="#000" stroke-width="2.2" stroke-linejoin="miter"/>
<path d="M1188.9 627.1L1194.9 636.9L1182.9 636.9Z" fill="#fff" stroke="#000" stroke-width="2.2" stroke-linejoin="miter"/>
<path d="M1193.9 637.6L1199.9 647.5L1187.9 647.5Z" fill="#fff" stroke="#000" stroke-width="2.2" stroke-linejoin="miter"/>
<path d="M1193.9 693.9L1199.9 703.7L1187.9 703.7Z" fill="#fff" stroke="#000" stroke-width="2.2" stroke-linejoin="miter"/>
<line x1="1251.2" y1="729.7" x2="1251.2" y2="764.8" stroke="#000" stroke-width="2.4"/>
<line x1="1246.2" y1="729.7" x2="1256.2" y2="729.7" stroke="#000" stroke-width="2.4"/>
<line x1="1246.2" y1="764.8" x2="1256.2" y2="764.8" stroke="#000" stroke-width="2.4"/>
<circle cx="1251.2" cy="717.3" r="4.8" fill="#fff" stroke="#000" stroke-width="2.2"/>
<circle cx="1251.2" cy="740.2" r="4.8" fill="#fff" stroke="#000" stroke-width="2.2"/>
<circle cx="1243.7" cy="742" r="4.8" fill="#fff" stroke="#000" stroke-width="2.2"/>
<circle cx="1258.7" cy="745.5" r="4.8" fill="#fff" stroke="#000" stroke-width="2.2"/>
<circle cx="1251.2" cy="756" r="4.8" fill="#fff" stroke="#000" stroke-width="2.2"/>
<circle cx="1243.7" cy="763.1" r="4.8" fill="#fff" stroke="#000" stroke-width="2.2"/>
<circle cx="1253.7" cy="768.3" r="4.8" fill="#fff" stroke="#000" stroke-width="2.2"/>
<line x1="1285.3" y1="734.9" x2="1285.3" y2="763.1" stroke="#000" stroke-width="2.4"/>
<line x1="1280.3" y1="734.9" x2="1290.3" y2="734.9" stroke="#000" stroke-width="2.4"/>
<line x1="1280.3" y1="763.1" x2="1290.3" y2="763.1" stroke="#000" stroke-width="2.4"/>
<path d="M1285.3 718.5L1291.3 728.3L1279.3 728.3Z" fill="#fff" stroke="#000" stroke-width="2.2" stroke-linejoin="miter"/>
<path d="M1277.8 722L1283.8 731.8L1271.8 731.8Z" fill="#fff" stroke="#000" stroke-width="2.2" stroke-linejoin="miter"/>
<path d="M1292.8 725.5L1298.8 735.3L1286.8 735.3Z" fill="#fff" stroke="#000" stroke-width="2.2" stroke-linejoin="miter"/>
<path d="M1282.8 732.5L1288.8 742.4L1276.8 742.4Z" fill="#fff" stroke="#000" stroke-width="2.2" stroke-linejoin="miter"/>
<path d="M1292.8 736.1L1298.8 745.9L1286.8 745.9Z" fill="#fff" stroke="#000" stroke-width="2.2" stroke-linejoin="miter"/>
<path d="M1277.8 743.1L1283.8 752.9L1271.8 752.9Z" fill="#fff" stroke="#000" stroke-width="2.2" stroke-linejoin="miter"/>
<path d="M1290.3 746.6L1296.3 756.4L1284.3 756.4Z" fill="#fff" stroke="#000" stroke-width="2.2" stroke-linejoin="miter"/>
<path d="M1282.8 750.1L1288.8 760L1276.8 760Z" fill="#fff" stroke="#000" stroke-width="2.2" stroke-linejoin="miter"/>
<path d="M1292.8 753.6L1298.8 763.5L1286.8 763.5Z" fill="#fff" stroke="#000" stroke-width="2.2" stroke-linejoin="miter"/>
<path d="M1277.8 757.1L1283.8 767L1271.8 767Z" fill="#fff" stroke="#000" stroke-width="2.2" stroke-linejoin="miter"/>
<path d="M1287.8 760.7L1293.8 770.5L1281.8 770.5Z" fill="#fff" stroke="#000" stroke-width="2.2" stroke-linejoin="miter"/>
<path d="M1280.3 764.2L1286.3 774L1274.3 774Z" fill="#fff" stroke="#000" stroke-width="2.2" stroke-linejoin="miter"/>
<text transform="translate(1084.5,650.5) rotate(-90)" font-size="19.3" text-anchor="middle" fill="#000">Fibrosis</text>
<text transform="translate(1104.5,650.5) rotate(-90)" font-size="19.3" text-anchor="middle" fill="#000">(% area)</text>
<path d="M1157.8 568.5V565H1195.3V568.5" fill="none" stroke="#000" stroke-width="1.5"/>
<text x="1176.5" y="561" font-size="11.3" text-anchor="middle" fill="#000">P = 0.00833</text>
<rect x="1431.6" y="638.7" width="46.2" height="133.9" fill="#fff" stroke="#000" stroke-width="2.6"/>
<rect x="1502.3" y="684.6" width="45.3" height="88" fill="#b4b4fc" stroke="#000" stroke-width="2.6"/>
<rect x="1573.2" y="671.9" width="45.6" height="100.7" fill="#fcbcde" stroke="#000" stroke-width="2.6"/>
<rect x="1407.4" y="528.2" width="235.2" height="244.4" fill="none" stroke="#000" stroke-width="1.5"/>
<line x1="1398.4" y1="772.6" x2="1407.4" y2="772.6" stroke="#000" stroke-width="1.5"/>
<text x="1395.4" y="778.7" font-size="17" text-anchor="end" fill="#000">0</text>
<line x1="1398.4" y1="674.8" x2="1407.4" y2="674.8" stroke="#000" stroke-width="1.5"/>
<text x="1395.4" y="681" font-size="17" text-anchor="end" fill="#000">1</text>
<line x1="1398.4" y1="577.1" x2="1407.4" y2="577.1" stroke="#000" stroke-width="1.5"/>
<text x="1395.4" y="583.2" font-size="17" text-anchor="end" fill="#000">2</text>
<line x1="1402.4" y1="723.7" x2="1407.4" y2="723.7" stroke="#000" stroke-width="1.5"/>
<line x1="1402.4" y1="626" x2="1407.4" y2="626" stroke="#000" stroke-width="1.5"/>
<line x1="1402.4" y1="528.2" x2="1407.4" y2="528.2" stroke="#000" stroke-width="1.5"/>
<line x1="1454" y1="772.6" x2="1454" y2="780.6" stroke="#000" stroke-width="1.5"/>
<line x1="1524.7" y1="772.6" x2="1524.7" y2="780.6" stroke="#000" stroke-width="1.5"/>
<line x1="1595" y1="772.6" x2="1595" y2="780.6" stroke="#000" stroke-width="1.5"/>
<text x="1454" y="799.8" font-size="16.2" text-anchor="middle" fill="#000">CHOW</text>
<text x="1524.7" y="799.8" font-size="16.2" text-anchor="middle" fill="#000">CDAHFD</text>
<text x="1595" y="799.8" font-size="16.2" text-anchor="middle" fill="#000">GAN</text>
<line x1="1454.7" y1="609.3" x2="1454.7" y2="668" stroke="#000" stroke-width="2.4"/>
<line x1="1449.7" y1="609.3" x2="1459.7" y2="609.3" stroke="#000" stroke-width="2.4"/>
<line x1="1449.7" y1="668" x2="1459.7" y2="668" stroke="#000" stroke-width="2.4"/>
<circle cx="1454.7" cy="577.1" r="3.6" fill="#fff" stroke="#000" stroke-width="2"/>
<circle cx="1454.7" cy="598.6" r="3.6" fill="#fff" stroke="#000" stroke-width="2"/>
<circle cx="1454.7" cy="626" r="3.6" fill="#fff" stroke="#000" stroke-width="2"/>
<circle cx="1439.7" cy="630.8" r="3.6" fill="#fff" stroke="#000" stroke-width="2"/>
<circle cx="1463.7" cy="635.7" r="3.6" fill="#fff" stroke="#000" stroke-width="2"/>
<circle cx="1454.7" cy="645.5" r="3.6" fill="#fff" stroke="#000" stroke-width="2"/>
<circle cx="1439.7" cy="647.5" r="3.6" fill="#fff" stroke="#000" stroke-width="2"/>
<circle cx="1469.7" cy="650.4" r="3.6" fill="#fff" stroke="#000" stroke-width="2"/>
<circle cx="1448.7" cy="655.3" r="3.6" fill="#fff" stroke="#000" stroke-width="2"/>
<circle cx="1433.7" cy="660.2" r="3.6" fill="#fff" stroke="#000" stroke-width="2"/>
<circle cx="1457.7" cy="665.1" r="3.6" fill="#fff" stroke="#000" stroke-width="2"/>
<circle cx="1454.7" cy="677.8" r="3.6" fill="#fff" stroke="#000" stroke-width="2"/>
<line x1="1524.9" y1="678.8" x2="1524.9" y2="690.5" stroke="#000" stroke-width="2.4"/>
<line x1="1519.9" y1="678.8" x2="1529.9" y2="678.8" stroke="#000" stroke-width="2.4"/>
<line x1="1519.9" y1="690.5" x2="1529.9" y2="690.5" stroke="#000" stroke-width="2.4"/>
<rect x="1520.3" y="667.3" width="9.2" height="9.2" fill="#fff" stroke="#000" stroke-width="2.4"/>
<rect x="1508.3" y="672.2" width="9.2" height="9.2" fill="#fff" stroke="#000" stroke-width="2.4"/>
<rect x="1532.3" y="674.2" width="9.2" height="9.2" fill="#fff" stroke="#000" stroke-width="2.4"/>
<rect x="1499.3" y="677.1" width="9.2" height="9.2" fill="#fff" stroke="#000" stroke-width="2.4"/>
<rect x="1520.3" y="680" width="9.2" height="9.2" fill="#fff" stroke="#000" stroke-width="2.4"/>
<rect x="1541.3" y="682" width="9.2" height="9.2" fill="#fff" stroke="#000" stroke-width="2.4"/>
<rect x="1508.3" y="683.9" width="9.2" height="9.2" fill="#fff" stroke="#000" stroke-width="2.4"/>
<rect x="1529.3" y="684.9" width="9.2" height="9.2" fill="#fff" stroke="#000" stroke-width="2.4"/>
<rect x="1499.3" y="687.8" width="9.2" height="9.2" fill="#fff" stroke="#000" stroke-width="2.4"/>
<rect x="1517.3" y="689.8" width="9.2" height="9.2" fill="#fff" stroke="#000" stroke-width="2.4"/>
<rect x="1529.3" y="697.6" width="9.2" height="9.2" fill="#fff" stroke="#000" stroke-width="2.4"/>
<line x1="1596" y1="660.2" x2="1596" y2="683.6" stroke="#000" stroke-width="2.4"/>
<line x1="1591" y1="660.2" x2="1601" y2="660.2" stroke="#000" stroke-width="2.4"/>
<line x1="1591" y1="683.6" x2="1601" y2="683.6" stroke="#000" stroke-width="2.4"/>
<path d="M1596 642.3L1602.2 652.5L1589.8 652.5Z" fill="#fff" stroke="#000" stroke-width="2.4" stroke-linejoin="miter"/>
<path d="M1584 642.3L1590.2 652.5L1577.8 652.5Z" fill="#fff" stroke="#000" stroke-width="2.4" stroke-linejoin="miter"/>
<path d="M1593 654L1599.2 664.3L1586.8 664.3Z" fill="#fff" stroke="#000" stroke-width="2.4" stroke-linejoin="miter"/>
<path d="M1605 660.9L1611.2 671.1L1598.8 671.1Z" fill="#fff" stroke="#000" stroke-width="2.4" stroke-linejoin="miter"/>
<path d="M1584 663.8L1590.2 674.1L1577.8 674.1Z" fill="#fff" stroke="#000" stroke-width="2.4" stroke-linejoin="miter"/>
<path d="M1617 665.8L1623.2 676L1610.8 676Z" fill="#fff" stroke="#000" stroke-width="2.4" stroke-linejoin="miter"/>
<path d="M1596 666.7L1602.2 677L1589.8 677Z" fill="#fff" stroke="#000" stroke-width="2.4" stroke-linejoin="miter"/>
<path d="M1575 668.7L1581.2 678.9L1568.8 678.9Z" fill="#fff" stroke="#000" stroke-width="2.4" stroke-linejoin="miter"/>
<path d="M1608 671.6L1614.2 681.9L1601.8 681.9Z" fill="#fff" stroke="#000" stroke-width="2.4" stroke-linejoin="miter"/>
<path d="M1587 673.6L1593.2 683.8L1580.8 683.8Z" fill="#fff" stroke="#000" stroke-width="2.4" stroke-linejoin="miter"/>
<path d="M1596 688.2L1602.2 698.5L1589.8 698.5Z" fill="#fff" stroke="#000" stroke-width="2.4" stroke-linejoin="miter"/>
<path d="M1584 690.2L1590.2 700.4L1577.8 700.4Z" fill="#fff" stroke="#000" stroke-width="2.4" stroke-linejoin="miter"/>
<text x="1524.4" y="652" font-size="11.3" text-anchor="middle" fill="#000">P &lt; 0.00001</text>
<text x="1595.6" y="629.7" font-size="11.3" text-anchor="middle" fill="#000">P = 0.00046</text>
<text transform="translate(1353,655) rotate(-90)" font-size="19.5" text-anchor="middle" fill="#000"><tspan font-style="italic">TCF7L2</tspan> expression</text>
<text transform="translate(1376.5,655) rotate(-90)" font-size="19.5" text-anchor="middle" fill="#000">(relative to control)</text>
<rect x="1775.2" y="592.7" width="44.8" height="180.2" fill="#fff" stroke="#000" stroke-width="2.2"/>
<rect x="1845" y="609.2" width="44.8" height="163.7" fill="#b2f2dc" stroke="#000" stroke-width="2.2"/>
<rect x="1750.6" y="527.7" width="163.5" height="245.2" fill="none" stroke="#555" stroke-width="1.5"/>
<line x1="1741.6" y1="772.9" x2="1750.6" y2="772.9" stroke="#555" stroke-width="1.5"/>
<text x="1738.6" y="778.8" font-size="16.5" text-anchor="end" fill="#000">0</text>
<line x1="1741.6" y1="711.6" x2="1750.6" y2="711.6" stroke="#555" stroke-width="1.5"/>
<text x="1738.6" y="717.5" font-size="16.5" text-anchor="end" fill="#000">1</text>
<line x1="1741.6" y1="650.3" x2="1750.6" y2="650.3" stroke="#555" stroke-width="1.5"/>
<text x="1738.6" y="656.2" font-size="16.5" text-anchor="end" fill="#000">2</text>
<line x1="1741.6" y1="589" x2="1750.6" y2="589" stroke="#555" stroke-width="1.5"/>
<text x="1738.6" y="594.9" font-size="16.5" text-anchor="end" fill="#000">3</text>
<line x1="1741.6" y1="527.7" x2="1750.6" y2="527.7" stroke="#555" stroke-width="1.5"/>
<text x="1738.6" y="533.6" font-size="16.5" text-anchor="end" fill="#000">4</text>
<line x1="1797.6" y1="772.9" x2="1797.6" y2="780.9" stroke="#555" stroke-width="2"/>
<line x1="1867.4" y1="772.9" x2="1867.4" y2="780.9" stroke="#555" stroke-width="2"/>
<text x="1797.6" y="795.8" font-size="15.7" text-anchor="middle" fill="#000">CON</text>
<text x="1867.4" y="795.8" font-size="15.7" text-anchor="middle" fill="#000">FFD</text>
<line x1="1797.6" y1="580.4" x2="1797.6" y2="604.9" stroke="#000" stroke-width="2"/>
<line x1="1792.6" y1="580.4" x2="1802.6" y2="580.4" stroke="#000" stroke-width="2"/>
<line x1="1792.6" y1="604.9" x2="1802.6" y2="604.9" stroke="#000" stroke-width="2"/>
<circle cx="1797.6" cy="573.7" r="3.2" fill="#fff" stroke="#000" stroke-width="1.8"/>
<circle cx="1788.6" cy="582.9" r="3.2" fill="#fff" stroke="#000" stroke-width="1.8"/>
<circle cx="1800.6" cy="585.9" r="3.2" fill="#fff" stroke="#000" stroke-width="1.8"/>
<circle cx="1812.6" cy="589" r="3.2" fill="#fff" stroke="#000" stroke-width="1.8"/>
<circle cx="1791.6" cy="595.1" r="3.2" fill="#fff" stroke="#000" stroke-width="1.8"/>
<circle cx="1803.6" cy="598.2" r="3.2" fill="#fff" stroke="#000" stroke-width="1.8"/>
<circle cx="1779.6" cy="601.3" r="3.2" fill="#fff" stroke="#000" stroke-width="1.8"/>
<circle cx="1797.6" cy="613.5" r="3.2" fill="#fff" stroke="#000" stroke-width="1.8"/>
<line x1="1867.4" y1="601.9" x2="1867.4" y2="616.6" stroke="#000" stroke-width="2"/>
<line x1="1862.4" y1="601.9" x2="1872.4" y2="601.9" stroke="#000" stroke-width="2"/>
<line x1="1862.4" y1="616.6" x2="1872.4" y2="616.6" stroke="#000" stroke-width="2"/>
<path d="M1867.4 590.8L1871.8 598L1863 598Z" fill="#fff" stroke="#000" stroke-width="1.8" stroke-linejoin="miter"/>
<path d="M1861.4 600L1865.8 607.2L1857 607.2Z" fill="#fff" stroke="#000" stroke-width="1.8" stroke-linejoin="miter"/>
<path d="M1873.4 603.1L1877.8 610.3L1869 610.3Z" fill="#fff" stroke="#000" stroke-width="1.8" stroke-linejoin="miter"/>
<path d="M1849.4 604.3L1853.8 611.5L1845 611.5Z" fill="#fff" stroke="#000" stroke-width="1.8" stroke-linejoin="miter"/>
<path d="M1885.4 606.2L1889.8 613.3L1881 613.3Z" fill="#fff" stroke="#000" stroke-width="1.8" stroke-linejoin="miter"/>
<path d="M1864.4 606.2L1868.8 613.3L1860 613.3Z" fill="#fff" stroke="#000" stroke-width="1.8" stroke-linejoin="miter"/>
<path d="M1855.4 609.2L1859.8 616.4L1851 616.4Z" fill="#fff" stroke="#000" stroke-width="1.8" stroke-linejoin="miter"/>
<path d="M1876.4 610.4L1880.8 617.6L1872 617.6Z" fill="#fff" stroke="#000" stroke-width="1.8" stroke-linejoin="miter"/>
<path d="M1846.4 615.3L1850.8 622.5L1842 622.5Z" fill="#fff" stroke="#000" stroke-width="1.8" stroke-linejoin="miter"/>
<path d="M1798 563.9V555.9H1869.3V563.9" fill="none" stroke="#000" stroke-width="2"/>
<text x="1833.7" y="551.9" font-size="11.3" text-anchor="middle" fill="#000">P = 0.0055</text>
<text transform="translate(1703.5,645) rotate(-90)" font-size="19.5" text-anchor="middle" fill="#000"><tspan font-style="italic">TCF7L2</tspan> expression</text>
<text transform="translate(1726.5,645) rotate(-90)" font-size="19.5" text-anchor="middle" fill="#000">(Log<tspan font-size="13" dy="5">2</tspan><tspan dy="-5"> CPM)</tspan></text>
<text x="1158.5" y="847" font-size="24.7" text-anchor="start" fill="#000">P</text>
<circle cx="1271" cy="859.4" r="14.5" fill="#fff" stroke="#000" stroke-width="1.6"/>
<path d="M1255,876 Q1271,874 1287,876 L1306,918 Q1306,923 1301,921 L1286,900 L1286,988 Q1281,991 1276,988 L1273,934 L1269,934 L1266,988 Q1261,991 1256,988 L1256,900 L1241,921 Q1236,923 1236,918 Z" fill="#fff" stroke="#000" stroke-width="1.6" stroke-linejoin="round"/>
<g transform="translate(1260,908.5) scale(0.2300,0.2143)"><g clip-path="url(#lvclip)">
<path d="M19,0 C35,0.5 65,3 85,2.5 C93,2 99,2 100,6 C101,11 97,14 93,18 C88,24 82,29 74,34 C64,40 50,46 36,52 C26,56.5 16,61 9,67 C5,70.5 1,70 0.5,65 C-0.5,55 -0.5,35 1,20 C2,10 8,1.5 19,0 Z" fill="url(#lvN)"/>
<path d="M54,3 C50,10 53,16 50,23 C47,30 53,35 51,43" fill="none" stroke="#b58585" stroke-width="1.6"/>
</g></g>
<circle cx="1243.5" cy="859.4" r="14.5" fill="#fff" stroke="#000" stroke-width="1.6"/>
<path d="M1227.5,876 Q1243.5,874 1259.5,876 L1278.5,918 Q1278.5,923 1273.5,921 L1258.5,900 L1258.5,988 Q1253.5,991 1248.5,988 L1245.5,934 L1241.5,934 L1238.5,988 Q1233.5,991 1228.5,988 L1228.5,900 L1213.5,921 Q1208.5,923 1208.5,918 Z" fill="#fff" stroke="#000" stroke-width="1.6" stroke-linejoin="round"/>
<g transform="translate(1233,908.5) scale(0.2300,0.2286)"><g clip-path="url(#lvclip)">
<path d="M19,0 C35,0.5 65,3 85,2.5 C93,2 99,2 100,6 C101,11 97,14 93,18 C88,24 82,29 74,34 C64,40 50,46 36,52 C26,56.5 16,61 9,67 C5,70.5 1,70 0.5,65 C-0.5,55 -0.5,35 1,20 C2,10 8,1.5 19,0 Z" fill="url(#lvN)"/>
<path d="M54,3 C50,10 53,16 50,23 C47,30 53,35 51,43" fill="none" stroke="#b58585" stroke-width="1.6"/>
</g></g>
<g transform="translate(1320.3,896) scale(1.0250,1.0471)"><g clip-path="url(#lvclip)">
<path d="M19,0 C35,0.5 65,3 85,2.5 C93,2 99,2 100,6 C101,11 97,14 93,18 C88,24 82,29 74,34 C64,40 50,46 36,52 C26,56.5 16,61 9,67 C5,70.5 1,70 0.5,65 C-0.5,55 -0.5,35 1,20 C2,10 8,1.5 19,0 Z" fill="url(#lvN)"/>
<path d="M54,3 C50,10 53,16 50,23 C47,30 53,35 51,43" fill="none" stroke="#b58585" stroke-width="1.6"/>
</g></g>
<g transform="translate(1470.4,895) scale(1.0140,1.0243)"><g clip-path="url(#lvclip)">
<path d="M19,0 C35,0.5 65,3 85,2.5 C93,2 99,2 100,6 C101,11 97,14 93,18 C88,24 82,29 74,34 C64,40 50,46 36,52 C26,56.5 16,61 9,67 C5,70.5 1,70 0.5,65 C-0.5,55 -0.5,35 1,20 C2,10 8,1.5 19,0 Z" fill="#c99b4e"/>
<ellipse cx="14" cy="14" rx="4.5" ry="4.95" fill="#ede4e2"/>
<ellipse cx="30" cy="10" rx="3" ry="3.3000000000000003" fill="#ede4e2"/>
<ellipse cx="46" cy="8" rx="2.2" ry="2.4200000000000004" fill="#ede4e2"/>
<ellipse cx="62" cy="9" rx="4.5" ry="4.95" fill="#ede4e2"/>
<ellipse cx="78" cy="8" rx="2" ry="2.2" fill="#ede4e2"/>
<ellipse cx="88" cy="6" rx="3.5" ry="3.8500000000000005" fill="#ede4e2"/>
<ellipse cx="12" cy="34" rx="4.5" ry="4.95" fill="#ede4e2"/>
<ellipse cx="26" cy="26" rx="2" ry="2.2" fill="#ede4e2"/>
<ellipse cx="40" cy="22" rx="4.5" ry="4.95" fill="#ede4e2"/>
<ellipse cx="54" cy="20" rx="2.6" ry="2.8600000000000003" fill="#ede4e2"/>
<ellipse cx="64" cy="22" rx="3.4" ry="3.74" fill="#ede4e2"/>
<ellipse cx="74" cy="16" rx="2.2" ry="2.4200000000000004" fill="#ede4e2"/>
<ellipse cx="12" cy="50" rx="3.2" ry="3.5200000000000005" fill="#ede4e2"/>
<ellipse cx="24" cy="40" rx="3.8" ry="4.18" fill="#ede4e2"/>
<ellipse cx="36" cy="36" rx="2.2" ry="2.4200000000000004" fill="#ede4e2"/>
<ellipse cx="46" cy="32" rx="1.6" ry="1.7600000000000002" fill="#ede4e2"/>
<ellipse cx="20" cy="58" rx="2.2" ry="2.4200000000000004" fill="#ede4e2"/>
<ellipse cx="8" cy="24" rx="1.8" ry="1.9800000000000002" fill="#ede4e2"/>
<ellipse cx="56" cy="30" rx="3.0" ry="3.3000000000000003" fill="#ede4e2"/>
<ellipse cx="82" cy="14" rx="1.6" ry="1.7600000000000002" fill="#ede4e2"/>
<ellipse cx="34" cy="46" rx="1.6" ry="1.7600000000000002" fill="#ede4e2"/>
<ellipse cx="6" cy="62" rx="3.2" ry="3.5200000000000005" fill="#ede4e2"/>
</g></g>
<g transform="translate(1620.5,893.5) scale(1.0150,1.0300)"><g clip-path="url(#lvclip)">
<path d="M19,0 C35,0.5 65,3 85,2.5 C93,2 99,2 100,6 C101,11 97,14 93,18 C88,24 82,29 74,34 C64,40 50,46 36,52 C26,56.5 16,61 9,67 C5,70.5 1,70 0.5,65 C-0.5,55 -0.5,35 1,20 C2,10 8,1.5 19,0 Z" fill="url(#lvFib)"/>
<circle cx="82.5" cy="8.8" r="2.8" fill="#efe6e2" opacity="0.9"/>
<circle cx="56.1" cy="28.6" r="3.4" fill="#efe6e2" opacity="0.9"/>
<circle cx="50.6" cy="11.6" r="2.1" fill="#efe6e2" opacity="0.9"/>
<circle cx="20.9" cy="29.8" r="2.5" fill="#efe6e2" opacity="0.9"/>
<circle cx="23.5" cy="30.4" r="3.6" fill="#efe6e2" opacity="0.9"/>
<circle cx="6.2" cy="9" r="2.5" fill="#efe6e2" opacity="0.9"/>
<circle cx="35.6" cy="7.3" r="2.3" fill="#efe6e2" opacity="0.9"/>
<circle cx="31.7" cy="9" r="3.6" fill="#efe6e2" opacity="0.9"/>
<circle cx="60.5" cy="14.6" r="3.4" fill="#efe6e2" opacity="0.9"/>
<circle cx="19.7" cy="22.8" r="3.6" fill="#efe6e2" opacity="0.9"/>
<circle cx="75.8" cy="15.3" r="3.1" fill="#efe6e2" opacity="0.9"/>
<circle cx="14.1" cy="9.7" r="2.4" fill="#efe6e2" opacity="0.9"/>
<circle cx="7.4" cy="20" r="3.1" fill="#efe6e2" opacity="0.9"/>
<circle cx="33.1" cy="25.4" r="3.4" fill="#efe6e2" opacity="0.9"/>
<circle cx="29.4" cy="21.7" r="5" fill="url(#spot)"/>
<circle cx="26.7" cy="10.2" r="5" fill="url(#spot)"/>
<circle cx="8.9" cy="28.1" r="5" fill="url(#spot)"/>
<circle cx="6.1" cy="51" r="5" fill="url(#spot)"/>
<circle cx="21" cy="8.4" r="5" fill="url(#spot)"/>
<circle cx="45" cy="15.4" r="5" fill="url(#spot)"/>
<circle cx="23" cy="10" r="5" fill="url(#spot)"/>
<circle cx="50.5" cy="13.8" r="5" fill="url(#spot)"/>
<path d="M58.4 16.9 C63.3 17.6 55.2 26.9 54.3 23" fill="none" stroke="#5e3222" stroke-width="1.6"/>
<path d="M14.9 36.6 C20.9 33.5 19.7 39.1 11.5 44.2" fill="none" stroke="#5e3222" stroke-width="1.6"/>
<path d="M25.3 33 C29.2 27.1 22.5 43 24.7 39.5" fill="none" stroke="#5e3222" stroke-width="1.6"/>
<path d="M17.6 48.4 C11.7 47.8 10.3 52.2 11.7 57.2" fill="none" stroke="#5e3222" stroke-width="1.6"/>
<path d="M51.6 31.3 C44.1 35.8 54.1 42.3 47.5 42.3" fill="none" stroke="#5e3222" stroke-width="1.6"/>
<path d="M55.6 19.6 C52.1 25.1 49.2 23.7 52 25.1" fill="none" stroke="#5e3222" stroke-width="1.6"/>
<path d="M45.2 32.7 C37.8 29.3 36 41.7 40.3 37.5" fill="none" stroke="#5e3222" stroke-width="1.6"/>
<path d="M47.2 10.5 C48.4 9.8 52.9 10.8 46.5 13.7" fill="none" stroke="#5e3222" stroke-width="1.6"/>
<path d="M75.8 17.4 C67.5 21.1 81.4 24.1 85.4 25.7" fill="none" stroke="#5e3222" stroke-width="1.6"/>
<path d="M18 46.9 C16.1 49 6.1 51.2 9.8 56.3" fill="none" stroke="#5e3222" stroke-width="1.6"/>
<path d="M80.8 14.1 C74.3 16.9 70.6 24.7 71.2 22.2" fill="none" stroke="#5e3222" stroke-width="1.6"/>
</g></g>
<g transform="translate(1768.8,895) scale(0.9960,1.0086)"><g clip-path="url(#lvclip)">
<path d="M19,0 C35,0.5 65,3 85,2.5 C93,2 99,2 100,6 C101,11 97,14 93,18 C88,24 82,29 74,34 C64,40 50,46 36,52 C26,56.5 16,61 9,67 C5,70.5 1,70 0.5,65 C-0.5,55 -0.5,35 1,20 C2,10 8,1.5 19,0 Z" fill="url(#lvF3)"/>
<circle cx="8.9" cy="9.8" r="3.2" fill="url(#spot)" opacity="0.6"/>
<circle cx="60.7" cy="11" r="2.3" fill="url(#spot)" opacity="0.6"/>
<circle cx="25.8" cy="37.6" r="2.4" fill="url(#spot)" opacity="0.6"/>
<circle cx="65" cy="33.5" r="2.4" fill="url(#spot)" opacity="0.6"/>
<circle cx="49.2" cy="24.3" r="3.2" fill="url(#spot)" opacity="0.6"/>
<circle cx="84.7" cy="9" r="2.1" fill="url(#spot)" opacity="0.6"/>
<circle cx="80.4" cy="22.3" r="2.6" fill="url(#spot)" opacity="0.6"/>
<circle cx="33.4" cy="20.7" r="4.9" fill="url(#spot)" opacity="0.6"/>
<circle cx="24.2" cy="14.3" r="3.8" fill="url(#spot)" opacity="0.6"/>
<circle cx="50.1" cy="46" r="4.5" fill="url(#spot)" opacity="0.6"/>
<circle cx="35.4" cy="13.8" r="4.5" fill="url(#spot)" opacity="0.6"/>
<circle cx="84.2" cy="6.3" r="4.2" fill="url(#spot)" opacity="0.6"/>
<circle cx="74.9" cy="33" r="2.7" fill="url(#spot)" opacity="0.6"/>
<circle cx="69.3" cy="36.4" r="2.6" fill="url(#spot)" opacity="0.6"/>
</g></g>
<line x1="1422.8" y1="926.4" x2="1447.6" y2="926.4" stroke="#000" stroke-width="3.2"/>
<path d="M1444.6 918.9L1457.6 926.4L1444.6 933.9Z" fill="#000"/>
<line x1="1571.8" y1="926.4" x2="1597" y2="926.4" stroke="#000" stroke-width="3.2"/>
<path d="M1594 918.9L1607 926.4L1594 933.9Z" fill="#000"/>
<line x1="1724" y1="926.4" x2="1749.7" y2="926.4" stroke="#000" stroke-width="3.2"/>
<path d="M1746.7 918.9L1759.7 926.4L1746.7 933.9Z" fill="#000"/>
<text x="1358.7" y="850.3" font-size="20.4" text-anchor="middle" fill="#000">F0</text>
<text x="1358.7" y="869.3" font-size="16.3" text-anchor="middle" fill="#000">Normal</text>
<text x="1358.7" y="885.3" font-size="16.3" text-anchor="middle" fill="#000">liver</text>
<text x="1515" y="850.3" font-size="20.4" text-anchor="middle" fill="#000">F1</text>
<text x="1515" y="869.3" font-size="16.3" text-anchor="middle" fill="#000">Fatty liver and</text>
<text x="1515" y="885.3" font-size="16.3" text-anchor="middle" fill="#000">mild fibrosis</text>
<text x="1663.7" y="850.3" font-size="20.4" text-anchor="middle" fill="#000">F2</text>
<text x="1663.7" y="869.3" font-size="16.3" text-anchor="middle" fill="#000">Significant</text>
<text x="1663.7" y="885.3" font-size="16.3" text-anchor="middle" fill="#000">fibrosis</text>
<text x="1818.6" y="850.3" font-size="20.4" text-anchor="middle" fill="#000">F3/F4</text>
<text x="1818.6" y="869.3" font-size="16.3" text-anchor="middle" fill="#000">Advanced fibrosis/</text>
<text x="1818.6" y="885.3" font-size="16.3" text-anchor="middle" fill="#000">cirrhosis</text>
<text x="1457" y="1061.2" font-size="22.5" text-anchor="middle" fill="#000">F0</text>
<line x1="1443.8" y1="1166.3" x2="1443.8" y2="1270.5" stroke="#000" stroke-width="2.5"/>
<line x1="1437.8" y1="1166.3" x2="1449.8" y2="1166.3" stroke="#000" stroke-width="2.5"/>
<line x1="1437.8" y1="1270.5" x2="1449.8" y2="1270.5" stroke="#000" stroke-width="2.5"/>
<rect x="1432.1" y="1197.5" width="23.3" height="72.9" fill="#ffffff" stroke="#000" stroke-width="2.5"/>
<line x1="1432.1" y1="1228.8" x2="1455.5" y2="1228.8" stroke="#000" stroke-width="2.5"/>
<line x1="1473.3" y1="1166.3" x2="1473.3" y2="1333" stroke="#000" stroke-width="2.5"/>
<line x1="1467.3" y1="1166.3" x2="1479.3" y2="1166.3" stroke="#000" stroke-width="2.5"/>
<line x1="1467.3" y1="1333" x2="1479.3" y2="1333" stroke="#000" stroke-width="2.5"/>
<rect x="1461.6" y="1176.7" width="23.3" height="122.9" fill="#ffffff" stroke="#000" stroke-width="2.5"/>
<line x1="1461.6" y1="1249.6" x2="1485" y2="1249.6" stroke="#000" stroke-width="2.5"/>
<text x="1541.4" y="1061.2" font-size="22.5" text-anchor="middle" fill="#000">F1</text>
<line x1="1528.3" y1="1208" x2="1528.3" y2="1353.8" stroke="#000" stroke-width="2.5"/>
<line x1="1522.3" y1="1208" x2="1534.3" y2="1208" stroke="#000" stroke-width="2.5"/>
<line x1="1522.3" y1="1353.8" x2="1534.3" y2="1353.8" stroke="#000" stroke-width="2.5"/>
<rect x="1516.6" y="1245.5" width="23.3" height="77.1" fill="#fde1e4" stroke="#000" stroke-width="2.5"/>
<line x1="1516.6" y1="1291.3" x2="1540" y2="1291.3" stroke="#000" stroke-width="2.5"/>
<line x1="1557.8" y1="1187.1" x2="1557.8" y2="1353.8" stroke="#000" stroke-width="2.5"/>
<line x1="1551.8" y1="1187.1" x2="1563.8" y2="1187.1" stroke="#000" stroke-width="2.5"/>
<line x1="1551.8" y1="1353.8" x2="1563.8" y2="1353.8" stroke="#000" stroke-width="2.5"/>
<rect x="1546.1" y="1249.6" width="23.3" height="62.5" fill="#fde1e4" stroke="#000" stroke-width="2.5"/>
<line x1="1546.1" y1="1291.3" x2="1569.5" y2="1291.3" stroke="#000" stroke-width="2.5"/>
<text x="1627.2" y="1061.2" font-size="22.5" text-anchor="middle" fill="#000">F2</text>
<line x1="1612.4" y1="1103.8" x2="1612.4" y2="1374.6" stroke="#000" stroke-width="2.5"/>
<line x1="1606.4" y1="1103.8" x2="1618.4" y2="1103.8" stroke="#000" stroke-width="2.5"/>
<line x1="1606.4" y1="1374.6" x2="1618.4" y2="1374.6" stroke="#000" stroke-width="2.5"/>
<rect x="1600.8" y="1228.8" width="23.3" height="104.2" fill="#f9a3a3" stroke="#000" stroke-width="2.5"/>
<line x1="1600.8" y1="1291.3" x2="1624.1" y2="1291.3" stroke="#000" stroke-width="2.5"/>
<line x1="1641.9" y1="1166.3" x2="1641.9" y2="1333" stroke="#000" stroke-width="2.5"/>
<line x1="1635.9" y1="1166.3" x2="1647.9" y2="1166.3" stroke="#000" stroke-width="2.5"/>
<line x1="1635.9" y1="1333" x2="1647.9" y2="1333" stroke="#000" stroke-width="2.5"/>
<rect x="1630.2" y="1224.6" width="23.3" height="108.3" fill="#f9a3a3" stroke="#000" stroke-width="2.5"/>
<line x1="1630.2" y1="1249.6" x2="1653.6" y2="1249.6" stroke="#000" stroke-width="2.5"/>
<text x="1708.3" y="1061.2" font-size="22.5" text-anchor="middle" fill="#000">F3</text>
<line x1="1696.9" y1="1208" x2="1696.9" y2="1374.6" stroke="#000" stroke-width="2.5"/>
<line x1="1690.9" y1="1208" x2="1702.9" y2="1208" stroke="#000" stroke-width="2.5"/>
<line x1="1690.9" y1="1374.6" x2="1702.9" y2="1374.6" stroke="#000" stroke-width="2.5"/>
<rect x="1685.2" y="1270.5" width="23.3" height="62.5" fill="#f87e7e" stroke="#000" stroke-width="2.5"/>
<line x1="1685.2" y1="1291.3" x2="1708.6" y2="1291.3" stroke="#000" stroke-width="2.5"/>
<line x1="1726.3" y1="1208" x2="1726.3" y2="1395.5" stroke="#000" stroke-width="2.5"/>
<line x1="1720.3" y1="1208" x2="1732.3" y2="1208" stroke="#000" stroke-width="2.5"/>
<line x1="1720.3" y1="1395.5" x2="1732.3" y2="1395.5" stroke="#000" stroke-width="2.5"/>
<rect x="1714.6" y="1270.5" width="23.3" height="62.5" fill="#f87e7e" stroke="#000" stroke-width="2.5"/>
<line x1="1714.6" y1="1291.3" x2="1738" y2="1291.3" stroke="#000" stroke-width="2.5"/>
<text x="1793.1" y="1061.2" font-size="22.5" text-anchor="middle" fill="#000">F4</text>
<line x1="1781" y1="1208" x2="1781" y2="1395.5" stroke="#000" stroke-width="2.5"/>
<line x1="1775" y1="1208" x2="1787" y2="1208" stroke="#000" stroke-width="2.5"/>
<line x1="1775" y1="1395.5" x2="1787" y2="1395.5" stroke="#000" stroke-width="2.5"/>
<rect x="1769.3" y="1280.9" width="23.3" height="52.1" fill="#ee0a0a" stroke="#000" stroke-width="2.5"/>
<line x1="1769.3" y1="1312.1" x2="1792.7" y2="1312.1" stroke="#000" stroke-width="2.5"/>
<line x1="1809.8" y1="1228.8" x2="1809.8" y2="1353.8" stroke="#000" stroke-width="2.5"/>
<line x1="1803.8" y1="1228.8" x2="1815.8" y2="1228.8" stroke="#000" stroke-width="2.5"/>
<line x1="1803.8" y1="1353.8" x2="1815.8" y2="1353.8" stroke="#000" stroke-width="2.5"/>
<rect x="1798.1" y="1291.3" width="23.3" height="41.7" fill="#ee0a0a" stroke="#000" stroke-width="2.5"/>
<line x1="1798.1" y1="1312.1" x2="1821.5" y2="1312.1" stroke="#000" stroke-width="2.5"/>
<rect x="1419.3" y="999.6" width="416.7" height="416.7" fill="none" stroke="#000" stroke-width="1.5"/>
<line x1="1406.3" y1="1416.3" x2="1419.3" y2="1416.3" stroke="#000" stroke-width="1.5"/>
<text x="1401.3" y="1424.8" font-size="23.5" text-anchor="end" fill="#000">5.0</text>
<line x1="1406.3" y1="1312.1" x2="1419.3" y2="1312.1" stroke="#000" stroke-width="1.5"/>
<text x="1401.3" y="1320.6" font-size="23.5" text-anchor="end" fill="#000">5.5</text>
<line x1="1406.3" y1="1208" x2="1419.3" y2="1208" stroke="#000" stroke-width="1.5"/>
<text x="1401.3" y="1216.5" font-size="23.5" text-anchor="end" fill="#000">6.0</text>
<line x1="1406.3" y1="1103.8" x2="1419.3" y2="1103.8" stroke="#000" stroke-width="1.5"/>
<text x="1401.3" y="1112.3" font-size="23.5" text-anchor="end" fill="#000">6.5</text>
<line x1="1406.3" y1="999.6" x2="1419.3" y2="999.6" stroke="#000" stroke-width="1.5"/>
<text x="1401.3" y="1008.1" font-size="23.5" text-anchor="end" fill="#000">7.0</text>
<line x1="1443.8" y1="1416.3" x2="1443.8" y2="1429.3" stroke="#000" stroke-width="2"/>
<text x="1443.8" y="1456" font-size="22.5" text-anchor="middle" fill="#000">M</text>
<line x1="1473.3" y1="1416.3" x2="1473.3" y2="1429.3" stroke="#000" stroke-width="2"/>
<text x="1473.3" y="1456" font-size="22.5" text-anchor="middle" fill="#000">F</text>
<line x1="1528.3" y1="1416.3" x2="1528.3" y2="1429.3" stroke="#000" stroke-width="2"/>
<text x="1528.3" y="1456" font-size="22.5" text-anchor="middle" fill="#000">M</text>
<line x1="1557.8" y1="1416.3" x2="1557.8" y2="1429.3" stroke="#000" stroke-width="2"/>
<text x="1557.8" y="1456" font-size="22.5" text-anchor="middle" fill="#000">F</text>
<line x1="1612.4" y1="1416.3" x2="1612.4" y2="1429.3" stroke="#000" stroke-width="2"/>
<text x="1612.4" y="1456" font-size="22.5" text-anchor="middle" fill="#000">M</text>
<line x1="1641.9" y1="1416.3" x2="1641.9" y2="1429.3" stroke="#000" stroke-width="2"/>
<text x="1641.9" y="1456" font-size="22.5" text-anchor="middle" fill="#000">F</text>
<line x1="1696.9" y1="1416.3" x2="1696.9" y2="1429.3" stroke="#000" stroke-width="2"/>
<text x="1696.9" y="1456" font-size="22.5" text-anchor="middle" fill="#000">M</text>
<line x1="1726.3" y1="1416.3" x2="1726.3" y2="1429.3" stroke="#000" stroke-width="2"/>
<text x="1726.3" y="1456" font-size="22.5" text-anchor="middle" fill="#000">F</text>
<line x1="1781" y1="1416.3" x2="1781" y2="1429.3" stroke="#000" stroke-width="2"/>
<text x="1781" y="1456" font-size="22.5" text-anchor="middle" fill="#000">M</text>
<line x1="1809.8" y1="1416.3" x2="1809.8" y2="1429.3" stroke="#000" stroke-width="2"/>
<text x="1809.8" y="1456" font-size="22.5" text-anchor="middle" fill="#000">F</text>
<line x1="1522.4" y1="1172.5" x2="1563.3" y2="1172.5" stroke="#000" stroke-width="1.8"/>
<text x="1542.8" y="1166.6" font-size="12.3" text-anchor="middle" fill="#000">P = 0.02220</text>
<line x1="1692.6" y1="1192.1" x2="1733.5" y2="1192.1" stroke="#000" stroke-width="1.8"/>
<text x="1713" y="1185.6" font-size="12.3" text-anchor="middle" fill="#000">P = 0.00142</text>
<line x1="1779.4" y1="1195" x2="1820.3" y2="1195" stroke="#000" stroke-width="1.8"/>
<text x="1799.8" y="1188.5" font-size="12.3" text-anchor="middle" fill="#000">P = 0.00047</text>
<text transform="translate(1323,1203.4) rotate(-90)" font-size="24.7" text-anchor="middle" font-style="italic" fill="#000">TCF7L2 mRNA expression</text>
<text transform="translate(1354.5,1204.6) rotate(-90)" font-size="24.7" text-anchor="middle" font-style="italic" fill="#000">(Log<tspan font-size="16" dy="6">2</tspan><tspan dy="-6"> CPM)</tspan></text>
<text x="1848.6" y="1040.9" font-size="17.8" text-anchor="start" fill="#000">Fibrosis: P &lt; 0.001</text>
<text x="1848.6" y="1063.8" font-size="17.8" text-anchor="start" fill="#000">Sex: P = 0.822</text>
<text x="1848.6" y="1085.9" font-size="17.8" text-anchor="start" fill="#000">Interaction: P = 0.99567</text>
</svg></body></html>
